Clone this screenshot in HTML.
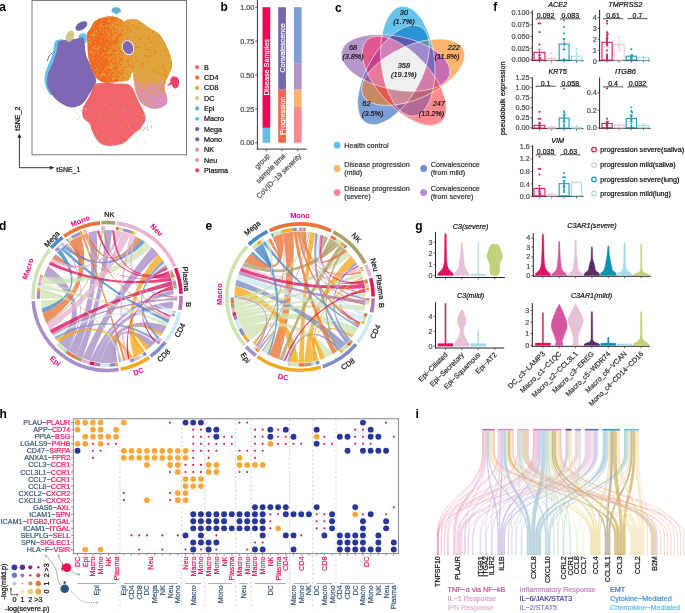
<!DOCTYPE html>
<html><head><meta charset="utf-8"><style>
html,body{margin:0;padding:0;background:#fff;width:685px;height:613px;overflow:hidden}
svg{display:block;will-change:transform}
text{font-family:"Liberation Sans", sans-serif}
</style></head><body>
<svg width="685" height="613" viewBox="0 0 685 613" font-family="Liberation Sans, sans-serif">
<text x="-0.80" y="10.70" font-size="12" fill="#000" font-weight="bold">a</text>
<rect x="32" y="0.5" width="154.5" height="154.3" fill="none" stroke="#7a7a7a" stroke-width="1"/>
<path d="M111.5,10.2 C111.7,9.5 112.3,8.5 113.0,8.0 C113.7,7.5 114.7,7.3 115.5,7.2 C116.3,7.1 117.2,7.2 118.0,7.6 C118.8,8.0 120.0,8.8 120.5,9.5 C121.0,10.2 121.3,10.9 121.0,11.5 C120.7,12.1 119.2,12.3 118.5,12.8 C117.8,13.3 117.2,14.3 116.5,14.3 C115.8,14.3 115.2,13.4 114.5,13.0 C113.8,12.6 112.5,12.5 112.0,12.0 C111.5,11.5 111.3,10.9 111.5,10.2Z" fill="#5BB1CE"/>
<ellipse cx="81.4" cy="26" rx="6.6" ry="3.9" transform="rotate(-32 81.4 26)" fill="#6A64AA"/>
<path d="M47.2,61 Q48.5,55 52.6,52.4" stroke="#6A64AA" stroke-width="1" fill="none"/>
<path d="M78.5,36.0 C79.0,34.9 82.2,33.1 83.5,33.0 C84.8,32.9 86.0,34.0 86.5,35.5 C87.0,37.0 86.9,40.8 86.5,42.0 C86.1,43.2 85.0,43.4 84.0,43.0 C83.0,42.6 81.4,40.7 80.5,39.5 C79.6,38.3 78.0,37.1 78.5,36.0Z" fill="#62C2EA"/>
<path d="M55.0,41.5 C56.1,39.8 58.6,39.8 60.0,39.5 C61.4,39.2 63.2,39.2 63.5,40.0 C63.8,40.8 62.8,42.8 62.0,44.5 C61.2,46.2 59.6,47.8 58.5,50.0 C57.4,52.2 56.5,55.3 55.5,58.0 C54.5,60.7 53.4,63.3 52.5,66.0 C51.6,68.7 50.5,71.5 50.0,74.0 C49.5,76.5 49.4,78.8 49.5,81.0 C49.6,83.2 49.9,85.0 50.5,87.0 C51.1,89.0 53.0,91.7 53.0,93.0 C53.0,94.3 51.6,95.8 50.5,95.0 C49.4,94.2 47.5,90.8 46.5,88.5 C45.5,86.2 44.9,83.4 44.6,81.0 C44.4,78.6 44.5,76.5 45.0,74.0 C45.5,71.5 46.8,68.7 47.8,66.0 C48.8,63.3 50.3,60.7 51.2,58.0 C52.1,55.3 52.8,52.8 53.4,50.0 C54.0,47.2 53.9,43.2 55.0,41.5Z" fill="#62C2EA"/>
<path d="M58.0,42.6 C58.8,41.0 60.5,41.1 62.0,40.6 C63.5,40.1 65.0,39.9 67.0,39.6 C69.0,39.3 72.2,39.2 74.0,39.0 C75.8,38.8 76.5,38.5 78.0,38.2 C79.5,38.0 81.9,36.7 83.0,37.5 C84.1,38.3 84.1,40.6 84.5,43.0 C84.9,45.4 85.0,49.3 85.5,52.0 C86.0,54.7 86.6,56.7 87.5,59.0 C88.4,61.3 89.9,63.7 91.0,66.0 C92.1,68.3 93.2,70.8 94.0,73.0 C94.8,75.2 95.8,77.5 96.0,79.5 C96.2,81.5 96.0,82.8 95.0,85.0 C94.0,87.2 91.7,90.3 90.0,93.0 C88.3,95.7 86.7,98.9 85.0,101.0 C83.3,103.1 81.8,104.4 79.6,105.5 C77.4,106.6 74.6,107.5 72.0,107.4 C69.4,107.3 66.7,106.3 64.0,105.0 C61.3,103.7 58.2,101.6 56.0,99.6 C53.8,97.6 52.4,95.2 51.0,93.0 C49.6,90.8 48.2,88.8 47.5,86.6 C46.8,84.4 46.9,82.2 47.0,80.0 C47.1,77.8 47.2,76.1 48.0,73.7 C48.8,71.3 50.4,68.4 51.5,65.7 C52.6,63.0 53.6,60.3 54.5,57.7 C55.4,55.1 56.4,52.5 57.0,50.0 C57.6,47.5 57.2,44.2 58.0,42.6Z" fill="#7D68B3"/>
<ellipse cx="70" cy="36.2" rx="3.9" ry="5.8" transform="rotate(22 70 36.2)" fill="#D3CC88"/>
<clipPath id="cdclip"><path d="M90.2,29.1 C91.3,27.2 92.6,23.8 93.7,22.3 C94.8,20.8 96.0,20.7 97.1,20.0 C98.2,19.3 98.3,18.9 100.4,18.3 C102.5,17.7 107.0,16.5 109.6,16.3 C112.2,16.1 114.1,16.4 116.1,17.0 C118.0,17.6 120.0,18.9 121.3,19.6 C122.6,20.4 122.9,21.5 124.0,21.5 C125.1,21.5 126.4,20.0 127.9,19.6 C129.4,19.2 131.6,18.9 133.1,18.9 C134.6,18.9 135.5,19.0 137.0,19.6 C138.5,20.2 140.2,21.5 142.2,22.8 C144.1,24.1 146.5,26.0 148.7,27.4 C150.9,28.8 153.3,30.0 155.3,31.3 C157.3,32.6 159.0,33.5 160.5,35.2 C162.0,37.0 163.1,39.4 164.4,41.8 C165.7,44.2 167.1,46.6 168.3,49.6 C169.5,52.6 170.8,56.9 171.4,59.6 C172.0,62.4 172.2,63.9 172.0,66.1 C171.8,68.3 170.8,70.6 170.0,72.6 C169.2,74.6 168.2,75.9 167.4,77.9 C166.6,79.9 165.5,82.5 165.0,84.4 C164.5,86.4 164.2,87.6 164.5,89.6 C164.8,91.5 166.4,94.1 166.8,96.1 C167.2,98.1 167.5,99.9 167.2,101.4 C166.9,102.9 166.1,104.2 164.8,105.3 C163.5,106.4 161.6,107.4 159.6,107.9 C157.6,108.4 155.0,108.6 153.1,108.5 C151.2,108.4 149.7,108.0 147.9,107.2 C146.2,106.5 144.1,105.4 142.6,104.0 C141.1,102.6 139.8,100.7 138.7,98.7 C137.6,96.7 136.8,94.6 136.1,92.2 C135.4,89.8 134.9,86.6 134.5,84.4 C134.1,82.2 134.0,81.0 133.8,79.2 C133.6,77.5 133.7,75.1 133.5,73.9 C133.3,72.7 133.0,71.7 132.6,71.8 C132.2,71.9 131.8,73.3 131.3,74.5 C130.8,75.7 130.5,78.1 129.6,79.2 C128.7,80.3 127.7,80.7 125.7,81.1 C123.7,81.5 120.4,81.5 117.8,81.8 C115.2,82.1 112.3,82.7 110.0,82.8 C107.7,82.9 106.0,82.8 104.0,82.2 C102.0,81.6 99.9,80.8 98.2,79.4 C96.5,78.0 95.0,76.0 93.7,73.7 C92.4,71.4 91.2,68.9 90.2,65.7 C89.2,62.5 88.5,58.1 88.0,54.3 C87.5,50.5 87.6,46.2 87.4,42.8 C87.2,39.4 86.5,36.0 87.0,33.7 C87.5,31.4 89.1,31.0 90.2,29.1Z"/></clipPath>
<linearGradient id="cdgrad" gradientUnits="userSpaceOnUse" x1="104" y1="0" x2="132" y2="0"><stop offset="0" stop-color="#F06B1F"/><stop offset="0.5" stop-color="#E98A2E"/><stop offset="1" stop-color="#DFA53B"/></linearGradient>
<path d="M90.2,29.1 C91.3,27.2 92.6,23.8 93.7,22.3 C94.8,20.8 96.0,20.7 97.1,20.0 C98.2,19.3 98.3,18.9 100.4,18.3 C102.5,17.7 107.0,16.5 109.6,16.3 C112.2,16.1 114.1,16.4 116.1,17.0 C118.0,17.6 120.0,18.9 121.3,19.6 C122.6,20.4 122.9,21.5 124.0,21.5 C125.1,21.5 126.4,20.0 127.9,19.6 C129.4,19.2 131.6,18.9 133.1,18.9 C134.6,18.9 135.5,19.0 137.0,19.6 C138.5,20.2 140.2,21.5 142.2,22.8 C144.1,24.1 146.5,26.0 148.7,27.4 C150.9,28.8 153.3,30.0 155.3,31.3 C157.3,32.6 159.0,33.5 160.5,35.2 C162.0,37.0 163.1,39.4 164.4,41.8 C165.7,44.2 167.1,46.6 168.3,49.6 C169.5,52.6 170.8,56.9 171.4,59.6 C172.0,62.4 172.2,63.9 172.0,66.1 C171.8,68.3 170.8,70.6 170.0,72.6 C169.2,74.6 168.2,75.9 167.4,77.9 C166.6,79.9 165.5,82.5 165.0,84.4 C164.5,86.4 164.2,87.6 164.5,89.6 C164.8,91.5 166.4,94.1 166.8,96.1 C167.2,98.1 167.5,99.9 167.2,101.4 C166.9,102.9 166.1,104.2 164.8,105.3 C163.5,106.4 161.6,107.4 159.6,107.9 C157.6,108.4 155.0,108.6 153.1,108.5 C151.2,108.4 149.7,108.0 147.9,107.2 C146.2,106.5 144.1,105.4 142.6,104.0 C141.1,102.6 139.8,100.7 138.7,98.7 C137.6,96.7 136.8,94.6 136.1,92.2 C135.4,89.8 134.9,86.6 134.5,84.4 C134.1,82.2 134.0,81.0 133.8,79.2 C133.6,77.5 133.7,75.1 133.5,73.9 C133.3,72.7 133.0,71.7 132.6,71.8 C132.2,71.9 131.8,73.3 131.3,74.5 C130.8,75.7 130.5,78.1 129.6,79.2 C128.7,80.3 127.7,80.7 125.7,81.1 C123.7,81.5 120.4,81.5 117.8,81.8 C115.2,82.1 112.3,82.7 110.0,82.8 C107.7,82.9 106.0,82.8 104.0,82.2 C102.0,81.6 99.9,80.8 98.2,79.4 C96.5,78.0 95.0,76.0 93.7,73.7 C92.4,71.4 91.2,68.9 90.2,65.7 C89.2,62.5 88.5,58.1 88.0,54.3 C87.5,50.5 87.6,46.2 87.4,42.8 C87.2,39.4 86.5,36.0 87.0,33.7 C87.5,31.4 89.1,31.0 90.2,29.1Z" fill="url(#cdgrad)"/>
<g clip-path="url(#cdclip)">
<path d="M104.3,61.3h1.2v1.2h-1.2zM155.8,71.2h1.0v1.0h-1.0zM116.1,79.3h1.2v1.2h-1.2zM166.6,54.5h1.4v1.4h-1.4zM94.7,74.8h1.4v1.4h-1.4zM96.5,46.6h1.4v1.4h-1.4zM129.6,106.9h1.4v1.4h-1.4zM144.3,43.8h1.4v1.4h-1.4zM89.0,38.1h1.2v1.2h-1.2zM101.1,67.1h1.4v1.4h-1.4zM100.7,36.6h1.0v1.0h-1.0zM115.9,95.5h1.2v1.2h-1.2zM97.2,88.9h1.0v1.0h-1.0zM90.9,97.7h1.4v1.4h-1.4zM86.1,66.3h1.4v1.4h-1.4zM100.6,39.2h1.0v1.0h-1.0zM155.3,39.5h1.2v1.2h-1.2zM123.1,94.1h1.4v1.4h-1.4zM91.1,43.4h1.0v1.0h-1.0zM112.7,96.6h1.2v1.2h-1.2zM86.7,98.5h1.0v1.0h-1.0zM103.5,46.1h1.4v1.4h-1.4zM115.6,42.7h1.4v1.4h-1.4zM95.1,18.7h1.0v1.0h-1.0zM111.7,65.8h1.0v1.0h-1.0zM88.4,89.8h1.2v1.2h-1.2zM104.7,73.7h1.4v1.4h-1.4zM112.7,38.4h1.0v1.0h-1.0zM93.8,86.6h1.0v1.0h-1.0zM142.0,104.4h1.2v1.2h-1.2zM89.6,32.7h1.4v1.4h-1.4zM112.3,46.8h1.4v1.4h-1.4zM107.2,21.9h1.4v1.4h-1.4zM153.7,46.2h1.4v1.4h-1.4zM101.1,88.7h1.0v1.0h-1.0zM113.8,25.2h1.4v1.4h-1.4zM140.2,78.9h1.4v1.4h-1.4zM108.5,93.7h1.2v1.2h-1.2zM132.0,62.6h1.4v1.4h-1.4zM115.3,73.1h1.4v1.4h-1.4zM109.9,76.4h1.0v1.0h-1.0zM112.1,67.5h1.0v1.0h-1.0zM150.1,71.5h1.0v1.0h-1.0zM123.1,104.5h1.4v1.4h-1.4zM90.5,79.8h1.4v1.4h-1.4zM119.4,95.3h1.4v1.4h-1.4zM89.5,108.2h1.2v1.2h-1.2zM109.3,101.7h1.0v1.0h-1.0zM124.7,102.8h1.2v1.2h-1.2zM119.3,42.0h1.0v1.0h-1.0zM88.1,69.1h1.0v1.0h-1.0zM115.5,84.5h1.4v1.4h-1.4zM172.6,75.4h1.4v1.4h-1.4zM131.0,104.1h1.4v1.4h-1.4zM112.6,31.2h1.4v1.4h-1.4zM103.2,65.0h1.4v1.4h-1.4zM87.8,83.5h1.0v1.0h-1.0zM156.9,72.5h1.2v1.2h-1.2zM100.3,82.5h1.0v1.0h-1.0zM92.5,93.9h1.4v1.4h-1.4zM102.5,74.5h1.0v1.0h-1.0zM98.0,83.0h1.2v1.2h-1.2zM129.0,65.2h1.4v1.4h-1.4zM104.6,22.5h1.0v1.0h-1.0zM111.0,33.6h1.0v1.0h-1.0zM98.6,78.2h1.0v1.0h-1.0zM108.1,22.6h1.4v1.4h-1.4zM97.2,103.7h1.0v1.0h-1.0zM102.5,62.5h1.0v1.0h-1.0zM114.7,40.5h1.2v1.2h-1.2zM91.3,48.6h1.2v1.2h-1.2zM170.9,29.3h1.0v1.0h-1.0zM160.1,20.0h1.0v1.0h-1.0zM130.6,62.6h1.0v1.0h-1.0zM89.5,65.5h1.2v1.2h-1.2zM97.0,21.2h1.2v1.2h-1.2zM109.7,86.1h1.4v1.4h-1.4zM147.2,85.9h1.2v1.2h-1.2zM107.8,36.0h1.0v1.0h-1.0zM102.1,54.1h1.4v1.4h-1.4zM95.3,39.9h1.4v1.4h-1.4zM101.1,96.9h1.0v1.0h-1.0zM103.4,61.9h1.0v1.0h-1.0zM86.7,65.5h1.2v1.2h-1.2zM128.4,53.4h1.4v1.4h-1.4zM96.4,43.8h1.4v1.4h-1.4zM86.8,55.3h1.4v1.4h-1.4zM118.0,53.2h1.4v1.4h-1.4zM144.3,100.4h1.0v1.0h-1.0zM119.4,59.1h1.2v1.2h-1.2zM172.6,92.3h1.2v1.2h-1.2zM115.2,101.8h1.0v1.0h-1.0zM88.3,39.1h1.2v1.2h-1.2zM94.6,76.7h1.0v1.0h-1.0zM93.8,73.1h1.0v1.0h-1.0zM132.5,47.9h1.4v1.4h-1.4zM95.0,67.5h1.2v1.2h-1.2zM127.7,90.4h1.0v1.0h-1.0zM124.9,79.8h1.2v1.2h-1.2zM128.8,100.0h1.4v1.4h-1.4zM151.9,84.3h1.2v1.2h-1.2zM108.3,53.7h1.4v1.4h-1.4zM109.2,35.4h1.2v1.2h-1.2zM107.0,31.7h1.0v1.0h-1.0zM114.4,80.6h1.4v1.4h-1.4zM114.7,27.2h1.0v1.0h-1.0zM150.6,41.6h1.4v1.4h-1.4zM94.0,109.9h1.2v1.2h-1.2zM124.8,27.6h1.0v1.0h-1.0zM98.3,98.5h1.0v1.0h-1.0zM155.7,87.9h1.2v1.2h-1.2zM99.9,95.7h1.2v1.2h-1.2zM144.0,90.9h1.4v1.4h-1.4zM135.4,107.0h1.2v1.2h-1.2zM89.5,81.9h1.2v1.2h-1.2zM116.1,77.5h1.0v1.0h-1.0zM96.6,70.4h1.2v1.2h-1.2zM105.8,38.6h1.2v1.2h-1.2zM120.7,26.4h1.2v1.2h-1.2zM118.8,62.7h1.2v1.2h-1.2zM99.4,64.8h1.0v1.0h-1.0zM87.6,52.7h1.4v1.4h-1.4zM86.5,91.4h1.2v1.2h-1.2zM89.5,64.0h1.0v1.0h-1.0zM120.6,59.2h1.4v1.4h-1.4zM119.7,68.2h1.4v1.4h-1.4zM137.8,108.7h1.4v1.4h-1.4zM103.5,92.6h1.2v1.2h-1.2zM108.6,41.6h1.0v1.0h-1.0zM140.1,84.4h1.2v1.2h-1.2zM126.7,29.2h1.0v1.0h-1.0zM105.7,21.7h1.4v1.4h-1.4zM103.3,55.8h1.0v1.0h-1.0zM105.6,82.4h1.2v1.2h-1.2zM90.5,89.2h1.0v1.0h-1.0zM100.6,78.7h1.4v1.4h-1.4zM157.6,66.2h1.2v1.2h-1.2zM94.2,79.4h1.0v1.0h-1.0zM102.5,63.4h1.4v1.4h-1.4zM106.2,77.6h1.4v1.4h-1.4zM158.6,31.8h1.0v1.0h-1.0zM120.8,63.6h1.4v1.4h-1.4zM120.3,101.0h1.2v1.2h-1.2zM112.5,86.1h1.0v1.0h-1.0zM134.3,109.7h1.0v1.0h-1.0zM92.5,100.1h1.0v1.0h-1.0zM130.3,93.0h1.2v1.2h-1.2zM107.5,90.1h1.2v1.2h-1.2zM94.6,83.6h1.0v1.0h-1.0zM112.2,98.0h1.0v1.0h-1.0zM92.5,45.0h1.2v1.2h-1.2zM97.6,57.0h1.2v1.2h-1.2zM89.2,109.0h1.2v1.2h-1.2zM140.8,65.0h1.0v1.0h-1.0zM103.2,25.9h1.0v1.0h-1.0zM90.8,106.4h1.2v1.2h-1.2zM171.4,18.1h1.2v1.2h-1.2zM89.5,36.9h1.0v1.0h-1.0zM127.2,17.2h1.0v1.0h-1.0zM143.3,69.9h1.4v1.4h-1.4zM113.0,72.4h1.0v1.0h-1.0zM146.9,102.9h1.4v1.4h-1.4zM98.6,96.9h1.0v1.0h-1.0zM106.2,106.4h1.4v1.4h-1.4zM117.8,42.9h1.2v1.2h-1.2zM170.7,92.0h1.0v1.0h-1.0zM133.7,41.2h1.0v1.0h-1.0zM161.7,86.1h1.4v1.4h-1.4zM144.5,55.2h1.4v1.4h-1.4zM91.8,15.9h1.4v1.4h-1.4zM103.4,43.1h1.4v1.4h-1.4zM163.3,32.4h1.2v1.2h-1.2zM112.5,91.6h1.0v1.0h-1.0zM93.8,34.0h1.0v1.0h-1.0zM96.4,34.2h1.4v1.4h-1.4zM110.9,39.0h1.2v1.2h-1.2zM117.1,87.6h1.4v1.4h-1.4zM107.3,93.9h1.2v1.2h-1.2zM124.0,41.3h1.2v1.2h-1.2zM110.1,59.9h1.0v1.0h-1.0zM133.8,99.2h1.0v1.0h-1.0zM89.0,19.5h1.0v1.0h-1.0zM150.0,49.8h1.2v1.2h-1.2zM117.3,19.7h1.2v1.2h-1.2zM113.1,63.5h1.4v1.4h-1.4zM97.6,34.8h1.0v1.0h-1.0zM102.0,89.4h1.0v1.0h-1.0zM163.4,67.4h1.0v1.0h-1.0zM113.7,85.4h1.4v1.4h-1.4zM143.3,96.6h1.0v1.0h-1.0zM108.0,44.1h1.2v1.2h-1.2zM94.2,48.9h1.4v1.4h-1.4zM107.5,85.4h1.0v1.0h-1.0zM127.0,61.0h1.2v1.2h-1.2zM116.7,37.6h1.4v1.4h-1.4zM97.7,103.4h1.0v1.0h-1.0zM142.9,63.4h1.2v1.2h-1.2zM96.7,39.9h1.0v1.0h-1.0zM101.7,101.6h1.4v1.4h-1.4zM106.4,82.1h1.2v1.2h-1.2zM109.8,98.4h1.0v1.0h-1.0zM90.7,59.5h1.2v1.2h-1.2zM130.2,30.6h1.4v1.4h-1.4zM113.8,48.2h1.0v1.0h-1.0zM105.6,92.0h1.0v1.0h-1.0zM90.6,29.4h1.2v1.2h-1.2zM96.7,45.3h1.2v1.2h-1.2zM121.5,29.6h1.4v1.4h-1.4zM124.0,66.5h1.4v1.4h-1.4zM136.9,27.3h1.0v1.0h-1.0zM146.3,71.3h1.0v1.0h-1.0zM93.8,65.6h1.4v1.4h-1.4zM104.2,82.3h1.2v1.2h-1.2zM109.2,64.3h1.0v1.0h-1.0zM156.8,88.3h1.0v1.0h-1.0zM114.9,57.3h1.4v1.4h-1.4zM98.6,37.8h1.0v1.0h-1.0zM106.5,88.3h1.2v1.2h-1.2zM97.2,102.4h1.2v1.2h-1.2zM116.4,94.9h1.0v1.0h-1.0zM96.8,105.3h1.0v1.0h-1.0zM91.8,90.7h1.4v1.4h-1.4zM105.0,101.4h1.2v1.2h-1.2zM91.5,29.0h1.0v1.0h-1.0zM108.5,94.7h1.4v1.4h-1.4zM98.1,62.7h1.0v1.0h-1.0zM114.3,50.3h1.4v1.4h-1.4zM132.8,88.1h1.4v1.4h-1.4zM94.5,45.6h1.4v1.4h-1.4zM99.1,97.2h1.0v1.0h-1.0zM141.4,93.2h1.2v1.2h-1.2zM122.1,104.4h1.4v1.4h-1.4zM91.2,21.4h1.2v1.2h-1.2zM104.9,39.5h1.4v1.4h-1.4zM108.8,90.3h1.2v1.2h-1.2zM115.1,38.6h1.2v1.2h-1.2zM101.5,49.1h1.4v1.4h-1.4zM127.7,55.1h1.4v1.4h-1.4zM95.3,89.3h1.0v1.0h-1.0zM132.8,39.7h1.4v1.4h-1.4zM88.1,77.8h1.0v1.0h-1.0zM136.7,27.3h1.4v1.4h-1.4zM126.9,49.0h1.2v1.2h-1.2zM104.9,105.9h1.2v1.2h-1.2zM114.1,43.7h1.0v1.0h-1.0zM107.0,30.3h1.2v1.2h-1.2zM104.8,90.1h1.4v1.4h-1.4zM116.4,42.3h1.0v1.0h-1.0zM164.8,74.2h1.4v1.4h-1.4zM105.8,60.1h1.4v1.4h-1.4zM86.8,28.1h1.0v1.0h-1.0zM113.9,69.8h1.4v1.4h-1.4zM113.7,18.9h1.2v1.2h-1.2zM89.0,67.8h1.4v1.4h-1.4zM105.5,27.1h1.4v1.4h-1.4zM172.4,68.8h1.2v1.2h-1.2zM100.5,80.3h1.4v1.4h-1.4zM107.2,86.2h1.0v1.0h-1.0zM108.2,42.2h1.0v1.0h-1.0zM89.2,44.5h1.4v1.4h-1.4zM148.4,47.1h1.2v1.2h-1.2zM106.7,106.9h1.2v1.2h-1.2zM89.5,45.4h1.2v1.2h-1.2zM89.5,95.1h1.2v1.2h-1.2zM88.1,59.9h1.4v1.4h-1.4zM100.1,55.9h1.4v1.4h-1.4zM121.9,60.7h1.2v1.2h-1.2zM117.2,66.7h1.4v1.4h-1.4zM147.7,52.0h1.2v1.2h-1.2zM101.0,24.0h1.4v1.4h-1.4zM124.1,47.2h1.2v1.2h-1.2zM99.1,20.0h1.2v1.2h-1.2zM91.9,71.3h1.2v1.2h-1.2zM170.4,28.8h1.4v1.4h-1.4zM140.4,65.5h1.2v1.2h-1.2zM106.3,73.6h1.4v1.4h-1.4zM120.8,61.5h1.4v1.4h-1.4zM137.9,47.1h1.2v1.2h-1.2zM93.1,73.0h1.0v1.0h-1.0zM91.7,32.4h1.0v1.0h-1.0zM121.0,66.5h1.2v1.2h-1.2zM162.9,89.7h1.4v1.4h-1.4zM120.2,108.8h1.4v1.4h-1.4zM108.2,15.8h1.0v1.0h-1.0zM166.4,95.0h1.2v1.2h-1.2zM116.2,19.8h1.2v1.2h-1.2zM114.4,96.3h1.4v1.4h-1.4zM110.5,44.0h1.4v1.4h-1.4zM99.5,25.8h1.2v1.2h-1.2zM104.4,102.6h1.0v1.0h-1.0zM111.7,63.9h1.0v1.0h-1.0zM106.0,84.9h1.2v1.2h-1.2zM95.4,53.5h1.0v1.0h-1.0zM109.7,94.6h1.2v1.2h-1.2zM115.8,101.4h1.0v1.0h-1.0zM108.6,101.3h1.0v1.0h-1.0zM86.4,52.3h1.4v1.4h-1.4zM99.3,70.8h1.2v1.2h-1.2zM120.3,24.4h1.4v1.4h-1.4zM112.0,30.2h1.2v1.2h-1.2zM115.1,29.2h1.2v1.2h-1.2zM124.4,77.4h1.2v1.2h-1.2zM89.5,90.5h1.4v1.4h-1.4zM93.3,46.8h1.4v1.4h-1.4zM100.4,18.7h1.2v1.2h-1.2zM122.5,52.5h1.2v1.2h-1.2zM111.9,20.1h1.0v1.0h-1.0zM86.9,62.8h1.0v1.0h-1.0zM115.6,39.4h1.4v1.4h-1.4zM92.3,89.1h1.4v1.4h-1.4zM105.3,73.1h1.4v1.4h-1.4zM108.4,107.4h1.0v1.0h-1.0zM109.1,69.9h1.2v1.2h-1.2zM105.0,96.7h1.4v1.4h-1.4zM95.2,41.2h1.4v1.4h-1.4zM160.6,73.7h1.2v1.2h-1.2zM92.6,61.9h1.2v1.2h-1.2zM89.5,47.0h1.0v1.0h-1.0zM165.0,55.2h1.2v1.2h-1.2zM120.1,99.4h1.0v1.0h-1.0zM100.0,47.0h1.2v1.2h-1.2zM138.9,25.7h1.0v1.0h-1.0zM94.3,48.0h1.4v1.4h-1.4zM153.0,30.8h1.4v1.4h-1.4zM107.7,27.5h1.2v1.2h-1.2zM104.7,103.6h1.4v1.4h-1.4zM97.1,83.2h1.4v1.4h-1.4zM152.6,27.4h1.0v1.0h-1.0zM100.0,54.6h1.2v1.2h-1.2zM92.3,29.4h1.0v1.0h-1.0zM147.0,29.0h1.2v1.2h-1.2zM172.3,86.4h1.4v1.4h-1.4zM135.3,56.2h1.4v1.4h-1.4zM96.2,99.0h1.4v1.4h-1.4zM105.5,79.2h1.2v1.2h-1.2zM135.3,32.4h1.0v1.0h-1.0zM105.7,55.3h1.0v1.0h-1.0zM142.2,78.3h1.2v1.2h-1.2zM89.1,95.5h1.0v1.0h-1.0zM89.3,53.9h1.2v1.2h-1.2zM100.7,33.7h1.4v1.4h-1.4zM133.3,90.2h1.4v1.4h-1.4zM87.6,32.3h1.2v1.2h-1.2zM162.7,97.1h1.0v1.0h-1.0zM99.2,89.2h1.4v1.4h-1.4zM88.9,41.4h1.2v1.2h-1.2zM116.4,99.0h1.0v1.0h-1.0zM86.7,36.8h1.0v1.0h-1.0zM100.1,99.1h1.2v1.2h-1.2zM114.6,68.2h1.2v1.2h-1.2zM147.4,56.0h1.2v1.2h-1.2zM100.4,73.7h1.2v1.2h-1.2zM107.9,52.2h1.2v1.2h-1.2zM134.6,69.1h1.0v1.0h-1.0zM91.5,83.7h1.2v1.2h-1.2zM106.7,82.4h1.4v1.4h-1.4zM108.3,107.4h1.2v1.2h-1.2zM89.7,20.9h1.4v1.4h-1.4zM86.8,59.6h1.0v1.0h-1.0zM104.3,59.0h1.0v1.0h-1.0zM92.4,43.6h1.4v1.4h-1.4zM148.7,92.4h1.2v1.2h-1.2zM160.1,59.0h1.0v1.0h-1.0zM87.2,40.5h1.2v1.2h-1.2zM104.7,20.9h1.4v1.4h-1.4zM89.9,88.7h1.4v1.4h-1.4zM97.7,82.2h1.2v1.2h-1.2zM105.0,109.2h1.0v1.0h-1.0zM136.2,60.0h1.2v1.2h-1.2zM111.0,109.3h1.0v1.0h-1.0zM123.5,85.2h1.2v1.2h-1.2zM95.6,20.5h1.4v1.4h-1.4zM110.7,74.6h1.2v1.2h-1.2zM109.8,102.4h1.4v1.4h-1.4zM88.4,107.0h1.0v1.0h-1.0zM88.8,53.9h1.4v1.4h-1.4zM117.5,71.3h1.2v1.2h-1.2zM94.8,104.5h1.4v1.4h-1.4zM93.4,61.0h1.4v1.4h-1.4zM139.1,86.0h1.4v1.4h-1.4zM99.5,52.1h1.4v1.4h-1.4zM137.6,79.6h1.2v1.2h-1.2zM99.3,72.1h1.4v1.4h-1.4zM104.1,96.5h1.2v1.2h-1.2zM143.6,48.8h1.4v1.4h-1.4zM115.0,102.7h1.0v1.0h-1.0zM90.9,53.7h1.4v1.4h-1.4zM103.6,97.4h1.0v1.0h-1.0zM89.8,30.1h1.0v1.0h-1.0zM102.7,22.4h1.2v1.2h-1.2zM157.8,43.3h1.0v1.0h-1.0zM98.1,93.6h1.4v1.4h-1.4zM118.1,34.9h1.4v1.4h-1.4zM103.4,85.1h1.4v1.4h-1.4zM117.7,36.6h1.0v1.0h-1.0zM114.8,53.7h1.2v1.2h-1.2zM171.5,44.4h1.2v1.2h-1.2zM106.2,17.7h1.0v1.0h-1.0zM87.3,84.2h1.0v1.0h-1.0zM91.4,37.9h1.0v1.0h-1.0zM151.0,53.1h1.2v1.2h-1.2zM93.2,105.9h1.4v1.4h-1.4zM150.7,46.3h1.2v1.2h-1.2zM87.0,96.2h1.2v1.2h-1.2zM109.8,78.6h1.4v1.4h-1.4zM90.5,45.2h1.4v1.4h-1.4zM170.6,21.0h1.2v1.2h-1.2zM97.8,75.1h1.0v1.0h-1.0zM90.0,48.8h1.4v1.4h-1.4zM97.6,60.4h1.4v1.4h-1.4zM108.0,106.3h1.2v1.2h-1.2zM111.6,91.5h1.2v1.2h-1.2zM92.1,67.6h1.4v1.4h-1.4zM105.2,16.0h1.4v1.4h-1.4zM93.0,40.0h1.4v1.4h-1.4zM89.2,22.6h1.0v1.0h-1.0zM123.6,97.2h1.2v1.2h-1.2zM156.9,39.5h1.2v1.2h-1.2zM163.3,102.3h1.0v1.0h-1.0zM99.0,61.1h1.0v1.0h-1.0zM116.0,76.5h1.4v1.4h-1.4zM104.0,105.1h1.4v1.4h-1.4zM110.0,79.3h1.2v1.2h-1.2zM90.8,24.9h1.2v1.2h-1.2zM146.3,109.6h1.0v1.0h-1.0zM92.0,40.5h1.2v1.2h-1.2zM114.7,79.3h1.4v1.4h-1.4zM122.3,52.5h1.2v1.2h-1.2zM97.6,72.4h1.2v1.2h-1.2zM88.4,37.8h1.4v1.4h-1.4zM98.7,37.5h1.0v1.0h-1.0zM158.4,35.2h1.4v1.4h-1.4zM160.2,25.3h1.4v1.4h-1.4zM97.2,64.5h1.4v1.4h-1.4zM133.6,38.9h1.0v1.0h-1.0zM129.5,66.0h1.0v1.0h-1.0zM110.3,60.0h1.4v1.4h-1.4zM102.3,19.1h1.4v1.4h-1.4zM101.7,99.6h1.2v1.2h-1.2zM106.1,90.1h1.4v1.4h-1.4zM100.3,74.1h1.2v1.2h-1.2zM92.8,29.2h1.0v1.0h-1.0zM111.0,27.1h1.4v1.4h-1.4zM167.2,36.8h1.2v1.2h-1.2zM122.5,25.9h1.0v1.0h-1.0zM113.2,50.1h1.0v1.0h-1.0zM162.9,74.8h1.0v1.0h-1.0zM107.2,43.6h1.4v1.4h-1.4zM120.3,35.2h1.2v1.2h-1.2zM156.3,75.0h1.0v1.0h-1.0zM110.7,107.4h1.0v1.0h-1.0zM113.6,68.0h1.0v1.0h-1.0zM121.1,20.1h1.0v1.0h-1.0zM135.1,36.1h1.2v1.2h-1.2zM121.7,86.5h1.4v1.4h-1.4zM98.8,47.2h1.0v1.0h-1.0zM131.9,55.3h1.0v1.0h-1.0zM87.0,91.6h1.0v1.0h-1.0zM94.6,40.9h1.0v1.0h-1.0zM102.0,57.3h1.2v1.2h-1.2zM89.4,78.7h1.2v1.2h-1.2zM116.2,92.4h1.4v1.4h-1.4zM95.0,40.6h1.2v1.2h-1.2zM94.0,52.3h1.4v1.4h-1.4zM111.4,72.5h1.0v1.0h-1.0zM146.9,60.8h1.4v1.4h-1.4zM91.6,98.9h1.0v1.0h-1.0zM107.8,75.2h1.4v1.4h-1.4zM115.0,51.4h1.0v1.0h-1.0zM125.2,46.1h1.2v1.2h-1.2zM91.6,109.2h1.2v1.2h-1.2zM86.4,78.0h1.0v1.0h-1.0zM120.1,77.3h1.0v1.0h-1.0zM91.4,96.7h1.4v1.4h-1.4zM109.3,89.6h1.2v1.2h-1.2zM109.7,72.5h1.2v1.2h-1.2zM154.2,50.2h1.2v1.2h-1.2zM100.0,43.5h1.2v1.2h-1.2zM102.5,108.9h1.2v1.2h-1.2zM91.0,29.0h1.2v1.2h-1.2zM148.3,37.3h1.2v1.2h-1.2zM96.7,22.0h1.2v1.2h-1.2zM130.6,72.1h1.0v1.0h-1.0zM95.2,75.4h1.4v1.4h-1.4zM130.2,105.5h1.2v1.2h-1.2zM88.9,52.4h1.2v1.2h-1.2zM167.3,77.6h1.4v1.4h-1.4zM133.0,79.3h1.4v1.4h-1.4zM113.2,36.6h1.2v1.2h-1.2zM114.7,69.9h1.0v1.0h-1.0zM107.8,16.2h1.2v1.2h-1.2zM170.1,25.7h1.2v1.2h-1.2zM119.6,64.2h1.4v1.4h-1.4zM128.0,22.8h1.0v1.0h-1.0zM91.3,33.7h1.2v1.2h-1.2zM90.2,33.3h1.2v1.2h-1.2zM164.1,42.1h1.0v1.0h-1.0zM90.5,72.6h1.2v1.2h-1.2zM106.9,104.9h1.4v1.4h-1.4zM164.5,74.8h1.2v1.2h-1.2zM107.2,61.0h1.2v1.2h-1.2zM112.9,105.6h1.0v1.0h-1.0zM107.0,99.2h1.4v1.4h-1.4zM157.8,16.4h1.2v1.2h-1.2zM103.9,102.5h1.2v1.2h-1.2zM126.6,41.7h1.2v1.2h-1.2zM116.7,19.0h1.4v1.4h-1.4zM101.6,89.0h1.2v1.2h-1.2zM123.1,52.8h1.2v1.2h-1.2zM97.5,19.2h1.4v1.4h-1.4zM122.0,80.0h1.4v1.4h-1.4zM91.4,52.3h1.2v1.2h-1.2zM106.4,53.4h1.0v1.0h-1.0zM106.2,62.2h1.2v1.2h-1.2zM165.5,44.8h1.0v1.0h-1.0zM118.4,49.4h1.0v1.0h-1.0zM119.4,82.9h1.0v1.0h-1.0zM97.1,37.8h1.0v1.0h-1.0zM92.2,106.6h1.4v1.4h-1.4zM89.9,26.0h1.0v1.0h-1.0zM120.2,92.9h1.2v1.2h-1.2zM117.2,17.0h1.4v1.4h-1.4zM99.0,70.3h1.0v1.0h-1.0zM128.6,104.6h1.4v1.4h-1.4zM114.1,39.9h1.0v1.0h-1.0zM97.4,107.3h1.2v1.2h-1.2zM153.5,63.4h1.2v1.2h-1.2zM159.7,109.6h1.0v1.0h-1.0zM169.6,83.9h1.4v1.4h-1.4zM139.8,69.2h1.4v1.4h-1.4zM94.3,26.4h1.4v1.4h-1.4zM95.8,107.2h1.2v1.2h-1.2zM125.2,25.6h1.0v1.0h-1.0zM107.9,63.9h1.2v1.2h-1.2zM99.3,68.8h1.0v1.0h-1.0zM108.3,85.1h1.4v1.4h-1.4zM91.9,26.6h1.2v1.2h-1.2zM89.7,52.8h1.2v1.2h-1.2zM129.4,34.9h1.4v1.4h-1.4zM123.8,91.0h1.0v1.0h-1.0zM102.4,50.7h1.2v1.2h-1.2zM112.2,42.8h1.4v1.4h-1.4zM111.6,61.3h1.0v1.0h-1.0zM153.7,86.5h1.2v1.2h-1.2zM115.8,38.3h1.0v1.0h-1.0zM94.2,29.7h1.2v1.2h-1.2zM169.5,15.8h1.4v1.4h-1.4zM169.7,54.0h1.2v1.2h-1.2zM111.9,100.1h1.2v1.2h-1.2zM161.9,30.2h1.4v1.4h-1.4zM108.9,101.4h1.4v1.4h-1.4zM150.0,55.3h1.2v1.2h-1.2zM112.7,30.0h1.4v1.4h-1.4zM118.9,99.0h1.4v1.4h-1.4zM87.9,40.0h1.0v1.0h-1.0zM93.2,35.4h1.4v1.4h-1.4zM165.9,90.0h1.4v1.4h-1.4zM160.9,92.2h1.4v1.4h-1.4zM106.9,50.3h1.4v1.4h-1.4zM120.7,93.0h1.4v1.4h-1.4zM109.8,68.8h1.2v1.2h-1.2zM126.0,59.7h1.0v1.0h-1.0zM145.5,97.9h1.2v1.2h-1.2zM106.7,51.6h1.4v1.4h-1.4zM93.4,52.4h1.0v1.0h-1.0zM96.7,77.4h1.0v1.0h-1.0zM114.7,63.1h1.0v1.0h-1.0zM102.3,104.6h1.2v1.2h-1.2zM97.3,96.2h1.4v1.4h-1.4zM106.6,78.1h1.4v1.4h-1.4zM154.5,20.0h1.2v1.2h-1.2zM160.9,81.9h1.0v1.0h-1.0zM116.8,96.0h1.0v1.0h-1.0zM102.7,100.6h1.4v1.4h-1.4zM91.2,98.5h1.4v1.4h-1.4zM106.9,25.3h1.2v1.2h-1.2zM88.8,96.2h1.4v1.4h-1.4zM90.0,73.9h1.0v1.0h-1.0zM103.6,107.8h1.2v1.2h-1.2zM87.1,15.1h1.0v1.0h-1.0zM111.1,84.8h1.4v1.4h-1.4zM154.6,51.5h1.4v1.4h-1.4zM95.2,100.0h1.0v1.0h-1.0zM97.0,65.5h1.0v1.0h-1.0zM96.6,76.4h1.2v1.2h-1.2zM168.2,55.2h1.4v1.4h-1.4zM100.6,69.7h1.2v1.2h-1.2zM147.3,72.7h1.2v1.2h-1.2zM121.4,95.3h1.2v1.2h-1.2zM122.1,85.7h1.0v1.0h-1.0zM95.7,74.4h1.0v1.0h-1.0zM86.4,18.2h1.4v1.4h-1.4zM87.6,66.0h1.4v1.4h-1.4zM105.6,79.1h1.2v1.2h-1.2zM91.4,20.2h1.2v1.2h-1.2zM110.4,89.5h1.2v1.2h-1.2zM98.4,108.6h1.2v1.2h-1.2zM94.2,96.1h1.0v1.0h-1.0zM113.0,98.6h1.2v1.2h-1.2zM109.1,47.4h1.4v1.4h-1.4zM99.5,37.0h1.4v1.4h-1.4zM140.8,36.9h1.2v1.2h-1.2zM115.7,83.6h1.0v1.0h-1.0zM158.3,71.7h1.0v1.0h-1.0zM113.7,52.2h1.0v1.0h-1.0zM96.4,105.1h1.0v1.0h-1.0zM110.7,108.0h1.4v1.4h-1.4zM164.5,64.8h1.0v1.0h-1.0zM147.3,90.6h1.2v1.2h-1.2zM98.9,100.5h1.0v1.0h-1.0zM105.8,71.2h1.2v1.2h-1.2zM169.5,78.6h1.4v1.4h-1.4zM164.6,69.8h1.4v1.4h-1.4zM117.8,87.5h1.2v1.2h-1.2zM92.6,90.1h1.0v1.0h-1.0zM104.0,81.7h1.4v1.4h-1.4zM90.5,19.9h1.4v1.4h-1.4zM92.4,46.2h1.0v1.0h-1.0zM126.6,84.3h1.2v1.2h-1.2zM102.0,22.7h1.4v1.4h-1.4zM160.3,20.8h1.2v1.2h-1.2zM157.7,109.8h1.4v1.4h-1.4zM101.2,74.7h1.2v1.2h-1.2zM101.5,33.2h1.0v1.0h-1.0zM117.7,23.2h1.4v1.4h-1.4zM117.0,109.1h1.0v1.0h-1.0zM124.3,100.6h1.4v1.4h-1.4zM161.6,67.4h1.0v1.0h-1.0zM113.1,105.1h1.2v1.2h-1.2zM93.2,44.1h1.2v1.2h-1.2zM119.9,63.4h1.4v1.4h-1.4zM117.0,94.3h1.0v1.0h-1.0zM92.0,52.4h1.0v1.0h-1.0zM121.4,103.6h1.0v1.0h-1.0zM145.2,54.4h1.0v1.0h-1.0zM111.3,58.2h1.0v1.0h-1.0zM115.1,101.4h1.4v1.4h-1.4zM103.8,30.3h1.0v1.0h-1.0zM88.8,31.0h1.4v1.4h-1.4zM98.3,15.3h1.0v1.0h-1.0zM142.0,71.2h1.0v1.0h-1.0zM151.5,88.7h1.2v1.2h-1.2zM107.5,31.4h1.0v1.0h-1.0zM118.4,65.7h1.0v1.0h-1.0zM154.4,48.5h1.2v1.2h-1.2zM100.3,69.9h1.2v1.2h-1.2zM91.7,100.8h1.2v1.2h-1.2zM147.3,109.9h1.4v1.4h-1.4zM96.6,60.2h1.4v1.4h-1.4zM96.6,64.4h1.4v1.4h-1.4zM96.8,108.1h1.0v1.0h-1.0zM116.9,80.1h1.4v1.4h-1.4zM101.3,87.8h1.4v1.4h-1.4zM158.0,28.6h1.4v1.4h-1.4zM98.6,35.5h1.0v1.0h-1.0zM117.2,31.5h1.0v1.0h-1.0zM99.5,105.1h1.4v1.4h-1.4zM90.5,102.8h1.4v1.4h-1.4zM139.3,23.3h1.0v1.0h-1.0zM89.8,17.8h1.0v1.0h-1.0zM97.8,82.4h1.0v1.0h-1.0zM164.6,49.1h1.2v1.2h-1.2zM98.5,26.8h1.2v1.2h-1.2zM117.7,106.1h1.0v1.0h-1.0zM90.3,27.3h1.4v1.4h-1.4zM132.3,21.8h1.2v1.2h-1.2zM108.4,80.4h1.2v1.2h-1.2zM154.9,81.5h1.2v1.2h-1.2zM94.7,64.4h1.0v1.0h-1.0zM94.5,46.7h1.4v1.4h-1.4zM92.0,92.6h1.2v1.2h-1.2zM88.6,84.5h1.4v1.4h-1.4zM114.7,95.5h1.0v1.0h-1.0zM112.3,53.6h1.4v1.4h-1.4zM128.9,103.9h1.0v1.0h-1.0zM89.9,80.3h1.4v1.4h-1.4zM118.1,96.4h1.4v1.4h-1.4zM89.7,82.8h1.4v1.4h-1.4zM141.9,63.0h1.4v1.4h-1.4zM110.0,51.2h1.0v1.0h-1.0zM113.0,74.9h1.2v1.2h-1.2zM106.5,109.4h1.0v1.0h-1.0zM91.7,104.4h1.4v1.4h-1.4zM118.8,49.7h1.4v1.4h-1.4zM92.7,58.6h1.2v1.2h-1.2zM114.9,89.0h1.0v1.0h-1.0zM123.6,44.4h1.0v1.0h-1.0zM104.0,47.2h1.2v1.2h-1.2zM120.2,72.8h1.4v1.4h-1.4zM106.2,76.1h1.2v1.2h-1.2zM100.2,35.1h1.0v1.0h-1.0zM138.0,16.3h1.4v1.4h-1.4zM121.4,57.5h1.4v1.4h-1.4zM101.6,19.3h1.0v1.0h-1.0zM104.8,31.6h1.0v1.0h-1.0zM169.8,46.6h1.4v1.4h-1.4zM131.2,93.6h1.2v1.2h-1.2zM167.7,87.1h1.4v1.4h-1.4zM86.9,67.2h1.0v1.0h-1.0zM117.2,90.2h1.4v1.4h-1.4zM102.0,108.0h1.0v1.0h-1.0zM119.9,32.9h1.4v1.4h-1.4zM102.9,74.4h1.0v1.0h-1.0zM100.7,80.1h1.2v1.2h-1.2zM108.4,64.4h1.0v1.0h-1.0zM89.0,86.2h1.0v1.0h-1.0zM114.0,53.9h1.2v1.2h-1.2zM101.3,81.1h1.2v1.2h-1.2zM117.8,96.3h1.2v1.2h-1.2zM101.1,50.0h1.2v1.2h-1.2zM88.6,92.9h1.4v1.4h-1.4zM133.0,26.6h1.4v1.4h-1.4zM89.3,96.7h1.0v1.0h-1.0zM118.2,55.3h1.2v1.2h-1.2zM110.9,41.6h1.4v1.4h-1.4zM108.1,108.6h1.0v1.0h-1.0zM104.9,29.1h1.4v1.4h-1.4zM107.9,87.6h1.2v1.2h-1.2zM99.4,15.9h1.2v1.2h-1.2zM101.1,18.3h1.2v1.2h-1.2zM151.8,32.5h1.0v1.0h-1.0zM101.0,91.3h1.2v1.2h-1.2zM161.4,85.1h1.2v1.2h-1.2zM92.8,95.3h1.2v1.2h-1.2zM116.3,50.3h1.2v1.2h-1.2zM98.1,87.6h1.4v1.4h-1.4zM106.8,40.0h1.0v1.0h-1.0zM92.7,33.1h1.2v1.2h-1.2zM141.1,97.6h1.4v1.4h-1.4zM112.5,81.6h1.4v1.4h-1.4zM114.1,67.5h1.2v1.2h-1.2zM93.8,33.1h1.2v1.2h-1.2zM119.6,101.3h1.4v1.4h-1.4zM87.7,109.8h1.4v1.4h-1.4zM154.4,35.9h1.2v1.2h-1.2zM107.5,90.8h1.0v1.0h-1.0zM92.9,68.5h1.2v1.2h-1.2zM116.8,93.3h1.4v1.4h-1.4zM103.3,41.9h1.2v1.2h-1.2zM108.1,44.0h1.0v1.0h-1.0zM88.5,89.0h1.2v1.2h-1.2zM138.1,94.0h1.4v1.4h-1.4zM87.2,109.6h1.4v1.4h-1.4zM102.0,100.8h1.2v1.2h-1.2zM93.8,35.0h1.4v1.4h-1.4zM147.9,24.1h1.2v1.2h-1.2zM134.2,85.6h1.0v1.0h-1.0zM147.9,18.3h1.2v1.2h-1.2zM114.8,61.3h1.0v1.0h-1.0zM104.5,53.4h1.2v1.2h-1.2zM87.5,57.6h1.4v1.4h-1.4zM100.8,31.6h1.4v1.4h-1.4zM134.0,74.2h1.0v1.0h-1.0zM120.0,18.5h1.2v1.2h-1.2zM94.4,20.9h1.2v1.2h-1.2zM119.3,107.9h1.4v1.4h-1.4zM92.1,94.7h1.2v1.2h-1.2zM133.5,27.1h1.4v1.4h-1.4zM103.5,68.2h1.0v1.0h-1.0zM119.8,51.0h1.4v1.4h-1.4zM136.0,84.4h1.2v1.2h-1.2zM117.3,80.7h1.0v1.0h-1.0zM87.5,92.1h1.4v1.4h-1.4zM122.3,77.0h1.0v1.0h-1.0zM88.0,33.0h1.0v1.0h-1.0zM86.0,101.5h1.0v1.0h-1.0zM106.4,28.4h1.0v1.0h-1.0zM108.2,68.3h1.4v1.4h-1.4zM115.4,95.2h1.2v1.2h-1.2zM158.2,101.0h1.4v1.4h-1.4zM94.7,46.8h1.0v1.0h-1.0zM107.1,83.3h1.0v1.0h-1.0zM101.0,92.0h1.4v1.4h-1.4zM113.2,60.9h1.4v1.4h-1.4zM129.2,104.8h1.2v1.2h-1.2zM96.8,70.4h1.0v1.0h-1.0zM91.9,28.0h1.4v1.4h-1.4zM98.8,32.8h1.2v1.2h-1.2zM140.0,27.2h1.0v1.0h-1.0zM111.3,17.1h1.2v1.2h-1.2zM132.0,66.5h1.4v1.4h-1.4zM128.1,59.6h1.2v1.2h-1.2zM129.2,57.4h1.4v1.4h-1.4zM103.0,68.7h1.2v1.2h-1.2zM110.3,18.5h1.2v1.2h-1.2zM93.0,87.0h1.0v1.0h-1.0zM88.0,29.4h1.0v1.0h-1.0zM110.0,52.0h1.0v1.0h-1.0zM118.7,21.9h1.4v1.4h-1.4zM111.7,43.4h1.0v1.0h-1.0zM117.2,36.1h1.4v1.4h-1.4zM90.0,75.3h1.4v1.4h-1.4zM171.7,39.1h1.4v1.4h-1.4zM120.3,21.7h1.4v1.4h-1.4zM101.9,61.7h1.2v1.2h-1.2zM103.6,30.9h1.0v1.0h-1.0zM117.9,87.1h1.0v1.0h-1.0zM104.7,74.3h1.0v1.0h-1.0zM91.7,76.0h1.0v1.0h-1.0zM98.6,20.4h1.4v1.4h-1.4zM105.2,69.3h1.0v1.0h-1.0zM110.4,103.2h1.2v1.2h-1.2zM110.2,106.3h1.0v1.0h-1.0zM110.7,51.5h1.4v1.4h-1.4zM90.4,29.8h1.0v1.0h-1.0zM101.0,97.2h1.0v1.0h-1.0zM89.4,19.3h1.2v1.2h-1.2zM88.0,88.7h1.4v1.4h-1.4zM103.6,78.3h1.0v1.0h-1.0zM86.4,47.6h1.0v1.0h-1.0zM110.0,31.6h1.4v1.4h-1.4zM144.7,79.6h1.4v1.4h-1.4zM171.6,81.5h1.2v1.2h-1.2zM120.0,77.1h1.0v1.0h-1.0zM96.1,88.8h1.4v1.4h-1.4zM104.2,74.4h1.2v1.2h-1.2zM107.2,18.0h1.2v1.2h-1.2zM93.4,18.3h1.0v1.0h-1.0zM94.4,42.4h1.2v1.2h-1.2zM94.4,84.0h1.4v1.4h-1.4zM169.3,33.0h1.0v1.0h-1.0zM120.4,58.3h1.0v1.0h-1.0zM87.5,90.0h1.2v1.2h-1.2zM110.6,69.1h1.4v1.4h-1.4zM87.6,102.2h1.4v1.4h-1.4zM99.3,101.4h1.2v1.2h-1.2zM106.8,23.7h1.0v1.0h-1.0zM108.6,46.7h1.0v1.0h-1.0zM147.0,48.9h1.4v1.4h-1.4zM119.3,90.9h1.4v1.4h-1.4zM118.6,47.9h1.0v1.0h-1.0zM114.8,66.8h1.0v1.0h-1.0zM108.3,77.3h1.4v1.4h-1.4zM153.1,68.0h1.4v1.4h-1.4zM102.4,30.6h1.4v1.4h-1.4zM87.4,55.4h1.0v1.0h-1.0zM100.2,20.0h1.2v1.2h-1.2zM116.4,56.1h1.4v1.4h-1.4zM90.4,27.7h1.0v1.0h-1.0zM87.0,88.4h1.0v1.0h-1.0zM133.6,74.6h1.4v1.4h-1.4zM116.5,34.4h1.0v1.0h-1.0zM168.6,19.0h1.0v1.0h-1.0zM169.5,90.0h1.0v1.0h-1.0zM121.5,99.8h1.4v1.4h-1.4zM133.7,101.8h1.0v1.0h-1.0zM114.2,108.2h1.4v1.4h-1.4zM91.7,86.7h1.2v1.2h-1.2zM148.4,99.6h1.4v1.4h-1.4zM108.3,96.3h1.4v1.4h-1.4zM157.6,67.8h1.0v1.0h-1.0zM112.9,89.8h1.0v1.0h-1.0zM144.4,63.1h1.4v1.4h-1.4zM104.1,77.4h1.0v1.0h-1.0zM88.0,64.3h1.0v1.0h-1.0zM127.2,39.6h1.2v1.2h-1.2zM151.6,53.9h1.2v1.2h-1.2zM96.6,50.4h1.0v1.0h-1.0zM92.5,25.4h1.2v1.2h-1.2zM156.9,44.2h1.4v1.4h-1.4zM90.5,102.1h1.2v1.2h-1.2zM114.3,76.1h1.0v1.0h-1.0zM155.5,77.0h1.4v1.4h-1.4zM130.7,104.8h1.4v1.4h-1.4zM105.5,108.5h1.2v1.2h-1.2zM118.0,84.7h1.4v1.4h-1.4zM122.2,59.4h1.4v1.4h-1.4zM129.3,36.1h1.2v1.2h-1.2zM96.8,32.0h1.4v1.4h-1.4zM90.7,92.1h1.0v1.0h-1.0zM130.8,78.0h1.4v1.4h-1.4zM91.2,79.4h1.4v1.4h-1.4zM115.6,71.1h1.2v1.2h-1.2zM166.2,104.0h1.0v1.0h-1.0zM106.8,19.7h1.2v1.2h-1.2zM122.7,96.0h1.4v1.4h-1.4zM106.5,106.8h1.0v1.0h-1.0zM90.0,101.4h1.4v1.4h-1.4zM97.7,74.0h1.4v1.4h-1.4zM160.6,30.8h1.0v1.0h-1.0zM92.6,96.9h1.0v1.0h-1.0zM107.0,39.1h1.4v1.4h-1.4zM147.5,38.6h1.0v1.0h-1.0zM98.6,38.2h1.0v1.0h-1.0zM106.0,92.1h1.4v1.4h-1.4zM98.4,48.2h1.2v1.2h-1.2zM123.8,45.5h1.4v1.4h-1.4zM141.6,105.8h1.2v1.2h-1.2zM105.7,19.6h1.4v1.4h-1.4zM95.0,61.3h1.0v1.0h-1.0zM87.4,33.1h1.2v1.2h-1.2zM104.5,95.7h1.0v1.0h-1.0zM126.0,37.1h1.4v1.4h-1.4zM126.5,71.6h1.0v1.0h-1.0zM100.6,63.7h1.2v1.2h-1.2zM104.8,57.9h1.4v1.4h-1.4zM106.1,94.8h1.0v1.0h-1.0zM88.8,56.6h1.2v1.2h-1.2zM86.6,109.5h1.2v1.2h-1.2zM119.9,35.0h1.0v1.0h-1.0zM91.3,78.5h1.2v1.2h-1.2zM92.1,73.4h1.0v1.0h-1.0zM91.6,64.1h1.4v1.4h-1.4zM131.3,63.6h1.4v1.4h-1.4zM123.1,88.5h1.0v1.0h-1.0zM157.2,63.9h1.2v1.2h-1.2zM91.5,24.5h1.2v1.2h-1.2zM91.5,18.2h1.0v1.0h-1.0zM114.0,79.9h1.2v1.2h-1.2zM96.6,59.4h1.2v1.2h-1.2zM116.7,55.6h1.2v1.2h-1.2zM120.5,69.7h1.0v1.0h-1.0zM133.7,94.1h1.0v1.0h-1.0zM103.8,38.9h1.2v1.2h-1.2zM154.6,32.0h1.0v1.0h-1.0zM105.6,16.7h1.4v1.4h-1.4zM105.8,95.7h1.4v1.4h-1.4zM125.9,85.7h1.2v1.2h-1.2zM95.7,47.6h1.0v1.0h-1.0zM117.8,93.1h1.4v1.4h-1.4zM95.2,77.7h1.4v1.4h-1.4zM100.3,74.6h1.2v1.2h-1.2zM92.3,50.0h1.4v1.4h-1.4zM116.4,60.0h1.2v1.2h-1.2zM93.7,58.3h1.4v1.4h-1.4zM114.4,77.6h1.4v1.4h-1.4zM114.9,41.5h1.4v1.4h-1.4zM105.8,77.9h1.0v1.0h-1.0zM91.7,70.1h1.4v1.4h-1.4zM172.5,43.3h1.0v1.0h-1.0zM103.4,58.3h1.2v1.2h-1.2zM109.8,28.1h1.2v1.2h-1.2zM100.0,40.4h1.0v1.0h-1.0zM143.9,29.6h1.0v1.0h-1.0zM110.1,74.6h1.0v1.0h-1.0zM103.5,22.1h1.2v1.2h-1.2zM168.1,43.7h1.4v1.4h-1.4zM116.7,74.6h1.0v1.0h-1.0zM138.6,38.3h1.4v1.4h-1.4zM132.2,68.3h1.4v1.4h-1.4zM97.4,35.6h1.0v1.0h-1.0zM116.1,27.6h1.2v1.2h-1.2zM102.7,66.6h1.0v1.0h-1.0zM111.1,35.6h1.2v1.2h-1.2zM87.6,108.8h1.2v1.2h-1.2zM106.7,62.7h1.0v1.0h-1.0zM101.2,89.4h1.4v1.4h-1.4zM128.1,74.9h1.4v1.4h-1.4zM133.2,24.1h1.2v1.2h-1.2zM103.4,60.7h1.4v1.4h-1.4zM97.9,108.4h1.0v1.0h-1.0zM92.1,53.6h1.4v1.4h-1.4zM100.6,79.4h1.2v1.2h-1.2zM99.5,77.0h1.2v1.2h-1.2zM141.5,75.1h1.0v1.0h-1.0zM88.1,40.0h1.2v1.2h-1.2zM101.9,80.4h1.2v1.2h-1.2zM110.5,88.2h1.0v1.0h-1.0zM92.2,65.7h1.2v1.2h-1.2zM163.3,64.0h1.4v1.4h-1.4zM98.2,72.1h1.0v1.0h-1.0zM100.6,38.9h1.4v1.4h-1.4zM160.7,103.1h1.4v1.4h-1.4zM149.1,36.5h1.2v1.2h-1.2zM89.7,93.6h1.2v1.2h-1.2zM94.6,70.6h1.0v1.0h-1.0zM109.8,96.9h1.4v1.4h-1.4zM90.5,34.6h1.0v1.0h-1.0zM90.1,48.1h1.2v1.2h-1.2zM113.9,61.8h1.0v1.0h-1.0zM102.9,92.1h1.0v1.0h-1.0zM107.1,17.4h1.2v1.2h-1.2zM111.0,53.2h1.2v1.2h-1.2zM101.9,31.5h1.2v1.2h-1.2zM166.5,24.6h1.4v1.4h-1.4zM123.0,71.5h1.0v1.0h-1.0zM87.0,71.3h1.0v1.0h-1.0zM95.7,85.7h1.2v1.2h-1.2zM92.3,100.6h1.0v1.0h-1.0zM122.8,109.0h1.2v1.2h-1.2zM126.8,74.0h1.2v1.2h-1.2zM116.5,89.5h1.0v1.0h-1.0zM103.1,35.5h1.0v1.0h-1.0zM133.4,66.0h1.0v1.0h-1.0zM94.6,20.0h1.0v1.0h-1.0zM112.7,57.8h1.2v1.2h-1.2zM86.6,16.2h1.2v1.2h-1.2zM169.9,104.7h1.4v1.4h-1.4zM111.9,53.6h1.2v1.2h-1.2zM119.8,84.9h1.4v1.4h-1.4zM102.7,22.1h1.2v1.2h-1.2zM87.9,34.9h1.2v1.2h-1.2zM130.4,57.7h1.2v1.2h-1.2zM109.2,52.3h1.0v1.0h-1.0zM93.0,95.5h1.0v1.0h-1.0zM127.8,62.8h1.2v1.2h-1.2zM88.4,46.5h1.2v1.2h-1.2zM98.0,15.0h1.4v1.4h-1.4zM151.1,66.4h1.0v1.0h-1.0zM92.0,58.5h1.4v1.4h-1.4zM106.7,60.1h1.0v1.0h-1.0zM101.3,85.3h1.0v1.0h-1.0zM113.6,86.3h1.4v1.4h-1.4zM95.2,88.2h1.0v1.0h-1.0zM98.8,105.2h1.4v1.4h-1.4zM92.1,81.9h1.2v1.2h-1.2zM122.3,69.3h1.4v1.4h-1.4zM90.4,32.2h1.0v1.0h-1.0zM118.7,58.7h1.4v1.4h-1.4zM159.0,80.9h1.2v1.2h-1.2zM135.4,47.3h1.2v1.2h-1.2zM89.2,97.8h1.0v1.0h-1.0zM106.9,63.2h1.2v1.2h-1.2zM90.7,76.1h1.4v1.4h-1.4zM105.7,62.4h1.2v1.2h-1.2zM104.1,109.1h1.0v1.0h-1.0zM163.2,26.6h1.4v1.4h-1.4zM105.5,96.9h1.0v1.0h-1.0zM161.9,98.1h1.4v1.4h-1.4zM105.6,47.1h1.2v1.2h-1.2zM121.0,34.2h1.4v1.4h-1.4zM118.9,72.3h1.2v1.2h-1.2zM101.0,56.7h1.2v1.2h-1.2zM101.2,77.8h1.0v1.0h-1.0zM169.9,51.4h1.0v1.0h-1.0zM93.4,66.3h1.4v1.4h-1.4zM104.4,27.6h1.0v1.0h-1.0zM115.3,32.4h1.0v1.0h-1.0zM86.4,44.7h1.0v1.0h-1.0zM112.7,87.2h1.4v1.4h-1.4zM117.0,24.2h1.4v1.4h-1.4zM86.4,53.6h1.0v1.0h-1.0zM107.9,73.4h1.2v1.2h-1.2zM112.4,82.2h1.4v1.4h-1.4zM112.9,57.6h1.4v1.4h-1.4zM103.7,105.9h1.0v1.0h-1.0zM96.5,102.7h1.2v1.2h-1.2zM127.3,26.2h1.2v1.2h-1.2zM111.2,101.7h1.4v1.4h-1.4zM97.7,85.1h1.4v1.4h-1.4zM103.5,108.7h1.2v1.2h-1.2zM102.5,73.8h1.0v1.0h-1.0zM130.3,59.1h1.4v1.4h-1.4zM154.9,78.9h1.2v1.2h-1.2zM104.8,15.6h1.0v1.0h-1.0zM98.7,103.6h1.0v1.0h-1.0zM147.3,26.0h1.4v1.4h-1.4zM104.4,69.0h1.0v1.0h-1.0zM136.8,92.3h1.0v1.0h-1.0zM156.6,17.9h1.2v1.2h-1.2zM101.2,27.7h1.2v1.2h-1.2zM106.6,49.2h1.2v1.2h-1.2zM145.6,47.1h1.2v1.2h-1.2zM121.9,17.4h1.2v1.2h-1.2zM97.6,55.9h1.0v1.0h-1.0zM133.4,62.4h1.0v1.0h-1.0zM131.4,99.8h1.4v1.4h-1.4zM107.7,89.5h1.4v1.4h-1.4zM167.1,80.2h1.2v1.2h-1.2zM99.5,94.6h1.2v1.2h-1.2zM110.3,54.6h1.4v1.4h-1.4zM96.6,41.4h1.4v1.4h-1.4zM86.7,30.2h1.2v1.2h-1.2zM111.5,43.3h1.2v1.2h-1.2zM92.6,41.1h1.2v1.2h-1.2zM130.8,30.9h1.4v1.4h-1.4zM123.5,91.3h1.4v1.4h-1.4zM96.1,54.9h1.4v1.4h-1.4zM106.5,50.2h1.4v1.4h-1.4zM98.7,49.7h1.0v1.0h-1.0zM167.5,33.5h1.2v1.2h-1.2zM119.2,31.6h1.4v1.4h-1.4zM96.1,25.6h1.2v1.2h-1.2zM146.3,57.5h1.4v1.4h-1.4zM100.6,40.9h1.4v1.4h-1.4zM109.0,80.5h1.0v1.0h-1.0zM108.3,28.0h1.0v1.0h-1.0zM111.2,92.7h1.4v1.4h-1.4zM105.8,49.1h1.4v1.4h-1.4zM90.9,97.8h1.4v1.4h-1.4zM103.5,78.8h1.2v1.2h-1.2zM152.0,27.1h1.0v1.0h-1.0zM105.3,106.2h1.4v1.4h-1.4zM102.2,96.6h1.0v1.0h-1.0zM104.7,71.9h1.4v1.4h-1.4zM153.1,70.6h1.4v1.4h-1.4zM98.9,101.3h1.2v1.2h-1.2zM101.5,51.4h1.4v1.4h-1.4zM151.0,20.1h1.2v1.2h-1.2zM93.2,75.2h1.0v1.0h-1.0zM157.8,17.9h1.4v1.4h-1.4zM93.5,43.8h1.0v1.0h-1.0zM115.5,85.9h1.2v1.2h-1.2zM105.3,57.9h1.0v1.0h-1.0zM147.1,93.0h1.4v1.4h-1.4zM162.8,26.0h1.4v1.4h-1.4zM155.1,100.8h1.4v1.4h-1.4zM97.3,93.5h1.4v1.4h-1.4zM124.6,105.5h1.2v1.2h-1.2zM99.3,64.0h1.4v1.4h-1.4zM124.4,109.6h1.2v1.2h-1.2zM87.4,65.5h1.2v1.2h-1.2zM155.5,78.2h1.0v1.0h-1.0zM134.7,37.8h1.0v1.0h-1.0zM159.9,29.2h1.0v1.0h-1.0zM95.6,35.8h1.4v1.4h-1.4zM94.6,32.0h1.0v1.0h-1.0zM113.2,18.2h1.4v1.4h-1.4zM92.9,89.7h1.2v1.2h-1.2zM128.0,64.5h1.2v1.2h-1.2zM93.2,48.0h1.4v1.4h-1.4zM97.6,57.6h1.2v1.2h-1.2zM94.9,100.2h1.0v1.0h-1.0zM89.9,106.6h1.4v1.4h-1.4zM96.1,45.5h1.2v1.2h-1.2zM125.4,32.3h1.2v1.2h-1.2zM108.4,107.2h1.2v1.2h-1.2zM115.6,40.9h1.0v1.0h-1.0zM92.3,86.4h1.4v1.4h-1.4zM149.4,91.3h1.0v1.0h-1.0zM151.4,41.6h1.2v1.2h-1.2zM122.8,73.2h1.4v1.4h-1.4zM91.0,109.3h1.4v1.4h-1.4zM96.6,89.0h1.0v1.0h-1.0zM106.0,49.4h1.0v1.0h-1.0zM112.4,102.7h1.2v1.2h-1.2zM153.0,74.9h1.0v1.0h-1.0zM93.3,99.2h1.2v1.2h-1.2zM114.2,63.0h1.2v1.2h-1.2zM91.9,91.1h1.2v1.2h-1.2zM136.5,34.1h1.4v1.4h-1.4zM117.1,81.3h1.0v1.0h-1.0zM119.9,102.1h1.4v1.4h-1.4zM96.7,92.4h1.0v1.0h-1.0zM101.6,41.7h1.4v1.4h-1.4zM112.1,39.3h1.2v1.2h-1.2zM92.1,36.7h1.2v1.2h-1.2zM94.1,56.3h1.4v1.4h-1.4zM97.4,73.1h1.0v1.0h-1.0zM157.9,94.9h1.2v1.2h-1.2zM146.9,96.3h1.4v1.4h-1.4zM86.4,104.0h1.4v1.4h-1.4zM152.9,109.9h1.2v1.2h-1.2zM117.5,53.2h1.0v1.0h-1.0zM127.4,92.7h1.2v1.2h-1.2zM164.7,108.6h1.2v1.2h-1.2zM115.0,65.3h1.0v1.0h-1.0zM105.8,84.8h1.2v1.2h-1.2zM99.1,75.1h1.2v1.2h-1.2zM89.7,75.9h1.0v1.0h-1.0zM111.0,74.7h1.0v1.0h-1.0zM100.4,37.6h1.2v1.2h-1.2zM128.6,29.3h1.2v1.2h-1.2zM125.3,27.0h1.2v1.2h-1.2zM160.8,54.6h1.4v1.4h-1.4zM106.7,50.8h1.4v1.4h-1.4zM105.6,90.3h1.4v1.4h-1.4zM129.1,92.7h1.2v1.2h-1.2zM96.9,25.9h1.4v1.4h-1.4zM104.2,104.0h1.2v1.2h-1.2zM131.5,83.8h1.4v1.4h-1.4zM168.8,77.3h1.4v1.4h-1.4z" fill="#F4641C"/>
<path d="M97.7,95.5h1.0v1.0h-1.0zM129.1,57.7h1.4v1.4h-1.4zM152.3,15.2h1.2v1.2h-1.2zM88.7,17.4h1.4v1.4h-1.4zM162.7,80.2h1.2v1.2h-1.2zM131.9,87.6h1.2v1.2h-1.2zM129.4,104.4h1.2v1.2h-1.2zM150.2,23.2h1.4v1.4h-1.4zM153.7,64.5h1.2v1.2h-1.2zM149.8,59.6h1.2v1.2h-1.2zM171.5,71.4h1.2v1.2h-1.2zM132.9,96.7h1.0v1.0h-1.0zM109.4,67.1h1.4v1.4h-1.4zM154.2,92.9h1.4v1.4h-1.4zM167.9,54.3h1.2v1.2h-1.2zM138.2,91.4h1.4v1.4h-1.4zM136.8,96.8h1.4v1.4h-1.4zM157.0,39.3h1.4v1.4h-1.4zM161.5,58.0h1.2v1.2h-1.2zM95.5,74.4h1.2v1.2h-1.2zM142.4,43.0h1.4v1.4h-1.4zM127.2,17.2h1.2v1.2h-1.2zM130.4,34.9h1.4v1.4h-1.4zM170.9,36.4h1.2v1.2h-1.2zM148.5,30.2h1.4v1.4h-1.4zM130.9,36.2h1.4v1.4h-1.4zM144.7,91.3h1.4v1.4h-1.4zM111.9,30.0h1.4v1.4h-1.4zM104.9,100.6h1.2v1.2h-1.2zM161.5,107.5h1.4v1.4h-1.4zM89.3,34.0h1.0v1.0h-1.0zM144.7,56.1h1.0v1.0h-1.0zM167.6,52.1h1.4v1.4h-1.4zM114.3,97.8h1.2v1.2h-1.2zM115.5,35.2h1.4v1.4h-1.4zM119.0,67.0h1.4v1.4h-1.4zM152.8,65.6h1.0v1.0h-1.0zM93.4,31.1h1.4v1.4h-1.4zM152.0,72.0h1.2v1.2h-1.2zM148.2,61.4h1.4v1.4h-1.4zM172.2,29.0h1.0v1.0h-1.0zM139.5,89.3h1.2v1.2h-1.2zM133.9,68.8h1.2v1.2h-1.2zM110.1,89.8h1.2v1.2h-1.2zM144.3,23.7h1.0v1.0h-1.0zM154.7,32.9h1.4v1.4h-1.4zM96.1,30.9h1.0v1.0h-1.0zM159.5,56.3h1.2v1.2h-1.2zM133.2,92.7h1.4v1.4h-1.4zM127.5,24.5h1.4v1.4h-1.4zM113.9,52.2h1.2v1.2h-1.2zM165.5,107.1h1.2v1.2h-1.2zM126.8,48.8h1.0v1.0h-1.0zM156.3,23.7h1.0v1.0h-1.0zM149.4,17.0h1.0v1.0h-1.0zM154.9,61.9h1.0v1.0h-1.0zM138.4,27.0h1.0v1.0h-1.0zM165.2,18.0h1.2v1.2h-1.2zM150.9,80.5h1.0v1.0h-1.0zM132.8,19.6h1.4v1.4h-1.4zM153.7,79.8h1.2v1.2h-1.2zM133.8,66.4h1.4v1.4h-1.4zM120.4,47.2h1.2v1.2h-1.2zM155.0,103.6h1.4v1.4h-1.4zM146.2,70.1h1.4v1.4h-1.4zM101.0,23.5h1.2v1.2h-1.2zM166.9,75.7h1.0v1.0h-1.0zM129.1,60.5h1.0v1.0h-1.0zM152.4,76.3h1.2v1.2h-1.2zM152.6,98.9h1.2v1.2h-1.2zM169.5,69.3h1.0v1.0h-1.0zM139.7,106.8h1.4v1.4h-1.4zM164.6,52.7h1.2v1.2h-1.2zM140.1,61.4h1.0v1.0h-1.0zM138.3,53.8h1.0v1.0h-1.0zM110.2,51.0h1.4v1.4h-1.4zM102.5,56.7h1.0v1.0h-1.0zM170.7,38.0h1.2v1.2h-1.2zM110.8,66.5h1.2v1.2h-1.2zM151.9,94.1h1.2v1.2h-1.2zM156.4,107.5h1.4v1.4h-1.4zM122.5,26.6h1.0v1.0h-1.0zM170.0,87.3h1.4v1.4h-1.4zM129.5,69.4h1.2v1.2h-1.2zM144.9,87.1h1.2v1.2h-1.2zM124.5,57.7h1.2v1.2h-1.2zM142.3,50.9h1.0v1.0h-1.0zM158.2,63.5h1.2v1.2h-1.2zM123.1,53.5h1.4v1.4h-1.4zM149.8,100.3h1.4v1.4h-1.4zM171.9,38.5h1.4v1.4h-1.4zM167.5,89.3h1.0v1.0h-1.0zM155.5,54.1h1.4v1.4h-1.4zM99.2,94.1h1.2v1.2h-1.2zM130.4,40.7h1.0v1.0h-1.0zM122.8,48.7h1.4v1.4h-1.4zM121.0,80.4h1.4v1.4h-1.4zM131.9,37.5h1.2v1.2h-1.2zM126.7,68.0h1.0v1.0h-1.0zM142.8,82.8h1.4v1.4h-1.4zM139.0,37.1h1.4v1.4h-1.4zM128.1,39.7h1.4v1.4h-1.4zM105.3,106.6h1.4v1.4h-1.4zM143.5,95.9h1.4v1.4h-1.4zM166.7,103.6h1.0v1.0h-1.0zM136.4,70.2h1.4v1.4h-1.4zM168.3,58.6h1.0v1.0h-1.0zM120.9,26.0h1.0v1.0h-1.0zM112.6,25.1h1.2v1.2h-1.2zM166.8,105.8h1.0v1.0h-1.0zM138.0,99.4h1.0v1.0h-1.0zM139.3,47.5h1.2v1.2h-1.2zM146.3,24.0h1.2v1.2h-1.2zM125.1,86.3h1.0v1.0h-1.0zM110.7,67.0h1.2v1.2h-1.2zM148.2,46.4h1.4v1.4h-1.4zM160.6,45.4h1.2v1.2h-1.2zM152.0,29.5h1.0v1.0h-1.0zM164.8,18.4h1.0v1.0h-1.0zM145.7,95.3h1.4v1.4h-1.4zM107.1,20.7h1.4v1.4h-1.4zM123.3,81.3h1.4v1.4h-1.4zM147.9,66.0h1.4v1.4h-1.4zM109.2,73.0h1.0v1.0h-1.0zM163.9,87.5h1.2v1.2h-1.2zM131.6,23.6h1.2v1.2h-1.2zM89.0,51.5h1.4v1.4h-1.4zM150.0,39.7h1.2v1.2h-1.2zM160.5,43.9h1.2v1.2h-1.2zM129.7,34.5h1.2v1.2h-1.2zM120.0,100.1h1.2v1.2h-1.2zM142.8,57.6h1.4v1.4h-1.4zM158.6,81.6h1.4v1.4h-1.4zM171.2,109.2h1.4v1.4h-1.4zM118.2,64.5h1.0v1.0h-1.0zM142.6,44.8h1.2v1.2h-1.2zM131.8,29.1h1.4v1.4h-1.4zM114.5,21.5h1.2v1.2h-1.2zM165.4,103.1h1.2v1.2h-1.2zM166.5,102.6h1.0v1.0h-1.0zM131.6,69.7h1.2v1.2h-1.2zM155.3,50.2h1.2v1.2h-1.2zM171.2,65.6h1.0v1.0h-1.0zM156.6,108.0h1.4v1.4h-1.4zM141.8,96.2h1.0v1.0h-1.0zM164.3,61.2h1.2v1.2h-1.2zM144.8,66.7h1.0v1.0h-1.0zM149.1,92.3h1.2v1.2h-1.2zM136.9,18.8h1.2v1.2h-1.2zM169.6,81.1h1.4v1.4h-1.4zM153.6,76.3h1.4v1.4h-1.4zM121.8,104.3h1.4v1.4h-1.4zM140.8,44.2h1.2v1.2h-1.2zM124.6,28.3h1.0v1.0h-1.0zM160.1,88.0h1.2v1.2h-1.2zM96.1,48.7h1.2v1.2h-1.2zM137.3,42.3h1.2v1.2h-1.2zM130.7,85.3h1.4v1.4h-1.4zM128.7,107.3h1.4v1.4h-1.4zM91.6,34.6h1.0v1.0h-1.0zM150.5,109.5h1.4v1.4h-1.4zM144.9,23.3h1.2v1.2h-1.2zM96.1,96.1h1.0v1.0h-1.0zM139.4,81.7h1.0v1.0h-1.0zM122.2,99.4h1.4v1.4h-1.4zM154.6,74.2h1.2v1.2h-1.2zM170.3,40.4h1.4v1.4h-1.4zM112.1,100.9h1.0v1.0h-1.0zM109.9,82.1h1.2v1.2h-1.2zM169.5,65.6h1.4v1.4h-1.4zM168.3,40.7h1.2v1.2h-1.2zM136.5,57.9h1.0v1.0h-1.0zM172.0,35.3h1.4v1.4h-1.4zM105.6,75.3h1.4v1.4h-1.4zM101.0,26.0h1.4v1.4h-1.4zM135.4,99.0h1.2v1.2h-1.2zM153.3,93.1h1.4v1.4h-1.4zM115.7,72.1h1.4v1.4h-1.4zM96.6,48.0h1.0v1.0h-1.0zM153.0,79.7h1.0v1.0h-1.0zM109.4,19.7h1.0v1.0h-1.0zM166.5,50.3h1.4v1.4h-1.4zM107.1,79.6h1.2v1.2h-1.2zM163.3,106.1h1.0v1.0h-1.0zM155.9,75.9h1.0v1.0h-1.0zM161.7,53.5h1.4v1.4h-1.4zM149.1,60.2h1.2v1.2h-1.2zM120.3,100.3h1.4v1.4h-1.4zM97.6,72.0h1.0v1.0h-1.0zM104.7,56.3h1.4v1.4h-1.4zM132.9,104.8h1.2v1.2h-1.2zM121.1,24.9h1.2v1.2h-1.2zM171.0,49.5h1.4v1.4h-1.4zM148.9,80.0h1.0v1.0h-1.0zM121.3,107.8h1.0v1.0h-1.0zM132.7,15.9h1.4v1.4h-1.4zM151.0,104.5h1.0v1.0h-1.0zM153.8,71.9h1.2v1.2h-1.2zM118.2,53.6h1.2v1.2h-1.2zM127.0,18.6h1.4v1.4h-1.4zM156.7,94.0h1.4v1.4h-1.4zM130.2,48.8h1.2v1.2h-1.2zM157.3,38.3h1.4v1.4h-1.4zM134.9,49.0h1.0v1.0h-1.0zM122.1,49.1h1.2v1.2h-1.2zM146.8,75.3h1.4v1.4h-1.4zM115.7,25.8h1.4v1.4h-1.4zM141.9,61.3h1.2v1.2h-1.2zM119.3,94.2h1.0v1.0h-1.0zM154.3,58.8h1.2v1.2h-1.2zM142.7,78.0h1.0v1.0h-1.0zM159.1,29.2h1.2v1.2h-1.2zM155.5,77.0h1.0v1.0h-1.0zM155.0,36.7h1.4v1.4h-1.4zM143.6,47.5h1.0v1.0h-1.0zM132.7,68.0h1.0v1.0h-1.0zM136.9,63.7h1.2v1.2h-1.2zM146.1,77.1h1.4v1.4h-1.4zM89.9,64.3h1.0v1.0h-1.0zM160.8,59.3h1.4v1.4h-1.4zM153.0,75.5h1.4v1.4h-1.4zM134.2,81.4h1.4v1.4h-1.4zM108.5,39.0h1.2v1.2h-1.2zM134.2,52.2h1.0v1.0h-1.0zM167.3,29.5h1.4v1.4h-1.4zM150.9,51.3h1.4v1.4h-1.4zM137.9,78.9h1.4v1.4h-1.4zM107.0,51.3h1.2v1.2h-1.2zM148.5,52.7h1.4v1.4h-1.4zM111.4,63.9h1.2v1.2h-1.2zM126.3,42.6h1.4v1.4h-1.4zM139.5,86.7h1.2v1.2h-1.2zM169.2,74.8h1.0v1.0h-1.0zM123.9,70.7h1.4v1.4h-1.4zM130.2,26.5h1.4v1.4h-1.4zM168.4,77.8h1.4v1.4h-1.4zM148.3,39.2h1.0v1.0h-1.0zM156.3,108.7h1.4v1.4h-1.4zM127.9,73.3h1.2v1.2h-1.2zM160.4,106.9h1.4v1.4h-1.4zM109.7,24.3h1.0v1.0h-1.0zM87.4,86.6h1.2v1.2h-1.2zM158.5,32.9h1.0v1.0h-1.0zM153.6,21.1h1.0v1.0h-1.0zM167.7,59.6h1.4v1.4h-1.4zM172.2,94.4h1.2v1.2h-1.2zM90.3,105.0h1.2v1.2h-1.2zM154.5,88.7h1.2v1.2h-1.2zM131.2,17.2h1.4v1.4h-1.4zM135.9,16.4h1.2v1.2h-1.2zM118.0,67.3h1.4v1.4h-1.4zM124.8,62.5h1.4v1.4h-1.4zM100.0,45.9h1.0v1.0h-1.0zM136.5,71.0h1.2v1.2h-1.2zM139.0,18.6h1.0v1.0h-1.0zM135.9,73.8h1.0v1.0h-1.0zM164.7,105.5h1.2v1.2h-1.2zM110.6,84.0h1.2v1.2h-1.2zM163.2,18.9h1.4v1.4h-1.4zM130.0,83.5h1.2v1.2h-1.2zM139.5,48.7h1.4v1.4h-1.4zM101.1,104.9h1.0v1.0h-1.0zM111.1,61.6h1.2v1.2h-1.2zM168.2,22.0h1.4v1.4h-1.4zM145.5,43.2h1.4v1.4h-1.4zM123.6,82.2h1.2v1.2h-1.2zM142.3,33.6h1.4v1.4h-1.4zM168.8,94.1h1.4v1.4h-1.4zM167.8,96.2h1.4v1.4h-1.4zM136.1,96.4h1.2v1.2h-1.2zM100.4,40.5h1.4v1.4h-1.4zM152.6,52.7h1.4v1.4h-1.4zM125.8,48.8h1.4v1.4h-1.4zM117.0,89.6h1.0v1.0h-1.0zM133.1,20.1h1.2v1.2h-1.2zM115.4,71.0h1.0v1.0h-1.0zM93.1,26.4h1.4v1.4h-1.4zM154.0,43.0h1.2v1.2h-1.2zM151.7,86.9h1.4v1.4h-1.4zM121.5,37.0h1.0v1.0h-1.0zM140.8,38.1h1.2v1.2h-1.2zM140.1,83.4h1.2v1.2h-1.2zM162.5,15.1h1.4v1.4h-1.4zM124.7,31.2h1.0v1.0h-1.0zM118.3,67.6h1.4v1.4h-1.4zM167.7,25.6h1.4v1.4h-1.4zM151.4,75.7h1.0v1.0h-1.0zM166.6,56.5h1.0v1.0h-1.0zM137.9,63.8h1.0v1.0h-1.0zM166.3,108.0h1.0v1.0h-1.0zM154.3,73.1h1.4v1.4h-1.4zM106.8,67.8h1.2v1.2h-1.2zM114.4,26.4h1.4v1.4h-1.4zM141.7,87.3h1.0v1.0h-1.0zM162.4,28.9h1.2v1.2h-1.2zM89.8,42.2h1.2v1.2h-1.2zM93.6,89.7h1.4v1.4h-1.4zM148.9,83.8h1.0v1.0h-1.0zM119.3,79.5h1.0v1.0h-1.0zM138.6,25.8h1.0v1.0h-1.0zM167.0,86.7h1.2v1.2h-1.2zM117.7,45.0h1.2v1.2h-1.2zM118.2,43.7h1.2v1.2h-1.2zM161.8,82.6h1.0v1.0h-1.0zM142.1,29.5h1.0v1.0h-1.0zM139.2,37.4h1.4v1.4h-1.4zM145.6,21.6h1.0v1.0h-1.0zM154.0,74.6h1.4v1.4h-1.4zM142.9,32.5h1.2v1.2h-1.2zM109.6,73.3h1.0v1.0h-1.0zM158.9,43.9h1.4v1.4h-1.4zM86.6,24.2h1.0v1.0h-1.0zM130.0,40.3h1.0v1.0h-1.0zM161.1,90.0h1.2v1.2h-1.2zM127.3,63.7h1.2v1.2h-1.2zM156.0,41.3h1.0v1.0h-1.0zM145.0,97.4h1.0v1.0h-1.0zM143.1,72.2h1.0v1.0h-1.0zM158.9,78.7h1.0v1.0h-1.0zM129.5,48.2h1.2v1.2h-1.2zM113.1,45.2h1.4v1.4h-1.4zM115.4,95.9h1.2v1.2h-1.2zM165.0,36.5h1.2v1.2h-1.2zM87.0,30.4h1.2v1.2h-1.2zM123.5,103.1h1.0v1.0h-1.0zM152.8,83.3h1.2v1.2h-1.2zM138.9,79.2h1.2v1.2h-1.2zM162.0,52.6h1.2v1.2h-1.2zM127.9,81.3h1.0v1.0h-1.0zM155.2,68.5h1.2v1.2h-1.2zM119.6,83.8h1.4v1.4h-1.4zM137.6,50.4h1.4v1.4h-1.4zM112.4,23.4h1.2v1.2h-1.2zM135.4,107.1h1.0v1.0h-1.0zM127.6,69.7h1.4v1.4h-1.4zM134.0,31.1h1.4v1.4h-1.4zM112.9,95.1h1.0v1.0h-1.0zM99.4,15.6h1.2v1.2h-1.2zM119.1,77.2h1.4v1.4h-1.4zM163.2,57.7h1.4v1.4h-1.4zM158.7,20.1h1.4v1.4h-1.4zM132.8,28.0h1.2v1.2h-1.2zM125.1,96.0h1.0v1.0h-1.0zM168.4,71.1h1.2v1.2h-1.2zM165.4,88.7h1.0v1.0h-1.0zM155.5,21.2h1.4v1.4h-1.4zM159.9,57.0h1.4v1.4h-1.4zM162.9,73.3h1.2v1.2h-1.2zM142.5,29.8h1.4v1.4h-1.4zM167.6,52.8h1.2v1.2h-1.2zM124.7,85.4h1.2v1.2h-1.2zM119.7,95.7h1.2v1.2h-1.2zM128.6,57.3h1.2v1.2h-1.2zM134.6,75.4h1.4v1.4h-1.4zM134.9,90.9h1.2v1.2h-1.2zM120.3,65.9h1.0v1.0h-1.0zM132.7,96.6h1.0v1.0h-1.0zM113.9,73.9h1.0v1.0h-1.0zM168.0,47.7h1.2v1.2h-1.2zM162.6,97.9h1.0v1.0h-1.0zM160.3,42.4h1.0v1.0h-1.0zM172.6,51.5h1.0v1.0h-1.0zM142.7,107.0h1.2v1.2h-1.2zM153.9,94.8h1.0v1.0h-1.0zM157.6,45.4h1.0v1.0h-1.0zM111.6,56.2h1.2v1.2h-1.2zM157.2,32.0h1.2v1.2h-1.2zM131.5,41.3h1.0v1.0h-1.0zM100.3,66.1h1.0v1.0h-1.0zM138.8,84.6h1.4v1.4h-1.4zM97.9,49.1h1.0v1.0h-1.0zM116.3,21.2h1.2v1.2h-1.2zM126.2,33.7h1.0v1.0h-1.0zM165.0,15.5h1.4v1.4h-1.4zM142.7,78.4h1.0v1.0h-1.0zM142.4,103.6h1.2v1.2h-1.2zM118.0,67.2h1.0v1.0h-1.0zM125.7,73.6h1.4v1.4h-1.4zM101.0,92.9h1.4v1.4h-1.4zM123.4,89.6h1.2v1.2h-1.2zM153.8,70.6h1.0v1.0h-1.0zM99.1,17.4h1.4v1.4h-1.4zM126.9,72.3h1.0v1.0h-1.0zM159.8,82.1h1.2v1.2h-1.2zM133.4,54.0h1.4v1.4h-1.4zM158.4,45.1h1.0v1.0h-1.0zM137.5,97.3h1.2v1.2h-1.2zM116.9,98.9h1.0v1.0h-1.0zM142.9,23.3h1.4v1.4h-1.4zM169.9,23.7h1.2v1.2h-1.2zM135.9,68.2h1.2v1.2h-1.2zM144.3,17.8h1.4v1.4h-1.4zM168.6,57.0h1.0v1.0h-1.0zM101.1,82.1h1.2v1.2h-1.2zM137.3,45.5h1.4v1.4h-1.4zM170.1,80.8h1.4v1.4h-1.4zM120.7,86.4h1.0v1.0h-1.0zM160.0,57.3h1.4v1.4h-1.4zM154.3,41.9h1.4v1.4h-1.4zM169.7,80.7h1.4v1.4h-1.4zM145.9,103.2h1.2v1.2h-1.2zM129.4,47.7h1.4v1.4h-1.4zM100.8,73.6h1.0v1.0h-1.0zM132.1,86.5h1.0v1.0h-1.0zM164.1,94.8h1.2v1.2h-1.2zM97.7,69.9h1.0v1.0h-1.0zM137.9,20.4h1.0v1.0h-1.0zM170.0,95.1h1.2v1.2h-1.2zM156.4,32.6h1.4v1.4h-1.4zM172.2,90.0h1.0v1.0h-1.0zM147.3,51.2h1.2v1.2h-1.2zM164.2,89.2h1.0v1.0h-1.0zM164.1,90.8h1.4v1.4h-1.4zM143.7,89.8h1.2v1.2h-1.2zM161.3,27.5h1.2v1.2h-1.2zM163.1,81.6h1.2v1.2h-1.2zM141.2,74.3h1.2v1.2h-1.2zM122.7,86.7h1.4v1.4h-1.4zM161.6,55.4h1.0v1.0h-1.0zM139.6,75.7h1.0v1.0h-1.0zM125.5,86.3h1.2v1.2h-1.2zM93.4,82.0h1.2v1.2h-1.2zM128.8,94.9h1.0v1.0h-1.0zM118.7,20.9h1.4v1.4h-1.4zM144.5,100.6h1.0v1.0h-1.0zM89.4,88.1h1.0v1.0h-1.0zM89.9,44.1h1.2v1.2h-1.2zM100.9,74.6h1.4v1.4h-1.4zM138.5,108.9h1.4v1.4h-1.4zM108.0,77.5h1.0v1.0h-1.0zM98.0,92.4h1.4v1.4h-1.4zM119.6,82.0h1.0v1.0h-1.0zM153.2,83.5h1.2v1.2h-1.2zM155.1,57.4h1.0v1.0h-1.0zM157.6,26.4h1.2v1.2h-1.2zM134.4,15.9h1.0v1.0h-1.0zM133.0,33.3h1.0v1.0h-1.0zM131.2,42.9h1.2v1.2h-1.2zM140.5,96.2h1.2v1.2h-1.2zM92.7,58.0h1.2v1.2h-1.2zM144.6,25.6h1.0v1.0h-1.0zM170.7,56.8h1.4v1.4h-1.4zM103.0,15.8h1.2v1.2h-1.2zM171.9,51.6h1.2v1.2h-1.2zM132.4,41.5h1.0v1.0h-1.0zM135.0,27.6h1.4v1.4h-1.4zM88.2,19.9h1.2v1.2h-1.2zM137.6,94.0h1.0v1.0h-1.0zM109.6,19.2h1.0v1.0h-1.0zM119.1,43.5h1.4v1.4h-1.4zM135.6,33.1h1.4v1.4h-1.4zM163.2,36.8h1.0v1.0h-1.0zM90.6,94.9h1.2v1.2h-1.2zM155.7,94.7h1.0v1.0h-1.0zM123.4,105.8h1.0v1.0h-1.0zM156.7,103.8h1.4v1.4h-1.4zM130.6,49.9h1.4v1.4h-1.4zM168.8,39.7h1.2v1.2h-1.2zM161.3,32.2h1.4v1.4h-1.4zM116.0,17.4h1.4v1.4h-1.4zM171.1,58.7h1.0v1.0h-1.0zM152.5,104.7h1.2v1.2h-1.2zM93.9,46.8h1.0v1.0h-1.0zM137.3,87.9h1.2v1.2h-1.2zM114.2,63.9h1.0v1.0h-1.0zM150.4,31.2h1.2v1.2h-1.2zM156.8,106.6h1.4v1.4h-1.4zM143.8,94.2h1.4v1.4h-1.4zM93.3,78.7h1.0v1.0h-1.0zM166.1,20.5h1.2v1.2h-1.2zM120.3,109.4h1.0v1.0h-1.0zM139.9,30.4h1.2v1.2h-1.2zM167.6,79.0h1.2v1.2h-1.2zM130.5,40.8h1.2v1.2h-1.2zM130.2,62.9h1.0v1.0h-1.0zM125.7,52.8h1.2v1.2h-1.2zM105.6,16.9h1.4v1.4h-1.4zM155.7,39.0h1.0v1.0h-1.0zM128.1,35.9h1.0v1.0h-1.0zM126.7,17.4h1.2v1.2h-1.2zM127.1,85.5h1.0v1.0h-1.0zM167.5,52.0h1.0v1.0h-1.0zM149.1,68.3h1.2v1.2h-1.2zM164.7,85.8h1.4v1.4h-1.4zM153.3,43.4h1.4v1.4h-1.4zM132.3,17.3h1.0v1.0h-1.0zM165.1,57.1h1.4v1.4h-1.4zM134.4,59.6h1.0v1.0h-1.0zM160.8,79.7h1.4v1.4h-1.4zM95.2,52.6h1.0v1.0h-1.0zM149.9,27.8h1.4v1.4h-1.4zM147.5,75.5h1.2v1.2h-1.2zM143.2,103.4h1.0v1.0h-1.0zM124.2,70.6h1.4v1.4h-1.4zM149.7,70.5h1.4v1.4h-1.4zM145.7,76.8h1.2v1.2h-1.2zM96.7,68.7h1.0v1.0h-1.0zM167.3,67.9h1.2v1.2h-1.2zM116.3,53.4h1.0v1.0h-1.0zM167.8,42.1h1.4v1.4h-1.4zM157.7,30.8h1.4v1.4h-1.4zM111.6,92.0h1.4v1.4h-1.4zM145.1,89.0h1.2v1.2h-1.2zM137.6,101.8h1.2v1.2h-1.2zM143.7,62.8h1.4v1.4h-1.4zM137.2,73.5h1.2v1.2h-1.2zM149.4,91.4h1.4v1.4h-1.4zM159.3,103.9h1.2v1.2h-1.2zM126.5,89.3h1.0v1.0h-1.0zM95.4,103.5h1.4v1.4h-1.4zM143.2,19.2h1.2v1.2h-1.2zM139.4,93.0h1.0v1.0h-1.0zM128.6,108.5h1.0v1.0h-1.0zM138.6,93.5h1.4v1.4h-1.4zM90.3,16.4h1.4v1.4h-1.4zM125.2,15.1h1.4v1.4h-1.4zM154.3,58.6h1.0v1.0h-1.0zM142.1,44.1h1.4v1.4h-1.4zM130.3,99.1h1.0v1.0h-1.0zM147.7,24.0h1.2v1.2h-1.2zM167.8,15.7h1.4v1.4h-1.4zM117.2,27.1h1.4v1.4h-1.4zM164.3,56.8h1.2v1.2h-1.2zM161.8,109.8h1.4v1.4h-1.4zM152.5,23.6h1.2v1.2h-1.2zM157.6,78.3h1.0v1.0h-1.0zM107.9,86.7h1.0v1.0h-1.0zM166.3,100.7h1.4v1.4h-1.4zM118.1,108.7h1.0v1.0h-1.0zM155.2,47.6h1.4v1.4h-1.4zM108.4,53.2h1.4v1.4h-1.4zM116.7,22.1h1.2v1.2h-1.2zM127.1,47.9h1.2v1.2h-1.2zM95.2,65.5h1.0v1.0h-1.0zM151.6,88.4h1.4v1.4h-1.4zM111.6,52.9h1.0v1.0h-1.0zM164.4,77.7h1.0v1.0h-1.0zM170.3,89.0h1.2v1.2h-1.2zM98.1,93.2h1.4v1.4h-1.4zM97.6,46.7h1.2v1.2h-1.2zM89.5,62.7h1.4v1.4h-1.4zM163.9,51.4h1.0v1.0h-1.0zM170.5,45.1h1.4v1.4h-1.4zM114.2,102.5h1.2v1.2h-1.2zM116.8,56.3h1.4v1.4h-1.4zM100.7,91.8h1.4v1.4h-1.4zM144.3,93.8h1.2v1.2h-1.2zM133.1,101.2h1.0v1.0h-1.0zM123.9,101.4h1.0v1.0h-1.0zM137.1,61.3h1.0v1.0h-1.0zM144.7,47.0h1.4v1.4h-1.4zM142.9,89.1h1.0v1.0h-1.0zM158.6,105.2h1.0v1.0h-1.0zM110.5,39.7h1.0v1.0h-1.0zM108.0,57.6h1.2v1.2h-1.2zM133.7,27.0h1.4v1.4h-1.4zM118.8,68.8h1.0v1.0h-1.0zM121.3,16.7h1.0v1.0h-1.0zM152.5,90.8h1.0v1.0h-1.0zM165.8,52.6h1.2v1.2h-1.2zM160.1,78.1h1.0v1.0h-1.0zM108.3,51.9h1.4v1.4h-1.4zM100.2,76.3h1.4v1.4h-1.4zM108.8,35.2h1.2v1.2h-1.2zM152.8,97.1h1.4v1.4h-1.4zM124.0,105.4h1.2v1.2h-1.2zM155.6,40.1h1.4v1.4h-1.4zM136.5,28.4h1.0v1.0h-1.0zM145.0,62.1h1.2v1.2h-1.2zM148.7,87.2h1.4v1.4h-1.4zM147.4,26.7h1.2v1.2h-1.2zM127.6,31.4h1.0v1.0h-1.0zM135.0,32.5h1.4v1.4h-1.4zM134.5,15.5h1.2v1.2h-1.2zM128.6,72.3h1.2v1.2h-1.2zM172.1,48.8h1.2v1.2h-1.2zM147.8,36.0h1.0v1.0h-1.0zM161.1,59.0h1.4v1.4h-1.4zM135.8,48.4h1.2v1.2h-1.2zM127.5,41.8h1.0v1.0h-1.0zM105.2,25.1h1.4v1.4h-1.4zM112.2,83.1h1.2v1.2h-1.2zM146.8,44.4h1.2v1.2h-1.2zM123.3,109.9h1.2v1.2h-1.2zM107.2,25.0h1.4v1.4h-1.4zM119.3,30.5h1.0v1.0h-1.0zM166.7,50.0h1.2v1.2h-1.2zM131.1,15.8h1.4v1.4h-1.4zM159.3,99.0h1.4v1.4h-1.4zM147.2,57.9h1.0v1.0h-1.0zM129.8,80.8h1.4v1.4h-1.4zM146.6,51.4h1.2v1.2h-1.2zM146.6,103.2h1.4v1.4h-1.4zM130.0,87.1h1.0v1.0h-1.0zM170.3,69.1h1.0v1.0h-1.0zM140.2,23.5h1.4v1.4h-1.4zM125.7,22.6h1.4v1.4h-1.4zM113.8,78.4h1.4v1.4h-1.4zM171.1,33.1h1.2v1.2h-1.2zM155.9,96.6h1.2v1.2h-1.2zM104.4,48.8h1.4v1.4h-1.4zM124.7,95.0h1.2v1.2h-1.2zM101.1,84.8h1.4v1.4h-1.4zM114.7,46.6h1.0v1.0h-1.0zM148.1,40.3h1.4v1.4h-1.4zM163.4,106.6h1.4v1.4h-1.4zM122.0,40.6h1.2v1.2h-1.2zM95.6,80.8h1.0v1.0h-1.0zM136.8,68.9h1.0v1.0h-1.0zM167.7,109.9h1.2v1.2h-1.2zM138.0,103.2h1.0v1.0h-1.0zM161.8,29.7h1.0v1.0h-1.0zM139.2,84.5h1.2v1.2h-1.2zM97.9,99.1h1.0v1.0h-1.0zM164.2,81.6h1.0v1.0h-1.0zM125.7,83.1h1.4v1.4h-1.4zM145.6,52.2h1.2v1.2h-1.2zM154.2,22.5h1.2v1.2h-1.2zM154.4,38.3h1.4v1.4h-1.4zM172.7,73.6h1.2v1.2h-1.2zM160.1,73.7h1.0v1.0h-1.0zM93.5,103.6h1.4v1.4h-1.4zM145.8,102.9h1.4v1.4h-1.4zM125.7,35.8h1.0v1.0h-1.0zM123.4,74.0h1.4v1.4h-1.4zM163.7,48.0h1.4v1.4h-1.4zM146.3,57.5h1.0v1.0h-1.0zM112.5,78.5h1.4v1.4h-1.4zM110.2,63.4h1.0v1.0h-1.0zM136.5,20.4h1.4v1.4h-1.4zM141.5,25.6h1.0v1.0h-1.0zM123.5,28.4h1.2v1.2h-1.2zM150.7,100.8h1.4v1.4h-1.4zM145.6,81.2h1.0v1.0h-1.0zM102.1,82.1h1.0v1.0h-1.0zM134.6,30.7h1.0v1.0h-1.0zM168.1,65.6h1.0v1.0h-1.0zM160.8,23.6h1.0v1.0h-1.0zM109.2,49.3h1.4v1.4h-1.4zM149.6,44.9h1.2v1.2h-1.2zM150.5,52.0h1.2v1.2h-1.2zM144.5,70.6h1.4v1.4h-1.4zM148.2,55.3h1.0v1.0h-1.0zM170.2,35.4h1.2v1.2h-1.2zM126.5,81.2h1.4v1.4h-1.4zM141.9,102.7h1.2v1.2h-1.2zM160.4,86.7h1.4v1.4h-1.4zM144.3,26.4h1.4v1.4h-1.4zM171.0,81.7h1.2v1.2h-1.2zM131.7,91.0h1.4v1.4h-1.4zM148.8,77.2h1.2v1.2h-1.2zM144.6,47.8h1.4v1.4h-1.4zM140.2,42.0h1.2v1.2h-1.2zM168.0,57.5h1.4v1.4h-1.4zM165.3,38.6h1.0v1.0h-1.0zM163.4,38.6h1.0v1.0h-1.0zM120.6,27.9h1.0v1.0h-1.0zM138.4,51.1h1.0v1.0h-1.0zM120.0,15.8h1.0v1.0h-1.0zM134.2,77.9h1.4v1.4h-1.4zM164.0,30.7h1.2v1.2h-1.2zM89.1,109.4h1.2v1.2h-1.2zM157.1,100.2h1.0v1.0h-1.0zM97.4,45.7h1.2v1.2h-1.2zM139.3,17.2h1.4v1.4h-1.4zM157.0,17.3h1.4v1.4h-1.4zM159.2,25.1h1.4v1.4h-1.4zM154.9,23.5h1.0v1.0h-1.0zM171.2,27.1h1.2v1.2h-1.2zM140.9,24.6h1.2v1.2h-1.2zM111.7,23.8h1.2v1.2h-1.2zM165.9,92.1h1.0v1.0h-1.0zM161.8,46.4h1.0v1.0h-1.0zM154.9,67.9h1.0v1.0h-1.0zM126.1,62.5h1.2v1.2h-1.2zM153.0,64.9h1.2v1.2h-1.2zM158.8,103.7h1.0v1.0h-1.0zM112.8,76.9h1.0v1.0h-1.0zM153.4,80.9h1.2v1.2h-1.2zM129.8,80.3h1.2v1.2h-1.2zM96.9,78.0h1.2v1.2h-1.2zM167.2,72.9h1.0v1.0h-1.0zM91.4,82.3h1.4v1.4h-1.4zM143.4,73.7h1.4v1.4h-1.4zM92.5,96.3h1.4v1.4h-1.4zM93.6,96.8h1.4v1.4h-1.4zM121.7,48.7h1.2v1.2h-1.2zM163.2,17.3h1.4v1.4h-1.4zM139.7,77.6h1.0v1.0h-1.0zM88.1,29.1h1.0v1.0h-1.0zM154.3,107.1h1.4v1.4h-1.4zM141.9,37.4h1.4v1.4h-1.4zM137.5,58.7h1.0v1.0h-1.0zM157.0,68.9h1.4v1.4h-1.4zM109.5,24.0h1.2v1.2h-1.2zM112.0,24.5h1.0v1.0h-1.0zM141.7,24.3h1.2v1.2h-1.2zM141.8,98.2h1.4v1.4h-1.4zM98.0,81.3h1.4v1.4h-1.4zM170.3,21.3h1.0v1.0h-1.0zM162.6,71.6h1.4v1.4h-1.4zM125.1,18.7h1.4v1.4h-1.4zM157.9,64.2h1.4v1.4h-1.4zM152.2,54.4h1.0v1.0h-1.0zM158.6,97.6h1.4v1.4h-1.4zM167.9,83.2h1.2v1.2h-1.2zM112.5,90.9h1.4v1.4h-1.4zM151.3,95.0h1.2v1.2h-1.2zM145.7,25.7h1.0v1.0h-1.0zM160.0,69.5h1.2v1.2h-1.2zM125.6,99.0h1.4v1.4h-1.4zM130.5,53.1h1.0v1.0h-1.0zM150.4,73.2h1.2v1.2h-1.2zM108.0,83.9h1.0v1.0h-1.0zM147.1,41.5h1.0v1.0h-1.0zM123.0,28.7h1.4v1.4h-1.4zM121.8,59.4h1.4v1.4h-1.4zM164.2,106.0h1.0v1.0h-1.0zM146.0,84.6h1.2v1.2h-1.2zM143.0,55.6h1.2v1.2h-1.2zM108.8,20.9h1.2v1.2h-1.2zM130.0,28.3h1.0v1.0h-1.0zM150.5,30.6h1.4v1.4h-1.4zM153.9,28.6h1.4v1.4h-1.4zM158.1,89.3h1.2v1.2h-1.2zM145.2,62.4h1.4v1.4h-1.4zM160.8,49.6h1.4v1.4h-1.4zM160.5,101.1h1.0v1.0h-1.0zM113.1,38.9h1.2v1.2h-1.2zM113.0,52.9h1.2v1.2h-1.2zM171.3,74.2h1.2v1.2h-1.2zM124.9,99.4h1.4v1.4h-1.4zM159.5,98.3h1.0v1.0h-1.0zM100.8,54.9h1.2v1.2h-1.2zM157.1,55.6h1.2v1.2h-1.2zM114.0,34.6h1.2v1.2h-1.2zM154.3,99.9h1.0v1.0h-1.0zM131.3,57.7h1.4v1.4h-1.4zM129.0,29.8h1.0v1.0h-1.0zM120.7,76.2h1.2v1.2h-1.2zM113.8,92.1h1.0v1.0h-1.0zM150.9,26.4h1.2v1.2h-1.2zM111.1,109.3h1.4v1.4h-1.4zM115.1,52.9h1.2v1.2h-1.2zM110.3,28.7h1.0v1.0h-1.0zM166.6,59.3h1.0v1.0h-1.0zM123.2,21.5h1.0v1.0h-1.0zM126.5,22.6h1.4v1.4h-1.4zM133.5,76.3h1.4v1.4h-1.4zM157.0,99.8h1.0v1.0h-1.0zM165.5,92.4h1.0v1.0h-1.0zM149.8,35.7h1.0v1.0h-1.0zM145.1,25.7h1.0v1.0h-1.0zM159.8,76.5h1.2v1.2h-1.2zM123.9,56.9h1.4v1.4h-1.4zM114.9,74.6h1.0v1.0h-1.0zM143.3,24.0h1.0v1.0h-1.0zM89.1,98.7h1.2v1.2h-1.2zM122.7,73.8h1.0v1.0h-1.0zM135.2,26.6h1.4v1.4h-1.4zM120.0,44.8h1.2v1.2h-1.2zM135.5,96.2h1.4v1.4h-1.4zM154.5,59.6h1.2v1.2h-1.2zM171.0,100.0h1.4v1.4h-1.4zM160.7,73.8h1.0v1.0h-1.0zM157.9,94.2h1.0v1.0h-1.0zM151.1,85.7h1.0v1.0h-1.0zM121.2,49.6h1.4v1.4h-1.4zM159.9,87.5h1.0v1.0h-1.0zM92.7,32.1h1.2v1.2h-1.2zM98.6,99.7h1.0v1.0h-1.0zM134.2,58.1h1.2v1.2h-1.2zM87.0,59.7h1.0v1.0h-1.0zM112.6,39.4h1.0v1.0h-1.0zM155.3,88.5h1.2v1.2h-1.2zM164.1,105.6h1.2v1.2h-1.2zM172.2,47.0h1.2v1.2h-1.2zM162.1,32.9h1.0v1.0h-1.0zM86.5,103.3h1.4v1.4h-1.4zM126.0,36.1h1.4v1.4h-1.4zM163.3,56.4h1.0v1.0h-1.0zM113.9,57.4h1.4v1.4h-1.4zM164.2,64.6h1.0v1.0h-1.0zM144.3,103.9h1.0v1.0h-1.0zM129.7,20.4h1.0v1.0h-1.0zM88.6,38.5h1.4v1.4h-1.4zM148.7,71.8h1.4v1.4h-1.4zM137.1,34.0h1.2v1.2h-1.2zM93.8,50.2h1.2v1.2h-1.2zM126.2,57.6h1.4v1.4h-1.4zM92.8,37.2h1.0v1.0h-1.0zM138.0,102.7h1.4v1.4h-1.4zM148.2,35.1h1.0v1.0h-1.0zM158.7,56.2h1.2v1.2h-1.2zM149.1,99.6h1.2v1.2h-1.2zM163.4,49.2h1.2v1.2h-1.2zM140.6,45.9h1.4v1.4h-1.4zM138.0,103.0h1.2v1.2h-1.2zM126.9,45.8h1.0v1.0h-1.0zM125.9,58.2h1.4v1.4h-1.4zM155.8,96.6h1.2v1.2h-1.2zM103.1,26.5h1.2v1.2h-1.2zM153.9,63.6h1.4v1.4h-1.4zM119.8,51.7h1.2v1.2h-1.2zM152.2,52.7h1.0v1.0h-1.0zM94.1,106.7h1.4v1.4h-1.4zM169.9,61.2h1.2v1.2h-1.2zM131.6,81.4h1.4v1.4h-1.4zM170.8,85.3h1.2v1.2h-1.2zM139.1,24.4h1.0v1.0h-1.0zM139.1,77.6h1.2v1.2h-1.2zM148.0,86.6h1.2v1.2h-1.2zM140.4,84.1h1.0v1.0h-1.0zM153.1,55.0h1.4v1.4h-1.4zM132.7,83.1h1.2v1.2h-1.2zM124.0,36.6h1.2v1.2h-1.2zM165.0,59.5h1.2v1.2h-1.2zM118.1,59.0h1.2v1.2h-1.2zM108.9,58.5h1.4v1.4h-1.4zM147.2,81.1h1.0v1.0h-1.0zM147.2,91.4h1.2v1.2h-1.2zM121.6,63.4h1.2v1.2h-1.2zM104.5,67.9h1.0v1.0h-1.0zM159.6,69.0h1.4v1.4h-1.4zM93.1,38.2h1.2v1.2h-1.2zM162.9,56.9h1.0v1.0h-1.0zM146.0,56.4h1.2v1.2h-1.2zM160.3,65.7h1.4v1.4h-1.4zM106.3,66.2h1.4v1.4h-1.4zM87.9,86.4h1.2v1.2h-1.2zM157.1,68.9h1.2v1.2h-1.2zM160.1,62.9h1.0v1.0h-1.0zM128.2,49.9h1.4v1.4h-1.4zM137.3,28.7h1.2v1.2h-1.2zM172.4,73.7h1.0v1.0h-1.0zM133.8,38.4h1.4v1.4h-1.4zM123.7,87.7h1.0v1.0h-1.0zM153.7,96.4h1.2v1.2h-1.2zM166.7,65.3h1.4v1.4h-1.4zM147.7,46.7h1.2v1.2h-1.2zM152.9,15.1h1.4v1.4h-1.4zM97.4,51.2h1.0v1.0h-1.0zM117.8,93.2h1.0v1.0h-1.0zM137.0,54.5h1.2v1.2h-1.2zM136.8,15.1h1.4v1.4h-1.4zM102.0,71.0h1.4v1.4h-1.4zM163.7,106.3h1.0v1.0h-1.0zM142.1,101.2h1.0v1.0h-1.0zM153.9,40.4h1.2v1.2h-1.2zM147.3,84.5h1.0v1.0h-1.0zM160.4,97.2h1.2v1.2h-1.2zM151.1,93.0h1.4v1.4h-1.4zM156.1,58.6h1.4v1.4h-1.4zM113.5,37.1h1.4v1.4h-1.4zM91.1,34.8h1.4v1.4h-1.4zM131.7,85.8h1.4v1.4h-1.4zM130.6,59.8h1.2v1.2h-1.2zM162.3,55.1h1.4v1.4h-1.4zM102.6,96.2h1.0v1.0h-1.0zM122.6,36.2h1.4v1.4h-1.4zM122.3,20.2h1.0v1.0h-1.0zM165.2,55.4h1.2v1.2h-1.2zM145.3,77.7h1.0v1.0h-1.0zM162.6,83.0h1.2v1.2h-1.2zM113.7,34.7h1.2v1.2h-1.2zM139.5,67.4h1.4v1.4h-1.4zM155.7,95.2h1.0v1.0h-1.0zM169.0,105.0h1.2v1.2h-1.2zM129.5,34.2h1.4v1.4h-1.4zM133.7,63.0h1.4v1.4h-1.4zM92.2,76.5h1.2v1.2h-1.2zM167.1,37.2h1.4v1.4h-1.4zM156.5,74.2h1.4v1.4h-1.4zM143.4,88.0h1.4v1.4h-1.4zM99.7,29.6h1.2v1.2h-1.2zM146.3,58.8h1.2v1.2h-1.2zM139.9,85.8h1.4v1.4h-1.4zM133.3,37.9h1.4v1.4h-1.4zM128.8,61.4h1.0v1.0h-1.0zM119.7,42.1h1.4v1.4h-1.4zM162.0,78.9h1.4v1.4h-1.4zM168.0,29.9h1.0v1.0h-1.0zM157.2,88.1h1.0v1.0h-1.0zM95.0,42.1h1.0v1.0h-1.0zM151.6,90.7h1.2v1.2h-1.2zM132.9,47.3h1.2v1.2h-1.2zM126.4,83.7h1.4v1.4h-1.4zM86.3,103.8h1.0v1.0h-1.0zM129.9,50.6h1.2v1.2h-1.2zM100.2,36.8h1.2v1.2h-1.2zM152.2,73.2h1.0v1.0h-1.0zM123.9,75.7h1.4v1.4h-1.4zM134.6,65.7h1.4v1.4h-1.4zM126.3,69.1h1.4v1.4h-1.4zM117.8,18.2h1.2v1.2h-1.2zM157.0,75.0h1.4v1.4h-1.4zM169.8,86.8h1.0v1.0h-1.0zM159.6,63.8h1.0v1.0h-1.0zM166.3,82.1h1.0v1.0h-1.0zM144.6,65.4h1.4v1.4h-1.4zM135.7,64.7h1.2v1.2h-1.2zM138.5,71.2h1.0v1.0h-1.0zM148.6,75.0h1.2v1.2h-1.2zM147.7,72.6h1.2v1.2h-1.2zM169.9,99.1h1.0v1.0h-1.0zM92.7,89.5h1.2v1.2h-1.2zM159.0,15.5h1.2v1.2h-1.2zM159.4,72.1h1.2v1.2h-1.2zM94.2,45.2h1.4v1.4h-1.4zM138.3,50.7h1.2v1.2h-1.2zM159.3,53.7h1.2v1.2h-1.2zM99.7,28.8h1.0v1.0h-1.0zM90.3,44.3h1.2v1.2h-1.2zM124.6,53.8h1.0v1.0h-1.0zM137.6,58.7h1.4v1.4h-1.4zM168.3,26.6h1.4v1.4h-1.4zM143.4,63.7h1.0v1.0h-1.0zM167.1,55.3h1.2v1.2h-1.2zM134.6,59.2h1.4v1.4h-1.4zM93.1,47.6h1.2v1.2h-1.2zM157.9,37.0h1.4v1.4h-1.4zM162.1,70.8h1.4v1.4h-1.4zM170.0,74.7h1.0v1.0h-1.0zM141.5,88.2h1.0v1.0h-1.0zM110.7,63.1h1.2v1.2h-1.2zM160.7,23.2h1.2v1.2h-1.2zM131.2,43.7h1.4v1.4h-1.4zM167.1,20.6h1.0v1.0h-1.0zM129.5,81.5h1.0v1.0h-1.0zM88.1,65.8h1.0v1.0h-1.0zM133.0,102.5h1.0v1.0h-1.0zM131.7,78.9h1.0v1.0h-1.0zM135.3,107.9h1.0v1.0h-1.0zM125.0,48.0h1.0v1.0h-1.0zM135.9,69.8h1.0v1.0h-1.0zM105.5,29.7h1.0v1.0h-1.0zM160.6,101.5h1.2v1.2h-1.2zM148.6,74.2h1.4v1.4h-1.4zM165.5,24.2h1.2v1.2h-1.2zM167.5,26.1h1.2v1.2h-1.2zM136.1,70.2h1.2v1.2h-1.2zM130.0,89.7h1.4v1.4h-1.4zM172.0,18.2h1.2v1.2h-1.2zM123.9,38.2h1.4v1.4h-1.4zM121.0,27.0h1.0v1.0h-1.0zM152.8,47.2h1.2v1.2h-1.2zM123.8,52.4h1.4v1.4h-1.4zM108.7,73.7h1.0v1.0h-1.0zM158.9,108.8h1.0v1.0h-1.0zM157.2,46.0h1.0v1.0h-1.0zM143.5,102.4h1.2v1.2h-1.2zM147.6,41.5h1.0v1.0h-1.0zM93.6,74.0h1.4v1.4h-1.4zM154.0,70.3h1.4v1.4h-1.4zM115.0,91.5h1.2v1.2h-1.2zM158.9,50.9h1.0v1.0h-1.0zM115.9,52.2h1.4v1.4h-1.4zM127.7,78.7h1.4v1.4h-1.4zM87.4,79.3h1.4v1.4h-1.4zM169.1,58.9h1.2v1.2h-1.2zM128.3,54.8h1.4v1.4h-1.4zM169.8,22.5h1.0v1.0h-1.0zM98.7,108.4h1.2v1.2h-1.2zM140.8,40.1h1.2v1.2h-1.2zM122.5,43.0h1.0v1.0h-1.0zM135.9,71.9h1.0v1.0h-1.0zM133.3,37.3h1.4v1.4h-1.4zM152.9,24.9h1.4v1.4h-1.4zM161.9,74.8h1.0v1.0h-1.0zM157.2,25.4h1.0v1.0h-1.0zM141.7,37.8h1.0v1.0h-1.0zM130.3,38.3h1.4v1.4h-1.4zM90.9,48.9h1.4v1.4h-1.4zM150.9,31.5h1.4v1.4h-1.4zM144.0,98.2h1.4v1.4h-1.4zM150.9,50.0h1.0v1.0h-1.0zM123.3,38.0h1.4v1.4h-1.4zM167.5,48.5h1.4v1.4h-1.4zM168.6,65.8h1.4v1.4h-1.4zM89.7,69.1h1.4v1.4h-1.4zM143.4,105.2h1.0v1.0h-1.0zM126.2,35.6h1.0v1.0h-1.0zM120.9,56.6h1.4v1.4h-1.4zM165.7,81.8h1.0v1.0h-1.0zM99.1,26.5h1.0v1.0h-1.0zM167.5,30.3h1.0v1.0h-1.0zM156.9,96.4h1.0v1.0h-1.0zM138.4,15.6h1.4v1.4h-1.4zM156.7,75.4h1.4v1.4h-1.4zM118.7,29.2h1.2v1.2h-1.2zM115.5,55.1h1.4v1.4h-1.4zM117.4,64.6h1.4v1.4h-1.4zM125.1,96.8h1.0v1.0h-1.0zM123.5,66.2h1.2v1.2h-1.2zM152.5,75.3h1.4v1.4h-1.4zM111.7,37.5h1.4v1.4h-1.4zM112.6,32.0h1.0v1.0h-1.0zM133.4,71.9h1.0v1.0h-1.0zM132.4,17.7h1.2v1.2h-1.2zM167.1,61.9h1.4v1.4h-1.4zM153.6,25.2h1.4v1.4h-1.4zM151.7,76.9h1.4v1.4h-1.4zM147.6,40.0h1.0v1.0h-1.0zM144.1,51.7h1.0v1.0h-1.0zM125.3,51.1h1.2v1.2h-1.2zM141.7,42.5h1.0v1.0h-1.0zM133.7,26.2h1.4v1.4h-1.4zM167.5,84.6h1.0v1.0h-1.0zM150.4,96.8h1.2v1.2h-1.2zM143.2,49.2h1.4v1.4h-1.4zM157.0,36.2h1.0v1.0h-1.0zM125.3,101.9h1.0v1.0h-1.0zM120.9,97.3h1.2v1.2h-1.2zM145.2,69.5h1.4v1.4h-1.4zM137.8,66.3h1.0v1.0h-1.0zM104.4,47.8h1.0v1.0h-1.0zM160.3,68.6h1.0v1.0h-1.0zM142.3,16.4h1.2v1.2h-1.2zM159.2,27.7h1.2v1.2h-1.2zM146.9,18.7h1.4v1.4h-1.4zM163.5,25.5h1.4v1.4h-1.4zM147.3,32.0h1.4v1.4h-1.4zM158.1,62.8h1.2v1.2h-1.2zM121.2,45.1h1.0v1.0h-1.0zM109.3,56.9h1.2v1.2h-1.2zM126.8,87.9h1.4v1.4h-1.4zM150.6,43.4h1.2v1.2h-1.2zM132.9,76.1h1.2v1.2h-1.2zM151.8,65.8h1.4v1.4h-1.4zM162.7,72.4h1.0v1.0h-1.0zM130.0,96.0h1.4v1.4h-1.4zM162.2,79.5h1.2v1.2h-1.2zM116.8,102.0h1.2v1.2h-1.2zM129.4,48.8h1.4v1.4h-1.4zM91.3,81.8h1.2v1.2h-1.2zM90.2,51.5h1.2v1.2h-1.2zM158.0,72.9h1.2v1.2h-1.2zM130.7,94.4h1.0v1.0h-1.0zM151.2,76.2h1.4v1.4h-1.4zM131.8,15.6h1.0v1.0h-1.0zM145.9,93.0h1.2v1.2h-1.2zM143.0,100.0h1.0v1.0h-1.0zM142.2,71.2h1.2v1.2h-1.2zM142.6,109.3h1.4v1.4h-1.4zM165.3,68.8h1.4v1.4h-1.4zM169.6,24.1h1.2v1.2h-1.2zM102.2,73.9h1.2v1.2h-1.2zM171.5,82.3h1.2v1.2h-1.2zM168.5,26.2h1.0v1.0h-1.0zM148.9,26.9h1.2v1.2h-1.2zM151.4,59.4h1.0v1.0h-1.0zM132.8,27.5h1.2v1.2h-1.2zM152.5,109.1h1.4v1.4h-1.4zM111.2,66.8h1.0v1.0h-1.0zM157.5,65.4h1.4v1.4h-1.4zM115.5,77.7h1.4v1.4h-1.4zM151.2,36.9h1.4v1.4h-1.4zM167.0,28.9h1.2v1.2h-1.2zM171.1,68.0h1.2v1.2h-1.2zM151.1,17.2h1.4v1.4h-1.4zM144.1,57.8h1.4v1.4h-1.4zM134.0,40.9h1.2v1.2h-1.2zM91.9,53.8h1.2v1.2h-1.2zM139.4,58.5h1.0v1.0h-1.0zM130.7,22.8h1.4v1.4h-1.4zM102.4,99.3h1.0v1.0h-1.0zM164.3,90.8h1.4v1.4h-1.4zM147.3,16.2h1.2v1.2h-1.2zM118.3,73.7h1.0v1.0h-1.0zM147.8,31.6h1.4v1.4h-1.4zM169.8,33.2h1.0v1.0h-1.0zM155.7,82.6h1.0v1.0h-1.0zM116.8,50.8h1.4v1.4h-1.4zM112.9,70.3h1.2v1.2h-1.2zM163.0,93.6h1.2v1.2h-1.2zM170.9,64.4h1.2v1.2h-1.2zM133.4,30.9h1.4v1.4h-1.4zM143.5,29.4h1.0v1.0h-1.0zM123.8,102.6h1.2v1.2h-1.2zM161.8,92.0h1.4v1.4h-1.4zM166.8,57.0h1.0v1.0h-1.0zM121.7,69.8h1.0v1.0h-1.0zM129.6,76.1h1.0v1.0h-1.0zM125.0,78.0h1.2v1.2h-1.2zM157.1,78.7h1.4v1.4h-1.4zM145.1,97.0h1.2v1.2h-1.2zM116.7,20.3h1.0v1.0h-1.0zM125.6,63.3h1.2v1.2h-1.2zM149.7,21.9h1.0v1.0h-1.0zM125.9,38.0h1.4v1.4h-1.4zM148.4,67.7h1.2v1.2h-1.2zM159.7,29.2h1.2v1.2h-1.2zM159.4,20.3h1.0v1.0h-1.0zM145.3,62.1h1.0v1.0h-1.0zM109.1,20.7h1.4v1.4h-1.4zM105.3,83.4h1.4v1.4h-1.4zM136.1,32.5h1.4v1.4h-1.4zM156.8,79.4h1.0v1.0h-1.0zM149.7,69.2h1.0v1.0h-1.0zM133.6,86.5h1.4v1.4h-1.4zM168.7,74.4h1.2v1.2h-1.2zM127.1,47.7h1.2v1.2h-1.2zM147.8,71.3h1.2v1.2h-1.2zM162.1,108.9h1.2v1.2h-1.2zM151.3,41.4h1.4v1.4h-1.4zM127.1,93.5h1.0v1.0h-1.0zM151.2,108.2h1.0v1.0h-1.0zM165.5,73.9h1.0v1.0h-1.0zM125.3,21.6h1.0v1.0h-1.0zM132.1,68.0h1.0v1.0h-1.0zM123.0,50.1h1.4v1.4h-1.4zM104.2,47.5h1.2v1.2h-1.2zM144.3,38.1h1.2v1.2h-1.2zM106.8,15.1h1.0v1.0h-1.0zM170.1,46.1h1.4v1.4h-1.4zM144.0,47.5h1.2v1.2h-1.2zM140.8,66.5h1.0v1.0h-1.0zM170.7,108.6h1.4v1.4h-1.4zM143.4,23.1h1.4v1.4h-1.4zM99.5,70.1h1.0v1.0h-1.0zM152.8,81.1h1.2v1.2h-1.2zM137.4,97.0h1.4v1.4h-1.4zM155.5,81.1h1.2v1.2h-1.2zM156.9,94.4h1.0v1.0h-1.0zM152.4,18.7h1.2v1.2h-1.2zM144.6,19.9h1.4v1.4h-1.4zM97.8,58.9h1.2v1.2h-1.2zM142.8,33.1h1.4v1.4h-1.4zM169.6,27.0h1.2v1.2h-1.2zM171.6,53.5h1.2v1.2h-1.2zM160.5,45.6h1.4v1.4h-1.4zM140.9,45.8h1.2v1.2h-1.2zM152.4,23.8h1.0v1.0h-1.0zM128.4,103.2h1.0v1.0h-1.0zM140.1,54.1h1.4v1.4h-1.4zM130.9,19.2h1.2v1.2h-1.2zM134.0,81.5h1.2v1.2h-1.2zM163.7,101.7h1.2v1.2h-1.2zM157.1,54.1h1.0v1.0h-1.0zM126.1,16.1h1.4v1.4h-1.4zM147.2,82.5h1.2v1.2h-1.2zM100.3,77.5h1.0v1.0h-1.0zM164.7,35.7h1.4v1.4h-1.4zM92.8,34.8h1.4v1.4h-1.4zM145.0,41.5h1.0v1.0h-1.0zM137.0,60.3h1.2v1.2h-1.2zM129.8,85.9h1.4v1.4h-1.4zM114.2,76.4h1.2v1.2h-1.2zM122.6,51.7h1.2v1.2h-1.2zM150.8,62.9h1.0v1.0h-1.0zM154.2,85.5h1.2v1.2h-1.2zM101.0,25.7h1.4v1.4h-1.4zM116.4,26.4h1.2v1.2h-1.2zM155.4,96.7h1.2v1.2h-1.2zM129.1,61.2h1.2v1.2h-1.2zM158.9,20.9h1.2v1.2h-1.2zM112.5,74.1h1.4v1.4h-1.4zM152.6,75.1h1.0v1.0h-1.0zM168.9,107.2h1.0v1.0h-1.0zM121.3,96.0h1.0v1.0h-1.0zM139.1,41.8h1.2v1.2h-1.2zM169.0,45.3h1.4v1.4h-1.4zM110.5,95.4h1.0v1.0h-1.0zM161.7,18.0h1.0v1.0h-1.0zM124.0,48.3h1.4v1.4h-1.4zM118.3,19.6h1.4v1.4h-1.4zM165.5,19.2h1.0v1.0h-1.0zM111.9,68.1h1.0v1.0h-1.0zM135.8,33.9h1.4v1.4h-1.4zM133.4,74.6h1.4v1.4h-1.4zM133.2,21.4h1.2v1.2h-1.2zM143.2,98.4h1.0v1.0h-1.0zM119.5,108.0h1.2v1.2h-1.2zM151.7,27.8h1.2v1.2h-1.2zM127.4,20.8h1.0v1.0h-1.0zM129.2,54.1h1.0v1.0h-1.0zM119.8,106.8h1.4v1.4h-1.4zM163.1,105.2h1.0v1.0h-1.0zM162.0,82.9h1.2v1.2h-1.2zM148.7,35.3h1.2v1.2h-1.2zM142.0,104.0h1.0v1.0h-1.0zM168.2,62.0h1.4v1.4h-1.4zM95.7,61.4h1.0v1.0h-1.0zM151.4,29.9h1.2v1.2h-1.2zM128.1,77.7h1.4v1.4h-1.4zM107.2,85.4h1.0v1.0h-1.0zM105.2,87.5h1.2v1.2h-1.2zM123.8,64.9h1.0v1.0h-1.0zM127.1,51.2h1.2v1.2h-1.2zM86.1,86.1h1.4v1.4h-1.4zM165.3,55.6h1.2v1.2h-1.2zM142.2,78.2h1.0v1.0h-1.0zM148.9,75.9h1.0v1.0h-1.0zM121.3,89.7h1.2v1.2h-1.2zM150.6,47.6h1.4v1.4h-1.4zM168.8,30.0h1.4v1.4h-1.4zM133.5,40.6h1.4v1.4h-1.4zM160.9,48.4h1.2v1.2h-1.2zM131.6,105.7h1.4v1.4h-1.4zM167.9,72.4h1.2v1.2h-1.2zM170.5,101.3h1.4v1.4h-1.4zM148.6,58.1h1.4v1.4h-1.4zM96.0,68.1h1.0v1.0h-1.0zM122.7,87.8h1.0v1.0h-1.0zM155.4,96.8h1.4v1.4h-1.4zM122.4,98.6h1.0v1.0h-1.0zM104.6,38.1h1.2v1.2h-1.2zM164.9,100.8h1.0v1.0h-1.0zM161.8,86.8h1.0v1.0h-1.0zM171.4,38.7h1.0v1.0h-1.0zM87.8,96.9h1.4v1.4h-1.4zM164.9,68.3h1.0v1.0h-1.0zM151.5,83.9h1.2v1.2h-1.2zM160.3,84.0h1.0v1.0h-1.0zM94.8,87.6h1.0v1.0h-1.0zM116.6,109.2h1.0v1.0h-1.0zM172.8,33.7h1.0v1.0h-1.0zM93.5,30.7h1.0v1.0h-1.0zM151.4,108.4h1.4v1.4h-1.4zM118.7,100.3h1.4v1.4h-1.4zM139.3,21.3h1.0v1.0h-1.0zM153.4,83.8h1.0v1.0h-1.0zM120.1,45.2h1.2v1.2h-1.2zM145.3,58.8h1.0v1.0h-1.0zM149.4,107.5h1.2v1.2h-1.2zM158.2,100.2h1.2v1.2h-1.2zM128.5,80.3h1.0v1.0h-1.0zM149.1,95.4h1.0v1.0h-1.0zM153.5,90.7h1.2v1.2h-1.2zM164.7,52.1h1.4v1.4h-1.4zM146.8,106.1h1.4v1.4h-1.4zM171.0,35.5h1.2v1.2h-1.2zM140.3,39.3h1.2v1.2h-1.2zM120.5,62.5h1.4v1.4h-1.4zM90.9,80.6h1.2v1.2h-1.2zM146.7,98.4h1.0v1.0h-1.0zM101.5,19.1h1.4v1.4h-1.4zM102.6,53.7h1.4v1.4h-1.4zM148.5,92.3h1.0v1.0h-1.0zM145.8,105.6h1.0v1.0h-1.0zM152.2,35.4h1.0v1.0h-1.0zM127.9,22.0h1.0v1.0h-1.0zM111.3,68.2h1.0v1.0h-1.0zM94.5,69.6h1.4v1.4h-1.4zM135.2,25.6h1.2v1.2h-1.2zM161.4,45.2h1.4v1.4h-1.4zM172.4,24.9h1.0v1.0h-1.0zM127.4,20.7h1.2v1.2h-1.2zM106.1,43.5h1.2v1.2h-1.2zM94.4,41.7h1.0v1.0h-1.0zM150.7,29.8h1.0v1.0h-1.0zM148.2,16.2h1.4v1.4h-1.4zM128.5,83.5h1.2v1.2h-1.2zM88.2,41.7h1.0v1.0h-1.0zM139.3,45.3h1.4v1.4h-1.4zM147.2,86.8h1.2v1.2h-1.2zM128.5,73.5h1.2v1.2h-1.2zM151.5,102.8h1.0v1.0h-1.0zM87.9,58.1h1.4v1.4h-1.4zM168.5,60.8h1.4v1.4h-1.4zM149.7,70.5h1.0v1.0h-1.0zM170.0,24.5h1.2v1.2h-1.2zM136.4,102.4h1.0v1.0h-1.0zM169.8,30.5h1.4v1.4h-1.4zM167.9,33.7h1.2v1.2h-1.2zM127.6,98.3h1.2v1.2h-1.2zM155.2,72.3h1.0v1.0h-1.0zM109.4,26.7h1.0v1.0h-1.0zM89.0,87.0h1.2v1.2h-1.2zM104.5,73.2h1.2v1.2h-1.2zM152.3,84.1h1.2v1.2h-1.2zM146.0,59.7h1.4v1.4h-1.4zM150.7,55.7h1.2v1.2h-1.2zM110.0,67.9h1.2v1.2h-1.2zM135.8,36.3h1.0v1.0h-1.0zM144.3,34.5h1.0v1.0h-1.0zM152.3,74.4h1.4v1.4h-1.4zM151.4,83.1h1.4v1.4h-1.4zM126.4,30.1h1.4v1.4h-1.4zM131.5,86.7h1.4v1.4h-1.4zM137.7,105.7h1.4v1.4h-1.4zM120.6,37.0h1.0v1.0h-1.0zM134.9,92.2h1.2v1.2h-1.2zM141.1,22.2h1.0v1.0h-1.0zM112.5,16.0h1.2v1.2h-1.2zM170.3,75.2h1.0v1.0h-1.0zM97.5,52.5h1.2v1.2h-1.2zM126.9,75.5h1.0v1.0h-1.0zM147.1,27.6h1.4v1.4h-1.4zM156.4,100.6h1.0v1.0h-1.0zM139.2,109.6h1.2v1.2h-1.2zM150.2,26.9h1.0v1.0h-1.0zM156.4,53.4h1.4v1.4h-1.4zM148.0,26.1h1.0v1.0h-1.0zM129.3,26.4h1.2v1.2h-1.2zM172.0,50.3h1.2v1.2h-1.2zM108.3,33.0h1.2v1.2h-1.2zM104.2,16.2h1.2v1.2h-1.2zM138.4,76.5h1.4v1.4h-1.4zM143.6,110.0h1.2v1.2h-1.2zM118.5,82.0h1.0v1.0h-1.0zM103.0,73.3h1.2v1.2h-1.2zM89.4,58.5h1.2v1.2h-1.2zM139.4,60.2h1.2v1.2h-1.2zM138.1,85.8h1.0v1.0h-1.0zM87.5,59.5h1.2v1.2h-1.2zM158.6,103.9h1.0v1.0h-1.0zM166.0,109.8h1.2v1.2h-1.2zM166.9,81.0h1.2v1.2h-1.2zM154.2,33.7h1.0v1.0h-1.0zM160.4,109.7h1.2v1.2h-1.2zM151.1,46.1h1.2v1.2h-1.2zM143.5,22.1h1.0v1.0h-1.0zM167.3,104.7h1.2v1.2h-1.2zM157.0,35.6h1.2v1.2h-1.2zM158.1,43.5h1.4v1.4h-1.4zM111.5,70.3h1.2v1.2h-1.2zM157.0,35.9h1.2v1.2h-1.2zM118.1,73.6h1.4v1.4h-1.4zM126.3,102.9h1.4v1.4h-1.4zM172.0,29.2h1.2v1.2h-1.2zM123.9,99.2h1.0v1.0h-1.0zM145.6,83.3h1.2v1.2h-1.2zM119.4,21.0h1.0v1.0h-1.0zM167.6,107.1h1.0v1.0h-1.0zM136.8,82.6h1.2v1.2h-1.2zM143.9,104.6h1.0v1.0h-1.0zM160.9,45.5h1.0v1.0h-1.0zM93.3,32.3h1.2v1.2h-1.2zM148.8,25.7h1.4v1.4h-1.4zM110.7,101.0h1.4v1.4h-1.4zM125.3,75.8h1.2v1.2h-1.2zM143.6,52.7h1.0v1.0h-1.0zM157.5,99.1h1.2v1.2h-1.2zM128.4,103.5h1.4v1.4h-1.4zM155.4,91.6h1.0v1.0h-1.0zM152.7,28.4h1.4v1.4h-1.4zM122.2,95.4h1.4v1.4h-1.4zM131.6,63.0h1.4v1.4h-1.4zM98.0,107.5h1.2v1.2h-1.2zM129.6,69.9h1.4v1.4h-1.4zM129.9,66.7h1.2v1.2h-1.2zM154.1,45.0h1.4v1.4h-1.4zM91.3,51.4h1.0v1.0h-1.0zM165.1,97.7h1.2v1.2h-1.2zM168.2,89.0h1.2v1.2h-1.2zM155.2,35.7h1.2v1.2h-1.2zM171.5,25.5h1.4v1.4h-1.4zM147.6,21.2h1.4v1.4h-1.4zM131.2,49.7h1.4v1.4h-1.4zM97.2,48.4h1.2v1.2h-1.2zM110.4,26.0h1.4v1.4h-1.4zM132.7,72.1h1.0v1.0h-1.0zM150.7,50.0h1.2v1.2h-1.2zM153.2,50.0h1.2v1.2h-1.2zM114.9,83.0h1.0v1.0h-1.0zM98.2,47.3h1.2v1.2h-1.2zM163.4,23.1h1.2v1.2h-1.2zM145.7,24.6h1.2v1.2h-1.2zM152.7,76.8h1.0v1.0h-1.0zM158.3,24.9h1.4v1.4h-1.4zM138.0,39.9h1.0v1.0h-1.0zM148.2,75.4h1.0v1.0h-1.0zM143.5,44.3h1.4v1.4h-1.4zM172.8,18.0h1.0v1.0h-1.0zM126.5,61.9h1.0v1.0h-1.0zM146.2,98.2h1.2v1.2h-1.2zM165.1,67.4h1.2v1.2h-1.2zM171.1,105.6h1.4v1.4h-1.4zM115.9,44.3h1.4v1.4h-1.4zM119.1,38.1h1.4v1.4h-1.4zM144.4,30.1h1.4v1.4h-1.4zM124.4,80.2h1.2v1.2h-1.2zM157.3,64.2h1.0v1.0h-1.0zM146.2,28.9h1.2v1.2h-1.2zM130.5,31.3h1.0v1.0h-1.0zM152.2,70.7h1.0v1.0h-1.0zM135.4,54.4h1.2v1.2h-1.2zM145.1,17.7h1.0v1.0h-1.0zM163.9,67.6h1.0v1.0h-1.0zM101.5,22.9h1.0v1.0h-1.0zM87.1,53.8h1.2v1.2h-1.2zM159.2,77.1h1.4v1.4h-1.4zM154.4,72.1h1.2v1.2h-1.2zM135.8,24.7h1.2v1.2h-1.2zM135.3,98.3h1.2v1.2h-1.2zM166.4,53.4h1.4v1.4h-1.4zM119.1,36.7h1.0v1.0h-1.0zM151.9,22.4h1.4v1.4h-1.4zM119.6,28.2h1.0v1.0h-1.0zM126.5,35.9h1.0v1.0h-1.0zM128.1,52.2h1.0v1.0h-1.0zM172.4,19.8h1.2v1.2h-1.2zM164.8,25.2h1.2v1.2h-1.2zM141.5,40.9h1.2v1.2h-1.2zM133.0,62.1h1.0v1.0h-1.0zM88.5,108.6h1.0v1.0h-1.0zM90.3,77.7h1.2v1.2h-1.2zM128.2,67.2h1.0v1.0h-1.0zM163.3,15.5h1.0v1.0h-1.0zM150.7,85.8h1.0v1.0h-1.0zM105.5,29.3h1.4v1.4h-1.4zM142.2,38.0h1.4v1.4h-1.4zM110.9,64.1h1.2v1.2h-1.2zM148.6,29.2h1.4v1.4h-1.4zM148.6,87.2h1.4v1.4h-1.4zM119.4,29.8h1.4v1.4h-1.4zM152.9,52.7h1.2v1.2h-1.2zM155.2,107.2h1.0v1.0h-1.0zM104.5,73.9h1.0v1.0h-1.0zM135.9,76.2h1.4v1.4h-1.4zM139.1,106.6h1.2v1.2h-1.2zM172.5,52.4h1.0v1.0h-1.0zM151.1,73.1h1.2v1.2h-1.2zM100.6,103.8h1.2v1.2h-1.2zM123.4,56.6h1.0v1.0h-1.0zM161.7,100.1h1.0v1.0h-1.0zM102.5,52.1h1.0v1.0h-1.0zM165.7,77.9h1.4v1.4h-1.4zM145.8,54.9h1.0v1.0h-1.0zM107.8,62.1h1.0v1.0h-1.0zM153.5,68.8h1.0v1.0h-1.0zM124.7,26.5h1.4v1.4h-1.4zM139.3,53.1h1.4v1.4h-1.4zM160.8,101.3h1.4v1.4h-1.4zM92.7,85.1h1.4v1.4h-1.4zM132.1,107.6h1.0v1.0h-1.0zM156.3,57.8h1.0v1.0h-1.0zM90.1,96.6h1.0v1.0h-1.0zM133.6,58.0h1.2v1.2h-1.2zM170.3,92.0h1.2v1.2h-1.2zM163.8,15.6h1.4v1.4h-1.4zM120.8,68.0h1.4v1.4h-1.4zM137.0,97.7h1.0v1.0h-1.0zM92.5,58.7h1.0v1.0h-1.0zM113.3,69.7h1.4v1.4h-1.4zM108.0,109.9h1.0v1.0h-1.0zM139.9,87.2h1.0v1.0h-1.0zM98.3,15.6h1.4v1.4h-1.4zM125.8,56.0h1.0v1.0h-1.0zM138.8,89.4h1.4v1.4h-1.4zM159.4,100.7h1.4v1.4h-1.4zM139.3,36.2h1.4v1.4h-1.4zM156.3,21.3h1.0v1.0h-1.0zM130.8,74.4h1.0v1.0h-1.0zM97.3,73.6h1.2v1.2h-1.2zM161.1,46.8h1.2v1.2h-1.2zM146.5,52.4h1.2v1.2h-1.2zM109.0,106.9h1.2v1.2h-1.2zM139.4,81.2h1.4v1.4h-1.4zM135.3,36.3h1.2v1.2h-1.2zM128.8,103.1h1.2v1.2h-1.2zM143.0,65.4h1.2v1.2h-1.2zM164.8,79.7h1.0v1.0h-1.0zM136.0,23.4h1.0v1.0h-1.0zM105.5,94.8h1.0v1.0h-1.0zM118.1,54.5h1.4v1.4h-1.4zM132.4,102.9h1.4v1.4h-1.4zM151.9,82.2h1.2v1.2h-1.2zM136.5,75.2h1.2v1.2h-1.2zM126.0,33.0h1.2v1.2h-1.2zM102.5,28.4h1.2v1.2h-1.2zM131.7,22.3h1.4v1.4h-1.4zM160.4,55.0h1.4v1.4h-1.4zM124.9,74.2h1.2v1.2h-1.2zM153.3,68.0h1.4v1.4h-1.4zM171.8,59.7h1.2v1.2h-1.2zM171.7,18.9h1.2v1.2h-1.2zM134.2,108.8h1.0v1.0h-1.0zM108.9,46.8h1.0v1.0h-1.0zM149.4,57.2h1.2v1.2h-1.2zM139.8,107.5h1.4v1.4h-1.4zM147.3,42.8h1.2v1.2h-1.2zM162.8,60.7h1.2v1.2h-1.2zM144.6,24.7h1.4v1.4h-1.4zM159.4,52.8h1.0v1.0h-1.0zM153.5,32.4h1.2v1.2h-1.2zM131.3,23.7h1.2v1.2h-1.2zM160.8,46.2h1.0v1.0h-1.0zM167.2,108.2h1.0v1.0h-1.0zM125.5,43.5h1.0v1.0h-1.0zM124.7,19.6h1.2v1.2h-1.2zM121.8,40.1h1.4v1.4h-1.4zM109.5,51.7h1.4v1.4h-1.4zM154.6,32.0h1.4v1.4h-1.4zM152.0,57.0h1.2v1.2h-1.2zM153.9,102.7h1.2v1.2h-1.2zM164.5,109.5h1.4v1.4h-1.4zM124.6,76.9h1.0v1.0h-1.0zM150.0,36.8h1.4v1.4h-1.4zM149.2,89.2h1.4v1.4h-1.4zM157.1,41.4h1.0v1.0h-1.0zM145.5,39.2h1.0v1.0h-1.0zM145.2,47.2h1.2v1.2h-1.2zM169.6,92.0h1.2v1.2h-1.2zM133.4,104.6h1.4v1.4h-1.4zM127.5,77.6h1.4v1.4h-1.4zM144.7,48.2h1.2v1.2h-1.2zM140.0,28.3h1.2v1.2h-1.2zM124.6,94.6h1.4v1.4h-1.4zM134.6,48.7h1.0v1.0h-1.0zM158.3,15.3h1.0v1.0h-1.0zM119.3,84.9h1.4v1.4h-1.4zM158.7,35.0h1.4v1.4h-1.4zM163.4,85.5h1.2v1.2h-1.2zM125.1,49.9h1.0v1.0h-1.0zM161.6,92.0h1.0v1.0h-1.0zM125.3,56.7h1.0v1.0h-1.0zM163.8,43.5h1.2v1.2h-1.2zM161.0,45.3h1.2v1.2h-1.2zM135.0,91.4h1.4v1.4h-1.4zM108.9,34.1h1.2v1.2h-1.2zM123.4,108.8h1.0v1.0h-1.0zM142.4,26.3h1.2v1.2h-1.2zM161.2,40.0h1.2v1.2h-1.2zM138.0,104.5h1.2v1.2h-1.2zM150.0,31.8h1.4v1.4h-1.4zM151.1,36.9h1.4v1.4h-1.4zM159.9,76.7h1.2v1.2h-1.2zM91.5,71.2h1.0v1.0h-1.0zM125.9,47.4h1.0v1.0h-1.0zM153.1,92.5h1.0v1.0h-1.0zM125.7,34.0h1.2v1.2h-1.2zM111.9,65.2h1.2v1.2h-1.2zM160.8,101.2h1.2v1.2h-1.2zM95.5,95.7h1.0v1.0h-1.0zM116.5,15.8h1.4v1.4h-1.4zM130.1,76.2h1.0v1.0h-1.0zM119.3,97.2h1.0v1.0h-1.0zM144.3,70.9h1.4v1.4h-1.4zM133.5,54.3h1.0v1.0h-1.0zM150.6,20.0h1.0v1.0h-1.0zM128.3,99.6h1.4v1.4h-1.4zM164.3,41.4h1.0v1.0h-1.0zM121.2,106.8h1.0v1.0h-1.0zM124.2,79.8h1.2v1.2h-1.2zM155.8,108.4h1.2v1.2h-1.2zM147.9,66.6h1.2v1.2h-1.2zM165.9,55.8h1.4v1.4h-1.4zM155.1,106.0h1.4v1.4h-1.4zM143.5,98.8h1.2v1.2h-1.2zM169.3,63.0h1.0v1.0h-1.0zM166.4,38.6h1.2v1.2h-1.2zM125.6,45.6h1.2v1.2h-1.2zM162.1,97.9h1.2v1.2h-1.2zM111.3,31.4h1.0v1.0h-1.0zM144.2,101.7h1.4v1.4h-1.4zM136.2,52.5h1.2v1.2h-1.2zM113.3,60.2h1.2v1.2h-1.2zM124.3,23.6h1.4v1.4h-1.4zM120.6,77.2h1.0v1.0h-1.0zM114.8,92.2h1.2v1.2h-1.2zM137.3,56.9h1.0v1.0h-1.0zM157.1,72.8h1.0v1.0h-1.0zM128.5,62.0h1.4v1.4h-1.4zM129.0,101.1h1.2v1.2h-1.2zM131.0,31.7h1.0v1.0h-1.0zM135.7,103.3h1.0v1.0h-1.0zM131.0,81.8h1.2v1.2h-1.2zM136.7,34.0h1.4v1.4h-1.4zM135.4,22.1h1.0v1.0h-1.0zM168.9,99.0h1.2v1.2h-1.2zM155.1,40.0h1.0v1.0h-1.0zM155.8,102.3h1.0v1.0h-1.0zM147.6,83.6h1.0v1.0h-1.0zM164.8,19.1h1.4v1.4h-1.4zM130.9,33.6h1.2v1.2h-1.2zM116.2,50.6h1.0v1.0h-1.0zM154.5,66.0h1.0v1.0h-1.0zM135.8,88.9h1.4v1.4h-1.4zM114.8,23.0h1.0v1.0h-1.0zM136.1,51.4h1.2v1.2h-1.2zM143.4,80.0h1.4v1.4h-1.4zM114.7,108.4h1.2v1.2h-1.2zM118.2,68.4h1.2v1.2h-1.2zM171.0,56.2h1.4v1.4h-1.4zM158.8,24.4h1.0v1.0h-1.0zM151.1,44.5h1.2v1.2h-1.2zM162.3,50.0h1.2v1.2h-1.2zM159.6,26.9h1.0v1.0h-1.0zM109.8,105.7h1.2v1.2h-1.2zM103.1,100.4h1.2v1.2h-1.2zM159.3,56.4h1.4v1.4h-1.4zM146.9,26.8h1.0v1.0h-1.0zM108.8,73.9h1.4v1.4h-1.4zM107.0,31.2h1.4v1.4h-1.4zM108.4,20.7h1.4v1.4h-1.4zM87.8,90.3h1.4v1.4h-1.4zM140.4,71.3h1.0v1.0h-1.0zM129.9,23.6h1.0v1.0h-1.0zM147.9,15.1h1.0v1.0h-1.0zM157.3,88.1h1.4v1.4h-1.4zM137.6,18.6h1.4v1.4h-1.4zM123.7,16.0h1.4v1.4h-1.4zM133.6,100.3h1.2v1.2h-1.2zM100.6,84.1h1.0v1.0h-1.0zM140.3,41.1h1.2v1.2h-1.2zM126.4,88.6h1.0v1.0h-1.0zM154.6,40.8h1.0v1.0h-1.0zM121.5,61.1h1.0v1.0h-1.0zM107.5,37.8h1.0v1.0h-1.0zM142.4,49.1h1.4v1.4h-1.4zM141.9,47.4h1.2v1.2h-1.2zM168.5,90.9h1.0v1.0h-1.0zM154.5,102.6h1.4v1.4h-1.4zM149.5,109.3h1.0v1.0h-1.0zM134.0,83.1h1.4v1.4h-1.4zM91.6,97.2h1.4v1.4h-1.4zM170.5,26.4h1.0v1.0h-1.0zM131.5,100.5h1.2v1.2h-1.2zM148.5,95.9h1.0v1.0h-1.0zM153.6,102.8h1.0v1.0h-1.0zM126.2,21.9h1.2v1.2h-1.2zM144.5,71.4h1.4v1.4h-1.4zM111.7,46.4h1.0v1.0h-1.0zM171.9,82.9h1.2v1.2h-1.2zM100.3,108.2h1.0v1.0h-1.0zM114.4,48.2h1.2v1.2h-1.2zM124.9,105.7h1.0v1.0h-1.0zM143.8,98.4h1.4v1.4h-1.4zM136.8,104.1h1.4v1.4h-1.4zM91.3,33.9h1.4v1.4h-1.4zM160.3,61.8h1.2v1.2h-1.2zM165.1,51.5h1.4v1.4h-1.4zM98.9,15.6h1.2v1.2h-1.2zM93.2,106.6h1.4v1.4h-1.4zM163.8,15.2h1.0v1.0h-1.0zM130.5,40.3h1.2v1.2h-1.2zM118.9,67.3h1.0v1.0h-1.0zM99.1,104.7h1.4v1.4h-1.4zM142.3,83.0h1.0v1.0h-1.0zM122.9,43.4h1.0v1.0h-1.0zM112.3,78.2h1.0v1.0h-1.0zM153.3,87.7h1.4v1.4h-1.4zM139.2,67.8h1.4v1.4h-1.4zM157.9,62.2h1.4v1.4h-1.4zM113.0,23.7h1.0v1.0h-1.0zM139.4,57.8h1.2v1.2h-1.2zM132.2,38.6h1.2v1.2h-1.2zM168.2,83.1h1.4v1.4h-1.4zM118.6,69.4h1.0v1.0h-1.0zM147.6,70.0h1.2v1.2h-1.2zM143.7,19.7h1.4v1.4h-1.4zM130.8,69.9h1.0v1.0h-1.0zM154.2,68.6h1.4v1.4h-1.4zM172.8,23.5h1.4v1.4h-1.4zM164.7,87.4h1.0v1.0h-1.0zM168.9,35.2h1.4v1.4h-1.4zM132.9,15.9h1.2v1.2h-1.2zM147.7,86.0h1.0v1.0h-1.0zM172.4,55.8h1.0v1.0h-1.0zM90.9,40.7h1.0v1.0h-1.0zM140.3,106.8h1.4v1.4h-1.4zM170.5,104.1h1.0v1.0h-1.0zM137.9,77.7h1.2v1.2h-1.2zM150.9,31.0h1.0v1.0h-1.0zM172.5,108.5h1.4v1.4h-1.4zM142.3,102.7h1.4v1.4h-1.4zM167.0,66.6h1.4v1.4h-1.4zM132.5,19.3h1.4v1.4h-1.4zM88.1,21.2h1.4v1.4h-1.4zM133.1,58.9h1.2v1.2h-1.2zM153.0,100.5h1.0v1.0h-1.0zM149.1,70.8h1.4v1.4h-1.4zM90.8,28.8h1.0v1.0h-1.0zM135.7,68.8h1.0v1.0h-1.0zM130.2,40.5h1.4v1.4h-1.4zM121.8,37.7h1.0v1.0h-1.0zM118.3,109.5h1.0v1.0h-1.0zM113.9,73.9h1.0v1.0h-1.0zM158.1,82.8h1.4v1.4h-1.4zM99.8,88.8h1.0v1.0h-1.0zM134.7,44.4h1.0v1.0h-1.0zM129.5,59.0h1.4v1.4h-1.4zM161.8,45.9h1.4v1.4h-1.4zM131.4,91.5h1.0v1.0h-1.0zM86.0,99.9h1.0v1.0h-1.0zM153.6,87.2h1.0v1.0h-1.0zM148.4,42.9h1.0v1.0h-1.0zM120.5,82.2h1.4v1.4h-1.4zM97.3,25.7h1.2v1.2h-1.2zM166.0,63.8h1.4v1.4h-1.4zM155.7,27.2h1.0v1.0h-1.0zM148.1,102.7h1.0v1.0h-1.0zM151.6,54.2h1.4v1.4h-1.4zM133.7,51.7h1.2v1.2h-1.2zM172.6,93.2h1.0v1.0h-1.0zM137.9,34.7h1.4v1.4h-1.4zM170.6,71.0h1.4v1.4h-1.4zM162.1,107.9h1.0v1.0h-1.0zM128.3,107.3h1.0v1.0h-1.0zM98.8,102.7h1.4v1.4h-1.4zM156.7,94.7h1.2v1.2h-1.2zM139.6,108.0h1.4v1.4h-1.4zM153.1,84.6h1.0v1.0h-1.0zM150.7,61.3h1.2v1.2h-1.2zM101.2,61.0h1.2v1.2h-1.2zM156.5,44.0h1.4v1.4h-1.4zM115.9,101.1h1.0v1.0h-1.0zM126.2,45.9h1.2v1.2h-1.2zM151.4,65.7h1.2v1.2h-1.2zM154.6,19.6h1.2v1.2h-1.2zM123.4,33.0h1.0v1.0h-1.0zM127.4,86.9h1.0v1.0h-1.0zM153.5,51.3h1.0v1.0h-1.0zM131.3,67.6h1.0v1.0h-1.0zM98.6,63.6h1.2v1.2h-1.2zM123.6,68.1h1.0v1.0h-1.0zM129.3,30.3h1.2v1.2h-1.2zM126.3,103.8h1.4v1.4h-1.4zM96.9,35.1h1.2v1.2h-1.2zM131.4,16.5h1.2v1.2h-1.2zM145.9,20.9h1.4v1.4h-1.4zM143.7,68.1h1.4v1.4h-1.4zM156.8,105.7h1.0v1.0h-1.0zM121.4,91.4h1.0v1.0h-1.0zM162.3,72.2h1.2v1.2h-1.2zM86.3,62.8h1.4v1.4h-1.4zM89.9,107.8h1.0v1.0h-1.0zM166.0,25.8h1.2v1.2h-1.2zM142.4,19.9h1.4v1.4h-1.4zM112.5,35.5h1.2v1.2h-1.2zM131.2,90.4h1.2v1.2h-1.2zM140.7,16.7h1.0v1.0h-1.0zM152.9,88.2h1.0v1.0h-1.0zM133.6,71.7h1.0v1.0h-1.0zM112.6,86.9h1.0v1.0h-1.0zM115.6,29.4h1.4v1.4h-1.4zM141.7,28.5h1.0v1.0h-1.0zM112.5,65.5h1.4v1.4h-1.4zM142.1,64.9h1.4v1.4h-1.4zM123.4,55.2h1.0v1.0h-1.0zM150.8,79.5h1.4v1.4h-1.4zM99.2,80.9h1.2v1.2h-1.2zM155.9,106.5h1.4v1.4h-1.4zM149.2,15.2h1.4v1.4h-1.4zM146.9,81.5h1.0v1.0h-1.0zM159.5,24.6h1.4v1.4h-1.4zM112.2,47.0h1.4v1.4h-1.4zM167.2,25.0h1.4v1.4h-1.4zM166.6,20.0h1.2v1.2h-1.2zM133.9,88.8h1.4v1.4h-1.4zM136.1,84.0h1.0v1.0h-1.0zM160.7,83.8h1.4v1.4h-1.4zM140.8,52.3h1.4v1.4h-1.4zM146.4,105.4h1.4v1.4h-1.4zM118.7,31.2h1.4v1.4h-1.4zM131.5,45.7h1.4v1.4h-1.4zM119.8,22.2h1.0v1.0h-1.0zM120.2,103.2h1.0v1.0h-1.0zM160.9,65.4h1.0v1.0h-1.0zM172.8,48.0h1.4v1.4h-1.4zM141.2,103.9h1.0v1.0h-1.0zM152.1,96.2h1.2v1.2h-1.2zM111.9,97.9h1.4v1.4h-1.4zM119.5,78.8h1.2v1.2h-1.2zM166.8,53.8h1.4v1.4h-1.4zM151.0,92.0h1.4v1.4h-1.4zM88.3,68.0h1.0v1.0h-1.0zM122.5,33.6h1.0v1.0h-1.0zM152.5,70.8h1.0v1.0h-1.0zM160.8,27.1h1.2v1.2h-1.2zM129.2,33.8h1.2v1.2h-1.2zM159.9,76.8h1.2v1.2h-1.2zM166.3,91.1h1.0v1.0h-1.0zM163.8,24.0h1.2v1.2h-1.2zM155.1,36.5h1.4v1.4h-1.4zM159.7,86.2h1.0v1.0h-1.0zM143.5,18.3h1.0v1.0h-1.0zM146.5,16.1h1.2v1.2h-1.2zM171.2,106.9h1.4v1.4h-1.4zM120.2,48.3h1.2v1.2h-1.2zM113.6,87.6h1.4v1.4h-1.4zM170.5,26.2h1.0v1.0h-1.0zM133.1,38.1h1.4v1.4h-1.4zM159.5,70.1h1.0v1.0h-1.0zM158.6,42.4h1.4v1.4h-1.4zM170.1,17.5h1.0v1.0h-1.0zM136.1,83.4h1.4v1.4h-1.4zM124.2,103.4h1.2v1.2h-1.2zM110.6,56.2h1.2v1.2h-1.2zM148.8,74.5h1.0v1.0h-1.0zM140.2,80.5h1.0v1.0h-1.0zM113.4,61.8h1.0v1.0h-1.0zM171.4,27.7h1.2v1.2h-1.2zM125.8,103.9h1.0v1.0h-1.0zM123.3,109.7h1.4v1.4h-1.4zM113.9,36.6h1.4v1.4h-1.4zM113.3,30.9h1.0v1.0h-1.0zM146.8,61.7h1.0v1.0h-1.0zM172.0,47.1h1.4v1.4h-1.4zM149.3,105.4h1.0v1.0h-1.0zM165.8,28.8h1.0v1.0h-1.0zM126.7,77.6h1.0v1.0h-1.0zM140.7,69.3h1.2v1.2h-1.2zM172.8,60.6h1.2v1.2h-1.2zM128.0,23.9h1.2v1.2h-1.2zM151.3,46.2h1.4v1.4h-1.4zM162.2,83.8h1.2v1.2h-1.2zM164.1,43.4h1.0v1.0h-1.0zM87.9,94.8h1.2v1.2h-1.2zM128.8,82.4h1.2v1.2h-1.2zM158.9,52.7h1.0v1.0h-1.0zM166.3,78.5h1.0v1.0h-1.0zM115.7,53.1h1.4v1.4h-1.4zM139.2,34.6h1.0v1.0h-1.0zM145.6,63.7h1.4v1.4h-1.4zM160.1,71.3h1.4v1.4h-1.4zM106.0,96.6h1.2v1.2h-1.2zM129.2,34.9h1.2v1.2h-1.2zM153.1,97.5h1.4v1.4h-1.4zM139.7,108.9h1.2v1.2h-1.2zM123.3,60.8h1.4v1.4h-1.4zM95.3,104.7h1.0v1.0h-1.0zM148.3,32.1h1.2v1.2h-1.2zM138.6,93.3h1.4v1.4h-1.4zM141.5,88.1h1.4v1.4h-1.4zM112.2,60.2h1.0v1.0h-1.0zM164.7,64.6h1.4v1.4h-1.4zM157.3,67.1h1.2v1.2h-1.2zM161.2,59.8h1.0v1.0h-1.0zM170.4,46.7h1.2v1.2h-1.2zM171.6,88.1h1.4v1.4h-1.4zM160.1,87.4h1.2v1.2h-1.2zM95.7,29.8h1.0v1.0h-1.0zM89.1,41.3h1.4v1.4h-1.4zM162.9,90.3h1.2v1.2h-1.2zM172.1,63.8h1.4v1.4h-1.4zM143.0,73.5h1.0v1.0h-1.0zM97.2,102.1h1.2v1.2h-1.2zM146.2,29.1h1.0v1.0h-1.0zM135.4,18.2h1.0v1.0h-1.0zM124.7,77.9h1.4v1.4h-1.4zM149.4,97.1h1.0v1.0h-1.0zM133.6,25.3h1.2v1.2h-1.2zM155.9,104.3h1.4v1.4h-1.4zM164.2,64.9h1.2v1.2h-1.2zM119.5,31.6h1.4v1.4h-1.4zM121.7,106.2h1.4v1.4h-1.4zM131.7,104.2h1.0v1.0h-1.0zM141.7,23.3h1.2v1.2h-1.2zM136.5,56.0h1.4v1.4h-1.4zM157.1,76.1h1.2v1.2h-1.2zM152.4,63.7h1.4v1.4h-1.4zM172.4,43.0h1.4v1.4h-1.4zM172.4,20.9h1.0v1.0h-1.0zM139.0,25.6h1.4v1.4h-1.4zM137.0,52.3h1.0v1.0h-1.0zM117.3,23.1h1.0v1.0h-1.0zM159.4,63.5h1.4v1.4h-1.4zM133.0,39.2h1.2v1.2h-1.2zM110.6,45.4h1.0v1.0h-1.0zM159.5,58.2h1.4v1.4h-1.4zM153.9,26.1h1.4v1.4h-1.4zM169.8,24.9h1.2v1.2h-1.2zM151.2,34.9h1.4v1.4h-1.4zM95.7,33.6h1.0v1.0h-1.0zM170.5,58.6h1.4v1.4h-1.4zM152.9,84.0h1.0v1.0h-1.0zM131.0,104.1h1.4v1.4h-1.4zM161.2,86.4h1.0v1.0h-1.0zM99.6,24.6h1.4v1.4h-1.4zM140.2,17.0h1.0v1.0h-1.0zM153.9,104.1h1.2v1.2h-1.2zM146.3,75.9h1.0v1.0h-1.0zM153.2,65.6h1.4v1.4h-1.4zM110.5,49.2h1.4v1.4h-1.4zM117.2,59.3h1.4v1.4h-1.4zM156.4,94.7h1.0v1.0h-1.0zM157.4,77.7h1.0v1.0h-1.0zM118.8,50.2h1.0v1.0h-1.0zM134.9,106.3h1.4v1.4h-1.4zM170.8,66.8h1.2v1.2h-1.2zM96.7,82.4h1.0v1.0h-1.0zM132.1,104.9h1.0v1.0h-1.0zM161.0,46.9h1.2v1.2h-1.2zM152.3,94.3h1.4v1.4h-1.4zM87.8,63.4h1.4v1.4h-1.4zM137.9,20.0h1.4v1.4h-1.4zM148.0,95.9h1.4v1.4h-1.4zM119.1,65.0h1.2v1.2h-1.2zM111.1,66.3h1.2v1.2h-1.2zM160.5,70.2h1.2v1.2h-1.2zM149.3,75.9h1.2v1.2h-1.2zM140.9,96.1h1.2v1.2h-1.2zM131.5,21.2h1.2v1.2h-1.2zM151.6,67.4h1.4v1.4h-1.4zM147.4,55.0h1.0v1.0h-1.0zM126.7,48.3h1.4v1.4h-1.4zM93.8,46.2h1.2v1.2h-1.2zM115.4,34.6h1.4v1.4h-1.4zM117.6,47.7h1.0v1.0h-1.0zM167.9,87.1h1.2v1.2h-1.2zM165.8,109.8h1.2v1.2h-1.2zM169.5,19.4h1.2v1.2h-1.2zM169.3,98.2h1.0v1.0h-1.0zM147.5,30.3h1.4v1.4h-1.4zM105.3,52.5h1.4v1.4h-1.4zM164.2,77.3h1.2v1.2h-1.2zM159.4,56.2h1.4v1.4h-1.4zM132.0,28.3h1.4v1.4h-1.4zM164.6,28.0h1.4v1.4h-1.4zM107.1,16.8h1.2v1.2h-1.2zM133.8,35.9h1.0v1.0h-1.0zM111.5,100.4h1.2v1.2h-1.2zM118.6,42.3h1.0v1.0h-1.0zM172.8,60.2h1.2v1.2h-1.2zM145.5,40.0h1.2v1.2h-1.2zM157.3,21.8h1.4v1.4h-1.4zM136.1,95.0h1.0v1.0h-1.0zM159.2,62.6h1.0v1.0h-1.0zM157.7,77.8h1.0v1.0h-1.0zM112.2,55.1h1.2v1.2h-1.2zM135.8,47.7h1.0v1.0h-1.0zM163.1,70.4h1.2v1.2h-1.2zM144.1,57.6h1.2v1.2h-1.2zM156.2,105.6h1.0v1.0h-1.0zM94.6,48.1h1.0v1.0h-1.0zM152.4,36.4h1.4v1.4h-1.4zM119.5,24.2h1.0v1.0h-1.0zM162.9,51.6h1.4v1.4h-1.4zM127.9,41.4h1.0v1.0h-1.0zM131.3,33.9h1.0v1.0h-1.0zM151.4,100.1h1.4v1.4h-1.4zM125.7,108.7h1.4v1.4h-1.4zM168.5,82.1h1.4v1.4h-1.4zM120.2,70.9h1.0v1.0h-1.0zM95.9,29.7h1.2v1.2h-1.2zM122.6,92.3h1.4v1.4h-1.4zM109.3,16.8h1.2v1.2h-1.2zM126.7,82.0h1.2v1.2h-1.2zM158.4,41.8h1.4v1.4h-1.4zM145.8,16.0h1.0v1.0h-1.0zM169.3,84.7h1.0v1.0h-1.0zM172.1,100.4h1.4v1.4h-1.4zM165.2,34.0h1.2v1.2h-1.2zM169.5,63.5h1.0v1.0h-1.0zM127.1,23.6h1.0v1.0h-1.0zM153.5,101.0h1.4v1.4h-1.4zM162.0,92.4h1.0v1.0h-1.0zM154.1,15.5h1.2v1.2h-1.2zM126.1,71.3h1.2v1.2h-1.2zM148.8,89.1h1.0v1.0h-1.0zM91.3,67.3h1.2v1.2h-1.2zM171.0,98.9h1.4v1.4h-1.4zM138.0,66.9h1.4v1.4h-1.4zM119.8,38.1h1.0v1.0h-1.0zM94.3,34.3h1.4v1.4h-1.4zM125.2,43.4h1.4v1.4h-1.4zM126.4,106.8h1.0v1.0h-1.0zM129.8,45.2h1.4v1.4h-1.4zM154.1,85.7h1.4v1.4h-1.4zM152.8,47.9h1.4v1.4h-1.4zM162.1,98.0h1.2v1.2h-1.2zM132.9,98.4h1.4v1.4h-1.4zM160.4,81.9h1.2v1.2h-1.2zM128.7,74.6h1.4v1.4h-1.4zM154.7,39.5h1.0v1.0h-1.0zM107.9,98.7h1.2v1.2h-1.2zM113.7,86.1h1.4v1.4h-1.4zM145.1,51.1h1.0v1.0h-1.0zM150.3,45.3h1.4v1.4h-1.4zM103.3,35.4h1.0v1.0h-1.0zM91.5,106.5h1.4v1.4h-1.4zM156.6,84.2h1.2v1.2h-1.2zM107.6,65.9h1.0v1.0h-1.0zM165.7,44.0h1.0v1.0h-1.0zM171.2,56.7h1.2v1.2h-1.2zM96.7,21.2h1.0v1.0h-1.0zM166.7,87.0h1.2v1.2h-1.2zM109.4,64.6h1.2v1.2h-1.2zM104.4,69.3h1.2v1.2h-1.2zM129.8,38.8h1.0v1.0h-1.0zM137.6,32.3h1.4v1.4h-1.4zM103.5,74.2h1.4v1.4h-1.4zM131.4,26.5h1.2v1.2h-1.2zM117.5,57.9h1.4v1.4h-1.4zM134.7,77.0h1.4v1.4h-1.4zM126.5,76.5h1.2v1.2h-1.2zM145.6,52.7h1.4v1.4h-1.4zM132.3,23.4h1.4v1.4h-1.4zM136.0,88.4h1.4v1.4h-1.4zM154.4,86.5h1.4v1.4h-1.4zM91.9,47.0h1.0v1.0h-1.0zM164.4,88.1h1.0v1.0h-1.0zM171.5,105.5h1.4v1.4h-1.4zM148.9,74.5h1.4v1.4h-1.4zM139.8,83.5h1.2v1.2h-1.2zM114.3,23.4h1.0v1.0h-1.0zM127.2,35.4h1.2v1.2h-1.2zM153.4,109.4h1.2v1.2h-1.2zM134.1,101.7h1.2v1.2h-1.2zM102.4,31.6h1.4v1.4h-1.4zM145.0,84.6h1.2v1.2h-1.2zM92.5,52.5h1.4v1.4h-1.4zM145.1,17.3h1.4v1.4h-1.4zM162.9,47.9h1.0v1.0h-1.0zM117.8,22.7h1.0v1.0h-1.0zM141.1,30.4h1.0v1.0h-1.0zM171.3,77.3h1.2v1.2h-1.2zM149.3,26.5h1.2v1.2h-1.2zM170.2,51.3h1.4v1.4h-1.4zM97.4,31.8h1.2v1.2h-1.2zM148.4,60.2h1.0v1.0h-1.0zM141.0,82.9h1.4v1.4h-1.4zM99.4,109.4h1.2v1.2h-1.2zM167.4,41.2h1.2v1.2h-1.2zM122.5,15.6h1.4v1.4h-1.4zM147.7,76.2h1.2v1.2h-1.2zM170.5,61.5h1.4v1.4h-1.4zM122.3,44.1h1.4v1.4h-1.4zM134.1,107.4h1.2v1.2h-1.2zM109.8,27.7h1.2v1.2h-1.2zM148.3,101.5h1.2v1.2h-1.2zM155.3,49.9h1.0v1.0h-1.0zM169.1,101.2h1.0v1.0h-1.0zM154.3,62.7h1.2v1.2h-1.2zM138.4,27.0h1.0v1.0h-1.0zM143.5,31.7h1.4v1.4h-1.4zM160.7,100.7h1.4v1.4h-1.4zM160.7,26.2h1.0v1.0h-1.0zM149.6,105.7h1.4v1.4h-1.4zM125.3,55.8h1.0v1.0h-1.0zM133.1,86.9h1.2v1.2h-1.2zM172.6,82.3h1.4v1.4h-1.4zM121.2,67.4h1.2v1.2h-1.2zM171.3,68.6h1.0v1.0h-1.0zM94.2,19.5h1.4v1.4h-1.4zM169.8,31.5h1.4v1.4h-1.4zM154.2,96.4h1.2v1.2h-1.2zM171.3,20.1h1.4v1.4h-1.4zM104.8,31.2h1.0v1.0h-1.0zM157.7,84.1h1.2v1.2h-1.2zM168.0,74.1h1.4v1.4h-1.4zM114.2,74.8h1.2v1.2h-1.2zM149.2,19.0h1.2v1.2h-1.2zM131.0,69.5h1.2v1.2h-1.2zM105.8,35.3h1.4v1.4h-1.4z" fill="#E0A63A"/>
<clipPath id="lobeclip"><path d="M133.0,70.0 C134.3,68.0 137.2,67.7 140.0,68.0 C142.8,68.3 146.7,70.7 150.0,72.0 C153.3,73.3 157.3,74.7 160.0,76.0 C162.7,77.3 165.0,77.3 166.0,80.0 C167.0,82.7 165.7,88.0 166.0,92.0 C166.3,96.0 169.0,101.2 168.0,104.0 C167.0,106.8 163.8,108.3 160.0,109.0 C156.2,109.7 149.3,110.3 145.0,108.0 C140.7,105.7 136.2,99.7 134.0,95.0 C131.8,90.3 132.2,84.2 132.0,80.0 C131.8,75.8 131.7,72.0 133.0,70.0Z"/></clipPath>
<g clip-path="url(#lobeclip)">
<rect x="130" y="65" width="40" height="50" fill="url(#lobegrad)"/>
<path d="M159.5,72.8h1.4v1.4h-1.4zM168.0,74.2h1.0v1.0h-1.0zM150.7,73.6h1.2v1.2h-1.2zM168.0,80.3h1.2v1.2h-1.2zM142.0,68.8h1.4v1.4h-1.4zM150.1,87.2h1.2v1.2h-1.2zM150.2,81.7h1.4v1.4h-1.4zM151.0,71.6h1.4v1.4h-1.4zM166.5,95.8h1.0v1.0h-1.0zM136.8,75.3h1.4v1.4h-1.4zM139.8,77.7h1.0v1.0h-1.0zM156.9,90.9h1.4v1.4h-1.4zM164.7,68.4h1.2v1.2h-1.2zM133.9,80.2h1.4v1.4h-1.4zM160.8,70.2h1.2v1.2h-1.2zM162.7,69.1h1.0v1.0h-1.0zM140.6,103.1h1.4v1.4h-1.4zM145.8,75.0h1.0v1.0h-1.0zM160.6,90.1h1.0v1.0h-1.0zM155.1,90.3h1.0v1.0h-1.0zM148.5,99.6h1.0v1.0h-1.0zM152.9,78.2h1.0v1.0h-1.0zM159.2,95.8h1.4v1.4h-1.4zM149.8,78.8h1.2v1.2h-1.2zM158.5,76.0h1.0v1.0h-1.0zM131.9,101.3h1.2v1.2h-1.2zM157.1,75.3h1.0v1.0h-1.0zM143.0,87.2h1.2v1.2h-1.2zM166.3,75.8h1.4v1.4h-1.4zM154.3,96.3h1.0v1.0h-1.0zM143.4,66.7h1.4v1.4h-1.4zM146.9,88.2h1.4v1.4h-1.4zM168.0,90.8h1.0v1.0h-1.0zM151.4,87.1h1.4v1.4h-1.4zM153.8,83.8h1.0v1.0h-1.0zM140.9,86.3h1.2v1.2h-1.2zM161.6,72.2h1.0v1.0h-1.0zM169.0,74.9h1.4v1.4h-1.4zM130.6,66.4h1.0v1.0h-1.0zM166.6,85.8h1.2v1.2h-1.2zM133.0,89.1h1.0v1.0h-1.0zM136.3,95.2h1.0v1.0h-1.0zM161.0,80.8h1.4v1.4h-1.4zM139.1,70.2h1.2v1.2h-1.2zM140.4,68.5h1.4v1.4h-1.4zM159.0,93.5h1.2v1.2h-1.2zM140.9,89.1h1.0v1.0h-1.0zM132.4,75.3h1.2v1.2h-1.2zM155.5,72.7h1.2v1.2h-1.2zM139.9,90.1h1.4v1.4h-1.4zM135.6,68.8h1.4v1.4h-1.4zM135.6,87.0h1.2v1.2h-1.2zM155.4,89.3h1.2v1.2h-1.2zM130.9,72.5h1.2v1.2h-1.2zM149.2,74.4h1.4v1.4h-1.4zM165.8,73.7h1.0v1.0h-1.0zM147.8,71.7h1.0v1.0h-1.0zM160.6,70.1h1.2v1.2h-1.2zM165.1,82.5h1.4v1.4h-1.4zM145.6,70.9h1.0v1.0h-1.0zM164.9,88.1h1.2v1.2h-1.2zM162.3,72.0h1.0v1.0h-1.0zM161.8,70.1h1.4v1.4h-1.4zM151.5,82.0h1.2v1.2h-1.2zM143.7,97.1h1.0v1.0h-1.0zM147.8,74.2h1.0v1.0h-1.0zM152.3,68.7h1.4v1.4h-1.4zM140.7,73.4h1.4v1.4h-1.4zM143.0,90.1h1.4v1.4h-1.4zM167.3,88.7h1.4v1.4h-1.4zM130.8,82.1h1.0v1.0h-1.0zM163.5,82.7h1.2v1.2h-1.2zM131.3,72.6h1.4v1.4h-1.4zM154.5,76.5h1.0v1.0h-1.0zM158.1,91.3h1.0v1.0h-1.0zM169.1,69.0h1.2v1.2h-1.2zM145.2,76.0h1.0v1.0h-1.0zM148.7,80.7h1.2v1.2h-1.2zM138.2,68.3h1.4v1.4h-1.4zM168.4,79.0h1.0v1.0h-1.0zM154.1,84.9h1.4v1.4h-1.4zM137.5,73.7h1.2v1.2h-1.2zM159.4,71.7h1.4v1.4h-1.4zM148.2,97.2h1.2v1.2h-1.2zM169.6,97.5h1.4v1.4h-1.4zM161.9,77.3h1.0v1.0h-1.0zM130.8,93.1h1.2v1.2h-1.2zM162.9,75.1h1.0v1.0h-1.0zM133.9,70.8h1.0v1.0h-1.0zM140.5,74.1h1.4v1.4h-1.4zM141.8,75.5h1.0v1.0h-1.0zM153.9,75.1h1.2v1.2h-1.2zM150.6,74.1h1.2v1.2h-1.2zM138.7,77.6h1.4v1.4h-1.4zM143.8,82.9h1.0v1.0h-1.0zM138.0,68.5h1.2v1.2h-1.2zM139.3,97.2h1.2v1.2h-1.2zM152.5,108.8h1.0v1.0h-1.0zM165.1,93.6h1.2v1.2h-1.2zM154.8,103.8h1.4v1.4h-1.4zM164.9,70.8h1.2v1.2h-1.2zM150.3,75.4h1.4v1.4h-1.4zM154.6,92.3h1.2v1.2h-1.2zM154.3,104.8h1.4v1.4h-1.4zM157.8,66.8h1.2v1.2h-1.2zM148.6,83.1h1.2v1.2h-1.2zM136.8,70.8h1.4v1.4h-1.4zM141.9,75.4h1.4v1.4h-1.4zM154.6,77.3h1.0v1.0h-1.0zM137.1,67.9h1.0v1.0h-1.0zM152.5,74.9h1.4v1.4h-1.4zM153.3,106.2h1.0v1.0h-1.0zM153.8,76.7h1.4v1.4h-1.4zM150.0,74.3h1.4v1.4h-1.4zM164.9,77.9h1.0v1.0h-1.0zM158.3,91.2h1.4v1.4h-1.4zM148.6,92.7h1.2v1.2h-1.2zM159.1,107.6h1.2v1.2h-1.2zM160.5,86.6h1.2v1.2h-1.2zM133.9,74.0h1.2v1.2h-1.2zM137.5,69.4h1.0v1.0h-1.0zM144.7,69.5h1.2v1.2h-1.2zM167.6,77.8h1.0v1.0h-1.0zM137.9,88.4h1.2v1.2h-1.2zM137.2,75.9h1.4v1.4h-1.4zM163.3,84.5h1.0v1.0h-1.0zM163.5,89.8h1.4v1.4h-1.4zM139.9,67.0h1.2v1.2h-1.2zM131.1,75.2h1.4v1.4h-1.4zM147.9,92.1h1.0v1.0h-1.0zM161.3,78.8h1.2v1.2h-1.2zM161.0,88.8h1.2v1.2h-1.2zM151.0,78.4h1.2v1.2h-1.2zM133.1,68.7h1.4v1.4h-1.4zM155.9,80.5h1.4v1.4h-1.4zM153.2,98.5h1.4v1.4h-1.4zM149.9,92.6h1.2v1.2h-1.2zM147.0,78.6h1.2v1.2h-1.2zM143.8,68.0h1.2v1.2h-1.2zM163.3,74.4h1.0v1.0h-1.0zM159.9,84.8h1.2v1.2h-1.2zM145.4,86.0h1.2v1.2h-1.2zM163.1,93.9h1.4v1.4h-1.4zM166.9,69.1h1.4v1.4h-1.4zM158.4,67.2h1.2v1.2h-1.2zM151.4,87.7h1.2v1.2h-1.2zM148.5,82.1h1.2v1.2h-1.2zM150.8,72.4h1.2v1.2h-1.2zM168.6,85.9h1.4v1.4h-1.4zM151.3,94.2h1.4v1.4h-1.4zM130.6,75.9h1.0v1.0h-1.0zM165.3,79.0h1.0v1.0h-1.0zM136.1,89.2h1.0v1.0h-1.0zM138.3,100.9h1.0v1.0h-1.0zM162.2,85.3h1.0v1.0h-1.0zM146.3,84.5h1.0v1.0h-1.0zM145.9,67.6h1.0v1.0h-1.0zM164.2,91.8h1.2v1.2h-1.2zM141.6,77.6h1.0v1.0h-1.0zM146.8,78.6h1.4v1.4h-1.4zM150.6,96.8h1.0v1.0h-1.0zM149.2,104.4h1.0v1.0h-1.0zM145.0,89.1h1.4v1.4h-1.4zM148.6,82.9h1.2v1.2h-1.2zM131.6,82.6h1.4v1.4h-1.4zM140.3,72.6h1.4v1.4h-1.4zM159.5,89.2h1.2v1.2h-1.2zM144.9,71.3h1.0v1.0h-1.0zM158.0,75.0h1.4v1.4h-1.4zM155.4,103.6h1.0v1.0h-1.0zM160.0,82.9h1.4v1.4h-1.4zM130.6,69.7h1.0v1.0h-1.0zM140.0,69.1h1.0v1.0h-1.0zM141.0,70.1h1.4v1.4h-1.4zM146.7,90.7h1.2v1.2h-1.2zM132.1,75.7h1.4v1.4h-1.4zM147.9,89.5h1.2v1.2h-1.2zM142.4,71.6h1.0v1.0h-1.0zM150.6,75.9h1.4v1.4h-1.4zM132.2,69.6h1.2v1.2h-1.2zM137.0,83.2h1.0v1.0h-1.0zM150.1,82.1h1.2v1.2h-1.2zM145.8,84.0h1.2v1.2h-1.2zM153.3,76.9h1.0v1.0h-1.0zM168.3,69.6h1.2v1.2h-1.2zM130.9,81.0h1.4v1.4h-1.4zM152.0,84.1h1.0v1.0h-1.0zM148.4,87.2h1.4v1.4h-1.4zM136.3,68.3h1.0v1.0h-1.0zM139.1,74.4h1.0v1.0h-1.0zM166.7,94.7h1.0v1.0h-1.0zM143.9,82.5h1.0v1.0h-1.0zM166.1,94.1h1.0v1.0h-1.0zM166.1,66.5h1.0v1.0h-1.0zM151.0,76.2h1.0v1.0h-1.0zM162.6,90.8h1.0v1.0h-1.0zM164.2,94.3h1.2v1.2h-1.2zM166.4,95.7h1.4v1.4h-1.4zM168.5,71.6h1.2v1.2h-1.2zM169.9,102.3h1.0v1.0h-1.0zM143.8,71.9h1.4v1.4h-1.4zM144.1,69.1h1.0v1.0h-1.0zM165.3,72.7h1.0v1.0h-1.0zM149.6,71.5h1.2v1.2h-1.2zM149.9,85.7h1.0v1.0h-1.0zM150.0,75.3h1.0v1.0h-1.0zM130.9,73.0h1.4v1.4h-1.4zM158.4,84.3h1.4v1.4h-1.4zM137.2,77.5h1.2v1.2h-1.2zM131.6,68.6h1.0v1.0h-1.0zM165.1,96.0h1.0v1.0h-1.0zM143.6,70.5h1.4v1.4h-1.4zM143.5,73.4h1.0v1.0h-1.0zM164.1,72.6h1.2v1.2h-1.2zM131.3,81.2h1.2v1.2h-1.2zM131.6,70.5h1.2v1.2h-1.2zM138.0,68.0h1.0v1.0h-1.0zM140.0,76.4h1.4v1.4h-1.4zM145.4,88.7h1.0v1.0h-1.0zM145.7,103.3h1.4v1.4h-1.4zM132.2,70.3h1.2v1.2h-1.2zM167.3,79.7h1.0v1.0h-1.0zM136.7,72.7h1.4v1.4h-1.4zM168.1,70.2h1.4v1.4h-1.4zM136.2,67.1h1.0v1.0h-1.0zM131.3,73.9h1.0v1.0h-1.0zM134.1,80.1h1.2v1.2h-1.2zM169.3,66.9h1.4v1.4h-1.4zM137.6,77.9h1.2v1.2h-1.2zM137.4,67.8h1.4v1.4h-1.4zM147.4,84.3h1.2v1.2h-1.2zM155.5,71.8h1.2v1.2h-1.2zM134.5,84.5h1.2v1.2h-1.2zM161.7,83.4h1.2v1.2h-1.2zM138.8,91.4h1.0v1.0h-1.0zM154.0,93.2h1.2v1.2h-1.2zM164.2,76.3h1.4v1.4h-1.4zM144.3,74.3h1.0v1.0h-1.0zM148.1,75.7h1.4v1.4h-1.4zM141.5,104.4h1.4v1.4h-1.4zM146.5,103.5h1.4v1.4h-1.4zM132.8,67.9h1.4v1.4h-1.4zM147.2,78.7h1.4v1.4h-1.4zM154.9,81.3h1.0v1.0h-1.0zM142.1,73.4h1.4v1.4h-1.4zM166.8,85.1h1.0v1.0h-1.0zM145.4,69.7h1.2v1.2h-1.2zM146.8,69.7h1.4v1.4h-1.4zM158.0,69.6h1.4v1.4h-1.4zM138.3,85.0h1.2v1.2h-1.2zM169.6,81.7h1.4v1.4h-1.4zM148.7,103.2h1.2v1.2h-1.2zM151.9,102.6h1.2v1.2h-1.2zM158.8,78.2h1.0v1.0h-1.0zM144.1,101.5h1.2v1.2h-1.2zM138.9,80.2h1.2v1.2h-1.2zM145.0,73.1h1.2v1.2h-1.2zM136.0,86.0h1.4v1.4h-1.4zM158.8,73.4h1.2v1.2h-1.2zM161.0,67.5h1.0v1.0h-1.0zM161.4,84.9h1.2v1.2h-1.2zM136.0,77.4h1.0v1.0h-1.0zM135.9,109.1h1.4v1.4h-1.4zM155.5,104.0h1.4v1.4h-1.4zM153.4,70.0h1.2v1.2h-1.2zM130.1,82.4h1.2v1.2h-1.2zM135.6,85.9h1.0v1.0h-1.0zM132.9,82.0h1.0v1.0h-1.0zM135.0,109.5h1.4v1.4h-1.4zM160.6,83.1h1.2v1.2h-1.2zM148.6,71.3h1.2v1.2h-1.2zM145.0,67.2h1.4v1.4h-1.4zM159.2,85.9h1.2v1.2h-1.2zM169.4,89.1h1.4v1.4h-1.4zM156.3,79.7h1.4v1.4h-1.4zM142.0,74.2h1.2v1.2h-1.2zM144.6,66.8h1.4v1.4h-1.4zM154.4,75.6h1.2v1.2h-1.2zM147.2,75.5h1.4v1.4h-1.4zM162.4,68.8h1.2v1.2h-1.2zM169.4,80.4h1.0v1.0h-1.0zM133.4,87.5h1.0v1.0h-1.0zM138.3,81.8h1.4v1.4h-1.4zM167.4,72.8h1.2v1.2h-1.2zM146.5,73.8h1.2v1.2h-1.2zM149.9,86.5h1.2v1.2h-1.2zM156.2,67.1h1.0v1.0h-1.0zM149.4,81.2h1.0v1.0h-1.0zM167.7,79.7h1.4v1.4h-1.4zM137.3,72.8h1.0v1.0h-1.0zM133.2,75.6h1.4v1.4h-1.4zM139.8,75.6h1.0v1.0h-1.0zM150.3,107.0h1.0v1.0h-1.0zM133.6,91.3h1.2v1.2h-1.2zM132.1,72.8h1.2v1.2h-1.2zM160.3,78.8h1.2v1.2h-1.2zM150.7,69.4h1.4v1.4h-1.4zM157.2,71.6h1.4v1.4h-1.4zM156.5,79.3h1.2v1.2h-1.2zM163.9,88.8h1.4v1.4h-1.4zM141.8,87.3h1.4v1.4h-1.4zM167.1,101.1h1.2v1.2h-1.2zM136.3,108.1h1.4v1.4h-1.4zM153.4,74.3h1.4v1.4h-1.4zM154.1,88.8h1.0v1.0h-1.0zM150.2,79.1h1.2v1.2h-1.2zM162.4,78.8h1.4v1.4h-1.4zM169.7,67.1h1.0v1.0h-1.0zM153.5,79.7h1.2v1.2h-1.2zM160.2,75.5h1.0v1.0h-1.0zM139.9,80.3h1.4v1.4h-1.4zM155.3,81.2h1.4v1.4h-1.4zM153.1,71.7h1.4v1.4h-1.4zM166.9,71.0h1.0v1.0h-1.0zM130.6,70.2h1.0v1.0h-1.0zM156.7,78.4h1.2v1.2h-1.2zM168.5,73.0h1.2v1.2h-1.2zM161.2,82.2h1.0v1.0h-1.0zM161.8,107.8h1.2v1.2h-1.2zM136.8,75.4h1.4v1.4h-1.4zM169.9,107.1h1.4v1.4h-1.4zM141.3,98.2h1.0v1.0h-1.0zM130.9,101.7h1.0v1.0h-1.0zM167.4,74.9h1.2v1.2h-1.2zM153.9,83.2h1.2v1.2h-1.2zM140.7,89.1h1.2v1.2h-1.2zM155.3,69.9h1.2v1.2h-1.2zM166.3,102.6h1.4v1.4h-1.4zM154.7,85.4h1.4v1.4h-1.4zM147.3,102.9h1.0v1.0h-1.0zM156.0,96.3h1.2v1.2h-1.2zM145.6,83.3h1.4v1.4h-1.4zM137.4,75.3h1.2v1.2h-1.2zM143.4,72.4h1.4v1.4h-1.4zM149.9,80.0h1.2v1.2h-1.2zM134.6,70.3h1.0v1.0h-1.0zM148.3,94.4h1.2v1.2h-1.2zM135.9,85.5h1.2v1.2h-1.2zM137.5,67.9h1.0v1.0h-1.0zM157.5,79.8h1.0v1.0h-1.0zM152.8,89.0h1.0v1.0h-1.0zM168.0,72.9h1.0v1.0h-1.0zM147.7,81.6h1.0v1.0h-1.0zM164.8,86.2h1.2v1.2h-1.2zM141.0,71.0h1.4v1.4h-1.4zM154.7,80.1h1.0v1.0h-1.0zM155.6,66.8h1.4v1.4h-1.4zM163.4,88.4h1.2v1.2h-1.2zM167.2,84.6h1.0v1.0h-1.0zM165.4,69.4h1.0v1.0h-1.0zM138.0,78.2h1.4v1.4h-1.4zM147.8,66.4h1.2v1.2h-1.2zM168.7,88.6h1.4v1.4h-1.4zM163.9,77.5h1.4v1.4h-1.4zM168.7,88.3h1.4v1.4h-1.4zM154.0,75.2h1.2v1.2h-1.2zM156.8,77.5h1.2v1.2h-1.2zM149.4,73.9h1.2v1.2h-1.2zM166.1,87.1h1.4v1.4h-1.4zM142.4,78.5h1.2v1.2h-1.2zM132.3,89.7h1.0v1.0h-1.0zM140.2,100.6h1.2v1.2h-1.2zM147.6,79.1h1.2v1.2h-1.2zM136.8,79.2h1.2v1.2h-1.2zM130.7,91.3h1.4v1.4h-1.4zM143.4,76.3h1.0v1.0h-1.0zM167.8,66.5h1.2v1.2h-1.2zM141.4,93.9h1.2v1.2h-1.2zM140.4,93.2h1.2v1.2h-1.2zM159.8,69.9h1.4v1.4h-1.4zM161.4,98.8h1.4v1.4h-1.4zM162.9,66.2h1.0v1.0h-1.0zM132.3,72.3h1.0v1.0h-1.0zM141.5,85.0h1.0v1.0h-1.0zM148.9,68.7h1.4v1.4h-1.4zM143.8,89.0h1.4v1.4h-1.4zM155.5,93.5h1.0v1.0h-1.0zM141.1,84.2h1.2v1.2h-1.2zM152.0,90.9h1.2v1.2h-1.2zM163.6,84.1h1.0v1.0h-1.0zM147.2,67.1h1.0v1.0h-1.0zM155.7,66.4h1.2v1.2h-1.2zM165.8,68.8h1.0v1.0h-1.0zM145.2,107.9h1.4v1.4h-1.4zM156.0,73.8h1.4v1.4h-1.4zM130.9,69.5h1.2v1.2h-1.2zM163.8,81.2h1.2v1.2h-1.2zM132.3,94.4h1.4v1.4h-1.4zM135.4,78.7h1.4v1.4h-1.4zM153.1,77.6h1.4v1.4h-1.4zM140.1,92.4h1.4v1.4h-1.4zM142.3,90.0h1.2v1.2h-1.2zM135.5,96.9h1.0v1.0h-1.0zM145.6,92.2h1.4v1.4h-1.4zM155.4,70.5h1.2v1.2h-1.2zM130.1,70.8h1.4v1.4h-1.4zM138.6,100.4h1.0v1.0h-1.0zM147.2,75.0h1.0v1.0h-1.0zM163.6,79.1h1.2v1.2h-1.2zM133.7,83.5h1.4v1.4h-1.4zM156.5,109.6h1.0v1.0h-1.0zM160.3,79.4h1.4v1.4h-1.4zM140.1,73.7h1.0v1.0h-1.0zM136.9,86.7h1.2v1.2h-1.2zM137.4,70.3h1.4v1.4h-1.4zM143.0,77.5h1.4v1.4h-1.4zM137.8,68.8h1.0v1.0h-1.0zM149.1,80.6h1.4v1.4h-1.4zM139.8,79.3h1.4v1.4h-1.4zM163.3,106.7h1.4v1.4h-1.4zM160.1,74.4h1.4v1.4h-1.4zM151.8,68.1h1.0v1.0h-1.0zM134.4,66.5h1.4v1.4h-1.4zM149.0,99.5h1.2v1.2h-1.2zM137.3,70.4h1.2v1.2h-1.2zM162.7,76.9h1.4v1.4h-1.4zM134.3,74.1h1.4v1.4h-1.4zM147.9,77.7h1.0v1.0h-1.0zM161.6,66.1h1.4v1.4h-1.4zM163.7,71.2h1.0v1.0h-1.0zM155.4,106.6h1.4v1.4h-1.4zM130.9,70.0h1.2v1.2h-1.2zM137.4,82.5h1.4v1.4h-1.4zM139.4,68.8h1.0v1.0h-1.0zM154.2,85.8h1.2v1.2h-1.2zM146.3,80.2h1.2v1.2h-1.2zM137.7,72.8h1.0v1.0h-1.0zM147.1,84.2h1.0v1.0h-1.0zM156.4,108.4h1.2v1.2h-1.2zM152.7,82.6h1.2v1.2h-1.2zM143.1,82.9h1.4v1.4h-1.4zM153.2,71.6h1.4v1.4h-1.4zM162.8,87.9h1.2v1.2h-1.2zM161.4,96.0h1.2v1.2h-1.2zM155.1,109.4h1.4v1.4h-1.4zM147.7,74.4h1.0v1.0h-1.0zM159.1,72.1h1.4v1.4h-1.4zM153.5,68.9h1.0v1.0h-1.0zM158.0,80.8h1.0v1.0h-1.0zM142.9,72.7h1.2v1.2h-1.2zM132.0,73.8h1.2v1.2h-1.2zM149.6,77.1h1.0v1.0h-1.0zM147.7,84.9h1.0v1.0h-1.0zM165.5,72.7h1.2v1.2h-1.2zM143.7,76.4h1.0v1.0h-1.0zM144.8,101.1h1.0v1.0h-1.0zM166.8,77.0h1.4v1.4h-1.4zM141.2,90.6h1.4v1.4h-1.4zM153.9,88.9h1.0v1.0h-1.0zM162.6,74.6h1.0v1.0h-1.0zM167.0,69.8h1.2v1.2h-1.2zM135.7,67.4h1.4v1.4h-1.4zM150.8,68.3h1.0v1.0h-1.0zM145.9,70.2h1.2v1.2h-1.2zM167.6,80.8h1.0v1.0h-1.0zM159.9,68.3h1.0v1.0h-1.0zM160.5,67.9h1.4v1.4h-1.4zM151.0,76.1h1.0v1.0h-1.0zM130.6,72.6h1.2v1.2h-1.2zM167.7,88.7h1.2v1.2h-1.2zM142.7,87.5h1.0v1.0h-1.0zM144.1,74.3h1.2v1.2h-1.2zM148.4,76.1h1.4v1.4h-1.4zM131.0,82.8h1.0v1.0h-1.0zM155.5,96.7h1.2v1.2h-1.2zM168.1,106.1h1.0v1.0h-1.0zM169.7,104.8h1.4v1.4h-1.4zM132.5,68.5h1.0v1.0h-1.0zM150.3,76.7h1.2v1.2h-1.2zM138.4,69.1h1.4v1.4h-1.4zM136.7,77.2h1.0v1.0h-1.0zM135.5,70.9h1.0v1.0h-1.0zM151.0,80.4h1.2v1.2h-1.2zM133.7,75.7h1.4v1.4h-1.4zM162.4,73.1h1.0v1.0h-1.0zM167.0,77.4h1.0v1.0h-1.0zM140.7,71.0h1.4v1.4h-1.4zM161.1,89.6h1.2v1.2h-1.2zM165.1,80.3h1.4v1.4h-1.4zM161.9,81.4h1.4v1.4h-1.4zM155.7,84.9h1.4v1.4h-1.4zM156.2,94.7h1.2v1.2h-1.2zM140.5,72.2h1.2v1.2h-1.2zM141.1,78.8h1.4v1.4h-1.4zM139.1,77.4h1.0v1.0h-1.0zM167.1,81.9h1.0v1.0h-1.0zM158.5,69.8h1.0v1.0h-1.0zM162.9,69.1h1.4v1.4h-1.4zM151.4,81.2h1.4v1.4h-1.4zM148.0,81.5h1.0v1.0h-1.0zM163.5,77.6h1.2v1.2h-1.2zM160.1,68.3h1.0v1.0h-1.0zM139.8,69.8h1.4v1.4h-1.4zM145.6,93.2h1.4v1.4h-1.4zM164.6,93.7h1.0v1.0h-1.0zM157.8,75.6h1.4v1.4h-1.4zM148.6,102.5h1.2v1.2h-1.2zM142.9,66.1h1.2v1.2h-1.2zM169.9,73.3h1.2v1.2h-1.2zM149.3,66.5h1.2v1.2h-1.2zM133.9,81.9h1.4v1.4h-1.4zM141.2,86.0h1.0v1.0h-1.0zM140.7,87.7h1.2v1.2h-1.2zM159.1,77.2h1.2v1.2h-1.2zM160.3,83.6h1.2v1.2h-1.2zM155.8,72.2h1.4v1.4h-1.4zM166.5,77.9h1.0v1.0h-1.0zM130.8,84.8h1.0v1.0h-1.0zM148.0,69.1h1.0v1.0h-1.0zM135.0,70.0h1.0v1.0h-1.0zM159.2,66.6h1.4v1.4h-1.4zM154.0,69.3h1.0v1.0h-1.0zM131.4,82.6h1.4v1.4h-1.4zM136.8,83.7h1.2v1.2h-1.2zM166.5,84.1h1.4v1.4h-1.4zM137.0,81.5h1.4v1.4h-1.4zM141.6,70.6h1.0v1.0h-1.0zM141.9,75.5h1.2v1.2h-1.2zM145.6,77.2h1.0v1.0h-1.0zM138.3,68.0h1.4v1.4h-1.4zM158.8,90.9h1.4v1.4h-1.4zM139.6,80.6h1.4v1.4h-1.4zM158.4,83.7h1.2v1.2h-1.2zM153.4,86.1h1.4v1.4h-1.4zM147.7,91.8h1.2v1.2h-1.2zM159.7,67.5h1.2v1.2h-1.2zM147.8,72.1h1.2v1.2h-1.2zM145.8,73.8h1.2v1.2h-1.2zM170.0,72.9h1.2v1.2h-1.2zM164.7,87.1h1.0v1.0h-1.0zM155.2,100.3h1.4v1.4h-1.4zM169.1,70.0h1.2v1.2h-1.2zM130.1,68.0h1.4v1.4h-1.4zM165.2,96.5h1.0v1.0h-1.0zM132.4,75.0h1.0v1.0h-1.0zM147.4,105.4h1.2v1.2h-1.2zM133.3,76.0h1.2v1.2h-1.2zM163.0,68.3h1.4v1.4h-1.4zM141.8,69.2h1.0v1.0h-1.0zM131.2,81.4h1.2v1.2h-1.2zM162.7,79.5h1.0v1.0h-1.0zM134.5,76.9h1.2v1.2h-1.2zM141.5,71.4h1.4v1.4h-1.4zM138.6,70.8h1.2v1.2h-1.2zM156.7,83.8h1.2v1.2h-1.2zM144.3,69.8h1.2v1.2h-1.2zM164.3,89.3h1.2v1.2h-1.2zM147.2,66.7h1.2v1.2h-1.2zM136.9,84.6h1.2v1.2h-1.2zM138.4,100.6h1.4v1.4h-1.4zM149.0,67.1h1.0v1.0h-1.0zM159.1,76.3h1.4v1.4h-1.4zM150.9,81.6h1.0v1.0h-1.0zM131.5,73.6h1.0v1.0h-1.0zM135.8,104.6h1.2v1.2h-1.2zM139.2,89.7h1.4v1.4h-1.4zM133.2,76.1h1.0v1.0h-1.0zM148.7,95.5h1.0v1.0h-1.0zM167.5,93.8h1.0v1.0h-1.0zM168.1,96.7h1.2v1.2h-1.2zM136.0,67.1h1.4v1.4h-1.4zM164.0,77.6h1.2v1.2h-1.2zM136.4,74.6h1.0v1.0h-1.0zM143.6,76.1h1.4v1.4h-1.4zM143.2,67.2h1.2v1.2h-1.2zM153.2,81.7h1.0v1.0h-1.0zM140.9,87.2h1.4v1.4h-1.4zM137.3,85.6h1.2v1.2h-1.2zM136.5,78.7h1.0v1.0h-1.0zM152.8,68.1h1.4v1.4h-1.4zM153.7,79.7h1.4v1.4h-1.4zM134.4,84.1h1.4v1.4h-1.4zM144.6,92.8h1.4v1.4h-1.4zM149.1,79.2h1.0v1.0h-1.0zM131.5,71.8h1.4v1.4h-1.4zM133.5,79.7h1.2v1.2h-1.2zM147.5,104.7h1.0v1.0h-1.0zM138.6,88.4h1.2v1.2h-1.2zM145.7,78.6h1.4v1.4h-1.4zM156.5,80.4h1.0v1.0h-1.0zM148.6,71.3h1.4v1.4h-1.4zM151.7,101.4h1.0v1.0h-1.0zM138.2,85.5h1.0v1.0h-1.0zM148.0,76.2h1.2v1.2h-1.2zM130.7,101.1h1.4v1.4h-1.4zM149.5,79.6h1.2v1.2h-1.2zM153.3,80.8h1.0v1.0h-1.0zM132.8,105.6h1.2v1.2h-1.2zM157.6,72.2h1.0v1.0h-1.0zM157.2,85.2h1.4v1.4h-1.4zM137.9,80.2h1.4v1.4h-1.4zM150.9,84.9h1.2v1.2h-1.2zM152.3,100.8h1.4v1.4h-1.4zM146.5,100.5h1.0v1.0h-1.0zM155.1,86.3h1.4v1.4h-1.4zM141.3,74.1h1.4v1.4h-1.4zM159.3,78.3h1.4v1.4h-1.4zM159.9,71.8h1.4v1.4h-1.4zM162.8,94.2h1.2v1.2h-1.2zM169.8,66.7h1.0v1.0h-1.0zM149.7,86.5h1.2v1.2h-1.2zM149.9,73.8h1.4v1.4h-1.4zM167.7,75.6h1.2v1.2h-1.2zM138.1,77.6h1.2v1.2h-1.2zM144.7,84.1h1.0v1.0h-1.0zM150.2,85.2h1.2v1.2h-1.2zM161.8,72.0h1.2v1.2h-1.2zM169.5,81.7h1.2v1.2h-1.2zM158.4,90.2h1.4v1.4h-1.4zM130.6,91.7h1.4v1.4h-1.4zM131.3,71.8h1.4v1.4h-1.4zM133.8,76.8h1.0v1.0h-1.0zM157.3,70.3h1.0v1.0h-1.0zM142.0,90.2h1.4v1.4h-1.4zM165.2,77.8h1.0v1.0h-1.0zM164.3,102.3h1.0v1.0h-1.0zM166.4,102.3h1.0v1.0h-1.0zM163.5,77.1h1.0v1.0h-1.0zM151.0,85.1h1.2v1.2h-1.2zM151.0,66.6h1.2v1.2h-1.2zM147.5,69.5h1.4v1.4h-1.4zM151.7,70.6h1.2v1.2h-1.2zM168.9,90.9h1.4v1.4h-1.4zM150.1,74.5h1.0v1.0h-1.0zM153.0,78.6h1.4v1.4h-1.4zM149.3,79.0h1.0v1.0h-1.0zM147.6,74.8h1.4v1.4h-1.4zM133.7,68.5h1.2v1.2h-1.2zM157.2,69.0h1.4v1.4h-1.4zM157.4,88.0h1.4v1.4h-1.4zM131.4,68.7h1.0v1.0h-1.0zM144.3,102.5h1.4v1.4h-1.4zM155.5,74.5h1.0v1.0h-1.0zM155.5,70.3h1.4v1.4h-1.4zM151.3,73.9h1.4v1.4h-1.4zM140.9,104.3h1.4v1.4h-1.4zM137.4,72.8h1.2v1.2h-1.2zM148.2,105.2h1.4v1.4h-1.4zM166.0,71.1h1.0v1.0h-1.0zM130.4,71.8h1.2v1.2h-1.2zM131.5,82.1h1.0v1.0h-1.0zM140.5,67.2h1.2v1.2h-1.2zM132.8,86.9h1.2v1.2h-1.2zM155.7,91.7h1.4v1.4h-1.4zM139.8,90.6h1.0v1.0h-1.0zM151.4,75.2h1.4v1.4h-1.4zM139.8,75.9h1.0v1.0h-1.0zM152.7,104.1h1.0v1.0h-1.0zM139.1,94.7h1.2v1.2h-1.2zM151.0,77.6h1.0v1.0h-1.0zM154.6,84.5h1.0v1.0h-1.0zM166.2,87.0h1.0v1.0h-1.0zM143.0,109.0h1.0v1.0h-1.0zM137.3,84.0h1.0v1.0h-1.0zM138.5,103.3h1.2v1.2h-1.2zM155.3,80.5h1.4v1.4h-1.4zM154.0,79.8h1.0v1.0h-1.0zM134.2,71.6h1.0v1.0h-1.0zM145.1,79.6h1.4v1.4h-1.4zM131.8,73.7h1.0v1.0h-1.0zM137.2,101.5h1.2v1.2h-1.2zM143.9,82.7h1.0v1.0h-1.0zM155.5,87.5h1.0v1.0h-1.0zM144.6,97.0h1.4v1.4h-1.4zM134.1,88.2h1.2v1.2h-1.2zM140.2,82.1h1.4v1.4h-1.4zM157.8,82.5h1.0v1.0h-1.0zM167.2,90.1h1.0v1.0h-1.0zM139.2,74.2h1.2v1.2h-1.2zM160.3,68.3h1.4v1.4h-1.4zM155.4,91.8h1.0v1.0h-1.0zM137.5,81.8h1.2v1.2h-1.2zM150.3,74.7h1.2v1.2h-1.2zM140.9,73.5h1.0v1.0h-1.0zM166.1,74.5h1.0v1.0h-1.0zM160.0,78.6h1.4v1.4h-1.4zM131.0,93.2h1.2v1.2h-1.2zM160.1,67.6h1.2v1.2h-1.2zM158.1,85.6h1.0v1.0h-1.0zM141.0,83.0h1.0v1.0h-1.0zM153.4,69.9h1.2v1.2h-1.2zM158.9,70.0h1.4v1.4h-1.4zM159.6,68.3h1.0v1.0h-1.0zM157.2,79.5h1.0v1.0h-1.0zM131.2,85.6h1.4v1.4h-1.4zM167.9,85.5h1.2v1.2h-1.2zM159.3,95.3h1.2v1.2h-1.2zM154.9,84.1h1.2v1.2h-1.2zM150.9,80.9h1.4v1.4h-1.4zM156.4,69.7h1.2v1.2h-1.2zM154.9,72.4h1.4v1.4h-1.4zM130.7,90.4h1.4v1.4h-1.4zM162.9,83.9h1.0v1.0h-1.0zM165.8,107.0h1.0v1.0h-1.0zM145.9,77.9h1.4v1.4h-1.4zM157.4,86.9h1.0v1.0h-1.0zM142.0,69.2h1.2v1.2h-1.2zM164.5,73.5h1.0v1.0h-1.0zM132.2,71.7h1.2v1.2h-1.2zM137.8,81.6h1.4v1.4h-1.4zM138.5,85.4h1.4v1.4h-1.4zM161.5,66.2h1.4v1.4h-1.4zM141.6,88.3h1.0v1.0h-1.0zM151.0,77.8h1.4v1.4h-1.4zM155.4,66.7h1.4v1.4h-1.4zM166.4,80.0h1.4v1.4h-1.4zM162.4,84.7h1.0v1.0h-1.0zM135.5,91.2h1.0v1.0h-1.0zM156.2,70.6h1.2v1.2h-1.2zM153.1,105.1h1.2v1.2h-1.2zM139.6,72.2h1.2v1.2h-1.2zM132.5,70.3h1.0v1.0h-1.0zM150.3,75.4h1.4v1.4h-1.4zM160.0,68.4h1.2v1.2h-1.2zM151.2,66.4h1.0v1.0h-1.0zM141.3,78.5h1.4v1.4h-1.4zM162.8,85.5h1.0v1.0h-1.0zM141.5,84.4h1.4v1.4h-1.4zM137.5,77.3h1.4v1.4h-1.4zM132.8,75.9h1.2v1.2h-1.2zM164.4,87.9h1.4v1.4h-1.4zM145.4,81.5h1.0v1.0h-1.0zM140.2,75.9h1.2v1.2h-1.2zM156.3,69.6h1.0v1.0h-1.0zM144.1,70.0h1.0v1.0h-1.0zM160.6,108.1h1.4v1.4h-1.4zM150.6,77.5h1.4v1.4h-1.4zM157.5,84.2h1.0v1.0h-1.0zM152.0,101.4h1.0v1.0h-1.0zM169.5,69.2h1.0v1.0h-1.0zM150.1,70.1h1.4v1.4h-1.4zM132.1,82.1h1.4v1.4h-1.4zM145.3,70.7h1.4v1.4h-1.4zM152.4,100.1h1.4v1.4h-1.4zM137.8,72.7h1.2v1.2h-1.2zM162.2,88.6h1.2v1.2h-1.2zM165.7,71.3h1.4v1.4h-1.4zM142.1,72.9h1.2v1.2h-1.2zM154.4,77.3h1.2v1.2h-1.2zM134.3,69.4h1.2v1.2h-1.2zM154.3,75.3h1.0v1.0h-1.0zM138.4,67.5h1.4v1.4h-1.4zM146.3,93.4h1.4v1.4h-1.4zM131.1,74.3h1.0v1.0h-1.0zM167.3,82.3h1.2v1.2h-1.2zM167.9,68.4h1.0v1.0h-1.0zM158.1,84.3h1.2v1.2h-1.2zM146.6,104.1h1.4v1.4h-1.4zM152.8,82.2h1.2v1.2h-1.2zM166.3,75.7h1.0v1.0h-1.0zM147.9,97.4h1.4v1.4h-1.4zM133.7,89.1h1.0v1.0h-1.0zM142.0,73.6h1.2v1.2h-1.2zM163.4,91.6h1.2v1.2h-1.2zM150.0,103.6h1.0v1.0h-1.0zM151.9,77.4h1.2v1.2h-1.2zM130.1,82.3h1.0v1.0h-1.0zM133.9,88.6h1.4v1.4h-1.4zM151.3,75.1h1.2v1.2h-1.2zM164.7,77.4h1.0v1.0h-1.0zM140.1,81.6h1.2v1.2h-1.2zM165.8,90.6h1.4v1.4h-1.4zM136.6,76.7h1.2v1.2h-1.2zM164.2,79.1h1.0v1.0h-1.0zM168.8,98.6h1.4v1.4h-1.4zM158.3,84.2h1.4v1.4h-1.4zM151.7,68.6h1.0v1.0h-1.0zM146.2,100.4h1.4v1.4h-1.4zM142.9,68.2h1.0v1.0h-1.0zM151.2,94.3h1.2v1.2h-1.2zM150.3,78.5h1.0v1.0h-1.0zM153.4,87.8h1.0v1.0h-1.0zM136.1,71.6h1.0v1.0h-1.0zM161.4,98.2h1.2v1.2h-1.2zM169.4,66.8h1.2v1.2h-1.2zM142.8,80.6h1.0v1.0h-1.0zM133.0,99.0h1.0v1.0h-1.0zM162.4,88.3h1.4v1.4h-1.4zM146.6,70.4h1.0v1.0h-1.0zM169.8,81.3h1.4v1.4h-1.4zM161.3,68.0h1.4v1.4h-1.4zM162.8,80.1h1.0v1.0h-1.0zM161.0,73.7h1.2v1.2h-1.2zM160.4,73.2h1.2v1.2h-1.2zM144.1,80.6h1.0v1.0h-1.0zM140.6,108.2h1.0v1.0h-1.0zM141.5,97.7h1.2v1.2h-1.2zM133.2,95.6h1.2v1.2h-1.2zM135.5,78.6h1.0v1.0h-1.0zM163.4,74.9h1.0v1.0h-1.0zM150.0,67.7h1.0v1.0h-1.0zM139.2,77.8h1.4v1.4h-1.4zM142.2,67.1h1.2v1.2h-1.2zM154.7,85.2h1.4v1.4h-1.4zM154.7,71.3h1.0v1.0h-1.0zM162.5,82.0h1.0v1.0h-1.0zM140.0,108.5h1.0v1.0h-1.0zM162.1,84.2h1.0v1.0h-1.0zM133.4,71.8h1.2v1.2h-1.2zM153.8,104.9h1.0v1.0h-1.0zM135.8,87.2h1.4v1.4h-1.4zM144.0,98.0h1.0v1.0h-1.0zM154.4,89.1h1.4v1.4h-1.4zM133.3,92.6h1.0v1.0h-1.0zM169.3,85.9h1.2v1.2h-1.2zM143.3,66.1h1.0v1.0h-1.0zM142.1,91.8h1.0v1.0h-1.0zM156.7,108.1h1.4v1.4h-1.4zM141.5,80.1h1.2v1.2h-1.2zM132.4,80.8h1.4v1.4h-1.4zM133.8,77.6h1.0v1.0h-1.0zM156.1,66.9h1.4v1.4h-1.4zM150.4,90.6h1.2v1.2h-1.2zM145.1,67.1h1.2v1.2h-1.2zM163.9,68.2h1.0v1.0h-1.0zM152.5,70.4h1.4v1.4h-1.4zM162.1,79.2h1.2v1.2h-1.2zM167.2,66.6h1.0v1.0h-1.0zM168.7,71.9h1.4v1.4h-1.4zM151.8,71.5h1.0v1.0h-1.0zM163.3,71.0h1.4v1.4h-1.4zM136.9,77.8h1.0v1.0h-1.0zM131.0,73.2h1.0v1.0h-1.0zM138.6,77.8h1.0v1.0h-1.0zM154.7,67.7h1.4v1.4h-1.4zM141.4,73.6h1.4v1.4h-1.4zM153.7,106.1h1.0v1.0h-1.0zM149.7,80.5h1.0v1.0h-1.0zM147.4,75.6h1.2v1.2h-1.2zM144.2,67.3h1.4v1.4h-1.4zM169.7,87.5h1.0v1.0h-1.0zM169.7,102.8h1.4v1.4h-1.4zM152.0,84.2h1.2v1.2h-1.2zM168.8,82.0h1.0v1.0h-1.0zM147.6,106.8h1.2v1.2h-1.2zM163.2,89.7h1.0v1.0h-1.0zM164.3,81.3h1.4v1.4h-1.4zM142.5,79.9h1.4v1.4h-1.4zM152.5,86.0h1.2v1.2h-1.2zM154.2,103.1h1.0v1.0h-1.0zM147.7,86.4h1.0v1.0h-1.0zM140.7,78.7h1.2v1.2h-1.2zM132.1,91.7h1.0v1.0h-1.0zM167.7,81.4h1.0v1.0h-1.0zM160.8,94.6h1.0v1.0h-1.0zM132.7,66.2h1.2v1.2h-1.2z" fill="#E0A63A"/>
<path d="M141.3,96.8h1.0v1.0h-1.0zM155.3,103.7h1.2v1.2h-1.2zM165.9,106.8h1.2v1.2h-1.2zM158.3,103.9h1.0v1.0h-1.0zM161.4,102.8h1.4v1.4h-1.4zM165.4,99.6h1.0v1.0h-1.0zM169.7,84.1h1.4v1.4h-1.4zM165.0,97.5h1.2v1.2h-1.2zM156.2,103.8h1.4v1.4h-1.4zM158.3,98.9h1.0v1.0h-1.0zM151.2,92.1h1.2v1.2h-1.2zM143.0,95.0h1.0v1.0h-1.0zM159.9,107.6h1.4v1.4h-1.4zM165.7,104.9h1.4v1.4h-1.4zM159.6,103.3h1.0v1.0h-1.0zM138.2,67.1h1.0v1.0h-1.0zM145.1,89.8h1.4v1.4h-1.4zM136.6,87.9h1.0v1.0h-1.0zM167.2,85.2h1.2v1.2h-1.2zM143.6,85.5h1.2v1.2h-1.2zM155.6,105.9h1.0v1.0h-1.0zM155.8,107.2h1.0v1.0h-1.0zM147.6,88.5h1.0v1.0h-1.0zM139.0,94.5h1.0v1.0h-1.0zM161.8,106.9h1.2v1.2h-1.2zM156.9,99.9h1.2v1.2h-1.2zM130.9,101.2h1.0v1.0h-1.0zM134.3,95.5h1.4v1.4h-1.4zM168.2,105.4h1.4v1.4h-1.4zM149.9,107.1h1.4v1.4h-1.4zM161.0,92.9h1.4v1.4h-1.4zM131.1,87.9h1.4v1.4h-1.4zM151.4,102.2h1.4v1.4h-1.4zM162.9,104.9h1.2v1.2h-1.2zM169.2,109.1h1.0v1.0h-1.0zM169.9,98.1h1.4v1.4h-1.4zM158.2,103.1h1.4v1.4h-1.4zM130.9,94.9h1.0v1.0h-1.0zM169.5,95.3h1.2v1.2h-1.2zM166.3,100.3h1.4v1.4h-1.4zM168.3,96.0h1.2v1.2h-1.2zM146.3,88.9h1.0v1.0h-1.0zM141.0,95.0h1.0v1.0h-1.0zM159.4,91.7h1.0v1.0h-1.0zM145.9,106.0h1.0v1.0h-1.0zM168.2,94.3h1.4v1.4h-1.4zM163.8,107.6h1.0v1.0h-1.0zM130.0,97.6h1.0v1.0h-1.0zM137.1,106.6h1.4v1.4h-1.4zM169.1,102.6h1.2v1.2h-1.2zM132.4,109.8h1.2v1.2h-1.2zM158.6,92.7h1.2v1.2h-1.2zM155.5,108.2h1.4v1.4h-1.4zM136.0,82.0h1.2v1.2h-1.2zM143.3,107.4h1.4v1.4h-1.4zM131.9,104.4h1.4v1.4h-1.4zM140.4,99.2h1.0v1.0h-1.0zM139.2,94.0h1.4v1.4h-1.4zM130.9,97.0h1.2v1.2h-1.2zM156.3,68.0h1.0v1.0h-1.0zM132.0,89.9h1.4v1.4h-1.4zM130.8,83.2h1.2v1.2h-1.2zM157.4,107.5h1.2v1.2h-1.2zM142.9,93.4h1.0v1.0h-1.0zM156.6,86.3h1.4v1.4h-1.4zM145.2,93.9h1.4v1.4h-1.4zM154.0,105.8h1.0v1.0h-1.0zM152.4,107.9h1.2v1.2h-1.2zM139.1,102.6h1.2v1.2h-1.2zM138.3,106.4h1.2v1.2h-1.2zM149.9,97.2h1.0v1.0h-1.0zM133.8,84.5h1.0v1.0h-1.0zM145.2,89.8h1.2v1.2h-1.2zM155.2,97.3h1.2v1.2h-1.2zM153.2,102.9h1.0v1.0h-1.0zM138.8,91.0h1.4v1.4h-1.4zM141.4,97.3h1.0v1.0h-1.0zM140.5,73.6h1.2v1.2h-1.2zM145.8,101.8h1.0v1.0h-1.0zM147.4,94.1h1.0v1.0h-1.0zM163.4,91.9h1.2v1.2h-1.2zM154.5,106.5h1.0v1.0h-1.0zM142.8,95.8h1.4v1.4h-1.4zM143.5,94.5h1.0v1.0h-1.0zM156.5,106.2h1.4v1.4h-1.4zM166.5,104.5h1.4v1.4h-1.4zM131.6,91.1h1.0v1.0h-1.0zM162.4,104.8h1.0v1.0h-1.0zM162.4,99.7h1.4v1.4h-1.4zM147.9,102.4h1.0v1.0h-1.0zM150.5,105.0h1.0v1.0h-1.0zM130.3,87.5h1.2v1.2h-1.2zM169.6,90.8h1.2v1.2h-1.2zM139.1,88.3h1.2v1.2h-1.2zM159.6,96.3h1.2v1.2h-1.2zM135.1,94.9h1.0v1.0h-1.0zM156.9,87.1h1.2v1.2h-1.2zM153.1,101.1h1.2v1.2h-1.2zM152.2,105.8h1.2v1.2h-1.2zM167.4,76.5h1.0v1.0h-1.0zM158.6,108.0h1.0v1.0h-1.0zM141.2,89.6h1.2v1.2h-1.2zM141.6,103.9h1.2v1.2h-1.2zM154.2,101.1h1.2v1.2h-1.2zM137.6,97.8h1.4v1.4h-1.4zM154.1,86.7h1.2v1.2h-1.2zM155.5,90.7h1.0v1.0h-1.0zM160.6,88.6h1.0v1.0h-1.0zM150.8,83.1h1.0v1.0h-1.0zM147.0,109.4h1.4v1.4h-1.4zM159.8,94.3h1.4v1.4h-1.4zM141.3,97.3h1.0v1.0h-1.0zM163.3,95.3h1.0v1.0h-1.0zM145.3,96.2h1.0v1.0h-1.0zM153.1,96.7h1.4v1.4h-1.4zM138.4,82.6h1.4v1.4h-1.4zM165.9,93.8h1.4v1.4h-1.4zM168.1,106.7h1.0v1.0h-1.0zM152.6,102.8h1.0v1.0h-1.0zM154.3,85.9h1.4v1.4h-1.4zM155.5,75.2h1.2v1.2h-1.2zM146.0,102.0h1.4v1.4h-1.4zM158.0,88.5h1.2v1.2h-1.2zM131.9,107.1h1.2v1.2h-1.2zM169.0,99.8h1.4v1.4h-1.4zM155.7,91.8h1.0v1.0h-1.0zM152.3,102.1h1.4v1.4h-1.4zM148.7,106.1h1.2v1.2h-1.2zM156.5,84.4h1.4v1.4h-1.4zM167.5,109.4h1.4v1.4h-1.4zM147.0,85.9h1.2v1.2h-1.2zM132.9,92.1h1.2v1.2h-1.2zM168.8,98.7h1.0v1.0h-1.0zM143.6,95.6h1.2v1.2h-1.2zM157.6,92.6h1.4v1.4h-1.4zM143.8,93.9h1.4v1.4h-1.4zM146.5,105.6h1.0v1.0h-1.0zM137.8,109.8h1.0v1.0h-1.0zM159.8,94.1h1.0v1.0h-1.0zM137.7,108.4h1.0v1.0h-1.0zM134.3,104.7h1.4v1.4h-1.4zM153.3,92.6h1.4v1.4h-1.4zM158.9,97.1h1.4v1.4h-1.4zM155.0,105.5h1.2v1.2h-1.2zM166.9,93.5h1.2v1.2h-1.2zM157.2,103.2h1.4v1.4h-1.4zM153.3,97.4h1.0v1.0h-1.0zM151.9,85.2h1.2v1.2h-1.2zM134.3,108.0h1.2v1.2h-1.2zM142.3,104.9h1.0v1.0h-1.0zM143.6,107.7h1.4v1.4h-1.4zM152.8,100.6h1.0v1.0h-1.0zM137.2,101.0h1.0v1.0h-1.0zM159.6,84.1h1.2v1.2h-1.2zM136.3,109.4h1.2v1.2h-1.2zM152.5,100.5h1.0v1.0h-1.0zM164.2,109.1h1.4v1.4h-1.4zM163.9,107.3h1.0v1.0h-1.0zM130.1,102.7h1.2v1.2h-1.2zM166.6,107.0h1.0v1.0h-1.0zM165.8,104.1h1.2v1.2h-1.2zM165.6,107.4h1.4v1.4h-1.4zM158.1,93.7h1.4v1.4h-1.4zM135.6,109.9h1.2v1.2h-1.2zM164.9,107.2h1.0v1.0h-1.0zM137.7,104.4h1.0v1.0h-1.0zM152.9,100.5h1.0v1.0h-1.0zM169.1,97.5h1.2v1.2h-1.2zM151.4,91.1h1.0v1.0h-1.0zM147.0,106.0h1.2v1.2h-1.2zM137.3,103.1h1.4v1.4h-1.4zM162.4,97.4h1.4v1.4h-1.4zM146.9,95.8h1.0v1.0h-1.0zM134.8,108.7h1.4v1.4h-1.4zM141.2,103.2h1.2v1.2h-1.2zM131.2,89.8h1.4v1.4h-1.4zM157.6,87.4h1.4v1.4h-1.4zM168.1,94.8h1.2v1.2h-1.2zM160.5,85.3h1.2v1.2h-1.2zM136.6,87.3h1.2v1.2h-1.2zM149.7,100.2h1.2v1.2h-1.2zM153.1,105.1h1.2v1.2h-1.2zM151.6,99.9h1.0v1.0h-1.0zM161.2,100.5h1.2v1.2h-1.2zM156.1,102.5h1.0v1.0h-1.0zM166.0,100.4h1.2v1.2h-1.2zM159.8,109.2h1.2v1.2h-1.2zM149.9,87.8h1.0v1.0h-1.0zM165.1,109.5h1.4v1.4h-1.4zM147.9,86.0h1.2v1.2h-1.2zM161.4,107.2h1.4v1.4h-1.4zM147.2,109.2h1.0v1.0h-1.0zM165.3,106.6h1.0v1.0h-1.0zM152.5,87.8h1.4v1.4h-1.4zM152.8,109.6h1.2v1.2h-1.2zM140.6,95.8h1.0v1.0h-1.0zM147.2,93.4h1.0v1.0h-1.0zM159.3,93.9h1.0v1.0h-1.0zM163.6,92.9h1.2v1.2h-1.2zM149.7,110.0h1.2v1.2h-1.2zM143.1,90.3h1.4v1.4h-1.4zM136.2,103.3h1.0v1.0h-1.0zM158.4,105.0h1.2v1.2h-1.2zM144.2,105.5h1.4v1.4h-1.4zM162.7,82.7h1.2v1.2h-1.2zM160.7,107.0h1.4v1.4h-1.4zM133.4,79.0h1.0v1.0h-1.0zM152.1,103.1h1.0v1.0h-1.0zM165.7,103.7h1.2v1.2h-1.2zM137.5,74.3h1.4v1.4h-1.4zM163.2,94.6h1.2v1.2h-1.2zM142.5,104.5h1.0v1.0h-1.0zM139.3,86.8h1.4v1.4h-1.4zM132.4,94.0h1.4v1.4h-1.4zM163.1,83.8h1.2v1.2h-1.2zM140.9,91.6h1.0v1.0h-1.0zM150.8,95.7h1.2v1.2h-1.2zM134.4,97.5h1.0v1.0h-1.0zM155.2,96.3h1.4v1.4h-1.4zM165.8,102.5h1.4v1.4h-1.4zM155.3,85.5h1.2v1.2h-1.2zM156.6,97.8h1.4v1.4h-1.4zM135.0,108.0h1.0v1.0h-1.0zM156.9,106.4h1.2v1.2h-1.2zM165.2,92.8h1.2v1.2h-1.2zM155.8,102.9h1.2v1.2h-1.2zM154.6,102.0h1.2v1.2h-1.2zM131.6,87.6h1.0v1.0h-1.0zM133.9,87.9h1.0v1.0h-1.0zM152.5,104.6h1.0v1.0h-1.0zM161.6,99.9h1.4v1.4h-1.4zM135.8,82.0h1.2v1.2h-1.2zM157.9,92.4h1.0v1.0h-1.0zM156.4,91.1h1.2v1.2h-1.2zM153.5,100.8h1.4v1.4h-1.4zM167.7,78.5h1.2v1.2h-1.2zM153.5,89.5h1.4v1.4h-1.4zM159.2,105.0h1.2v1.2h-1.2zM152.4,97.3h1.4v1.4h-1.4zM139.6,87.1h1.2v1.2h-1.2zM163.3,93.2h1.0v1.0h-1.0zM150.0,104.7h1.0v1.0h-1.0zM148.5,87.4h1.2v1.2h-1.2zM157.4,106.1h1.2v1.2h-1.2zM155.3,93.3h1.0v1.0h-1.0zM151.0,103.0h1.0v1.0h-1.0zM169.1,99.4h1.2v1.2h-1.2zM166.4,104.6h1.4v1.4h-1.4zM134.2,83.0h1.4v1.4h-1.4zM160.5,100.2h1.4v1.4h-1.4zM144.1,102.7h1.4v1.4h-1.4zM136.9,99.0h1.4v1.4h-1.4zM142.0,107.6h1.0v1.0h-1.0zM139.8,103.5h1.4v1.4h-1.4zM130.1,85.2h1.0v1.0h-1.0zM152.1,101.6h1.4v1.4h-1.4zM163.3,96.1h1.4v1.4h-1.4zM151.6,71.4h1.4v1.4h-1.4zM146.5,101.3h1.4v1.4h-1.4zM154.5,103.9h1.2v1.2h-1.2zM139.2,108.2h1.0v1.0h-1.0zM156.9,99.9h1.2v1.2h-1.2zM159.6,83.9h1.0v1.0h-1.0zM139.2,94.4h1.0v1.0h-1.0zM160.0,99.2h1.2v1.2h-1.2zM163.1,91.9h1.2v1.2h-1.2zM152.2,96.7h1.2v1.2h-1.2zM153.9,89.2h1.2v1.2h-1.2zM157.9,99.4h1.0v1.0h-1.0zM161.2,98.2h1.2v1.2h-1.2zM146.0,96.1h1.0v1.0h-1.0zM166.3,102.5h1.2v1.2h-1.2zM157.9,71.3h1.4v1.4h-1.4zM160.7,94.8h1.2v1.2h-1.2zM136.6,97.8h1.2v1.2h-1.2zM166.8,86.9h1.2v1.2h-1.2zM154.1,108.6h1.4v1.4h-1.4zM137.2,91.2h1.2v1.2h-1.2zM134.2,90.0h1.0v1.0h-1.0zM145.5,105.7h1.2v1.2h-1.2zM136.4,71.7h1.4v1.4h-1.4zM140.2,108.3h1.2v1.2h-1.2zM140.3,109.4h1.0v1.0h-1.0zM164.6,93.3h1.4v1.4h-1.4zM140.7,93.8h1.4v1.4h-1.4zM168.8,92.6h1.4v1.4h-1.4zM134.6,83.5h1.0v1.0h-1.0zM133.5,89.9h1.2v1.2h-1.2zM145.6,98.8h1.0v1.0h-1.0zM130.7,99.2h1.2v1.2h-1.2zM149.6,95.6h1.0v1.0h-1.0zM146.1,91.9h1.4v1.4h-1.4zM130.8,82.0h1.0v1.0h-1.0zM160.6,84.1h1.2v1.2h-1.2zM142.9,89.1h1.2v1.2h-1.2zM147.4,90.1h1.0v1.0h-1.0zM148.1,108.0h1.4v1.4h-1.4zM145.6,105.6h1.4v1.4h-1.4zM151.3,86.4h1.4v1.4h-1.4zM138.9,108.1h1.4v1.4h-1.4zM161.8,95.1h1.0v1.0h-1.0zM169.6,95.1h1.4v1.4h-1.4zM149.3,109.4h1.4v1.4h-1.4zM134.8,86.0h1.4v1.4h-1.4zM164.9,109.3h1.0v1.0h-1.0zM137.7,102.1h1.0v1.0h-1.0zM146.2,98.1h1.0v1.0h-1.0zM153.8,99.6h1.4v1.4h-1.4zM152.5,84.9h1.4v1.4h-1.4zM139.9,87.8h1.2v1.2h-1.2zM161.9,92.4h1.2v1.2h-1.2zM166.8,108.6h1.4v1.4h-1.4zM137.8,101.7h1.4v1.4h-1.4zM151.0,92.8h1.4v1.4h-1.4zM155.2,108.1h1.0v1.0h-1.0zM168.7,103.2h1.4v1.4h-1.4zM148.8,88.1h1.4v1.4h-1.4zM147.0,102.8h1.2v1.2h-1.2zM140.5,95.0h1.2v1.2h-1.2zM143.9,109.2h1.2v1.2h-1.2zM140.2,92.5h1.4v1.4h-1.4zM136.3,102.9h1.2v1.2h-1.2zM144.7,97.2h1.2v1.2h-1.2zM156.5,87.7h1.0v1.0h-1.0zM160.9,97.6h1.4v1.4h-1.4zM149.6,101.6h1.0v1.0h-1.0zM134.2,93.9h1.0v1.0h-1.0zM163.2,103.9h1.4v1.4h-1.4zM153.1,103.3h1.4v1.4h-1.4zM134.2,96.3h1.2v1.2h-1.2zM150.0,93.4h1.4v1.4h-1.4zM166.4,101.7h1.4v1.4h-1.4zM164.6,100.3h1.4v1.4h-1.4zM131.2,107.8h1.2v1.2h-1.2zM146.1,94.9h1.4v1.4h-1.4zM149.4,96.5h1.4v1.4h-1.4zM135.8,79.8h1.2v1.2h-1.2zM161.8,95.2h1.2v1.2h-1.2zM168.9,109.6h1.4v1.4h-1.4zM141.2,103.5h1.2v1.2h-1.2zM135.5,109.1h1.4v1.4h-1.4zM159.9,93.7h1.2v1.2h-1.2zM147.6,89.4h1.2v1.2h-1.2zM147.8,100.7h1.2v1.2h-1.2zM133.6,88.5h1.2v1.2h-1.2zM140.8,99.3h1.0v1.0h-1.0zM156.1,74.6h1.0v1.0h-1.0zM145.2,92.4h1.2v1.2h-1.2zM139.8,102.6h1.2v1.2h-1.2zM167.2,97.6h1.4v1.4h-1.4zM131.0,105.3h1.2v1.2h-1.2zM134.7,94.4h1.4v1.4h-1.4zM132.0,104.9h1.0v1.0h-1.0zM137.8,86.0h1.2v1.2h-1.2zM154.7,98.8h1.0v1.0h-1.0zM141.5,109.7h1.0v1.0h-1.0zM130.9,99.7h1.0v1.0h-1.0zM137.5,107.3h1.2v1.2h-1.2zM140.1,94.6h1.4v1.4h-1.4zM132.2,93.5h1.0v1.0h-1.0zM159.0,103.7h1.4v1.4h-1.4zM152.9,103.8h1.2v1.2h-1.2zM148.9,109.9h1.2v1.2h-1.2zM167.7,102.5h1.0v1.0h-1.0zM131.9,100.8h1.0v1.0h-1.0zM157.7,92.6h1.0v1.0h-1.0zM136.2,82.7h1.4v1.4h-1.4zM155.7,103.5h1.0v1.0h-1.0zM137.4,109.2h1.0v1.0h-1.0zM147.2,100.5h1.2v1.2h-1.2zM146.1,88.3h1.2v1.2h-1.2zM158.0,96.8h1.2v1.2h-1.2zM160.1,97.1h1.0v1.0h-1.0zM130.1,109.7h1.0v1.0h-1.0zM157.8,92.5h1.2v1.2h-1.2zM144.3,101.2h1.2v1.2h-1.2zM162.8,91.9h1.4v1.4h-1.4zM143.9,105.1h1.2v1.2h-1.2zM146.8,83.8h1.4v1.4h-1.4zM139.3,102.5h1.2v1.2h-1.2zM138.3,106.9h1.2v1.2h-1.2zM168.2,107.0h1.2v1.2h-1.2zM145.8,95.6h1.2v1.2h-1.2zM166.5,91.1h1.0v1.0h-1.0zM161.6,87.1h1.0v1.0h-1.0zM132.7,74.2h1.0v1.0h-1.0zM159.1,99.9h1.2v1.2h-1.2zM165.1,95.7h1.4v1.4h-1.4zM153.6,96.7h1.4v1.4h-1.4zM156.7,97.5h1.4v1.4h-1.4zM166.9,108.7h1.4v1.4h-1.4zM149.9,87.5h1.0v1.0h-1.0zM146.8,104.2h1.0v1.0h-1.0zM149.8,86.1h1.0v1.0h-1.0zM158.1,94.1h1.0v1.0h-1.0zM138.7,82.3h1.4v1.4h-1.4zM148.2,87.9h1.0v1.0h-1.0zM153.3,97.5h1.0v1.0h-1.0zM139.5,89.4h1.2v1.2h-1.2zM147.4,87.5h1.4v1.4h-1.4zM145.2,72.2h1.2v1.2h-1.2zM147.6,106.2h1.4v1.4h-1.4zM151.3,89.3h1.2v1.2h-1.2zM141.5,101.8h1.2v1.2h-1.2zM169.4,97.4h1.4v1.4h-1.4zM157.7,92.3h1.4v1.4h-1.4zM148.3,102.4h1.0v1.0h-1.0zM164.2,101.1h1.0v1.0h-1.0zM143.9,105.3h1.4v1.4h-1.4zM139.0,94.4h1.0v1.0h-1.0zM149.2,82.0h1.2v1.2h-1.2zM135.6,106.3h1.2v1.2h-1.2zM167.7,94.8h1.0v1.0h-1.0zM151.1,99.8h1.2v1.2h-1.2zM131.6,83.1h1.2v1.2h-1.2zM147.1,104.9h1.0v1.0h-1.0zM163.9,88.6h1.4v1.4h-1.4zM154.5,90.3h1.4v1.4h-1.4zM134.0,89.4h1.0v1.0h-1.0zM148.5,80.3h1.0v1.0h-1.0zM166.9,91.3h1.0v1.0h-1.0zM132.8,85.4h1.0v1.0h-1.0zM150.2,96.0h1.0v1.0h-1.0zM160.1,98.4h1.4v1.4h-1.4zM146.0,106.8h1.2v1.2h-1.2zM160.5,95.8h1.4v1.4h-1.4zM139.3,76.7h1.4v1.4h-1.4zM133.8,92.6h1.0v1.0h-1.0zM136.2,89.0h1.4v1.4h-1.4zM158.9,83.8h1.2v1.2h-1.2zM143.2,92.6h1.0v1.0h-1.0zM168.9,96.4h1.0v1.0h-1.0zM141.1,104.7h1.0v1.0h-1.0zM165.7,102.4h1.0v1.0h-1.0zM153.1,83.0h1.4v1.4h-1.4zM146.9,92.9h1.4v1.4h-1.4zM133.7,81.1h1.0v1.0h-1.0zM140.1,104.7h1.0v1.0h-1.0zM168.1,94.4h1.2v1.2h-1.2zM166.2,108.4h1.0v1.0h-1.0zM163.0,96.5h1.2v1.2h-1.2zM150.4,98.0h1.2v1.2h-1.2zM141.7,103.5h1.4v1.4h-1.4zM158.7,89.9h1.0v1.0h-1.0zM163.0,99.2h1.2v1.2h-1.2zM159.6,101.6h1.4v1.4h-1.4zM161.2,95.7h1.0v1.0h-1.0zM156.2,90.6h1.4v1.4h-1.4zM165.2,96.4h1.2v1.2h-1.2zM153.4,99.5h1.2v1.2h-1.2zM160.6,107.4h1.2v1.2h-1.2zM136.4,101.7h1.0v1.0h-1.0zM132.5,101.9h1.2v1.2h-1.2zM159.7,94.0h1.2v1.2h-1.2zM136.4,109.6h1.0v1.0h-1.0zM136.1,93.4h1.0v1.0h-1.0zM149.7,107.5h1.0v1.0h-1.0zM142.4,84.1h1.2v1.2h-1.2zM143.7,102.7h1.4v1.4h-1.4zM147.8,94.8h1.4v1.4h-1.4zM167.2,77.3h1.0v1.0h-1.0zM168.0,91.5h1.0v1.0h-1.0zM160.5,79.8h1.2v1.2h-1.2zM136.4,106.2h1.2v1.2h-1.2zM157.3,83.4h1.2v1.2h-1.2zM149.7,90.3h1.0v1.0h-1.0zM159.0,107.8h1.4v1.4h-1.4zM141.2,109.3h1.4v1.4h-1.4zM144.1,105.8h1.2v1.2h-1.2zM146.9,101.8h1.0v1.0h-1.0zM152.4,88.7h1.2v1.2h-1.2zM140.1,90.3h1.2v1.2h-1.2zM151.6,90.6h1.0v1.0h-1.0zM153.2,96.1h1.0v1.0h-1.0zM150.1,105.8h1.4v1.4h-1.4zM130.3,97.6h1.2v1.2h-1.2zM163.2,94.3h1.2v1.2h-1.2zM135.7,106.0h1.4v1.4h-1.4zM165.0,95.3h1.4v1.4h-1.4zM138.7,100.8h1.4v1.4h-1.4zM130.5,88.7h1.4v1.4h-1.4zM169.5,93.2h1.0v1.0h-1.0zM142.8,98.0h1.2v1.2h-1.2zM158.4,106.0h1.2v1.2h-1.2zM145.2,107.1h1.2v1.2h-1.2zM161.9,109.4h1.0v1.0h-1.0zM140.3,86.2h1.0v1.0h-1.0zM137.3,98.2h1.4v1.4h-1.4zM142.8,95.6h1.0v1.0h-1.0zM154.3,109.4h1.4v1.4h-1.4zM169.0,90.2h1.0v1.0h-1.0zM141.5,96.2h1.4v1.4h-1.4zM139.9,108.4h1.4v1.4h-1.4zM132.7,96.9h1.2v1.2h-1.2zM154.2,107.5h1.0v1.0h-1.0zM146.5,107.9h1.4v1.4h-1.4zM139.2,109.9h1.0v1.0h-1.0zM134.6,89.8h1.4v1.4h-1.4zM140.8,97.1h1.2v1.2h-1.2zM163.8,89.9h1.0v1.0h-1.0zM152.3,103.3h1.4v1.4h-1.4zM152.7,103.1h1.0v1.0h-1.0zM155.9,96.8h1.0v1.0h-1.0zM134.9,101.5h1.2v1.2h-1.2zM149.2,94.2h1.0v1.0h-1.0zM166.2,93.0h1.4v1.4h-1.4zM153.2,92.5h1.4v1.4h-1.4zM142.1,94.9h1.2v1.2h-1.2zM169.6,103.6h1.2v1.2h-1.2zM139.7,109.1h1.0v1.0h-1.0zM133.8,101.2h1.4v1.4h-1.4zM153.7,84.8h1.4v1.4h-1.4zM137.7,101.3h1.4v1.4h-1.4zM159.3,93.1h1.2v1.2h-1.2zM156.2,98.1h1.0v1.0h-1.0zM159.3,109.0h1.0v1.0h-1.0zM161.9,76.6h1.0v1.0h-1.0zM140.2,82.8h1.4v1.4h-1.4zM155.7,109.8h1.0v1.0h-1.0zM146.4,108.8h1.0v1.0h-1.0zM166.4,100.3h1.0v1.0h-1.0zM161.3,104.4h1.4v1.4h-1.4zM159.1,102.5h1.2v1.2h-1.2zM132.7,76.3h1.4v1.4h-1.4zM131.2,96.3h1.0v1.0h-1.0zM169.7,109.2h1.0v1.0h-1.0zM131.9,93.9h1.2v1.2h-1.2zM166.0,103.2h1.4v1.4h-1.4zM149.0,109.2h1.2v1.2h-1.2zM165.8,94.4h1.4v1.4h-1.4zM133.3,103.8h1.0v1.0h-1.0zM136.4,85.1h1.0v1.0h-1.0zM161.7,85.2h1.2v1.2h-1.2zM151.3,99.8h1.4v1.4h-1.4zM149.4,91.8h1.4v1.4h-1.4zM139.3,101.3h1.2v1.2h-1.2zM170.0,98.5h1.4v1.4h-1.4zM147.5,101.3h1.4v1.4h-1.4zM157.7,108.8h1.4v1.4h-1.4zM137.9,95.7h1.0v1.0h-1.0zM156.3,103.2h1.4v1.4h-1.4zM158.0,93.8h1.4v1.4h-1.4zM137.8,89.4h1.4v1.4h-1.4zM151.2,98.3h1.2v1.2h-1.2zM167.8,93.8h1.4v1.4h-1.4zM144.2,105.8h1.0v1.0h-1.0zM169.6,108.1h1.2v1.2h-1.2zM143.8,98.9h1.0v1.0h-1.0zM133.7,94.2h1.4v1.4h-1.4zM138.5,109.3h1.2v1.2h-1.2zM159.0,107.8h1.4v1.4h-1.4zM143.6,98.9h1.2v1.2h-1.2zM151.5,103.1h1.2v1.2h-1.2zM134.6,96.6h1.2v1.2h-1.2z" fill="#DA8EC4"/>
</g>
</g>
<linearGradient id="lobegrad" gradientUnits="userSpaceOnUse" x1="0" y1="74" x2="0" y2="102"><stop offset="0" stop-color="#DFA53B"/><stop offset="0.5" stop-color="#DC9A80"/><stop offset="1" stop-color="#D992BE"/></linearGradient>
<ellipse cx="128" cy="47.6" rx="5.6" ry="7.2" transform="rotate(-22 128 47.6)" fill="#7D68B3" stroke="#fff" stroke-width="0.9"/>
<path d="M94.8,84.4 C96.6,83.1 99.1,83.0 102.6,82.8 C106.1,82.6 111.6,83.2 115.7,83.4 C119.8,83.6 124.6,83.3 127.4,84.0 C130.2,84.7 131.1,86.3 132.4,87.8 C133.7,89.3 134.1,91.1 135.0,93.1 C135.9,95.1 136.7,97.4 137.7,99.6 C138.7,101.8 139.8,103.9 140.9,106.1 C142.0,108.3 143.4,110.4 144.2,112.6 C145.0,114.8 145.7,117.2 145.5,119.2 C145.3,121.2 144.2,122.7 143.1,124.4 C142.0,126.1 140.9,127.9 139.2,129.6 C137.5,131.3 134.9,132.8 132.7,134.8 C130.5,136.8 128.3,139.8 126.1,141.4 C123.9,143.0 122.4,143.8 119.6,144.6 C116.8,145.3 112.2,146.0 109.2,145.9 C106.2,145.8 103.5,145.2 101.3,144.0 C99.1,142.8 97.7,140.9 96.1,138.7 C94.5,136.4 92.9,133.0 91.8,130.5 C90.7,128.0 90.9,125.5 89.6,123.6 C88.3,121.7 85.2,120.6 84.0,119.0 C82.8,117.4 82.5,115.7 82.3,114.0 C82.1,112.3 82.2,110.6 82.6,109.0 C83.0,107.4 83.6,106.3 84.6,104.5 C85.5,102.7 87.1,100.6 88.3,98.3 C89.5,96.0 90.9,92.7 92.0,90.4 C93.1,88.1 93.0,85.7 94.8,84.4Z" fill="#F1666A"/>
<path d="M103.0,127.7h0.9v0.9h-0.9zM143.0,108.8h0.9v0.9h-0.9zM94.5,106.9h0.9v0.9h-0.9zM142.5,115.1h0.9v0.9h-0.9zM105.7,114.1h0.9v0.9h-0.9zM100.2,117.6h0.9v0.9h-0.9zM120.6,144.0h0.9v0.9h-0.9zM104.5,104.2h0.9v0.9h-0.9zM125.2,110.0h0.9v0.9h-0.9zM137.6,111.0h0.9v0.9h-0.9zM128.1,126.0h0.9v0.9h-0.9zM136.4,143.4h0.9v0.9h-0.9zM113.6,115.0h0.9v0.9h-0.9zM120.3,126.4h0.9v0.9h-0.9zM137.3,128.1h0.9v0.9h-0.9zM110.6,139.3h0.9v0.9h-0.9zM144.1,142.3h0.9v0.9h-0.9zM122.9,109.2h0.9v0.9h-0.9zM132.4,116.9h0.9v0.9h-0.9zM135.8,140.1h0.9v0.9h-0.9zM133.0,102.5h0.9v0.9h-0.9zM104.4,104.2h0.9v0.9h-0.9zM122.4,141.9h0.9v0.9h-0.9zM96.7,131.5h0.9v0.9h-0.9zM136.5,113.6h0.9v0.9h-0.9z" fill="#D5C67A"/>
<path d="M170.5,79.0 C171.0,78.0 172.1,76.9 173.0,76.5 C173.9,76.1 175.1,76.4 176.0,76.8 C176.9,77.2 178.0,78.0 178.5,79.0 C179.0,80.0 179.1,81.7 179.0,83.0 C178.9,84.3 178.7,86.1 178.0,87.0 C177.3,87.9 175.9,88.6 175.0,88.5 C174.1,88.4 173.1,87.2 172.5,86.5 C171.9,85.8 172.2,84.7 171.5,84.5 C170.8,84.3 169.2,85.5 168.5,85.5 C167.8,85.5 167.2,85.2 167.5,84.7 C167.8,84.2 169.5,83.8 170.0,82.8 C170.5,81.8 170.0,80.0 170.5,79.0Z" fill="#E8416D"/>
<path d="M79.1,117.1h1.0v1.0h-1.0zM85.3,118.7h1.0v1.0h-1.0zM85.7,109.5h1.0v1.0h-1.0zM81.7,109.9h1.0v1.0h-1.0zM87.6,123.5h1.0v1.0h-1.0zM82.0,108.6h1.0v1.0h-1.0zM76.1,112.2h1.0v1.0h-1.0zM88.9,123.7h1.0v1.0h-1.0zM82.9,123.6h1.0v1.0h-1.0zM77.5,114.5h1.0v1.0h-1.0zM77.4,118.9h1.0v1.0h-1.0zM84.8,108.5h1.0v1.0h-1.0z" fill="#D3CC88"/>
<path d="M151.0,126.0h0.9v0.9h-0.9zM147.4,129.3h0.9v0.9h-0.9zM142.5,129.4h0.9v0.9h-0.9zM142.5,129.8h0.9v0.9h-0.9zM146.6,128.4h0.9v0.9h-0.9zM144.3,127.6h0.9v0.9h-0.9zM140.1,128.2h0.9v0.9h-0.9zM147.2,126.5h0.9v0.9h-0.9z" fill="#E8416D"/>
<path d="M19.4,167.7 V136.5 M19.4,167.7 H51" stroke="#2a1f1f" stroke-width="0.9" fill="none"/>
<path d="M19.4,133.5 L17.3,138.3 L19.4,137.3 L21.5,138.3Z" fill="#2a1f1f"/>
<path d="M54.2,167.7 L49.4,165.6 L50.4,167.7 L49.4,169.8Z" fill="#2a1f1f"/>
<text x="56.30" y="172.20" font-size="7.0" fill="#111" stroke="#111" stroke-width="0.22">tSNE_1</text>
<text x="19.80" y="130.80" font-size="7.0" fill="#111" stroke="#111" stroke-width="0.22" transform="rotate(-90 19.80 130.80)">tSNE_2</text>
<circle cx="197.20" cy="67.20" r="2.10" fill="#F2686A"/>
<text x="204.00" y="69.80" font-size="7.2" stroke="#222" stroke-width="0.22">B</text>
<circle cx="197.20" cy="77.51" r="2.10" fill="#F5631F"/>
<text x="204.00" y="80.11" font-size="7.2" stroke="#222" stroke-width="0.22">CD4</text>
<circle cx="197.20" cy="87.82" r="2.10" fill="#E0A83A"/>
<text x="204.00" y="90.42" font-size="7.2" stroke="#222" stroke-width="0.22">CD8</text>
<circle cx="197.20" cy="98.13" r="2.10" fill="#D6D08A"/>
<text x="204.00" y="100.73" font-size="7.2" stroke="#222" stroke-width="0.22">DC</text>
<circle cx="197.20" cy="108.44" r="2.10" fill="#5DB4CF"/>
<text x="204.00" y="111.04" font-size="7.2" stroke="#222" stroke-width="0.22">Epi</text>
<circle cx="197.20" cy="118.75" r="2.10" fill="#5EC3EC"/>
<text x="204.00" y="121.35" font-size="7.2" stroke="#222" stroke-width="0.22">Macro</text>
<circle cx="197.20" cy="129.06" r="2.10" fill="#6A63AA"/>
<text x="204.00" y="131.66" font-size="7.2" stroke="#222" stroke-width="0.22">Mega</text>
<circle cx="197.20" cy="139.37" r="2.10" fill="#7B62B5"/>
<text x="204.00" y="141.97" font-size="7.2" stroke="#222" stroke-width="0.22">Mono</text>
<circle cx="197.20" cy="149.68" r="2.10" fill="#DC8EC5"/>
<text x="204.00" y="152.28" font-size="7.2" stroke="#222" stroke-width="0.22">NK</text>
<circle cx="197.20" cy="159.99" r="2.10" fill="#E39AC9"/>
<text x="204.00" y="162.59" font-size="7.2" stroke="#222" stroke-width="0.22">Neu</text>
<circle cx="197.20" cy="170.30" r="2.10" fill="#EB3F6B"/>
<text x="204.00" y="172.90" font-size="7.2" stroke="#222" stroke-width="0.22">Plasma</text>
<text x="220.60" y="10.70" font-size="12" fill="#000" font-weight="bold">b</text>
<line x1="257.40" y1="0.00" x2="257.40" y2="149.50" stroke="#333" stroke-width="1"/>
<line x1="256.90" y1="149.10" x2="306.80" y2="149.10" stroke="#333" stroke-width="1"/>
<line x1="255.20" y1="142.80" x2="257.40" y2="142.80" stroke="#333" stroke-width="0.8"/>
<text x="254.30" y="145.40" font-size="7.2" text-anchor="end" fill="#4d4d4d" stroke="#4d4d4d" stroke-width="0.22">0.00</text>
<line x1="255.20" y1="108.90" x2="257.40" y2="108.90" stroke="#333" stroke-width="0.8"/>
<text x="254.30" y="111.50" font-size="7.2" text-anchor="end" fill="#4d4d4d" stroke="#4d4d4d" stroke-width="0.22">0.25</text>
<line x1="255.20" y1="75.00" x2="257.40" y2="75.00" stroke="#333" stroke-width="0.8"/>
<text x="254.30" y="77.60" font-size="7.2" text-anchor="end" fill="#4d4d4d" stroke="#4d4d4d" stroke-width="0.22">0.50</text>
<line x1="255.20" y1="41.10" x2="257.40" y2="41.10" stroke="#333" stroke-width="0.8"/>
<text x="254.30" y="43.70" font-size="7.2" text-anchor="end" fill="#4d4d4d" stroke="#4d4d4d" stroke-width="0.22">0.75</text>
<line x1="255.20" y1="7.20" x2="257.40" y2="7.20" stroke="#333" stroke-width="0.8"/>
<text x="254.30" y="9.80" font-size="7.2" text-anchor="end" fill="#4d4d4d" stroke="#4d4d4d" stroke-width="0.22">1.00</text>
<line x1="266.30" y1="149.10" x2="266.30" y2="151.30" stroke="#333" stroke-width="0.8"/>
<line x1="282.00" y1="149.10" x2="282.00" y2="151.30" stroke="#333" stroke-width="0.8"/>
<line x1="297.70" y1="149.10" x2="297.70" y2="151.30" stroke="#333" stroke-width="0.8"/>
<rect x="262.50" y="7.20" width="7.70" height="120.68" fill="#EE0A4F"/>
<rect x="262.50" y="127.88" width="7.70" height="14.92" fill="#66BDE9"/>
<rect x="278.20" y="7.20" width="7.70" height="82.44" fill="#7467B0"/>
<rect x="278.20" y="89.64" width="7.70" height="53.16" fill="#F8634A"/>
<rect x="293.90" y="7.20" width="7.70" height="56.00" fill="#7B9FD6"/>
<rect x="293.90" y="63.20" width="7.70" height="26.44" fill="#B493C6"/>
<rect x="293.90" y="89.64" width="7.70" height="17.22" fill="#FDB26F"/>
<rect x="293.90" y="106.87" width="7.70" height="35.93" fill="#FB8A8F"/>
<text x="268.90" y="67.40" font-size="7.25" text-anchor="middle" fill="#fff" stroke="#fff" stroke-width="0.22" transform="rotate(-90 268.90 67.40)">Disease Samples</text>
<text x="284.60" y="47.80" font-size="7.2" text-anchor="middle" fill="#fff" stroke="#fff" stroke-width="0.22" transform="rotate(-90 284.60 47.80)">Convalescence</text>
<text x="284.60" y="115.80" font-size="7.2" text-anchor="middle" fill="#fff" stroke="#fff" stroke-width="0.22" transform="rotate(-90 284.60 115.80)">Progression</text>
<text x="270.40" y="156.40" font-size="7.2" text-anchor="end" fill="#4d4d4d" stroke="#4d4d4d" stroke-width="0.22" transform="rotate(-45 270.40 156.40)">group</text>
<text x="286.10" y="156.40" font-size="7.2" text-anchor="end" fill="#4d4d4d" stroke="#4d4d4d" stroke-width="0.22" transform="rotate(-45 286.10 156.40)">sample time</text>
<text x="301.80" y="156.40" font-size="7.2" text-anchor="end" fill="#4d4d4d" stroke="#4d4d4d" stroke-width="0.22" transform="rotate(-45 301.80 156.40)">CoVID−19 severity</text>
<text x="335.00" y="11.60" font-size="12" fill="#000" font-weight="bold">c</text>
<clipPath id="vc0"><ellipse cx="407.79" cy="61.22" rx="26.7" ry="55.3" transform="rotate(-6.26 407.79 61.22)"/></clipPath>
<clipPath id="vc1"><ellipse cx="413.16" cy="72.25" rx="26.7" ry="55.3" transform="rotate(65.74 413.16 72.25)"/></clipPath>
<clipPath id="vc2"><ellipse cx="404.32" cy="80.77" rx="26.7" ry="55.3" transform="rotate(137.74 404.32 80.77)"/></clipPath>
<clipPath id="vc3"><ellipse cx="393.49" cy="75.00" rx="26.7" ry="55.3" transform="rotate(209.74 393.49 75.00)"/></clipPath>
<clipPath id="vc4"><ellipse cx="395.64" cy="62.91" rx="26.7" ry="55.3" transform="rotate(281.74 395.64 62.91)"/></clipPath>
<g clip-path="url(#vc0)"><rect x="330" y="0" width="150" height="140" fill="#67C3EE"/></g>
<g clip-path="url(#vc1)"><rect x="330" y="0" width="150" height="140" fill="#FDB46F"/></g>
<g clip-path="url(#vc2)"><rect x="330" y="0" width="150" height="140" fill="#FF8A8F"/></g>
<g clip-path="url(#vc3)"><rect x="330" y="0" width="150" height="140" fill="#7CA0D6"/></g>
<g clip-path="url(#vc4)"><rect x="330" y="0" width="150" height="140" fill="#B695C8"/></g>
<g clip-path="url(#vc1)"><g clip-path="url(#vc0)"><rect x="330" y="0" width="150" height="140" fill="#7FB3B8"/></g></g>
<g clip-path="url(#vc2)"><g clip-path="url(#vc0)"><rect x="330" y="0" width="150" height="140" fill="#B46A98"/></g></g>
<g clip-path="url(#vc2)"><g clip-path="url(#vc1)"><rect x="330" y="0" width="150" height="140" fill="#F4642F"/></g></g>
<g clip-path="url(#vc3)"><g clip-path="url(#vc0)"><rect x="330" y="0" width="150" height="140" fill="#2B93D3"/></g></g>
<g clip-path="url(#vc3)"><g clip-path="url(#vc1)"><rect x="330" y="0" width="150" height="140" fill="#C68A62"/></g></g>
<g clip-path="url(#vc3)"><g clip-path="url(#vc2)"><rect x="330" y="0" width="150" height="140" fill="#B06A9A"/></g></g>
<g clip-path="url(#vc4)"><g clip-path="url(#vc0)"><rect x="330" y="0" width="150" height="140" fill="#7C8ED0"/></g></g>
<g clip-path="url(#vc4)"><g clip-path="url(#vc1)"><rect x="330" y="0" width="150" height="140" fill="#C86BB0"/></g></g>
<g clip-path="url(#vc4)"><g clip-path="url(#vc2)"><rect x="330" y="0" width="150" height="140" fill="#E2578E"/></g></g>
<g clip-path="url(#vc4)"><g clip-path="url(#vc3)"><rect x="330" y="0" width="150" height="140" fill="#6A6AC0"/></g></g>
<g clip-path="url(#vc2)"><g clip-path="url(#vc1)"><g clip-path="url(#vc0)"><rect x="330" y="0" width="150" height="140" fill="#BE6478"/></g></g></g>
<g clip-path="url(#vc3)"><g clip-path="url(#vc1)"><g clip-path="url(#vc0)"><rect x="330" y="0" width="150" height="140" fill="#4C96B0"/></g></g></g>
<g clip-path="url(#vc3)"><g clip-path="url(#vc2)"><g clip-path="url(#vc0)"><rect x="330" y="0" width="150" height="140" fill="#9E5E95"/></g></g></g>
<g clip-path="url(#vc3)"><g clip-path="url(#vc2)"><g clip-path="url(#vc1)"><rect x="330" y="0" width="150" height="140" fill="#E5574A"/></g></g></g>
<g clip-path="url(#vc4)"><g clip-path="url(#vc1)"><g clip-path="url(#vc0)"><rect x="330" y="0" width="150" height="140" fill="#7B68BA"/></g></g></g>
<g clip-path="url(#vc4)"><g clip-path="url(#vc2)"><g clip-path="url(#vc0)"><rect x="330" y="0" width="150" height="140" fill="#C94C95"/></g></g></g>
<g clip-path="url(#vc4)"><g clip-path="url(#vc2)"><g clip-path="url(#vc1)"><rect x="330" y="0" width="150" height="140" fill="#E04F7D"/></g></g></g>
<g clip-path="url(#vc4)"><g clip-path="url(#vc3)"><g clip-path="url(#vc0)"><rect x="330" y="0" width="150" height="140" fill="#5A5AB0"/></g></g></g>
<g clip-path="url(#vc4)"><g clip-path="url(#vc3)"><g clip-path="url(#vc1)"><rect x="330" y="0" width="150" height="140" fill="#A94FA8"/></g></g></g>
<g clip-path="url(#vc4)"><g clip-path="url(#vc3)"><g clip-path="url(#vc2)"><rect x="330" y="0" width="150" height="140" fill="#C4408F"/></g></g></g>
<g clip-path="url(#vc3)"><g clip-path="url(#vc2)"><g clip-path="url(#vc1)"><g clip-path="url(#vc0)"><rect x="330" y="0" width="150" height="140" fill="#C98A9A"/></g></g></g></g>
<g clip-path="url(#vc4)"><g clip-path="url(#vc2)"><g clip-path="url(#vc1)"><g clip-path="url(#vc0)"><rect x="330" y="0" width="150" height="140" fill="#D47BA8"/></g></g></g></g>
<g clip-path="url(#vc4)"><g clip-path="url(#vc3)"><g clip-path="url(#vc1)"><g clip-path="url(#vc0)"><rect x="330" y="0" width="150" height="140" fill="#A08ACB"/></g></g></g></g>
<g clip-path="url(#vc4)"><g clip-path="url(#vc3)"><g clip-path="url(#vc2)"><g clip-path="url(#vc0)"><rect x="330" y="0" width="150" height="140" fill="#CE7FB5"/></g></g></g></g>
<g clip-path="url(#vc4)"><g clip-path="url(#vc3)"><g clip-path="url(#vc2)"><g clip-path="url(#vc1)"><rect x="330" y="0" width="150" height="140" fill="#E47A93"/></g></g></g></g>
<g clip-path="url(#vc4)"><g clip-path="url(#vc3)"><g clip-path="url(#vc2)"><g clip-path="url(#vc1)"><g clip-path="url(#vc0)"><rect x="330" y="0" width="150" height="140" fill="#EFEFEF"/></g></g></g></g></g>
<ellipse cx="407.79" cy="61.22" rx="26.7" ry="55.3" transform="rotate(-6.26 407.79 61.22)" fill="none" stroke="#fff" stroke-width="0.6" stroke-opacity="0.9"/>
<ellipse cx="413.16" cy="72.25" rx="26.7" ry="55.3" transform="rotate(65.74 413.16 72.25)" fill="none" stroke="#fff" stroke-width="0.6" stroke-opacity="0.9"/>
<ellipse cx="404.32" cy="80.77" rx="26.7" ry="55.3" transform="rotate(137.74 404.32 80.77)" fill="none" stroke="#fff" stroke-width="0.6" stroke-opacity="0.9"/>
<ellipse cx="393.49" cy="75.00" rx="26.7" ry="55.3" transform="rotate(209.74 393.49 75.00)" fill="none" stroke="#fff" stroke-width="0.6" stroke-opacity="0.9"/>
<ellipse cx="395.64" cy="62.91" rx="26.7" ry="55.3" transform="rotate(281.74 395.64 62.91)" fill="none" stroke="#fff" stroke-width="0.6" stroke-opacity="0.9"/>
<text x="403.90" y="15.20" font-size="7.3" text-anchor="middle" stroke="#222" stroke-width="0.22" font-style="italic">30</text>
<text x="403.90" y="23.70" font-size="7.3" text-anchor="middle" stroke="#222" stroke-width="0.22" font-style="italic">(1.7%)</text>
<text x="353.00" y="49.60" font-size="7.3" text-anchor="middle" stroke="#222" stroke-width="0.22" font-style="italic">68</text>
<text x="353.00" y="58.70" font-size="7.3" text-anchor="middle" stroke="#222" stroke-width="0.22" font-style="italic">(3.8%)</text>
<text x="453.80" y="49.60" font-size="7.3" text-anchor="middle" stroke="#222" stroke-width="0.22" font-style="italic">222</text>
<text x="447.00" y="58.70" font-size="7.3" text-anchor="middle" stroke="#222" stroke-width="0.22" font-style="italic">(11.8%)</text>
<text x="403.90" y="68.20" font-size="7.3" text-anchor="middle" stroke="#222" stroke-width="0.22" font-style="italic">358</text>
<text x="403.90" y="77.20" font-size="7.3" text-anchor="middle" stroke="#222" stroke-width="0.22" font-style="italic">(19.1%)</text>
<text x="366.40" y="106.40" font-size="7.3" text-anchor="middle" stroke="#222" stroke-width="0.22" font-style="italic">62</text>
<text x="372.80" y="116.00" font-size="7.3" text-anchor="middle" stroke="#222" stroke-width="0.22" font-style="italic">(3.5%)</text>
<text x="438.90" y="106.40" font-size="7.3" text-anchor="middle" stroke="#222" stroke-width="0.22" font-style="italic">247</text>
<text x="431.50" y="116.00" font-size="7.3" text-anchor="middle" stroke="#222" stroke-width="0.22" font-style="italic">(13.2%)</text>
<circle cx="337.10" cy="145.20" r="3.40" fill="#5BC0EE"/>
<text x="344.20" y="147.80" font-size="7.2" fill="#333" stroke="#333" stroke-width="0.22">Health control</text>
<circle cx="337.10" cy="168.50" r="3.40" fill="#FBB36E"/>
<text x="344.20" y="166.50" font-size="7.2" fill="#333" stroke="#333" stroke-width="0.22">Disease progression</text>
<text x="344.20" y="175.10" font-size="7.2" fill="#333" stroke="#333" stroke-width="0.22">(mild)</text>
<circle cx="337.10" cy="192.60" r="3.40" fill="#F6838D"/>
<text x="344.20" y="190.60" font-size="7.2" fill="#333" stroke="#333" stroke-width="0.22">Disease progression</text>
<text x="344.20" y="199.20" font-size="7.2" fill="#333" stroke="#333" stroke-width="0.22">(severe)</text>
<circle cx="423.60" cy="168.50" r="3.40" fill="#6E8FD0"/>
<text x="430.70" y="166.50" font-size="7.2" fill="#333" stroke="#333" stroke-width="0.22">Convalescence</text>
<text x="430.70" y="175.10" font-size="7.2" fill="#333" stroke="#333" stroke-width="0.22">(from mild)</text>
<circle cx="423.60" cy="192.60" r="3.40" fill="#B38FCB"/>
<text x="430.70" y="190.60" font-size="7.2" fill="#333" stroke="#333" stroke-width="0.22">Convalescence</text>
<text x="430.70" y="199.20" font-size="7.2" fill="#333" stroke="#333" stroke-width="0.22">(from severe)</text>
<text x="493.20" y="10.50" font-size="12" fill="#000" font-weight="bold">f</text>
<line x1="532.30" y1="10.20" x2="532.30" y2="61.00" stroke="#222" stroke-width="1"/>
<line x1="531.90" y1="60.60" x2="583.40" y2="60.60" stroke="#222" stroke-width="1"/>
<line x1="530.30" y1="12.80" x2="532.30" y2="12.80" stroke="#333" stroke-width="0.7"/>
<text x="529.50" y="15.30" font-size="7.2" text-anchor="end" fill="#4d4d4d" stroke="#4d4d4d" stroke-width="0.22">0.100</text>
<line x1="530.30" y1="24.80" x2="532.30" y2="24.80" stroke="#333" stroke-width="0.7"/>
<text x="529.50" y="27.30" font-size="7.2" text-anchor="end" fill="#4d4d4d" stroke="#4d4d4d" stroke-width="0.22">0.075</text>
<line x1="530.30" y1="36.50" x2="532.30" y2="36.50" stroke="#333" stroke-width="0.7"/>
<text x="529.50" y="39.00" font-size="7.2" text-anchor="end" fill="#4d4d4d" stroke="#4d4d4d" stroke-width="0.22">0.050</text>
<line x1="530.30" y1="48.20" x2="532.30" y2="48.20" stroke="#333" stroke-width="0.7"/>
<text x="529.50" y="50.70" font-size="7.2" text-anchor="end" fill="#4d4d4d" stroke="#4d4d4d" stroke-width="0.22">0.025</text>
<line x1="530.30" y1="59.90" x2="532.30" y2="59.90" stroke="#333" stroke-width="0.7"/>
<text x="529.50" y="62.40" font-size="7.2" text-anchor="end" fill="#4d4d4d" stroke="#4d4d4d" stroke-width="0.22">0.000</text>
<line x1="539.45" y1="60.60" x2="539.45" y2="62.60" stroke="#333" stroke-width="0.7"/>
<line x1="551.70" y1="60.60" x2="551.70" y2="62.60" stroke="#333" stroke-width="0.7"/>
<line x1="564.10" y1="60.60" x2="564.10" y2="62.60" stroke="#333" stroke-width="0.7"/>
<line x1="576.50" y1="60.60" x2="576.50" y2="62.60" stroke="#333" stroke-width="0.7"/>
<text x="557.70" y="6.90" font-size="7.2" text-anchor="middle" stroke="#222" stroke-width="0.22" font-style="italic">ACE2</text>
<rect x="537.65" y="22.50" width="1.8" height="1.8" fill="#E0185F"/>
<rect x="539.45" y="22.50" width="1.8" height="1.8" fill="#E0185F"/>
<rect x="538.55" y="31.20" width="1.8" height="1.8" fill="#E0185F"/>
<rect x="538.55" y="43.60" width="1.8" height="1.8" fill="#E0185F"/>
<rect x="538.55" y="54.60" width="1.8" height="1.8" fill="#E0185F"/>
<rect x="538.55" y="56.60" width="1.8" height="1.8" fill="#E0185F"/>
<rect x="538.55" y="58.20" width="1.8" height="1.8" fill="#E0185F"/>
<rect x="539.55" y="57.60" width="1.8" height="1.8" fill="#E0185F"/>
<rect x="550.80" y="52.40" width="1.8" height="1.8" fill="#EDC3D6"/>
<rect x="550.80" y="56.80" width="1.8" height="1.8" fill="#EDC3D6"/>
<rect x="550.80" y="58.30" width="1.8" height="1.8" fill="#EDC3D6"/>
<rect x="563.20" y="19.50" width="1.8" height="1.8" fill="#1F9AB8"/>
<rect x="563.20" y="26.10" width="1.8" height="1.8" fill="#1F9AB8"/>
<rect x="563.20" y="32.70" width="1.8" height="1.8" fill="#1F9AB8"/>
<rect x="563.20" y="38.50" width="1.8" height="1.8" fill="#1F9AB8"/>
<rect x="563.70" y="42.90" width="1.8" height="1.8" fill="#1F9AB8"/>
<rect x="563.20" y="48.70" width="1.8" height="1.8" fill="#1F9AB8"/>
<rect x="563.20" y="58.20" width="1.8" height="1.8" fill="#1F9AB8"/>
<rect x="575.60" y="48.00" width="1.8" height="1.8" fill="#A7DCEC"/>
<rect x="575.60" y="53.10" width="1.8" height="1.8" fill="#A7DCEC"/>
<rect x="575.60" y="57.60" width="1.8" height="1.8" fill="#A7DCEC"/>
<rect x="533.95" y="52.30" width="11.00" height="7.80" fill="none" stroke="#E0185F" stroke-width="1.1"/>
<rect x="547.55" y="58.40" width="8.30" height="1.70" fill="none" stroke="#EDC3D6" stroke-width="1.1"/>
<rect x="559.15" y="44.10" width="9.90" height="16.00" fill="none" stroke="#1F9AB8" stroke-width="1.1"/>
<rect x="571.55" y="56.20" width="9.90" height="3.90" fill="none" stroke="#A7DCEC" stroke-width="1.1"/>
<text x="545.58" y="18.30" font-size="7.0" text-anchor="middle" fill="#111" stroke="#111" stroke-width="0.22">0.092</text>
<path d="M536.0,19.7 v-0.9 H555.2 v0.9" stroke="#111" stroke-width="0.7" fill="none"/>
<text x="570.30" y="18.30" font-size="7.0" text-anchor="middle" fill="#111" stroke="#111" stroke-width="0.22">0.083</text>
<path d="M560.6,19.7 v-0.9 H580.0 v0.9" stroke="#111" stroke-width="0.7" fill="none"/>
<path d="M539.5,49.6 V55.0 M537.9,49.6 h3.2 M537.9,55.0 h3.2" stroke="#E0185F" stroke-width="0.7" fill="none"/>
<path d="M564.1,38.5 V49.5 M562.5,38.5 h3.2 M562.5,49.5 h3.2" stroke="#1F9AB8" stroke-width="0.7" fill="none"/>
<path d="M576.5,51.5 V59.0 M574.9,51.5 h3.2 M574.9,59.0 h3.2" stroke="#A7DCEC" stroke-width="0.7" fill="none"/>
<line x1="599.60" y1="9.90" x2="599.60" y2="61.00" stroke="#222" stroke-width="1"/>
<line x1="599.20" y1="60.60" x2="650.00" y2="60.60" stroke="#222" stroke-width="1"/>
<line x1="597.60" y1="17.50" x2="599.60" y2="17.50" stroke="#333" stroke-width="0.7"/>
<text x="596.80" y="20.00" font-size="7.2" text-anchor="end" fill="#4d4d4d" stroke="#4d4d4d" stroke-width="0.22">4</text>
<line x1="597.60" y1="28.50" x2="599.60" y2="28.50" stroke="#333" stroke-width="0.7"/>
<text x="596.80" y="31.00" font-size="7.2" text-anchor="end" fill="#4d4d4d" stroke="#4d4d4d" stroke-width="0.22">3</text>
<line x1="597.60" y1="39.40" x2="599.60" y2="39.40" stroke="#333" stroke-width="0.7"/>
<text x="596.80" y="41.90" font-size="7.2" text-anchor="end" fill="#4d4d4d" stroke="#4d4d4d" stroke-width="0.22">2</text>
<line x1="597.60" y1="50.40" x2="599.60" y2="50.40" stroke="#333" stroke-width="0.7"/>
<text x="596.80" y="52.90" font-size="7.2" text-anchor="end" fill="#4d4d4d" stroke="#4d4d4d" stroke-width="0.22">1</text>
<line x1="597.60" y1="61.00" x2="599.60" y2="61.00" stroke="#333" stroke-width="0.7"/>
<text x="596.80" y="63.50" font-size="7.2" text-anchor="end" fill="#4d4d4d" stroke="#4d4d4d" stroke-width="0.22">0</text>
<line x1="607.05" y1="60.60" x2="607.05" y2="62.60" stroke="#333" stroke-width="0.7"/>
<line x1="619.10" y1="60.60" x2="619.10" y2="62.60" stroke="#333" stroke-width="0.7"/>
<line x1="631.35" y1="60.60" x2="631.35" y2="62.60" stroke="#333" stroke-width="0.7"/>
<line x1="643.50" y1="60.60" x2="643.50" y2="62.60" stroke="#333" stroke-width="0.7"/>
<text x="625.30" y="6.70" font-size="7.2" text-anchor="middle" stroke="#222" stroke-width="0.22" font-style="italic">TMPRSS2</text>
<rect x="606.15" y="20.10" width="1.8" height="1.8" fill="#E0185F"/>
<rect x="606.15" y="22.60" width="1.8" height="1.8" fill="#E0185F"/>
<rect x="606.15" y="31.30" width="1.8" height="1.8" fill="#E0185F"/>
<rect x="606.95" y="32.80" width="1.8" height="1.8" fill="#E0185F"/>
<rect x="606.15" y="34.10" width="1.8" height="1.8" fill="#E0185F"/>
<rect x="606.15" y="36.10" width="1.8" height="1.8" fill="#E0185F"/>
<rect x="606.15" y="37.70" width="1.8" height="1.8" fill="#E0185F"/>
<rect x="606.15" y="39.10" width="1.8" height="1.8" fill="#E0185F"/>
<rect x="606.15" y="40.70" width="1.8" height="1.8" fill="#E0185F"/>
<rect x="606.15" y="42.10" width="1.8" height="1.8" fill="#E0185F"/>
<rect x="606.15" y="44.10" width="1.8" height="1.8" fill="#E0185F"/>
<rect x="606.15" y="49.50" width="1.8" height="1.8" fill="#E0185F"/>
<rect x="606.15" y="53.60" width="1.8" height="1.8" fill="#E0185F"/>
<rect x="606.15" y="55.10" width="1.8" height="1.8" fill="#E0185F"/>
<rect x="606.15" y="56.60" width="1.8" height="1.8" fill="#E0185F"/>
<rect x="606.15" y="57.60" width="1.8" height="1.8" fill="#E0185F"/>
<rect x="606.15" y="58.60" width="1.8" height="1.8" fill="#E0185F"/>
<rect x="618.20" y="36.60" width="1.8" height="1.8" fill="#EDC3D6"/>
<rect x="618.20" y="44.10" width="1.8" height="1.8" fill="#EDC3D6"/>
<rect x="618.20" y="49.40" width="1.8" height="1.8" fill="#EDC3D6"/>
<rect x="630.45" y="48.30" width="1.8" height="1.8" fill="#1F9AB8"/>
<rect x="631.25" y="54.30" width="1.8" height="1.8" fill="#1F9AB8"/>
<rect x="630.45" y="55.60" width="1.8" height="1.8" fill="#1F9AB8"/>
<rect x="630.45" y="56.60" width="1.8" height="1.8" fill="#1F9AB8"/>
<rect x="630.45" y="57.30" width="1.8" height="1.8" fill="#1F9AB8"/>
<rect x="630.45" y="58.10" width="1.8" height="1.8" fill="#1F9AB8"/>
<rect x="642.60" y="55.90" width="1.8" height="1.8" fill="#A7DCEC"/>
<rect x="642.60" y="57.10" width="1.8" height="1.8" fill="#A7DCEC"/>
<rect x="601.95" y="42.30" width="10.20" height="17.80" fill="none" stroke="#E0185F" stroke-width="1.1"/>
<rect x="614.05" y="44.50" width="10.10" height="15.60" fill="none" stroke="#EDC3D6" stroke-width="1.1"/>
<rect x="626.15" y="56.20" width="10.40" height="3.90" fill="none" stroke="#1F9AB8" stroke-width="1.1"/>
<rect x="638.35" y="57.40" width="10.30" height="2.70" fill="none" stroke="#A7DCEC" stroke-width="1.1"/>
<text x="613.08" y="18.10" font-size="7.0" text-anchor="middle" fill="#111" stroke="#111" stroke-width="0.22">0.61</text>
<path d="M603.5,19.5 v-0.9 H622.6 v0.9" stroke="#111" stroke-width="0.7" fill="none"/>
<text x="637.42" y="18.10" font-size="7.0" text-anchor="middle" fill="#111" stroke="#111" stroke-width="0.22">0.7</text>
<path d="M627.9,19.5 v-0.9 H647.0 v0.9" stroke="#111" stroke-width="0.7" fill="none"/>
<path d="M607.0,38.5 V46.0 M605.4,38.5 h3.2 M605.4,46.0 h3.2" stroke="#E0185F" stroke-width="0.7" fill="none"/>
<path d="M619.1,41.0 V48.0 M617.5,41.0 h3.2 M617.5,48.0 h3.2" stroke="#EDC3D6" stroke-width="0.7" fill="none"/>
<path d="M631.3,55.0 V57.6 M629.7,55.0 h3.2 M629.7,57.6 h3.2" stroke="#1F9AB8" stroke-width="0.7" fill="none"/>
<line x1="532.30" y1="77.20" x2="532.30" y2="129.00" stroke="#222" stroke-width="1"/>
<line x1="531.90" y1="128.60" x2="583.40" y2="128.60" stroke="#222" stroke-width="1"/>
<line x1="530.30" y1="77.80" x2="532.30" y2="77.80" stroke="#333" stroke-width="0.7"/>
<text x="529.50" y="80.30" font-size="7.2" text-anchor="end" fill="#4d4d4d" stroke="#4d4d4d" stroke-width="0.22">1.25</text>
<line x1="530.30" y1="87.70" x2="532.30" y2="87.70" stroke="#333" stroke-width="0.7"/>
<text x="529.50" y="90.20" font-size="7.2" text-anchor="end" fill="#4d4d4d" stroke="#4d4d4d" stroke-width="0.22">1.00</text>
<line x1="530.30" y1="97.70" x2="532.30" y2="97.70" stroke="#333" stroke-width="0.7"/>
<text x="529.50" y="100.20" font-size="7.2" text-anchor="end" fill="#4d4d4d" stroke="#4d4d4d" stroke-width="0.22">0.75</text>
<line x1="530.30" y1="107.90" x2="532.30" y2="107.90" stroke="#333" stroke-width="0.7"/>
<text x="529.50" y="110.40" font-size="7.2" text-anchor="end" fill="#4d4d4d" stroke="#4d4d4d" stroke-width="0.22">0.50</text>
<line x1="530.30" y1="117.80" x2="532.30" y2="117.80" stroke="#333" stroke-width="0.7"/>
<text x="529.50" y="120.30" font-size="7.2" text-anchor="end" fill="#4d4d4d" stroke="#4d4d4d" stroke-width="0.22">0.25</text>
<line x1="530.30" y1="127.90" x2="532.30" y2="127.90" stroke="#333" stroke-width="0.7"/>
<text x="529.50" y="130.40" font-size="7.2" text-anchor="end" fill="#4d4d4d" stroke="#4d4d4d" stroke-width="0.22">0.00</text>
<line x1="539.45" y1="128.60" x2="539.45" y2="130.60" stroke="#333" stroke-width="0.7"/>
<line x1="551.70" y1="128.60" x2="551.70" y2="130.60" stroke="#333" stroke-width="0.7"/>
<line x1="564.10" y1="128.60" x2="564.10" y2="130.60" stroke="#333" stroke-width="0.7"/>
<line x1="576.50" y1="128.60" x2="576.50" y2="130.60" stroke="#333" stroke-width="0.7"/>
<text x="557.70" y="74.20" font-size="7.2" text-anchor="middle" stroke="#222" stroke-width="0.22" font-style="italic">KRT5</text>
<rect x="538.55" y="110.90" width="1.8" height="1.8" fill="#E0185F"/>
<rect x="537.65" y="117.90" width="1.8" height="1.8" fill="#E0185F"/>
<rect x="539.45" y="117.90" width="1.8" height="1.8" fill="#E0185F"/>
<rect x="538.55" y="121.90" width="1.8" height="1.8" fill="#E0185F"/>
<rect x="538.55" y="123.80" width="1.8" height="1.8" fill="#E0185F"/>
<rect x="538.55" y="125.10" width="1.8" height="1.8" fill="#E0185F"/>
<rect x="538.55" y="126.30" width="1.8" height="1.8" fill="#E0185F"/>
<rect x="550.80" y="125.70" width="1.8" height="1.8" fill="#EDC3D6"/>
<rect x="550.80" y="126.70" width="1.8" height="1.8" fill="#EDC3D6"/>
<rect x="563.20" y="87.80" width="1.8" height="1.8" fill="#1F9AB8"/>
<rect x="563.20" y="110.50" width="1.8" height="1.8" fill="#1F9AB8"/>
<rect x="563.70" y="112.10" width="1.8" height="1.8" fill="#1F9AB8"/>
<rect x="563.20" y="114.40" width="1.8" height="1.8" fill="#1F9AB8"/>
<rect x="563.20" y="116.60" width="1.8" height="1.8" fill="#1F9AB8"/>
<rect x="563.20" y="119.10" width="1.8" height="1.8" fill="#1F9AB8"/>
<rect x="563.20" y="121.50" width="1.8" height="1.8" fill="#1F9AB8"/>
<rect x="563.20" y="123.80" width="1.8" height="1.8" fill="#1F9AB8"/>
<rect x="563.20" y="125.60" width="1.8" height="1.8" fill="#1F9AB8"/>
<rect x="575.60" y="125.30" width="1.8" height="1.8" fill="#A7DCEC"/>
<rect x="575.60" y="126.70" width="1.8" height="1.8" fill="#A7DCEC"/>
<rect x="533.95" y="125.40" width="11.00" height="2.70" fill="none" stroke="#E0185F" stroke-width="1.1"/>
<rect x="547.55" y="127.20" width="8.30" height="0.90" fill="none" stroke="#EDC3D6" stroke-width="1.1"/>
<rect x="559.15" y="118.10" width="9.90" height="10.00" fill="none" stroke="#1F9AB8" stroke-width="1.1"/>
<rect x="571.55" y="127.40" width="9.90" height="0.70" fill="none" stroke="#A7DCEC" stroke-width="1.1"/>
<text x="545.58" y="85.70" font-size="7.0" text-anchor="middle" fill="#111" stroke="#111" stroke-width="0.22">0.1</text>
<path d="M536.0,87.1 v-0.9 H555.2 v0.9" stroke="#111" stroke-width="0.7" fill="none"/>
<text x="570.30" y="85.70" font-size="7.0" text-anchor="middle" fill="#111" stroke="#111" stroke-width="0.22">0.058</text>
<path d="M560.6,87.1 v-0.9 H580.0 v0.9" stroke="#111" stroke-width="0.7" fill="none"/>
<path d="M539.5,123.3 V127.4 M537.9,123.3 h3.2 M537.9,127.4 h3.2" stroke="#E0185F" stroke-width="0.7" fill="none"/>
<path d="M564.1,114.8 V121.4 M562.5,114.8 h3.2 M562.5,121.4 h3.2" stroke="#1F9AB8" stroke-width="0.7" fill="none"/>
<line x1="599.60" y1="77.50" x2="599.60" y2="128.70" stroke="#222" stroke-width="1"/>
<line x1="599.20" y1="128.30" x2="650.70" y2="128.30" stroke="#222" stroke-width="1"/>
<line x1="597.60" y1="92.80" x2="599.60" y2="92.80" stroke="#333" stroke-width="0.7"/>
<text x="596.80" y="95.30" font-size="7.2" text-anchor="end" fill="#4d4d4d" stroke="#4d4d4d" stroke-width="0.22">0.4</text>
<line x1="597.60" y1="110.40" x2="599.60" y2="110.40" stroke="#333" stroke-width="0.7"/>
<text x="596.80" y="112.90" font-size="7.2" text-anchor="end" fill="#4d4d4d" stroke="#4d4d4d" stroke-width="0.22">0.2</text>
<line x1="597.60" y1="127.90" x2="599.60" y2="127.90" stroke="#333" stroke-width="0.7"/>
<text x="596.80" y="130.40" font-size="7.2" text-anchor="end" fill="#4d4d4d" stroke="#4d4d4d" stroke-width="0.22">0.0</text>
<line x1="607.05" y1="128.30" x2="607.05" y2="130.30" stroke="#333" stroke-width="0.7"/>
<line x1="619.10" y1="128.30" x2="619.10" y2="130.30" stroke="#333" stroke-width="0.7"/>
<line x1="631.35" y1="128.30" x2="631.35" y2="130.30" stroke="#333" stroke-width="0.7"/>
<line x1="643.50" y1="128.30" x2="643.50" y2="130.30" stroke="#333" stroke-width="0.7"/>
<text x="625.30" y="74.20" font-size="7.2" text-anchor="middle" stroke="#222" stroke-width="0.22" font-style="italic">ITGB6</text>
<rect x="606.15" y="87.40" width="1.8" height="1.8" fill="#E0185F"/>
<rect x="606.15" y="117.80" width="1.8" height="1.8" fill="#E0185F"/>
<rect x="606.95" y="120.70" width="1.8" height="1.8" fill="#E0185F"/>
<rect x="606.15" y="122.10" width="1.8" height="1.8" fill="#E0185F"/>
<rect x="606.15" y="123.10" width="1.8" height="1.8" fill="#E0185F"/>
<rect x="606.15" y="124.10" width="1.8" height="1.8" fill="#E0185F"/>
<rect x="606.15" y="125.60" width="1.8" height="1.8" fill="#E0185F"/>
<rect x="606.15" y="126.30" width="1.8" height="1.8" fill="#E0185F"/>
<rect x="618.20" y="123.70" width="1.8" height="1.8" fill="#EDC3D6"/>
<rect x="618.20" y="125.10" width="1.8" height="1.8" fill="#EDC3D6"/>
<rect x="630.45" y="106.60" width="1.8" height="1.8" fill="#1F9AB8"/>
<rect x="630.45" y="110.10" width="1.8" height="1.8" fill="#1F9AB8"/>
<rect x="631.15" y="111.40" width="1.8" height="1.8" fill="#1F9AB8"/>
<rect x="630.45" y="114.40" width="1.8" height="1.8" fill="#1F9AB8"/>
<rect x="630.45" y="115.90" width="1.8" height="1.8" fill="#1F9AB8"/>
<rect x="630.45" y="118.10" width="1.8" height="1.8" fill="#1F9AB8"/>
<rect x="630.45" y="120.10" width="1.8" height="1.8" fill="#1F9AB8"/>
<rect x="630.45" y="122.60" width="1.8" height="1.8" fill="#1F9AB8"/>
<rect x="630.45" y="125.10" width="1.8" height="1.8" fill="#1F9AB8"/>
<rect x="630.45" y="126.40" width="1.8" height="1.8" fill="#1F9AB8"/>
<rect x="642.60" y="123.60" width="1.8" height="1.8" fill="#A7DCEC"/>
<rect x="642.60" y="125.10" width="1.8" height="1.8" fill="#A7DCEC"/>
<rect x="601.95" y="123.50" width="10.20" height="4.30" fill="none" stroke="#E0185F" stroke-width="1.1"/>
<rect x="614.05" y="125.00" width="10.10" height="2.80" fill="none" stroke="#EDC3D6" stroke-width="1.1"/>
<rect x="626.15" y="118.40" width="10.40" height="9.40" fill="none" stroke="#1F9AB8" stroke-width="1.1"/>
<rect x="638.35" y="125.40" width="10.30" height="2.40" fill="none" stroke="#A7DCEC" stroke-width="1.1"/>
<text x="613.08" y="86.30" font-size="7.0" text-anchor="middle" fill="#111" stroke="#111" stroke-width="0.22">0.4</text>
<path d="M603.5,87.7 v-0.9 H622.6 v0.9" stroke="#111" stroke-width="0.7" fill="none"/>
<text x="637.42" y="86.30" font-size="7.0" text-anchor="middle" fill="#111" stroke="#111" stroke-width="0.22">0.032</text>
<path d="M627.9,87.7 v-0.9 H647.0 v0.9" stroke="#111" stroke-width="0.7" fill="none"/>
<path d="M607.0,121.5 V125.5 M605.4,121.5 h3.2 M605.4,125.5 h3.2" stroke="#E0185F" stroke-width="0.7" fill="none"/>
<path d="M631.3,115.0 V121.5 M629.7,115.0 h3.2 M629.7,121.5 h3.2" stroke="#1F9AB8" stroke-width="0.7" fill="none"/>
<line x1="532.60" y1="145.30" x2="532.60" y2="196.80" stroke="#222" stroke-width="1"/>
<line x1="532.20" y1="196.40" x2="583.40" y2="196.40" stroke="#222" stroke-width="1"/>
<line x1="530.60" y1="146.40" x2="532.60" y2="146.40" stroke="#333" stroke-width="0.7"/>
<text x="529.80" y="148.90" font-size="7.2" text-anchor="end" fill="#4d4d4d" stroke="#4d4d4d" stroke-width="0.22">1.6</text>
<line x1="530.60" y1="158.90" x2="532.60" y2="158.90" stroke="#333" stroke-width="0.7"/>
<text x="529.80" y="161.40" font-size="7.2" text-anchor="end" fill="#4d4d4d" stroke="#4d4d4d" stroke-width="0.22">1.2</text>
<line x1="530.60" y1="171.60" x2="532.60" y2="171.60" stroke="#333" stroke-width="0.7"/>
<text x="529.80" y="174.10" font-size="7.2" text-anchor="end" fill="#4d4d4d" stroke="#4d4d4d" stroke-width="0.22">0.8</text>
<line x1="530.60" y1="184.00" x2="532.60" y2="184.00" stroke="#333" stroke-width="0.7"/>
<text x="529.80" y="186.50" font-size="7.2" text-anchor="end" fill="#4d4d4d" stroke="#4d4d4d" stroke-width="0.22">0.4</text>
<line x1="530.60" y1="196.40" x2="532.60" y2="196.40" stroke="#333" stroke-width="0.7"/>
<text x="529.80" y="198.90" font-size="7.2" text-anchor="end" fill="#4d4d4d" stroke="#4d4d4d" stroke-width="0.22">0.0</text>
<line x1="539.45" y1="196.40" x2="539.45" y2="198.40" stroke="#333" stroke-width="0.7"/>
<line x1="551.70" y1="196.40" x2="551.70" y2="198.40" stroke="#333" stroke-width="0.7"/>
<line x1="564.10" y1="196.40" x2="564.10" y2="198.40" stroke="#333" stroke-width="0.7"/>
<line x1="576.50" y1="196.40" x2="576.50" y2="198.40" stroke="#333" stroke-width="0.7"/>
<text x="557.70" y="142.50" font-size="7.2" text-anchor="middle" stroke="#222" stroke-width="0.22" font-style="italic">VIM</text>
<rect x="538.55" y="155.60" width="1.8" height="1.8" fill="#E0185F"/>
<rect x="537.75" y="167.90" width="1.8" height="1.8" fill="#E0185F"/>
<rect x="539.35" y="167.90" width="1.8" height="1.8" fill="#E0185F"/>
<rect x="538.55" y="173.50" width="1.8" height="1.8" fill="#E0185F"/>
<rect x="538.55" y="189.10" width="1.8" height="1.8" fill="#E0185F"/>
<rect x="538.55" y="191.10" width="1.8" height="1.8" fill="#E0185F"/>
<rect x="538.55" y="192.60" width="1.8" height="1.8" fill="#E0185F"/>
<rect x="539.55" y="193.60" width="1.8" height="1.8" fill="#E0185F"/>
<rect x="538.55" y="194.60" width="1.8" height="1.8" fill="#E0185F"/>
<rect x="550.80" y="192.60" width="1.8" height="1.8" fill="#EDC3D6"/>
<rect x="550.80" y="194.30" width="1.8" height="1.8" fill="#EDC3D6"/>
<rect x="563.20" y="172.10" width="1.8" height="1.8" fill="#1F9AB8"/>
<rect x="562.40" y="176.40" width="1.8" height="1.8" fill="#1F9AB8"/>
<rect x="564.00" y="176.40" width="1.8" height="1.8" fill="#1F9AB8"/>
<rect x="563.20" y="180.10" width="1.8" height="1.8" fill="#1F9AB8"/>
<rect x="563.20" y="182.40" width="1.8" height="1.8" fill="#1F9AB8"/>
<rect x="563.20" y="184.60" width="1.8" height="1.8" fill="#1F9AB8"/>
<rect x="563.20" y="186.90" width="1.8" height="1.8" fill="#1F9AB8"/>
<rect x="563.20" y="189.30" width="1.8" height="1.8" fill="#1F9AB8"/>
<rect x="563.20" y="191.10" width="1.8" height="1.8" fill="#1F9AB8"/>
<rect x="575.60" y="180.90" width="1.8" height="1.8" fill="#A7DCEC"/>
<rect x="533.95" y="188.40" width="11.00" height="7.50" fill="none" stroke="#E0185F" stroke-width="1.1"/>
<rect x="547.55" y="194.20" width="8.30" height="1.70" fill="none" stroke="#EDC3D6" stroke-width="1.1"/>
<rect x="559.15" y="183.70" width="9.90" height="12.20" fill="none" stroke="#1F9AB8" stroke-width="1.1"/>
<rect x="571.55" y="182.30" width="9.90" height="13.60" fill="none" stroke="#A7DCEC" stroke-width="1.1"/>
<text x="545.58" y="154.20" font-size="7.0" text-anchor="middle" fill="#111" stroke="#111" stroke-width="0.22">0.035</text>
<path d="M536.0,155.6 v-0.9 H555.2 v0.9" stroke="#111" stroke-width="0.7" fill="none"/>
<text x="570.30" y="154.20" font-size="7.0" text-anchor="middle" fill="#111" stroke="#111" stroke-width="0.22">0.63</text>
<path d="M560.6,155.6 v-0.9 H580.0 v0.9" stroke="#111" stroke-width="0.7" fill="none"/>
<path d="M539.5,185.5 V191.8 M537.9,185.5 h3.2 M537.9,191.8 h3.2" stroke="#E0185F" stroke-width="0.7" fill="none"/>
<path d="M564.1,180.8 V186.6 M562.5,180.8 h3.2 M562.5,186.6 h3.2" stroke="#1F9AB8" stroke-width="0.7" fill="none"/>
<text x="504.80" y="98.30" font-size="7.2" text-anchor="middle" stroke="#222" stroke-width="0.22" transform="rotate(-90 504.80 98.30)">pseudobulk expression</text>
<circle cx="594" cy="149.6" r="2.3" fill="none" stroke="#E0185F" stroke-width="1.2"/>
<text x="600.30" y="152.10" font-size="7.15" stroke="#222" stroke-width="0.22">progression severe(saliva)</text>
<circle cx="594" cy="164.9" r="2.3" fill="none" stroke="#EDC3D6" stroke-width="1.2"/>
<text x="600.30" y="167.40" font-size="7.15" stroke="#222" stroke-width="0.22">progression mild(saliva)</text>
<circle cx="594" cy="179.5" r="2.3" fill="none" stroke="#1F9AB8" stroke-width="1.2"/>
<text x="600.30" y="182.00" font-size="7.15" stroke="#222" stroke-width="0.22">progression severe(lung)</text>
<circle cx="594" cy="193.4" r="2.3" fill="none" stroke="#A7DCEC" stroke-width="1.2"/>
<text x="600.30" y="195.90" font-size="7.15" stroke="#222" stroke-width="0.22">progression mild(lung)</text>
<path d="M67.52,349.94 A66.5,66.5 0 0 1 58.93,342.34 Q91.49,300.08 43.77,276.21 A66.5,66.5 0 0 1 48.19,265.65 Q93.31,299.66 67.52,349.94Z" fill="#A88FC7" fill-opacity="0.8"/>
<path d="M72.90,239.47 A66.5,66.5 0 0 1 81.36,235.18 Q94.95,291.60 46.02,322.80 A66.5,66.5 0 0 1 42.69,313.02 Q93.29,290.83 72.90,239.47Z" fill="#E8743B" fill-opacity="0.8"/>
<path d="M109.50,362.96 A66.5,66.5 0 0 1 100.33,362.65 Q114.50,309.89 166.70,326.00 A66.5,66.5 0 0 1 162.41,333.42 Q115.18,310.97 109.50,362.96Z" fill="#A88FC7" fill-opacity="0.8"/>
<path d="M76.27,355.42 A66.5,66.5 0 0 1 68.45,350.62 Q99.06,295.15 88.31,232.71 A66.5,66.5 0 0 1 96.54,230.84 Q101.31,295.56 76.27,355.42Z" fill="#A88FC7" fill-opacity="0.8"/>
<path d="M90.17,360.81 A66.5,66.5 0 0 1 82.53,358.30 Q109.91,298.25 151.70,247.18 A66.5,66.5 0 0 1 158.40,254.18 Q111.91,299.58 90.17,360.81Z" fill="#A88FC7" fill-opacity="0.8"/>
<path d="M40.64,298.82 A66.5,66.5 0 0 1 40.84,290.80 Q88.67,297.39 41.70,308.54 A66.5,66.5 0 0 1 40.72,300.56 Q88.50,297.39 40.64,298.82Z" fill="#CFE3B4" fill-opacity="0.8"/>
<path d="M82.53,358.30 A66.5,66.5 0 0 1 76.27,355.42 Q102.53,295.44 105.30,230.02 A66.5,66.5 0 0 1 112.13,230.19 Q104.36,295.87 82.53,358.30Z" fill="#A88FC7" fill-opacity="0.8"/>
<path d="M41.79,283.99 A66.5,66.5 0 0 1 43.43,277.31 Q103.52,286.18 145.20,242.00 A66.5,66.5 0 0 1 151.70,247.18 Q104.20,287.84 41.79,283.99Z" fill="#CFE3B4" fill-opacity="0.8"/>
<path d="M122.59,231.83 A66.5,66.5 0 0 1 130.53,234.27 Q102.34,292.47 49.64,329.97 A66.5,66.5 0 0 1 46.48,323.85 Q100.78,291.27 122.59,231.83Z" fill="#E9B3D4" fill-opacity="0.8"/>
<path d="M139.08,354.81 A66.5,66.5 0 0 1 133.57,357.50 Q117.99,299.12 158.40,254.18 A66.5,66.5 0 0 1 162.90,260.33 Q119.39,299.60 139.08,354.81Z" fill="#F5AA1C" fill-opacity="0.8"/>
<path d="M115.23,362.50 A66.5,66.5 0 0 1 109.50,362.96 Q114.12,312.29 154.81,342.82 A66.5,66.5 0 0 1 149.57,347.67 Q114.18,312.90 115.23,362.50Z" fill="#A88FC7" fill-opacity="0.8"/>
<path d="M100.33,362.65 A66.5,66.5 0 0 1 94.65,361.82 Q114.64,306.36 173.40,301.59 A66.5,66.5 0 0 1 172.49,308.62 Q115.31,307.46 100.33,362.65Z" fill="#A88FC7" fill-opacity="0.8"/>
<path d="M94.65,361.82 A66.5,66.5 0 0 1 90.17,360.81 Q113.99,304.56 173.26,289.76 A66.5,66.5 0 0 1 173.56,294.18 Q114.66,305.32 94.65,361.82Z" fill="#A88FC7" fill-opacity="0.8"/>
<path d="M69.35,241.76 A66.5,66.5 0 0 1 72.90,239.47 Q94.64,283.23 52.33,258.78 A66.5,66.5 0 0 1 55.07,255.09 Q94.53,283.04 69.35,241.76Z" fill="#E8743B" fill-opacity="0.8"/>
<path d="M57.59,252.10 A66.5,66.5 0 0 1 60.44,249.11 Q91.55,292.18 42.69,313.02 A66.5,66.5 0 0 1 41.70,308.54 Q91.01,291.97 57.59,252.10Z" fill="#4A8CCC" fill-opacity="0.8"/>
<path d="M171.78,281.04 A66.5,66.5 0 0 1 172.66,285.38 Q108.58,300.17 52.09,333.86 A66.5,66.5 0 0 1 49.64,329.97 Q108.11,299.02 171.78,281.04Z" fill="#E0185F" fill-opacity="0.8"/>
<path d="M133.57,357.50 A66.5,66.5 0 0 1 129.43,359.14 Q103.48,311.69 58.93,342.34 A66.5,66.5 0 0 1 55.88,338.91 Q103.64,310.98 133.57,357.50Z" fill="#F5AA1C" fill-opacity="0.8"/>
<path d="M41.08,288.52 A66.5,66.5 0 0 1 41.58,285.12 Q106.46,298.63 168.06,323.08 A66.5,66.5 0 0 1 166.70,326.00 Q106.20,299.51 41.08,288.52Z" fill="#CFE3B4" fill-opacity="0.8"/>
<path d="M84.31,234.03 A66.5,66.5 0 0 1 87.30,233.01 Q108.67,279.38 138.11,237.67 A66.5,66.5 0 0 1 141.72,239.73 Q108.76,279.81 84.31,234.03Z" fill="#E8743B" fill-opacity="0.8"/>
<path d="M62.70,246.99 A66.5,66.5 0 0 1 65.05,244.98 Q106.06,281.34 141.72,239.73 A66.5,66.5 0 0 1 145.20,242.00 Q106.22,281.94 62.70,246.99Z" fill="#4A8CCC" fill-opacity="0.8"/>
<path d="M60.44,249.11 A66.5,66.5 0 0 1 62.70,246.99 Q109.59,292.87 169.27,320.10 A66.5,66.5 0 0 1 168.06,323.08 Q109.10,293.59 60.44,249.11Z" fill="#4A8CCC" fill-opacity="0.8"/>
<path d="M118.52,230.99 A66.5,66.5 0 0 1 122.59,231.83 Q101.34,282.57 50.46,261.66 A66.5,66.5 0 0 1 52.33,258.78 Q101.03,282.05 118.52,230.99Z" fill="#E9B3D4" fill-opacity="0.8"/>
<path d="M170.93,277.83 A66.5,66.5 0 0 1 171.78,281.04 Q107.98,289.87 48.73,264.64 A66.5,66.5 0 0 1 50.46,261.66 Q108.11,289.01 170.93,277.83Z" fill="#E0185F" fill-opacity="0.8"/>
<path d="M144.77,351.30 A66.5,66.5 0 0 1 141.96,353.13 Q117.93,311.59 149.57,347.67 A66.5,66.5 0 0 1 146.19,350.30 Q117.85,311.70 144.77,351.30Z" fill="#F5AA1C" fill-opacity="0.8"/>
<path d="M141.96,353.13 A66.5,66.5 0 0 1 139.08,354.81 Q119.32,309.83 162.41,333.42 A66.5,66.5 0 0 1 160.56,336.06 Q119.46,309.97 141.96,353.13Z" fill="#F5AA1C" fill-opacity="0.8"/>
<path d="M117.50,362.18 A66.5,66.5 0 0 1 115.23,362.50 Q110.24,314.83 121.40,361.44 A66.5,66.5 0 0 1 119.22,361.89 Q110.25,314.85 117.50,362.18Z" fill="#A88FC7" fill-opacity="0.8"/>
<path d="M40.84,290.80 A66.5,66.5 0 0 1 41.08,288.52 Q100.16,304.40 123.57,360.93 A66.5,66.5 0 0 1 121.40,361.44 Q99.83,304.79 40.84,290.80Z" fill="#CFE3B4" fill-opacity="0.8"/>
<path d="M81.36,235.18 A66.5,66.5 0 0 1 83.32,234.40 Q106.38,296.74 125.72,360.34 A66.5,66.5 0 0 1 123.57,360.93 Q105.80,296.94 81.36,235.18Z" fill="#E8743B" fill-opacity="0.8"/>
<path d="M103.02,230.13 A66.5,66.5 0 0 1 105.30,230.02 Q110.84,278.78 135.63,236.43 A66.5,66.5 0 0 1 138.11,237.67 Q110.87,278.97 103.02,230.13Z" fill="#A89F6A" fill-opacity="0.8"/>
<path d="M115.78,230.57 A66.5,66.5 0 0 1 118.52,230.99 Q107.51,278.09 98.63,230.54 A66.5,66.5 0 0 1 100.73,230.31 Q107.42,278.00 115.78,230.57Z" fill="#E9B3D4" fill-opacity="0.8"/>
<path d="M130.53,234.27 A66.5,66.5 0 0 1 133.11,235.30 Q113.65,296.78 127.85,359.68 A66.5,66.5 0 0 1 125.72,360.34 Q112.99,296.72 130.53,234.27Z" fill="#E9B3D4" fill-opacity="0.8"/>
<path d="M133.11,235.30 A66.5,66.5 0 0 1 135.63,236.43 Q119.95,290.97 170.34,317.06 A66.5,66.5 0 0 1 169.65,319.09 Q119.50,291.09 133.11,235.30Z" fill="#E9B3D4" fill-opacity="0.8"/>
<path d="M168.54,271.05 A66.5,66.5 0 0 1 169.35,273.11 Q124.16,289.09 166.67,266.94 A66.5,66.5 0 0 1 167.85,269.45 Q124.21,289.15 168.54,271.05Z" fill="#E0185F" fill-opacity="0.8"/>
<path d="M170.09,275.19 A66.5,66.5 0 0 1 170.77,277.30 Q114.54,284.62 96.54,230.84 A66.5,66.5 0 0 1 98.63,230.54 Q114.73,284.28 170.09,275.19Z" fill="#E0185F" fill-opacity="0.8"/>
<path d="M169.35,273.11 A66.5,66.5 0 0 1 170.09,275.19 Q116.62,284.23 112.13,230.19 A66.5,66.5 0 0 1 114.40,230.40 Q116.84,283.97 169.35,273.11Z" fill="#E0185F" fill-opacity="0.8"/>
<path d="M171.40,313.46 A66.5,66.5 0 0 1 170.82,315.52 Q108.65,304.85 54.44,337.11 A66.5,66.5 0 0 1 53.07,335.27 Q108.54,304.30 171.40,313.46Z" fill="#CFE8F5" fill-opacity="0.8"/>
<path d="M172.15,310.33 A66.5,66.5 0 0 1 171.67,312.42 Q124.16,293.99 164.36,262.68 A66.5,66.5 0 0 1 165.72,265.10 Q124.41,294.04 172.15,310.33Z" fill="#CFE8F5" fill-opacity="0.8"/>
<path d="M157.70,339.65 A66.5,66.5 0 0 1 155.80,341.79 Q106.75,308.78 55.88,338.91 A66.5,66.5 0 0 1 54.44,337.11 Q106.81,308.23 157.70,339.65Z" fill="#7F8FC6" fill-opacity="0.8"/>
<path d="M159.50,337.44 A66.5,66.5 0 0 1 157.70,339.65 Q122.00,297.48 162.90,260.33 A66.5,66.5 0 0 1 164.36,262.68 Q122.45,297.50 159.50,337.44Z" fill="#7F8FC6" fill-opacity="0.8"/>
<path d="M172.66,285.38 A66.5,66.5 0 0 1 172.92,287.02 Q119.44,303.94 129.43,359.14 A66.5,66.5 0 0 1 127.85,359.68 Q119.18,303.79 172.66,285.38Z" fill="#E0185F" fill-opacity="0.8"/>
<path d="M173.07,288.11 A66.5,66.5 0 0 1 173.26,289.76 Q125.28,298.22 170.82,315.52 A66.5,66.5 0 0 1 170.34,317.06 Q125.19,298.20 173.07,288.11Z" fill="#E0185F" fill-opacity="0.8"/>
<path d="M173.60,295.92 A66.5,66.5 0 0 1 173.58,298.05 Q124.61,292.32 165.72,265.10 A66.5,66.5 0 0 1 166.67,266.94 Q124.75,292.28 173.60,295.92Z" fill="#B07AB5" fill-opacity="0.8"/>
<path d="M173.58,298.05 A66.5,66.5 0 0 1 173.50,300.17 Q108.83,302.44 53.07,335.27 A66.5,66.5 0 0 1 52.09,333.86 Q108.71,301.95 173.58,298.05Z" fill="#B07AB5" fill-opacity="0.8"/>
<path d="M68.45,350.62 A66.5,66.5 0 0 1 67.52,349.94 Q95.67,296.77 65.05,244.98 A66.5,66.5 0 0 1 65.85,244.34 Q95.91,296.77 68.45,350.62Z" fill="#A88FC7" fill-opacity="0.8"/>
<path d="M43.43,277.31 A66.5,66.5 0 0 1 43.77,276.21 Q95.46,284.77 87.30,233.01 A66.5,66.5 0 0 1 88.31,232.71 Q95.56,284.88 43.43,277.31Z" fill="#CFE3B4" fill-opacity="0.8"/>
<path d="M41.58,285.12 A66.5,66.5 0 0 1 41.79,283.99 Q107.25,295.26 173.50,300.17 A66.5,66.5 0 0 1 173.40,301.59 Q107.21,295.62 41.58,285.12Z" fill="#CFE3B4" fill-opacity="0.8"/>
<path d="M83.32,234.40 A66.5,66.5 0 0 1 84.31,234.03 Q112.67,290.92 169.65,319.09 A66.5,66.5 0 0 1 169.27,320.10 Q112.47,291.11 83.32,234.40Z" fill="#E8743B" fill-opacity="0.8"/>
<path d="M68.48,242.36 A66.5,66.5 0 0 1 69.35,241.76 Q96.10,281.49 66.26,244.02 A66.5,66.5 0 0 1 67.08,243.39 Q96.09,281.49 68.48,242.36Z" fill="#E8743B" fill-opacity="0.8"/>
<path d="M56.91,252.87 A66.5,66.5 0 0 1 57.59,252.10 Q92.88,284.49 55.07,255.09 A66.5,66.5 0 0 1 55.79,254.20 Q92.89,284.47 56.91,252.87Z" fill="#4A8CCC" fill-opacity="0.8"/>
<path d="M101.88,230.20 A66.5,66.5 0 0 1 103.02,230.13 Q98.04,291.04 46.48,323.85 A66.5,66.5 0 0 1 46.02,322.80 Q97.82,290.90 101.88,230.20Z" fill="#A89F6A" fill-opacity="0.8"/>
<path d="M172.92,287.02 A66.5,66.5 0 0 1 173.07,288.11 Q123.15,301.67 155.80,341.79 A66.5,66.5 0 0 1 154.81,342.82 Q122.99,301.66 172.92,287.02Z" fill="#E0185F" fill-opacity="0.8"/>
<path d="M171.67,312.42 A66.5,66.5 0 0 1 171.40,313.46 Q107.85,294.55 48.19,265.65 A66.5,66.5 0 0 1 48.73,264.64 Q107.97,294.27 171.67,312.42Z" fill="#CFE8F5" fill-opacity="0.8"/>
<path d="M170.77,277.30 A66.5,66.5 0 0 1 170.93,277.83 Q110.26,286.58 65.85,244.34 A66.5,66.5 0 0 1 66.26,244.02 Q110.30,286.46 170.77,277.30Z" fill="#E0185F" fill-opacity="0.8"/>
<path d="M101.15,220.93 A75.8,75.8 0 0 1 115.42,221.16 L115.02,224.74 A72.2,72.2 0 0 0 101.44,224.52Z" fill="#A89F6A"/>
<path d="M116.99,221.35 A75.8,75.8 0 0 1 176.35,265.67 L173.06,267.13 A72.2,72.2 0 0 0 116.52,224.92Z" fill="#E9B3D4"/>
<path d="M177.13,267.49 A75.8,75.8 0 0 1 182.85,293.85 L179.26,293.98 A72.2,72.2 0 0 0 173.80,268.87Z" fill="#E0185F"/>
<path d="M182.90,295.84 A75.8,75.8 0 0 1 181.63,310.31 L178.09,309.66 A72.2,72.2 0 0 0 179.30,295.87Z" fill="#B07AB5"/>
<path d="M181.24,312.26 A75.8,75.8 0 0 1 168.03,341.59 L165.14,339.45 A72.2,72.2 0 0 0 177.72,311.51Z" fill="#CFE8F5"/>
<path d="M166.83,343.17 A75.8,75.8 0 0 1 151.65,357.82 L149.54,354.91 A72.2,72.2 0 0 0 163.99,340.95Z" fill="#7F8FC6"/>
<path d="M150.03,358.97 A75.8,75.8 0 0 1 120.91,371.03 L120.26,367.49 A72.2,72.2 0 0 0 147.99,356.00Z" fill="#F5AA1C"/>
<path d="M118.96,371.37 A75.8,75.8 0 0 1 31.44,301.13 L35.03,300.91 A72.2,72.2 0 0 0 118.39,367.81Z" fill="#A88FC7"/>
<path d="M31.35,299.15 A75.8,75.8 0 0 1 48.61,248.29 L51.39,250.58 A72.2,72.2 0 0 0 34.94,299.02Z" fill="#CFE3B4"/>
<path d="M49.89,246.77 A75.8,75.8 0 0 1 61.48,235.96 L63.65,238.84 A72.2,72.2 0 0 0 52.61,249.13Z" fill="#4A8CCC"/>
<path d="M63.08,234.79 A75.8,75.8 0 0 1 99.83,221.05 L100.18,224.63 A72.2,72.2 0 0 0 65.17,237.72Z" fill="#E8743B"/>
<path d="M115.69,366.27 A70.3,70.3 0 0 1 109.64,366.75 L109.52,363.46 A67.0,67.0 0 0 0 115.29,363.00Z" fill="#7F8FC6"/>
<path d="M109.64,366.75 A70.3,70.3 0 0 1 99.94,366.43 L100.28,363.15 A67.0,67.0 0 0 0 109.52,363.46Z" fill="#CFE8F5"/>
<path d="M99.94,366.43 A70.3,70.3 0 0 1 93.94,365.56 L94.55,362.31 A67.0,67.0 0 0 0 100.28,363.15Z" fill="#B07AB5"/>
<path d="M93.94,365.56 A70.3,70.3 0 0 1 89.20,364.48 L90.04,361.29 A67.0,67.0 0 0 0 94.55,362.31Z" fill="#E0185F"/>
<path d="M89.20,364.48 A70.3,70.3 0 0 1 81.13,361.83 L82.35,358.76 A67.0,67.0 0 0 0 90.04,361.29Z" fill="#E9B3D4"/>
<path d="M81.13,361.83 A70.3,70.3 0 0 1 74.51,358.79 L76.04,355.87 A67.0,67.0 0 0 0 82.35,358.76Z" fill="#A89F6A"/>
<path d="M74.51,358.79 A70.3,70.3 0 0 1 66.24,353.71 L68.16,351.02 A67.0,67.0 0 0 0 76.04,355.87Z" fill="#E8743B"/>
<path d="M66.24,353.71 A70.3,70.3 0 0 1 65.26,352.99 L67.22,350.34 A67.0,67.0 0 0 0 68.16,351.02Z" fill="#4A8CCC"/>
<path d="M65.26,352.99 A70.3,70.3 0 0 1 56.17,344.96 L58.56,342.69 A67.0,67.0 0 0 0 67.22,350.34Z" fill="#CFE3B4"/>
<path d="M118.10,365.93 A70.3,70.3 0 0 1 115.69,366.27 L115.29,363.00 A67.0,67.0 0 0 0 117.58,362.68Z" fill="#F5AA1C"/>
<path d="M36.84,298.95 A70.3,70.3 0 0 1 37.06,290.47 L40.35,290.76 A67.0,67.0 0 0 0 40.14,298.84Z" fill="#A88FC7"/>
<path d="M38.06,283.27 A70.3,70.3 0 0 1 39.79,276.21 L42.95,277.16 A67.0,67.0 0 0 0 41.30,283.89Z" fill="#E9B3D4"/>
<path d="M37.31,288.06 A70.3,70.3 0 0 1 37.84,284.47 L41.09,285.03 A67.0,67.0 0 0 0 40.58,288.46Z" fill="#CFE8F5"/>
<path d="M37.06,290.47 A70.3,70.3 0 0 1 37.31,288.06 L40.58,288.46 A67.0,67.0 0 0 0 40.35,290.76Z" fill="#F5AA1C"/>
<path d="M39.79,276.21 A70.3,70.3 0 0 1 40.15,275.05 L43.29,276.06 A67.0,67.0 0 0 0 42.95,277.16Z" fill="#E8743B"/>
<path d="M37.84,284.47 A70.3,70.3 0 0 1 38.06,283.27 L41.30,283.89 A67.0,67.0 0 0 0 41.09,285.03Z" fill="#B07AB5"/>
<path d="M70.94,236.21 A70.3,70.3 0 0 1 79.89,231.68 L81.17,234.72 A67.0,67.0 0 0 0 72.64,239.04Z" fill="#A88FC7"/>
<path d="M67.19,238.63 A70.3,70.3 0 0 1 70.94,236.21 L72.64,239.04 A67.0,67.0 0 0 0 69.06,241.34Z" fill="#CFE3B4"/>
<path d="M83.00,230.46 A70.3,70.3 0 0 1 86.17,229.39 L87.16,232.54 A67.0,67.0 0 0 0 84.13,233.56Z" fill="#E9B3D4"/>
<path d="M79.89,231.68 A70.3,70.3 0 0 1 81.96,230.85 L83.14,233.93 A67.0,67.0 0 0 0 81.17,234.72Z" fill="#F5AA1C"/>
<path d="M81.96,230.85 A70.3,70.3 0 0 1 83.00,230.46 L84.13,233.56 A67.0,67.0 0 0 0 83.14,233.93Z" fill="#CFE8F5"/>
<path d="M66.28,239.27 A70.3,70.3 0 0 1 67.19,238.63 L69.06,241.34 A67.0,67.0 0 0 0 68.19,241.95Z" fill="#4A8CCC"/>
<path d="M54.77,249.56 A70.3,70.3 0 0 1 57.78,246.41 L60.09,248.76 A67.0,67.0 0 0 0 57.22,251.76Z" fill="#A88FC7"/>
<path d="M60.16,244.17 A70.3,70.3 0 0 1 62.65,242.04 L64.73,244.60 A67.0,67.0 0 0 0 62.36,246.62Z" fill="#E9B3D4"/>
<path d="M57.78,246.41 A70.3,70.3 0 0 1 60.16,244.17 L62.36,246.62 A67.0,67.0 0 0 0 60.09,248.76Z" fill="#CFE8F5"/>
<path d="M54.04,250.38 A70.3,70.3 0 0 1 54.77,249.56 L57.22,251.76 A67.0,67.0 0 0 0 56.53,252.54Z" fill="#CFE3B4"/>
<path d="M101.58,226.42 A70.3,70.3 0 0 1 102.79,226.33 L102.99,229.63 A67.0,67.0 0 0 0 101.84,229.71Z" fill="#A88FC7"/>
<path d="M102.79,226.33 A70.3,70.3 0 0 1 105.19,226.23 L105.28,229.52 A67.0,67.0 0 0 0 102.99,229.63Z" fill="#E9B3D4"/>
<path d="M123.47,228.13 A70.3,70.3 0 0 1 131.87,230.71 L130.71,233.80 A67.0,67.0 0 0 0 122.71,231.34Z" fill="#A88FC7"/>
<path d="M119.17,227.24 A70.3,70.3 0 0 1 123.47,228.13 L122.71,231.34 A67.0,67.0 0 0 0 118.61,230.50Z" fill="#CFE3B4"/>
<path d="M116.28,226.80 A70.3,70.3 0 0 1 119.17,227.24 L118.61,230.50 A67.0,67.0 0 0 0 115.85,230.07Z" fill="#E8743B"/>
<path d="M131.87,230.71 A70.3,70.3 0 0 1 134.59,231.80 L133.30,234.84 A67.0,67.0 0 0 0 130.71,233.80Z" fill="#F5AA1C"/>
<path d="M134.59,231.80 A70.3,70.3 0 0 1 137.26,233.00 L135.85,235.98 A67.0,67.0 0 0 0 133.30,234.84Z" fill="#CFE8F5"/>
<path d="M175.47,280.16 A70.3,70.3 0 0 1 176.41,284.74 L173.16,285.29 A67.0,67.0 0 0 0 172.26,280.93Z" fill="#A88FC7"/>
<path d="M174.57,276.77 A70.3,70.3 0 0 1 175.47,280.16 L172.26,280.93 A67.0,67.0 0 0 0 171.41,277.69Z" fill="#CFE3B4"/>
<path d="M172.05,269.60 A70.3,70.3 0 0 1 172.91,271.77 L169.82,272.93 A67.0,67.0 0 0 0 169.00,270.86Z" fill="#E9B3D4"/>
<path d="M173.69,273.98 A70.3,70.3 0 0 1 174.41,276.21 L171.25,277.16 A67.0,67.0 0 0 0 170.57,275.03Z" fill="#E8743B"/>
<path d="M172.91,271.77 A70.3,70.3 0 0 1 173.69,273.98 L170.57,275.03 A67.0,67.0 0 0 0 169.82,272.93Z" fill="#A89F6A"/>
<path d="M174.41,276.21 A70.3,70.3 0 0 1 174.57,276.77 L171.41,277.69 A67.0,67.0 0 0 0 171.25,277.16Z" fill="#4A8CCC"/>
<path d="M176.41,284.74 A70.3,70.3 0 0 1 176.68,286.48 L173.42,286.95 A67.0,67.0 0 0 0 173.16,285.29Z" fill="#F5AA1C"/>
<path d="M176.84,287.64 A70.3,70.3 0 0 1 177.04,289.38 L173.76,289.71 A67.0,67.0 0 0 0 173.57,288.05Z" fill="#CFE8F5"/>
<path d="M176.68,286.48 A70.3,70.3 0 0 1 176.84,287.64 L173.57,288.05 A67.0,67.0 0 0 0 173.42,286.95Z" fill="#7F8FC6"/>
<path d="M177.40,295.89 A70.3,70.3 0 0 1 177.38,298.14 L174.08,298.06 A67.0,67.0 0 0 0 174.10,295.92Z" fill="#E9B3D4"/>
<path d="M177.38,298.14 A70.3,70.3 0 0 1 177.29,300.38 L174.00,300.20 A67.0,67.0 0 0 0 174.08,298.06Z" fill="#A88FC7"/>
<path d="M175.08,314.43 A70.3,70.3 0 0 1 174.46,316.61 L171.30,315.67 A67.0,67.0 0 0 0 171.89,313.58Z" fill="#A88FC7"/>
<path d="M175.86,311.12 A70.3,70.3 0 0 1 175.36,313.33 L172.15,312.54 A67.0,67.0 0 0 0 172.64,310.43Z" fill="#E9B3D4"/>
<path d="M175.36,313.33 A70.3,70.3 0 0 1 175.08,314.43 L171.89,313.58 A67.0,67.0 0 0 0 172.15,312.54Z" fill="#CFE3B4"/>
<path d="M160.59,342.12 A70.3,70.3 0 0 1 158.58,344.38 L156.16,342.13 A67.0,67.0 0 0 0 158.08,339.98Z" fill="#A88FC7"/>
<path d="M162.50,339.78 A70.3,70.3 0 0 1 160.59,342.12 L158.08,339.98 A67.0,67.0 0 0 0 159.90,337.75Z" fill="#E9B3D4"/>
<path d="M140.90,358.14 A70.3,70.3 0 0 1 135.09,360.99 L133.77,357.96 A67.0,67.0 0 0 0 139.32,355.25Z" fill="#E9B3D4"/>
<path d="M135.09,360.99 A70.3,70.3 0 0 1 130.71,362.72 L129.60,359.61 A67.0,67.0 0 0 0 133.77,357.96Z" fill="#A88FC7"/>
<path d="M146.92,354.44 A70.3,70.3 0 0 1 143.96,356.36 L142.23,353.55 A67.0,67.0 0 0 0 145.05,351.72Z" fill="#7F8FC6"/>
<path d="M143.96,356.36 A70.3,70.3 0 0 1 140.90,358.14 L139.32,355.25 A67.0,67.0 0 0 0 142.23,353.55Z" fill="#CFE8F5"/>
<text x="-1.00" y="230.20" font-size="12" fill="#000" font-weight="bold">d</text>
<text x="109.30" y="215.00" font-size="7.4" text-anchor="middle" fill="#111" stroke="#111" stroke-width="0.22" dominant-baseline="middle">NK</text>
<text x="156.20" y="230.30" font-size="7.4" text-anchor="middle" fill="#E6007E" font-weight="bold" transform="rotate(42 156.20 230.30)" dominant-baseline="middle">Neu</text>
<text x="185.30" y="279.00" font-size="7.4" text-anchor="middle" fill="#111" stroke="#111" stroke-width="0.22" transform="rotate(86 185.30 279.00)" dominant-baseline="middle">Plasma</text>
<text x="188.30" y="304.80" font-size="7.4" text-anchor="middle" fill="#111" stroke="#111" stroke-width="0.22" transform="rotate(90 188.30 304.80)" dominant-baseline="middle">B</text>
<text x="180.50" y="330.50" font-size="7.4" text-anchor="middle" fill="#111" stroke="#111" stroke-width="0.22" transform="rotate(-62 180.50 330.50)" dominant-baseline="middle">CD4</text>
<text x="164.00" y="356.00" font-size="7.4" text-anchor="middle" fill="#111" stroke="#111" stroke-width="0.22" transform="rotate(-45 164.00 356.00)" dominant-baseline="middle">CD8</text>
<text x="138.50" y="372.00" font-size="7.4" text-anchor="middle" fill="#E6007E" font-weight="bold" transform="rotate(-20 138.50 372.00)" dominant-baseline="middle">DC</text>
<text x="55.00" y="361.50" font-size="7.4" text-anchor="middle" fill="#E6007E" font-weight="bold" transform="rotate(40 55.00 361.50)" dominant-baseline="middle">Epi</text>
<text x="28.50" y="269.00" font-size="7.4" text-anchor="middle" fill="#E6007E" font-weight="bold" transform="rotate(-72 28.50 269.00)" dominant-baseline="middle">Macro</text>
<text x="52.30" y="239.50" font-size="7.4" text-anchor="middle" fill="#111" stroke="#111" stroke-width="0.22" transform="rotate(-48 52.30 239.50)" dominant-baseline="middle">Mega</text>
<text x="80.50" y="221.50" font-size="7.4" text-anchor="middle" fill="#E6007E" font-weight="bold" transform="rotate(-22 80.50 221.50)" dominant-baseline="middle">Mono</text>
<path d="M282.99,233.64 A65.7,65.7 0 0 1 293.37,231.74 Q296.15,296.67 279.15,359.41 A65.7,65.7 0 0 1 269.11,355.09 Q293.29,296.33 282.99,233.64Z" fill="#E8743B" fill-opacity="0.8"/>
<path d="M241.95,327.87 A65.7,65.7 0 0 1 237.96,318.71 Q299.46,304.40 358.16,327.67 A65.7,65.7 0 0 1 353.40,335.37 Q299.35,306.77 241.95,327.87Z" fill="#CFE3B4" fill-opacity="0.8"/>
<path d="M273.86,236.83 A65.7,65.7 0 0 1 282.14,233.87 Q289.76,283.28 244.69,261.64 A65.7,65.7 0 0 1 250.71,253.67 Q289.44,282.58 273.86,236.83Z" fill="#E8743B" fill-opacity="0.8"/>
<path d="M298.85,362.79 A65.7,65.7 0 0 1 289.77,362.00 Q289.37,305.98 234.32,295.63 A65.7,65.7 0 0 1 235.30,285.69 Q290.78,304.70 298.85,362.79Z" fill="#F5AA1C" fill-opacity="0.8"/>
<path d="M245.55,333.86 A65.7,65.7 0 0 1 241.95,327.87 Q296.43,309.39 332.58,354.15 A65.7,65.7 0 0 1 324.89,357.90 Q295.86,310.76 245.55,333.86Z" fill="#CFE3B4" fill-opacity="0.8"/>
<path d="M310.66,361.93 A65.7,65.7 0 0 1 304.32,362.66 Q307.75,300.49 351.06,255.75 A65.7,65.7 0 0 1 355.72,262.28 Q309.29,301.30 310.66,361.93Z" fill="#F5AA1C" fill-opacity="0.8"/>
<path d="M249.13,338.67 A65.7,65.7 0 0 1 245.55,333.86 Q287.83,310.24 267.51,354.21 A65.7,65.7 0 0 1 262.88,351.31 Q287.68,310.51 249.13,338.67Z" fill="#CFE3B4" fill-opacity="0.8"/>
<path d="M304.32,362.66 A65.7,65.7 0 0 1 298.85,362.79 Q301.25,297.21 310.05,232.17 A65.7,65.7 0 0 1 315.23,233.19 Q302.74,297.33 304.32,362.66Z" fill="#F5AA1C" fill-opacity="0.8"/>
<path d="M362.94,315.94 A65.7,65.7 0 0 1 361.17,321.08 Q299.69,298.04 236.61,279.84 A65.7,65.7 0 0 1 238.45,274.13 Q300.19,296.52 362.94,315.94Z" fill="#CFE8F5" fill-opacity="0.8"/>
<path d="M346.19,343.83 A65.7,65.7 0 0 1 340.69,348.68 Q296.64,302.72 235.30,285.69 A65.7,65.7 0 0 1 236.61,279.84 Q297.59,301.23 346.19,343.83Z" fill="#7F8FC6" fill-opacity="0.8"/>
<path d="M235.22,308.07 A65.7,65.7 0 0 1 234.58,303.12 Q297.46,291.55 347.26,251.46 A65.7,65.7 0 0 1 351.06,255.75 Q298.08,292.85 235.22,308.07Z" fill="#CFE3B4" fill-opacity="0.8"/>
<path d="M329.83,238.56 A65.7,65.7 0 0 1 334.82,241.38 Q308.24,280.74 324.04,235.96 A65.7,65.7 0 0 1 328.08,237.70 Q308.11,280.59 329.83,238.56Z" fill="#ADA16B" fill-opacity="0.8"/>
<path d="M334.82,241.38 A65.7,65.7 0 0 1 339.54,244.63 Q297.44,285.39 242.16,265.94 A65.7,65.7 0 0 1 244.69,261.64 Q297.13,284.34 334.82,241.38Z" fill="#ADA16B" fill-opacity="0.8"/>
<path d="M237.96,318.71 A65.7,65.7 0 0 1 236.76,314.90 Q300.27,300.77 365.16,305.53 A65.7,65.7 0 0 1 364.26,310.76 Q300.31,302.04 237.96,318.71Z" fill="#CFE3B4" fill-opacity="0.8"/>
<path d="M236.01,311.99 A65.7,65.7 0 0 1 235.22,308.07 Q299.50,295.30 361.23,273.29 A65.7,65.7 0 0 1 362.45,276.71 Q299.79,296.33 236.01,311.99Z" fill="#CFE3B4" fill-opacity="0.8"/>
<path d="M234.58,303.12 A65.7,65.7 0 0 1 234.33,299.13 Q291.60,288.22 305.68,231.65 A65.7,65.7 0 0 1 309.17,232.04 Q292.13,288.83 234.58,303.12Z" fill="#CFE3B4" fill-opacity="0.8"/>
<path d="M293.37,231.74 A65.7,65.7 0 0 1 296.88,231.47 Q304.71,295.54 336.74,351.57 A65.7,65.7 0 0 1 332.58,354.15 Q303.63,295.94 293.37,231.74Z" fill="#E8743B" fill-opacity="0.8"/>
<path d="M318.66,360.09 A65.7,65.7 0 0 1 315.13,361.03 Q305.60,314.56 324.89,357.90 A65.7,65.7 0 0 1 320.30,359.58 Q305.45,314.67 318.66,360.09Z" fill="#F5AA1C" fill-opacity="0.8"/>
<path d="M339.54,244.63 A65.7,65.7 0 0 1 343.10,247.52 Q303.60,299.03 282.64,360.47 A65.7,65.7 0 0 1 279.15,359.41 Q302.62,298.48 339.54,244.63Z" fill="#ADA16B" fill-opacity="0.8"/>
<path d="M364.35,283.87 A65.7,65.7 0 0 1 365.10,288.24 Q300.65,292.25 239.56,271.35 A65.7,65.7 0 0 1 241.24,267.72 Q300.78,291.13 364.35,283.87Z" fill="#E0185F" fill-opacity="0.8"/>
<path d="M236.76,314.90 A65.7,65.7 0 0 1 236.01,311.99 Q300.22,298.64 365.58,293.20 A65.7,65.7 0 0 1 365.70,296.53 Q300.34,299.51 236.76,314.90Z" fill="#CFE3B4" fill-opacity="0.8"/>
<path d="M303.04,231.47 A65.7,65.7 0 0 1 305.68,231.65 Q307.07,281.21 344.81,249.05 A65.7,65.7 0 0 1 347.26,251.46 Q307.04,281.52 303.04,231.47Z" fill="#E8743B" fill-opacity="0.8"/>
<path d="M296.88,231.47 A65.7,65.7 0 0 1 299.52,231.40 Q308.32,291.67 359.94,324.00 A65.7,65.7 0 0 1 358.78,326.46 Q307.79,292.02 296.88,231.47Z" fill="#E8743B" fill-opacity="0.8"/>
<path d="M315.13,361.03 A65.7,65.7 0 0 1 312.46,361.61 Q309.22,311.49 353.40,335.37 A65.7,65.7 0 0 1 351.77,337.55 Q309.37,311.71 315.13,361.03Z" fill="#F5AA1C" fill-opacity="0.8"/>
<path d="M363.67,313.32 A65.7,65.7 0 0 1 362.94,315.94 Q311.30,290.88 317.78,233.85 A65.7,65.7 0 0 1 320.31,234.62 Q311.76,290.62 363.67,313.32Z" fill="#CFE8F5" fill-opacity="0.8"/>
<path d="M348.72,341.18 A65.7,65.7 0 0 1 346.19,343.83 Q308.60,294.69 315.23,233.19 A65.7,65.7 0 0 1 317.78,233.85 Q309.31,294.42 348.72,341.18Z" fill="#7F8FC6" fill-opacity="0.8"/>
<path d="M254.20,250.00 A65.7,65.7 0 0 1 259.06,245.72 Q287.37,283.83 250.71,253.67 A65.7,65.7 0 0 1 252.74,251.46 Q286.97,284.12 254.20,250.00Z" fill="#4A8CCC" fill-opacity="0.8"/>
<path d="M365.63,300.24 A65.7,65.7 0 0 1 365.31,304.21 Q300.53,294.88 238.45,274.13 A65.7,65.7 0 0 1 239.56,271.35 Q300.73,293.93 365.63,300.24Z" fill="#B07AB5" fill-opacity="0.8"/>
<path d="M250.42,340.20 A65.7,65.7 0 0 1 249.13,338.67 Q286.39,309.44 253.64,343.66 A65.7,65.7 0 0 1 251.72,341.66 Q286.30,309.37 250.42,340.20Z" fill="#CFE3B4" fill-opacity="0.8"/>
<path d="M301.28,231.41 A65.7,65.7 0 0 1 303.04,231.47 Q308.90,284.34 360.55,271.60 A65.7,65.7 0 0 1 361.23,273.29 Q308.75,284.57 301.28,231.41Z" fill="#E8743B" fill-opacity="0.8"/>
<path d="M312.46,361.61 A65.7,65.7 0 0 1 310.66,361.93 Q310.24,303.32 362.45,276.71 A65.7,65.7 0 0 1 362.99,278.44 Q310.56,303.52 312.46,361.61Z" fill="#F5AA1C" fill-opacity="0.8"/>
<path d="M343.10,247.52 A65.7,65.7 0 0 1 344.81,249.05 Q311.70,297.80 338.74,350.16 A65.7,65.7 0 0 1 336.74,351.57 Q311.18,297.78 343.10,247.52Z" fill="#ADA16B" fill-opacity="0.8"/>
<path d="M363.87,281.71 A65.7,65.7 0 0 1 364.35,283.87 Q312.03,286.56 321.56,235.04 A65.7,65.7 0 0 1 323.22,235.64 Q312.19,286.34 363.87,281.71Z" fill="#E0185F" fill-opacity="0.8"/>
<path d="M365.10,288.24 A65.7,65.7 0 0 1 365.36,290.44 Q307.09,305.13 285.30,361.13 A65.7,65.7 0 0 1 283.53,360.70 Q306.81,304.76 365.10,288.24Z" fill="#E0185F" fill-opacity="0.8"/>
<path d="M361.17,321.08 A65.7,65.7 0 0 1 360.48,322.75 Q306.66,309.71 287.08,361.52 A65.7,65.7 0 0 1 285.30,361.13 Q306.51,309.42 361.17,321.08Z" fill="#CFE8F5" fill-opacity="0.8"/>
<path d="M340.69,348.68 A65.7,65.7 0 0 1 338.74,350.16 Q303.87,313.59 288.88,361.85 A65.7,65.7 0 0 1 287.08,361.52 Q303.89,313.34 340.69,348.68Z" fill="#7F8FC6" fill-opacity="0.8"/>
<path d="M350.33,339.33 A65.7,65.7 0 0 1 348.72,341.18 Q314.62,298.40 355.72,262.28 A65.7,65.7 0 0 1 356.90,264.25 Q315.01,298.41 350.33,339.33Z" fill="#7F8FC6" fill-opacity="0.8"/>
<path d="M259.06,245.72 A65.7,65.7 0 0 1 262.52,243.14 Q290.43,297.66 269.11,355.09 A65.7,65.7 0 0 1 267.51,354.21 Q289.72,297.90 259.06,245.72Z" fill="#4A8CCC" fill-opacity="0.8"/>
<path d="M257.74,347.41 A65.7,65.7 0 0 1 255.65,345.58 Q284.59,303.96 234.30,297.63 A65.7,65.7 0 0 1 234.32,295.63 Q284.89,303.94 257.74,347.41Z" fill="#A88FC7" fill-opacity="0.8"/>
<path d="M359.44,269.12 A65.7,65.7 0 0 1 360.19,270.77 Q300.20,289.30 241.24,267.72 A65.7,65.7 0 0 1 242.16,265.94 Q300.22,288.82 359.44,269.12Z" fill="#E9B3D4" fill-opacity="0.8"/>
<path d="M365.36,290.44 A65.7,65.7 0 0 1 365.51,292.10 Q317.64,299.99 360.48,322.75 A65.7,65.7 0 0 1 359.94,324.00 Q317.54,299.93 365.36,290.44Z" fill="#E0185F" fill-opacity="0.8"/>
<path d="M363.46,280.10 A65.7,65.7 0 0 1 363.87,281.71 Q316.99,290.49 357.46,265.25 A65.7,65.7 0 0 1 358.28,266.76 Q317.04,290.47 363.46,280.10Z" fill="#E0185F" fill-opacity="0.8"/>
<path d="M262.52,243.14 A65.7,65.7 0 0 1 265.23,241.35 Q303.36,293.41 358.78,326.46 A65.7,65.7 0 0 1 358.16,327.67 Q302.90,293.82 262.52,243.14Z" fill="#4A8CCC" fill-opacity="0.8"/>
<path d="M260.46,349.57 A65.7,65.7 0 0 1 258.82,348.29 Q289.04,311.86 262.88,351.31 A65.7,65.7 0 0 1 261.75,350.52 Q289.11,311.92 260.46,349.57Z" fill="#A88FC7" fill-opacity="0.8"/>
<path d="M365.69,298.25 A65.7,65.7 0 0 1 365.63,300.24 Q312.03,288.79 320.31,234.62 A65.7,65.7 0 0 1 321.56,235.04 Q312.22,288.57 365.69,298.25Z" fill="#B07AB5" fill-opacity="0.8"/>
<path d="M234.33,299.13 A65.7,65.7 0 0 1 234.30,297.63 Q285.93,289.37 265.23,241.35 A65.7,65.7 0 0 1 268.02,239.71 Q286.33,289.35 234.33,299.13Z" fill="#CFE3B4" fill-opacity="0.8"/>
<path d="M272.65,237.36 A65.7,65.7 0 0 1 273.86,236.83 Q291.86,280.63 268.02,239.71 A65.7,65.7 0 0 1 270.89,238.20 Q292.10,280.49 272.65,237.36Z" fill="#E8743B" fill-opacity="0.8"/>
<path d="M363.88,312.44 A65.7,65.7 0 0 1 363.67,313.32 Q316.88,294.77 356.90,264.25 A65.7,65.7 0 0 1 357.46,265.25 Q316.99,294.79 363.88,312.44Z" fill="#CFE8F5" fill-opacity="0.8"/>
<path d="M258.82,348.29 A65.7,65.7 0 0 1 257.74,347.41 Q295.37,295.04 309.17,232.04 A65.7,65.7 0 0 1 310.05,232.17 Q295.64,295.18 258.82,348.29Z" fill="#A88FC7" fill-opacity="0.8"/>
<path d="M360.19,270.77 A65.7,65.7 0 0 1 360.55,271.60 Q306.17,302.43 283.53,360.70 A65.7,65.7 0 0 1 282.64,360.47 Q306.00,302.29 360.19,270.77Z" fill="#E9B3D4" fill-opacity="0.8"/>
<path d="M359.05,268.30 A65.7,65.7 0 0 1 359.44,269.12 Q311.57,284.58 323.22,235.64 A65.7,65.7 0 0 1 324.04,235.96 Q311.63,284.51 359.05,268.30Z" fill="#E9B3D4" fill-opacity="0.8"/>
<path d="M289.77,362.00 A65.7,65.7 0 0 1 288.88,361.85 Q292.23,312.95 255.65,345.58 A65.7,65.7 0 0 1 254.64,344.63 Q292.22,312.84 289.77,362.00Z" fill="#F5AA1C" fill-opacity="0.8"/>
<path d="M282.14,233.87 A65.7,65.7 0 0 1 282.99,233.64 Q291.27,294.87 254.64,344.63 A65.7,65.7 0 0 1 253.64,343.66 Q291.01,294.77 282.14,233.87Z" fill="#E8743B" fill-opacity="0.8"/>
<path d="M300.40,231.40 A65.7,65.7 0 0 1 301.28,231.41 Q309.35,287.20 365.51,292.10 A65.7,65.7 0 0 1 365.58,293.20 Q309.24,287.36 300.40,231.40Z" fill="#E8743B" fill-opacity="0.8"/>
<path d="M299.52,231.40 A65.7,65.7 0 0 1 300.40,231.40 Q309.20,288.90 365.31,304.21 A65.7,65.7 0 0 1 365.16,305.53 Q309.05,289.08 299.52,231.40Z" fill="#E8743B" fill-opacity="0.8"/>
<path d="M268.78,228.91 A75.0,75.0 0 0 1 332.05,229.29 L330.51,232.55 A71.4,71.4 0 0 0 270.28,232.18Z" fill="#E8743B"/>
<path d="M334.05,230.27 A75.0,75.0 0 0 1 366.53,262.47 L363.33,264.13 A71.4,71.4 0 0 0 332.41,233.48Z" fill="#ADA16B"/>
<path d="M367.41,264.22 A75.0,75.0 0 0 1 371.91,275.80 L368.46,276.82 A71.4,71.4 0 0 0 364.17,265.80Z" fill="#E9B3D4"/>
<path d="M372.44,277.69 A75.0,75.0 0 0 1 375.00,296.45 L371.40,296.48 A71.4,71.4 0 0 0 368.97,278.62Z" fill="#E0185F"/>
<path d="M374.99,298.41 A75.0,75.0 0 0 1 373.36,312.69 L369.84,311.94 A71.4,71.4 0 0 0 371.39,298.35Z" fill="#B07AB5"/>
<path d="M372.93,314.61 A75.0,75.0 0 0 1 359.10,343.27 L356.26,341.06 A71.4,71.4 0 0 0 369.43,313.77Z" fill="#CFE8F5"/>
<path d="M357.45,345.31 A75.0,75.0 0 0 1 323.18,368.43 L322.06,365.01 A71.4,71.4 0 0 0 354.70,343.00Z" fill="#7F8FC6"/>
<path d="M321.30,369.01 A75.0,75.0 0 0 1 256.34,358.08 L258.44,355.16 A71.4,71.4 0 0 0 320.28,365.56Z" fill="#F5AA1C"/>
<path d="M254.86,357.00 A75.0,75.0 0 0 1 244.88,347.96 L247.53,345.52 A71.4,71.4 0 0 0 257.03,354.12Z" fill="#A88FC7"/>
<path d="M243.40,346.30 A75.0,75.0 0 0 1 246.05,245.00 L248.64,247.50 A71.4,71.4 0 0 0 246.11,343.94Z" fill="#CFE3B4"/>
<path d="M247.71,243.33 A75.0,75.0 0 0 1 266.77,229.86 L268.36,233.09 A71.4,71.4 0 0 0 250.22,245.91Z" fill="#4A8CCC"/>
<path d="M238.59,329.65 A69.5,69.5 0 0 1 234.37,319.96 L237.48,318.88 A66.2,66.2 0 0 0 241.51,328.10Z" fill="#CFE8F5"/>
<path d="M234.37,319.96 A69.5,69.5 0 0 1 233.10,315.93 L236.28,315.03 A66.2,66.2 0 0 0 237.48,318.88Z" fill="#B07AB5"/>
<path d="M242.40,335.99 A69.5,69.5 0 0 1 238.59,329.65 L241.51,328.10 A66.2,66.2 0 0 0 245.13,334.14Z" fill="#7F8FC6"/>
<path d="M246.18,341.08 A69.5,69.5 0 0 1 242.40,335.99 L245.13,334.14 A66.2,66.2 0 0 0 248.74,338.99Z" fill="#F5AA1C"/>
<path d="M232.31,312.86 A69.5,69.5 0 0 1 231.48,308.71 L234.73,308.16 A66.2,66.2 0 0 0 235.52,312.11Z" fill="#E9B3D4"/>
<path d="M231.48,308.71 A69.5,69.5 0 0 1 230.79,303.47 L234.08,303.16 A66.2,66.2 0 0 0 234.73,308.16Z" fill="#ADA16B"/>
<path d="M233.10,315.93 A69.5,69.5 0 0 1 232.31,312.86 L235.52,312.11 A66.2,66.2 0 0 0 236.28,315.03Z" fill="#E0185F"/>
<path d="M230.79,303.47 A69.5,69.5 0 0 1 230.53,299.25 L233.83,299.14 A66.2,66.2 0 0 0 234.08,303.16Z" fill="#E8743B"/>
<path d="M247.55,342.70 A69.5,69.5 0 0 1 246.18,341.08 L248.74,338.99 A66.2,66.2 0 0 0 250.04,340.53Z" fill="#A88FC7"/>
<path d="M282.01,229.97 A69.5,69.5 0 0 1 292.99,227.95 L293.32,231.24 A66.2,66.2 0 0 0 282.86,233.16Z" fill="#F5AA1C"/>
<path d="M272.34,233.34 A69.5,69.5 0 0 1 281.11,230.22 L282.01,233.39 A66.2,66.2 0 0 0 273.66,236.37Z" fill="#CFE3B4"/>
<path d="M292.99,227.95 A69.5,69.5 0 0 1 296.70,227.68 L296.86,230.97 A66.2,66.2 0 0 0 293.32,231.24Z" fill="#7F8FC6"/>
<path d="M303.22,227.67 A69.5,69.5 0 0 1 306.00,227.86 L305.72,231.15 A66.2,66.2 0 0 0 303.06,230.97Z" fill="#ADA16B"/>
<path d="M296.70,227.68 A69.5,69.5 0 0 1 299.49,227.60 L299.52,230.90 A66.2,66.2 0 0 0 296.86,230.97Z" fill="#CFE8F5"/>
<path d="M301.36,227.61 A69.5,69.5 0 0 1 303.22,227.67 L303.06,230.97 A66.2,66.2 0 0 0 301.29,230.91Z" fill="#E9B3D4"/>
<path d="M298.79,366.59 A69.5,69.5 0 0 1 289.18,365.75 L289.70,362.49 A66.2,66.2 0 0 0 298.85,363.29Z" fill="#CFE3B4"/>
<path d="M311.28,365.68 A69.5,69.5 0 0 1 304.57,366.45 L304.36,363.16 A66.2,66.2 0 0 0 310.75,362.42Z" fill="#ADA16B"/>
<path d="M319.74,363.74 A69.5,69.5 0 0 1 316.01,364.73 L315.25,361.52 A66.2,66.2 0 0 0 318.80,360.57Z" fill="#7F8FC6"/>
<path d="M304.57,366.45 A69.5,69.5 0 0 1 298.79,366.59 L298.85,363.29 A66.2,66.2 0 0 0 304.36,363.16Z" fill="#E8743B"/>
<path d="M316.01,364.73 A69.5,69.5 0 0 1 313.18,365.34 L312.55,362.10 A66.2,66.2 0 0 0 315.25,361.52Z" fill="#CFE8F5"/>
<path d="M313.18,365.34 A69.5,69.5 0 0 1 311.28,365.68 L310.75,362.42 A66.2,66.2 0 0 0 312.55,362.10Z" fill="#E9B3D4"/>
<path d="M331.55,235.18 A69.5,69.5 0 0 1 336.83,238.16 L335.08,240.96 A66.2,66.2 0 0 0 330.05,238.12Z" fill="#E8743B"/>
<path d="M336.83,238.16 A69.5,69.5 0 0 1 341.83,241.59 L339.84,244.23 A66.2,66.2 0 0 0 335.08,240.96Z" fill="#CFE3B4"/>
<path d="M341.83,241.59 A69.5,69.5 0 0 1 345.60,244.65 L343.43,247.14 A66.2,66.2 0 0 0 339.84,244.23Z" fill="#F5AA1C"/>
<path d="M345.60,244.65 A69.5,69.5 0 0 1 347.40,246.27 L345.15,248.68 A66.2,66.2 0 0 0 343.43,247.14Z" fill="#7F8FC6"/>
<path d="M368.08,283.11 A69.5,69.5 0 0 1 368.87,287.73 L365.60,288.17 A66.2,66.2 0 0 0 364.84,283.77Z" fill="#CFE3B4"/>
<path d="M367.57,280.82 A69.5,69.5 0 0 1 368.08,283.11 L364.84,283.77 A66.2,66.2 0 0 0 364.36,281.59Z" fill="#E8743B"/>
<path d="M368.87,287.73 A69.5,69.5 0 0 1 369.14,290.06 L365.86,290.39 A66.2,66.2 0 0 0 365.60,288.17Z" fill="#F5AA1C"/>
<path d="M369.14,290.06 A69.5,69.5 0 0 1 369.30,291.81 L366.01,292.06 A66.2,66.2 0 0 0 365.86,290.39Z" fill="#CFE8F5"/>
<path d="M367.13,279.11 A69.5,69.5 0 0 1 367.57,280.82 L364.36,281.59 A66.2,66.2 0 0 0 363.94,279.97Z" fill="#ADA16B"/>
<path d="M366.58,317.03 A69.5,69.5 0 0 1 364.71,322.46 L361.63,321.26 A66.2,66.2 0 0 0 363.42,316.08Z" fill="#CFE3B4"/>
<path d="M367.35,314.26 A69.5,69.5 0 0 1 366.58,317.03 L363.42,316.08 A66.2,66.2 0 0 0 364.15,313.44Z" fill="#E8743B"/>
<path d="M364.71,322.46 A69.5,69.5 0 0 1 363.98,324.24 L360.94,322.95 A66.2,66.2 0 0 0 361.63,321.26Z" fill="#F5AA1C"/>
<path d="M367.58,313.32 A69.5,69.5 0 0 1 367.35,314.26 L364.15,313.44 A66.2,66.2 0 0 0 364.37,312.55Z" fill="#ADA16B"/>
<path d="M348.86,346.53 A69.5,69.5 0 0 1 343.04,351.67 L341.00,349.08 A66.2,66.2 0 0 0 346.54,344.18Z" fill="#CFE3B4"/>
<path d="M351.54,343.72 A69.5,69.5 0 0 1 348.86,346.53 L346.54,344.18 A66.2,66.2 0 0 0 349.09,341.51Z" fill="#E8743B"/>
<path d="M343.04,351.67 A69.5,69.5 0 0 1 340.98,353.23 L339.04,350.57 A66.2,66.2 0 0 0 341.00,349.08Z" fill="#F5AA1C"/>
<path d="M353.24,341.77 A69.5,69.5 0 0 1 351.54,343.72 L349.09,341.51 A66.2,66.2 0 0 0 350.71,339.65Z" fill="#ADA16B"/>
<path d="M251.55,247.27 A69.5,69.5 0 0 1 256.69,242.74 L258.75,245.33 A66.2,66.2 0 0 0 253.85,249.64Z" fill="#CFE3B4"/>
<path d="M256.69,242.74 A69.5,69.5 0 0 1 260.36,240.02 L262.24,242.73 A66.2,66.2 0 0 0 258.75,245.33Z" fill="#F5AA1C"/>
<path d="M260.36,240.02 A69.5,69.5 0 0 1 263.22,238.13 L264.97,240.93 A66.2,66.2 0 0 0 262.24,242.73Z" fill="#CFE8F5"/>
<path d="M255.30,350.32 A69.5,69.5 0 0 1 253.09,348.38 L255.32,345.94 A66.2,66.2 0 0 0 257.42,347.79Z" fill="#CFE3B4"/>
<path d="M258.17,352.61 A69.5,69.5 0 0 1 256.43,351.25 L258.50,348.68 A66.2,66.2 0 0 0 260.16,349.97Z" fill="#F5AA1C"/>
<path d="M256.43,351.25 A69.5,69.5 0 0 1 255.30,350.32 L257.42,347.79 A66.2,66.2 0 0 0 258.50,348.68Z" fill="#E8743B"/>
<path d="M369.42,300.42 A69.5,69.5 0 0 1 369.09,304.62 L365.81,304.26 A66.2,66.2 0 0 0 366.12,300.26Z" fill="#CFE3B4"/>
<path d="M369.49,298.31 A69.5,69.5 0 0 1 369.42,300.42 L366.12,300.26 A66.2,66.2 0 0 0 366.19,298.26Z" fill="#E8743B"/>
<path d="M362.88,267.50 A69.5,69.5 0 0 1 363.68,269.25 L360.65,270.57 A66.2,66.2 0 0 0 359.90,268.90Z" fill="#CFE3B4"/>
<path d="M363.68,269.25 A69.5,69.5 0 0 1 364.05,270.13 L361.01,271.41 A66.2,66.2 0 0 0 360.65,270.57Z" fill="#F5AA1C"/>
<path d="M362.47,266.63 A69.5,69.5 0 0 1 362.88,267.50 L359.90,268.90 A66.2,66.2 0 0 0 359.50,268.08Z" fill="#E8743B"/>
<path d="M230.53,299.25 A69.5,69.5 0 0 1 230.50,297.66 L233.80,297.63 A66.2,66.2 0 0 0 233.83,299.14Z" fill="#4A8CCC"/>
<path d="M271.07,233.91 A69.5,69.5 0 0 1 272.34,233.34 L273.66,236.37 A66.2,66.2 0 0 0 272.44,236.91Z" fill="#4A8CCC"/>
<path d="M289.18,365.75 A69.5,69.5 0 0 1 288.23,365.60 L288.79,362.34 A66.2,66.2 0 0 0 289.70,362.49Z" fill="#A88FC7"/>
<path d="M281.11,230.22 A69.5,69.5 0 0 1 282.01,229.97 L282.86,233.16 A66.2,66.2 0 0 0 282.01,233.39Z" fill="#A88FC7"/>
<path d="M300.42,227.60 A69.5,69.5 0 0 1 301.36,227.61 L301.29,230.91 A66.2,66.2 0 0 0 300.40,230.90Z" fill="#E0185F"/>
<path d="M299.49,227.60 A69.5,69.5 0 0 1 300.42,227.60 L300.40,230.90 A66.2,66.2 0 0 0 299.52,230.90Z" fill="#B07AB5"/>
<text x="205.60" y="230.40" font-size="12" fill="#000" font-weight="bold">e</text>
<text x="300.00" y="216.00" font-size="7.4" text-anchor="middle" fill="#E6007E" font-weight="bold" dominant-baseline="middle">Mono</text>
<text x="356.00" y="238.00" font-size="7.4" text-anchor="middle" fill="#111" stroke="#111" stroke-width="0.22" transform="rotate(48 356.00 238.00)" dominant-baseline="middle">NK</text>
<text x="374.00" y="265.00" font-size="7.4" text-anchor="middle" fill="#111" stroke="#111" stroke-width="0.22" transform="rotate(75 374.00 265.00)" dominant-baseline="middle">Neu</text>
<text x="379.50" y="287.00" font-size="7.4" text-anchor="middle" fill="#111" stroke="#111" stroke-width="0.22" transform="rotate(82 379.50 287.00)" dominant-baseline="middle">Plasma</text>
<text x="381.00" y="305.50" font-size="7.4" text-anchor="middle" fill="#111" stroke="#111" stroke-width="0.22" transform="rotate(90 381.00 305.50)" dominant-baseline="middle">B</text>
<text x="375.80" y="332.00" font-size="7.4" text-anchor="middle" fill="#111" stroke="#111" stroke-width="0.22" transform="rotate(-65 375.80 332.00)" dominant-baseline="middle">CD4</text>
<text x="348.30" y="364.50" font-size="7.4" text-anchor="middle" fill="#111" stroke="#111" stroke-width="0.22" transform="rotate(-35 348.30 364.50)" dominant-baseline="middle">CD8</text>
<text x="283.00" y="377.50" font-size="7.4" text-anchor="middle" fill="#E6007E" font-weight="bold" transform="rotate(10 283.00 377.50)" dominant-baseline="middle">DC</text>
<text x="245.00" y="358.00" font-size="7.4" text-anchor="middle" fill="#111" stroke="#111" stroke-width="0.22" transform="rotate(55 245.00 358.00)" dominant-baseline="middle">Epi</text>
<text x="220.00" y="294.00" font-size="7.4" text-anchor="middle" fill="#E6007E" font-weight="bold" transform="rotate(-90 220.00 294.00)" dominant-baseline="middle">Macro</text>
<text x="252.50" y="228.50" font-size="7.4" text-anchor="middle" fill="#111" stroke="#111" stroke-width="0.22" transform="rotate(-40 252.50 228.50)" dominant-baseline="middle">Mega</text>
<text x="415.30" y="230.00" font-size="12" fill="#000" font-weight="bold">g</text>
<line x1="435.50" y1="232.20" x2="435.50" y2="278.00" stroke="#222" stroke-width="1"/>
<line x1="435.00" y1="277.50" x2="504.90" y2="277.50" stroke="#222" stroke-width="1"/>
<line x1="433.50" y1="242.00" x2="435.50" y2="242.00" stroke="#333" stroke-width="0.7"/>
<text x="432.50" y="244.50" font-size="7.2" text-anchor="end" fill="#4d4d4d" stroke="#4d4d4d" stroke-width="0.22">3</text>
<line x1="433.50" y1="253.20" x2="435.50" y2="253.20" stroke="#333" stroke-width="0.7"/>
<text x="432.50" y="255.70" font-size="7.2" text-anchor="end" fill="#4d4d4d" stroke="#4d4d4d" stroke-width="0.22">2</text>
<line x1="433.50" y1="264.30" x2="435.50" y2="264.30" stroke="#333" stroke-width="0.7"/>
<text x="432.50" y="266.80" font-size="7.2" text-anchor="end" fill="#4d4d4d" stroke="#4d4d4d" stroke-width="0.22">1</text>
<line x1="433.50" y1="275.60" x2="435.50" y2="275.60" stroke="#333" stroke-width="0.7"/>
<text x="432.50" y="278.10" font-size="7.2" text-anchor="end" fill="#4d4d4d" stroke="#4d4d4d" stroke-width="0.22">0</text>
<line x1="445.50" y1="277.50" x2="445.50" y2="279.50" stroke="#333" stroke-width="0.7"/>
<line x1="461.80" y1="277.50" x2="461.80" y2="279.50" stroke="#333" stroke-width="0.7"/>
<line x1="478.20" y1="277.50" x2="478.20" y2="279.50" stroke="#333" stroke-width="0.7"/>
<line x1="494.70" y1="277.50" x2="494.70" y2="279.50" stroke="#333" stroke-width="0.7"/>
<path d="M445.20,233.20 L444.70,235.00 L444.50,250.00 L444.20,262.00 L443.50,266.00 L442.30,269.00 L440.00,271.50 L437.90,273.50 L437.70,275.60 L453.30,275.60 L453.10,273.50 L451.00,271.50 L448.70,269.00 L447.50,266.00 L446.80,262.00 L446.50,250.00 L446.30,235.00 L445.80,233.20Z" fill="#E0115F" stroke="#E0115F" stroke-width="0.3" stroke-linejoin="round"/>
<path d="M461.50,242.00 L461.10,244.00 L460.40,252.00 L459.90,258.00 L459.30,263.00 L458.50,267.00 L457.30,270.00 L455.30,272.50 L454.00,274.50 L454.30,275.60 L469.30,275.60 L469.60,274.50 L468.30,272.50 L466.30,270.00 L465.10,267.00 L464.30,263.00 L463.70,258.00 L463.20,252.00 L462.50,244.00 L462.10,242.00Z" fill="#E6C2D6" stroke="#E6C2D6" stroke-width="0.3" stroke-linejoin="round"/>
<path d="M477.80,242.00 L477.70,273.80 L470.40,274.20 L470.40,275.60 L486.00,275.60 L486.00,274.20 L478.70,273.80 L478.60,242.00Z" fill="#A6DBEC" stroke="#A6DBEC" stroke-width="0.3" stroke-linejoin="round"/>
<path d="M492.20,244.20 L490.50,245.00 L489.20,248.00 L487.90,252.00 L486.70,255.50 L486.90,258.00 L488.40,261.00 L489.70,264.00 L489.70,267.00 L489.50,270.00 L490.10,273.00 L491.20,275.00 L492.20,275.60 L497.20,275.60 L498.20,275.00 L499.30,273.00 L499.90,270.00 L499.70,267.00 L499.70,264.00 L501.00,261.00 L502.50,258.00 L502.70,255.50 L501.50,252.00 L500.20,248.00 L498.90,245.00 L497.20,244.20Z" fill="#BFD27D" stroke="#BFD27D" stroke-width="0.3" stroke-linejoin="round"/>
<text x="470.60" y="228.60" font-size="7.2" text-anchor="middle" stroke="#222" stroke-width="0.22" font-style="italic">C3(severe)</text>
<line x1="533.30" y1="233.00" x2="533.30" y2="276.80" stroke="#222" stroke-width="1"/>
<line x1="532.80" y1="276.30" x2="650.80" y2="276.30" stroke="#222" stroke-width="1"/>
<line x1="531.30" y1="237.90" x2="533.30" y2="237.90" stroke="#333" stroke-width="0.7"/>
<text x="530.30" y="240.40" font-size="7.2" text-anchor="end" fill="#4d4d4d" stroke="#4d4d4d" stroke-width="0.22">4</text>
<line x1="531.30" y1="247.10" x2="533.30" y2="247.10" stroke="#333" stroke-width="0.7"/>
<text x="530.30" y="249.60" font-size="7.2" text-anchor="end" fill="#4d4d4d" stroke="#4d4d4d" stroke-width="0.22">3</text>
<line x1="531.30" y1="256.90" x2="533.30" y2="256.90" stroke="#333" stroke-width="0.7"/>
<text x="530.30" y="259.40" font-size="7.2" text-anchor="end" fill="#4d4d4d" stroke="#4d4d4d" stroke-width="0.22">2</text>
<line x1="531.30" y1="266.10" x2="533.30" y2="266.10" stroke="#333" stroke-width="0.7"/>
<text x="530.30" y="268.60" font-size="7.2" text-anchor="end" fill="#4d4d4d" stroke="#4d4d4d" stroke-width="0.22">1</text>
<line x1="531.30" y1="275.50" x2="533.30" y2="275.50" stroke="#333" stroke-width="0.7"/>
<text x="530.30" y="278.00" font-size="7.2" text-anchor="end" fill="#4d4d4d" stroke="#4d4d4d" stroke-width="0.22">0</text>
<line x1="542.90" y1="276.30" x2="542.90" y2="278.30" stroke="#333" stroke-width="0.7"/>
<line x1="559.20" y1="276.30" x2="559.20" y2="278.30" stroke="#333" stroke-width="0.7"/>
<line x1="575.60" y1="276.30" x2="575.60" y2="278.30" stroke="#333" stroke-width="0.7"/>
<line x1="591.90" y1="276.30" x2="591.90" y2="278.30" stroke="#333" stroke-width="0.7"/>
<line x1="608.30" y1="276.30" x2="608.30" y2="278.30" stroke="#333" stroke-width="0.7"/>
<line x1="624.60" y1="276.30" x2="624.60" y2="278.30" stroke="#333" stroke-width="0.7"/>
<line x1="641.20" y1="276.30" x2="641.20" y2="278.30" stroke="#333" stroke-width="0.7"/>
<path d="M542.60,233.80 L542.10,236.00 L541.90,250.00 L541.50,260.00 L540.90,266.00 L539.70,269.50 L537.70,271.80 L535.50,273.60 L535.10,275.50 L550.70,275.50 L550.30,273.60 L548.10,271.80 L546.10,269.50 L544.90,266.00 L544.30,260.00 L543.90,250.00 L543.70,236.00 L543.20,233.80Z" fill="#E0115F" stroke="#E0115F" stroke-width="0.3" stroke-linejoin="round"/>
<path d="M558.90,241.00 L558.50,243.00 L558.20,255.00 L557.60,262.00 L557.00,267.00 L555.80,270.50 L553.80,272.50 L551.80,274.00 L551.60,275.50 L566.80,275.50 L566.60,274.00 L564.60,272.50 L562.60,270.50 L561.40,267.00 L560.80,262.00 L560.20,255.00 L559.90,243.00 L559.50,241.00Z" fill="#D6569F" stroke="#D6569F" stroke-width="0.3" stroke-linejoin="round"/>
<path d="M575.30,239.50 L574.90,241.50 L574.50,255.00 L573.80,262.00 L573.20,267.00 L572.20,270.50 L570.20,272.50 L568.20,274.00 L568.00,275.50 L583.20,275.50 L583.00,274.00 L581.00,272.50 L579.00,270.50 L578.00,267.00 L577.40,262.00 L576.70,255.00 L576.30,241.50 L575.90,239.50Z" fill="#E6C2D6" stroke="#E6C2D6" stroke-width="0.3" stroke-linejoin="round"/>
<path d="M591.60,246.70 L591.30,248.00 L591.10,259.00 L590.10,262.00 L589.10,265.60 L588.40,269.70 L587.10,271.50 L585.10,272.80 L584.20,274.00 L584.10,275.50 L599.70,275.50 L599.60,274.00 L598.70,272.80 L596.70,271.50 L595.40,269.70 L594.70,265.60 L593.70,262.00 L592.70,259.00 L592.50,248.00 L592.20,246.70Z" fill="#5A2A62" stroke="#5A2A62" stroke-width="0.3" stroke-linejoin="round"/>
<path d="M608.00,245.70 L607.60,247.50 L607.00,255.40 L605.50,263.60 L604.20,269.70 L602.70,271.50 L600.90,272.80 L600.30,274.00 L600.30,275.50 L616.30,275.50 L616.30,274.00 L615.70,272.80 L613.90,271.50 L612.40,269.70 L611.10,263.60 L609.60,255.40 L609.00,247.50 L608.60,245.70Z" fill="#0E92AE" stroke="#0E92AE" stroke-width="0.3" stroke-linejoin="round"/>
<path d="M624.30,242.60 L623.80,244.50 L623.70,260.00 L623.30,264.00 L623.00,268.70 L622.00,270.50 L620.10,272.00 L617.80,273.40 L617.00,274.50 L617.00,275.50 L632.20,275.50 L632.20,274.50 L631.40,273.40 L629.10,272.00 L627.20,270.50 L626.20,268.70 L625.90,264.00 L625.50,260.00 L625.40,244.50 L624.90,242.60Z" fill="#A6DBEC" stroke="#A6DBEC" stroke-width="0.3" stroke-linejoin="round"/>
<path d="M640.90,243.60 L640.60,245.50 L640.50,268.00 L640.00,271.00 L638.20,272.60 L635.20,273.60 L633.40,274.40 L633.40,275.50 L649.00,275.50 L649.00,274.40 L647.20,273.60 L644.20,272.60 L642.40,271.00 L641.90,268.00 L641.80,245.50 L641.50,243.60Z" fill="#C2D27A" stroke="#C2D27A" stroke-width="0.3" stroke-linejoin="round"/>
<text x="592.00" y="227.80" font-size="7.2" text-anchor="middle" stroke="#222" stroke-width="0.22" font-style="italic">C3AR1(severe)</text>
<line x1="435.50" y1="302.20" x2="435.50" y2="348.50" stroke="#222" stroke-width="1"/>
<line x1="435.00" y1="348.00" x2="504.20" y2="348.00" stroke="#222" stroke-width="1"/>
<line x1="433.50" y1="316.40" x2="435.50" y2="316.40" stroke="#333" stroke-width="0.7"/>
<text x="432.50" y="318.90" font-size="7.2" text-anchor="end" fill="#4d4d4d" stroke="#4d4d4d" stroke-width="0.22">4</text>
<line x1="433.50" y1="331.40" x2="435.50" y2="331.40" stroke="#333" stroke-width="0.7"/>
<text x="432.50" y="333.90" font-size="7.2" text-anchor="end" fill="#4d4d4d" stroke="#4d4d4d" stroke-width="0.22">2</text>
<line x1="433.50" y1="346.00" x2="435.50" y2="346.00" stroke="#333" stroke-width="0.7"/>
<text x="432.50" y="348.50" font-size="7.2" text-anchor="end" fill="#4d4d4d" stroke="#4d4d4d" stroke-width="0.22">0</text>
<line x1="445.50" y1="348.00" x2="445.50" y2="350.00" stroke="#333" stroke-width="0.7"/>
<line x1="461.80" y1="348.00" x2="461.80" y2="350.00" stroke="#333" stroke-width="0.7"/>
<line x1="478.20" y1="348.00" x2="478.20" y2="350.00" stroke="#333" stroke-width="0.7"/>
<line x1="494.70" y1="348.00" x2="494.70" y2="350.00" stroke="#333" stroke-width="0.7"/>
<path d="M445.10,303.20 L444.90,304.00 L444.90,343.50 L437.90,343.60 L437.90,346.30 L453.10,346.30 L453.10,343.60 L446.10,343.50 L446.10,304.00 L445.90,303.20Z" fill="#E0115F" stroke="#E0115F" stroke-width="0.3" stroke-linejoin="round"/>
<path d="M461.50,309.50 L460.50,311.00 L459.20,314.00 L458.00,317.00 L457.40,320.00 L457.50,323.00 L458.80,326.00 L460.00,329.00 L459.80,333.00 L458.50,337.00 L456.80,340.00 L455.00,342.50 L454.20,344.50 L454.60,346.30 L469.00,346.30 L469.40,344.50 L468.60,342.50 L466.80,340.00 L465.10,337.00 L463.80,333.00 L463.60,329.00 L464.80,326.00 L466.10,323.00 L466.20,320.00 L465.60,317.00 L464.40,314.00 L463.10,311.00 L462.10,309.50Z" fill="#E6C2D6" stroke="#E6C2D6" stroke-width="0.3" stroke-linejoin="round"/>
<path d="M477.80,330.30 L477.60,331.00 L477.60,343.50 L470.60,343.60 L470.60,346.30 L485.80,346.30 L485.80,343.60 L478.80,343.50 L478.80,331.00 L478.60,330.30Z" fill="#A6DBEC" stroke="#A6DBEC" stroke-width="0.3" stroke-linejoin="round"/>
<text x="470.60" y="298.00" font-size="7.2" text-anchor="middle" stroke="#222" stroke-width="0.22" font-style="italic">C3(mild)</text>
<line x1="532.30" y1="303.00" x2="532.30" y2="346.80" stroke="#222" stroke-width="1"/>
<line x1="531.80" y1="346.30" x2="649.80" y2="346.30" stroke="#222" stroke-width="1"/>
<line x1="530.30" y1="310.50" x2="532.30" y2="310.50" stroke="#333" stroke-width="0.7"/>
<text x="529.30" y="313.00" font-size="7.2" text-anchor="end" fill="#4d4d4d" stroke="#4d4d4d" stroke-width="0.22">3</text>
<line x1="530.30" y1="322.20" x2="532.30" y2="322.20" stroke="#333" stroke-width="0.7"/>
<text x="529.30" y="324.70" font-size="7.2" text-anchor="end" fill="#4d4d4d" stroke="#4d4d4d" stroke-width="0.22">2</text>
<line x1="530.30" y1="333.60" x2="532.30" y2="333.60" stroke="#333" stroke-width="0.7"/>
<text x="529.30" y="336.10" font-size="7.2" text-anchor="end" fill="#4d4d4d" stroke="#4d4d4d" stroke-width="0.22">1</text>
<line x1="530.30" y1="345.30" x2="532.30" y2="345.30" stroke="#333" stroke-width="0.7"/>
<text x="529.30" y="347.80" font-size="7.2" text-anchor="end" fill="#4d4d4d" stroke="#4d4d4d" stroke-width="0.22">0</text>
<line x1="542.90" y1="346.30" x2="542.90" y2="348.30" stroke="#333" stroke-width="0.7"/>
<line x1="559.20" y1="346.30" x2="559.20" y2="348.30" stroke="#333" stroke-width="0.7"/>
<line x1="575.60" y1="346.30" x2="575.60" y2="348.30" stroke="#333" stroke-width="0.7"/>
<line x1="591.90" y1="346.30" x2="591.90" y2="348.30" stroke="#333" stroke-width="0.7"/>
<line x1="608.30" y1="346.30" x2="608.30" y2="348.30" stroke="#333" stroke-width="0.7"/>
<line x1="624.60" y1="346.30" x2="624.60" y2="348.30" stroke="#333" stroke-width="0.7"/>
<line x1="641.20" y1="346.30" x2="641.20" y2="348.30" stroke="#333" stroke-width="0.7"/>
<path d="M542.50,312.60 L542.30,313.50 L542.30,343.00 L535.30,343.10 L535.30,345.60 L550.50,345.60 L550.50,343.10 L543.50,343.00 L543.50,313.50 L543.30,312.60Z" fill="#E0115F" stroke="#E0115F" stroke-width="0.3" stroke-linejoin="round"/>
<path d="M558.80,304.40 L558.00,306.00 L556.60,309.00 L554.90,313.00 L553.30,317.00 L551.90,321.00 L551.20,325.00 L551.40,328.00 L552.40,331.00 L554.00,335.00 L555.40,339.00 L556.20,342.00 L555.40,343.50 L555.60,345.60 L562.80,345.60 L563.00,343.50 L562.20,342.00 L563.00,339.00 L564.40,335.00 L566.00,331.00 L567.00,328.00 L567.20,325.00 L566.50,321.00 L565.10,317.00 L563.50,313.00 L561.80,309.00 L560.40,306.00 L559.60,304.40Z" fill="#D6569F" stroke="#D6569F" stroke-width="0.3" stroke-linejoin="round"/>
<path d="M575.20,304.40 L574.30,306.00 L572.60,309.00 L570.60,313.00 L568.80,317.00 L567.70,320.50 L568.40,324.00 L570.20,328.00 L571.80,332.00 L572.80,336.00 L573.20,340.00 L573.00,343.00 L572.20,344.50 L572.40,345.60 L578.80,345.60 L579.00,344.50 L578.20,343.00 L578.00,340.00 L578.40,336.00 L579.40,332.00 L581.00,328.00 L582.80,324.00 L583.50,320.50 L582.40,317.00 L580.60,313.00 L578.60,309.00 L576.90,306.00 L576.00,304.40Z" fill="#E6C2D6" stroke="#E6C2D6" stroke-width="0.3" stroke-linejoin="round"/>
<path d="M591.50,311.60 L591.20,313.00 L591.00,340.00 L589.40,342.00 L585.90,343.20 L584.10,344.20 L584.10,345.60 L599.70,345.60 L599.70,344.20 L597.90,343.20 L594.40,342.00 L592.80,340.00 L592.60,313.00 L592.30,311.60Z" fill="#5A2A62" stroke="#5A2A62" stroke-width="0.3" stroke-linejoin="round"/>
<path d="M607.90,337.10 L607.60,338.00 L607.60,343.00 L600.70,343.20 L600.70,345.60 L615.90,345.60 L615.90,343.20 L609.00,343.00 L609.00,338.00 L608.70,337.10Z" fill="#0E92AE" stroke="#0E92AE" stroke-width="0.3" stroke-linejoin="round"/>
<path d="M617.00,343.80 L617.00,345.60 L632.20,345.60 L632.20,343.80Z" fill="#A6DBEC" stroke="#A6DBEC" stroke-width="0.3" stroke-linejoin="round"/>
<path d="M640.80,311.60 L640.50,313.00 L640.20,336.00 L639.60,339.00 L638.00,341.00 L635.00,342.80 L633.30,344.00 L633.30,345.60 L649.10,345.60 L649.10,344.00 L647.40,342.80 L644.40,341.00 L642.80,339.00 L642.20,336.00 L641.90,313.00 L641.60,311.60Z" fill="#C2D27A" stroke="#C2D27A" stroke-width="0.3" stroke-linejoin="round"/>
<text x="591.50" y="297.80" font-size="7.2" text-anchor="middle" stroke="#222" stroke-width="0.22" font-style="italic">C3AR1(mild)</text>
<text x="448.10" y="355.30" font-size="7.1" text-anchor="end" fill="#333" stroke="#333" stroke-width="0.22" transform="rotate(-45 448.10 355.30)">Epi−Ciliated</text>
<text x="464.40" y="355.30" font-size="7.1" text-anchor="end" fill="#333" stroke="#333" stroke-width="0.22" transform="rotate(-45 464.40 355.30)">Epi−Secretory</text>
<text x="480.80" y="355.30" font-size="7.1" text-anchor="end" fill="#333" stroke="#333" stroke-width="0.22" transform="rotate(-45 480.80 355.30)">Epi−Squamous</text>
<text x="497.30" y="355.30" font-size="7.1" text-anchor="end" fill="#333" stroke="#333" stroke-width="0.22" transform="rotate(-45 497.30 355.30)">Epi−AT2</text>
<text x="545.50" y="354.30" font-size="7.1" text-anchor="end" fill="#333" stroke="#333" stroke-width="0.22" transform="rotate(-45 545.50 354.30)">DC_c3−LAMP3</text>
<text x="561.80" y="354.30" font-size="7.1" text-anchor="end" fill="#333" stroke="#333" stroke-width="0.22" transform="rotate(-45 561.80 354.30)">Macro_c1−C1QC</text>
<text x="578.20" y="354.30" font-size="7.1" text-anchor="end" fill="#333" stroke="#333" stroke-width="0.22" transform="rotate(-45 578.20 354.30)">Macro_c2−CCL3L1</text>
<text x="594.50" y="354.30" font-size="7.1" text-anchor="end" fill="#333" stroke="#333" stroke-width="0.22" transform="rotate(-45 594.50 354.30)">Macro_c3−EREG</text>
<text x="610.90" y="354.30" font-size="7.1" text-anchor="end" fill="#333" stroke="#333" stroke-width="0.22" transform="rotate(-45 610.90 354.30)">Macro_c5−WDR74</text>
<text x="627.20" y="354.30" font-size="7.1" text-anchor="end" fill="#333" stroke="#333" stroke-width="0.22" transform="rotate(-45 627.20 354.30)">Macro_c6−VCAN</text>
<text x="643.80" y="354.30" font-size="7.1" text-anchor="end" fill="#333" stroke="#333" stroke-width="0.22" transform="rotate(-45 643.80 354.30)">Mono_c4−CD14−CD16</text>
<text x="-0.60" y="417.60" font-size="12" fill="#000" font-weight="bold">h</text>
<line x1="119.93" y1="418.8" x2="119.93" y2="608.5" stroke="#c8c8c8" stroke-width="0.8" stroke-dasharray="2.2,2.2"/>
<line x1="181.65" y1="418.8" x2="181.65" y2="608.5" stroke="#c8c8c8" stroke-width="0.8" stroke-dasharray="2.2,2.2"/>
<line x1="204.80" y1="418.8" x2="204.80" y2="608.5" stroke="#c8c8c8" stroke-width="0.8" stroke-dasharray="2.2,2.2"/>
<line x1="235.66" y1="418.8" x2="235.66" y2="608.5" stroke="#c8c8c8" stroke-width="0.8" stroke-dasharray="2.2,2.2"/>
<line x1="251.09" y1="418.8" x2="251.09" y2="608.5" stroke="#c8c8c8" stroke-width="0.8" stroke-dasharray="2.2,2.2"/>
<line x1="289.66" y1="418.8" x2="289.66" y2="608.5" stroke="#c8c8c8" stroke-width="0.8" stroke-dasharray="2.2,2.2"/>
<line x1="312.81" y1="418.8" x2="312.81" y2="608.5" stroke="#c8c8c8" stroke-width="0.8" stroke-dasharray="2.2,2.2"/>
<line x1="335.95" y1="418.8" x2="335.95" y2="608.5" stroke="#c8c8c8" stroke-width="0.8" stroke-dasharray="2.2,2.2"/>
<rect x="73.3" y="418.8" width="325.09999999999997" height="134.8" fill="none" stroke="#7a7a7a" stroke-width="0.9"/>
<line x1="71.00" y1="422.60" x2="73.30" y2="422.60" stroke="#777" stroke-width="0.7"/>
<text x="70.3" y="425.15" font-size="7.2" text-anchor="end"><tspan fill="#3B5A7C" stroke="#3B5A7C" stroke-width="0.22">PLAU−</tspan><tspan fill="#EE1659" stroke="#EE1659" stroke-width="0.22">PLAUR</tspan></text>
<line x1="71.00" y1="429.65" x2="73.30" y2="429.65" stroke="#777" stroke-width="0.7"/>
<text x="70.3" y="432.20" font-size="7.2" text-anchor="end"><tspan fill="#3B5A7C" stroke="#3B5A7C" stroke-width="0.22">APP−</tspan><tspan fill="#EE1659" stroke="#EE1659" stroke-width="0.22">CD74</tspan></text>
<line x1="71.00" y1="436.70" x2="73.30" y2="436.70" stroke="#777" stroke-width="0.7"/>
<text x="70.3" y="439.25" font-size="7.2" text-anchor="end"><tspan fill="#3B5A7C" stroke="#3B5A7C" stroke-width="0.22">PPIA−</tspan><tspan fill="#EE1659" stroke="#EE1659" stroke-width="0.22">BSG</tspan></text>
<line x1="71.00" y1="443.75" x2="73.30" y2="443.75" stroke="#777" stroke-width="0.7"/>
<text x="70.3" y="446.30" font-size="7.2" text-anchor="end"><tspan fill="#3B5A7C" stroke="#3B5A7C" stroke-width="0.22">LGALS9−</tspan><tspan fill="#EE1659" stroke="#EE1659" stroke-width="0.22">P4HB</tspan></text>
<line x1="71.00" y1="450.80" x2="73.30" y2="450.80" stroke="#777" stroke-width="0.7"/>
<text x="70.3" y="453.35" font-size="7.2" text-anchor="end"><tspan fill="#3B5A7C" stroke="#3B5A7C" stroke-width="0.22">CD47−</tspan><tspan fill="#EE1659" stroke="#EE1659" stroke-width="0.22">SIRPA</tspan></text>
<line x1="71.00" y1="457.85" x2="73.30" y2="457.85" stroke="#777" stroke-width="0.7"/>
<text x="70.3" y="460.40" font-size="7.2" text-anchor="end"><tspan fill="#3B5A7C" stroke="#3B5A7C" stroke-width="0.22">ANXA1−</tspan><tspan fill="#EE1659" stroke="#EE1659" stroke-width="0.22">FPR2</tspan></text>
<line x1="71.00" y1="464.90" x2="73.30" y2="464.90" stroke="#777" stroke-width="0.7"/>
<text x="70.3" y="467.45" font-size="7.2" text-anchor="end"><tspan fill="#3B5A7C" stroke="#3B5A7C" stroke-width="0.22">CCL3−</tspan><tspan fill="#EE1659" stroke="#EE1659" stroke-width="0.22">CCR1</tspan></text>
<line x1="71.00" y1="471.95" x2="73.30" y2="471.95" stroke="#777" stroke-width="0.7"/>
<text x="70.3" y="474.50" font-size="7.2" text-anchor="end"><tspan fill="#3B5A7C" stroke="#3B5A7C" stroke-width="0.22">CCL3L1−</tspan><tspan fill="#EE1659" stroke="#EE1659" stroke-width="0.22">CCR1</tspan></text>
<line x1="71.00" y1="479.00" x2="73.30" y2="479.00" stroke="#777" stroke-width="0.7"/>
<text x="70.3" y="481.55" font-size="7.2" text-anchor="end"><tspan fill="#3B5A7C" stroke="#3B5A7C" stroke-width="0.22">CCL7−</tspan><tspan fill="#EE1659" stroke="#EE1659" stroke-width="0.22">CCR1</tspan></text>
<line x1="71.00" y1="486.05" x2="73.30" y2="486.05" stroke="#777" stroke-width="0.7"/>
<text x="70.3" y="488.60" font-size="7.2" text-anchor="end"><tspan fill="#3B5A7C" stroke="#3B5A7C" stroke-width="0.22">CCL8−</tspan><tspan fill="#EE1659" stroke="#EE1659" stroke-width="0.22">CCR1</tspan></text>
<line x1="71.00" y1="493.10" x2="73.30" y2="493.10" stroke="#777" stroke-width="0.7"/>
<text x="70.3" y="495.65" font-size="7.2" text-anchor="end"><tspan fill="#3B5A7C" stroke="#3B5A7C" stroke-width="0.22">CXCL2−</tspan><tspan fill="#EE1659" stroke="#EE1659" stroke-width="0.22">CXCR2</tspan></text>
<line x1="71.00" y1="500.15" x2="73.30" y2="500.15" stroke="#777" stroke-width="0.7"/>
<text x="70.3" y="502.70" font-size="7.2" text-anchor="end"><tspan fill="#3B5A7C" stroke="#3B5A7C" stroke-width="0.22">CXCL8−</tspan><tspan fill="#EE1659" stroke="#EE1659" stroke-width="0.22">CXCR2</tspan></text>
<line x1="71.00" y1="507.20" x2="73.30" y2="507.20" stroke="#777" stroke-width="0.7"/>
<text x="70.3" y="509.75" font-size="7.2" text-anchor="end"><tspan fill="#3B5A7C" stroke="#3B5A7C" stroke-width="0.22">GAS6−</tspan><tspan fill="#EE1659" stroke="#EE1659" stroke-width="0.22">AXL</tspan></text>
<line x1="71.00" y1="514.25" x2="73.30" y2="514.25" stroke="#777" stroke-width="0.7"/>
<text x="70.3" y="516.80" font-size="7.2" text-anchor="end"><tspan fill="#3B5A7C" stroke="#3B5A7C" stroke-width="0.22">ICAM1−</tspan><tspan fill="#EE1659" stroke="#EE1659" stroke-width="0.22">SPN</tspan></text>
<line x1="71.00" y1="521.30" x2="73.30" y2="521.30" stroke="#777" stroke-width="0.7"/>
<text x="70.3" y="523.85" font-size="7.2" text-anchor="end"><tspan fill="#3B5A7C" stroke="#3B5A7C" stroke-width="0.22">ICAM1−</tspan><tspan fill="#EE1659" stroke="#EE1659" stroke-width="0.22">ITGB2,ITGAL</tspan></text>
<line x1="71.00" y1="528.35" x2="73.30" y2="528.35" stroke="#777" stroke-width="0.7"/>
<text x="70.3" y="530.90" font-size="7.2" text-anchor="end"><tspan fill="#3B5A7C" stroke="#3B5A7C" stroke-width="0.22">ICAM1−</tspan><tspan fill="#EE1659" stroke="#EE1659" stroke-width="0.22">ITGAL</tspan></text>
<line x1="71.00" y1="535.40" x2="73.30" y2="535.40" stroke="#777" stroke-width="0.7"/>
<text x="70.3" y="537.95" font-size="7.2" text-anchor="end"><tspan fill="#3B5A7C" stroke="#3B5A7C" stroke-width="0.22">SELPLG−</tspan><tspan fill="#EE1659" stroke="#EE1659" stroke-width="0.22">SELL</tspan></text>
<line x1="71.00" y1="542.45" x2="73.30" y2="542.45" stroke="#777" stroke-width="0.7"/>
<text x="70.3" y="545.00" font-size="7.2" text-anchor="end"><tspan fill="#3B5A7C" stroke="#3B5A7C" stroke-width="0.22">SPN−</tspan><tspan fill="#EE1659" stroke="#EE1659" stroke-width="0.22">SIGLEC1</tspan></text>
<line x1="71.00" y1="549.50" x2="73.30" y2="549.50" stroke="#777" stroke-width="0.7"/>
<text x="70.3" y="552.05" font-size="7.2" text-anchor="end"><tspan fill="#3B5A7C" stroke="#3B5A7C" stroke-width="0.22">HLA−F−</tspan><tspan fill="#EE1659" stroke="#EE1659" stroke-width="0.22">VSIR</tspan></text>
<line x1="77.50" y1="553.60" x2="77.50" y2="555.80" stroke="#777" stroke-width="0.7"/>
<line x1="85.22" y1="553.60" x2="85.22" y2="555.80" stroke="#777" stroke-width="0.7"/>
<line x1="92.93" y1="553.60" x2="92.93" y2="555.80" stroke="#777" stroke-width="0.7"/>
<line x1="100.64" y1="553.60" x2="100.64" y2="555.80" stroke="#777" stroke-width="0.7"/>
<line x1="108.36" y1="553.60" x2="108.36" y2="555.80" stroke="#777" stroke-width="0.7"/>
<line x1="116.08" y1="553.60" x2="116.08" y2="555.80" stroke="#777" stroke-width="0.7"/>
<line x1="123.79" y1="553.60" x2="123.79" y2="555.80" stroke="#777" stroke-width="0.7"/>
<line x1="131.50" y1="553.60" x2="131.50" y2="555.80" stroke="#777" stroke-width="0.7"/>
<line x1="139.22" y1="553.60" x2="139.22" y2="555.80" stroke="#777" stroke-width="0.7"/>
<line x1="146.94" y1="553.60" x2="146.94" y2="555.80" stroke="#777" stroke-width="0.7"/>
<line x1="154.65" y1="553.60" x2="154.65" y2="555.80" stroke="#777" stroke-width="0.7"/>
<line x1="162.37" y1="553.60" x2="162.37" y2="555.80" stroke="#777" stroke-width="0.7"/>
<line x1="170.08" y1="553.60" x2="170.08" y2="555.80" stroke="#777" stroke-width="0.7"/>
<line x1="177.80" y1="553.60" x2="177.80" y2="555.80" stroke="#777" stroke-width="0.7"/>
<line x1="185.51" y1="553.60" x2="185.51" y2="555.80" stroke="#777" stroke-width="0.7"/>
<line x1="193.22" y1="553.60" x2="193.22" y2="555.80" stroke="#777" stroke-width="0.7"/>
<line x1="200.94" y1="553.60" x2="200.94" y2="555.80" stroke="#777" stroke-width="0.7"/>
<line x1="208.66" y1="553.60" x2="208.66" y2="555.80" stroke="#777" stroke-width="0.7"/>
<line x1="216.37" y1="553.60" x2="216.37" y2="555.80" stroke="#777" stroke-width="0.7"/>
<line x1="224.09" y1="553.60" x2="224.09" y2="555.80" stroke="#777" stroke-width="0.7"/>
<line x1="231.80" y1="553.60" x2="231.80" y2="555.80" stroke="#777" stroke-width="0.7"/>
<line x1="239.51" y1="553.60" x2="239.51" y2="555.80" stroke="#777" stroke-width="0.7"/>
<line x1="247.23" y1="553.60" x2="247.23" y2="555.80" stroke="#777" stroke-width="0.7"/>
<line x1="254.94" y1="553.60" x2="254.94" y2="555.80" stroke="#777" stroke-width="0.7"/>
<line x1="262.66" y1="553.60" x2="262.66" y2="555.80" stroke="#777" stroke-width="0.7"/>
<line x1="270.38" y1="553.60" x2="270.38" y2="555.80" stroke="#777" stroke-width="0.7"/>
<line x1="278.09" y1="553.60" x2="278.09" y2="555.80" stroke="#777" stroke-width="0.7"/>
<line x1="285.81" y1="553.60" x2="285.81" y2="555.80" stroke="#777" stroke-width="0.7"/>
<line x1="293.52" y1="553.60" x2="293.52" y2="555.80" stroke="#777" stroke-width="0.7"/>
<line x1="301.24" y1="553.60" x2="301.24" y2="555.80" stroke="#777" stroke-width="0.7"/>
<line x1="308.95" y1="553.60" x2="308.95" y2="555.80" stroke="#777" stroke-width="0.7"/>
<line x1="316.66" y1="553.60" x2="316.66" y2="555.80" stroke="#777" stroke-width="0.7"/>
<line x1="324.38" y1="553.60" x2="324.38" y2="555.80" stroke="#777" stroke-width="0.7"/>
<line x1="332.10" y1="553.60" x2="332.10" y2="555.80" stroke="#777" stroke-width="0.7"/>
<line x1="339.81" y1="553.60" x2="339.81" y2="555.80" stroke="#777" stroke-width="0.7"/>
<line x1="347.52" y1="553.60" x2="347.52" y2="555.80" stroke="#777" stroke-width="0.7"/>
<line x1="355.24" y1="553.60" x2="355.24" y2="555.80" stroke="#777" stroke-width="0.7"/>
<line x1="362.95" y1="553.60" x2="362.95" y2="555.80" stroke="#777" stroke-width="0.7"/>
<line x1="370.67" y1="553.60" x2="370.67" y2="555.80" stroke="#777" stroke-width="0.7"/>
<line x1="378.38" y1="553.60" x2="378.38" y2="555.80" stroke="#777" stroke-width="0.7"/>
<line x1="386.10" y1="553.60" x2="386.10" y2="555.80" stroke="#777" stroke-width="0.7"/>
<line x1="393.81" y1="553.60" x2="393.81" y2="555.80" stroke="#777" stroke-width="0.7"/>
<circle cx="77.50" cy="422.60" r="2.85" fill="#F8A73A"/>
<circle cx="85.22" cy="422.60" r="2.85" fill="#F8A73A"/>
<circle cx="92.93" cy="422.60" r="2.85" fill="#F8A73A"/>
<circle cx="100.64" cy="422.60" r="2.85" fill="#F8A73A"/>
<circle cx="123.79" cy="422.60" r="2.85" fill="#F8A73A"/>
<circle cx="185.51" cy="422.60" r="2.95" fill="#28369A"/>
<circle cx="193.22" cy="422.60" r="2.95" fill="#28369A"/>
<circle cx="200.94" cy="422.60" r="2.95" fill="#28369A"/>
<circle cx="362.95" cy="422.60" r="2.95" fill="#28369A"/>
<circle cx="170.08" cy="422.60" r="1.05" fill="#D4154D"/>
<circle cx="239.51" cy="422.60" r="1.05" fill="#D4154D"/>
<circle cx="247.23" cy="422.60" r="1.05" fill="#D4154D"/>
<circle cx="386.10" cy="422.60" r="1.05" fill="#D4154D"/>
<circle cx="77.50" cy="429.65" r="2.85" fill="#F8A73A"/>
<circle cx="92.93" cy="429.65" r="2.85" fill="#F8A73A"/>
<circle cx="100.64" cy="429.65" r="2.85" fill="#F8A73A"/>
<circle cx="116.08" cy="429.65" r="2.85" fill="#F8A73A"/>
<circle cx="208.66" cy="429.65" r="2.95" fill="#28369A"/>
<circle cx="216.37" cy="429.65" r="2.95" fill="#28369A"/>
<circle cx="270.38" cy="429.65" r="2.95" fill="#28369A"/>
<circle cx="285.81" cy="429.65" r="2.95" fill="#28369A"/>
<circle cx="316.66" cy="429.65" r="2.95" fill="#28369A"/>
<circle cx="370.67" cy="429.65" r="2.95" fill="#28369A"/>
<circle cx="193.22" cy="429.65" r="1.05" fill="#D4154D"/>
<circle cx="200.94" cy="429.65" r="1.05" fill="#D4154D"/>
<circle cx="254.94" cy="429.65" r="1.05" fill="#D4154D"/>
<circle cx="262.66" cy="429.65" r="1.05" fill="#D4154D"/>
<circle cx="278.09" cy="429.65" r="1.05" fill="#D4154D"/>
<circle cx="355.24" cy="429.65" r="1.05" fill="#D4154D"/>
<circle cx="362.95" cy="429.65" r="1.05" fill="#D4154D"/>
<circle cx="85.22" cy="436.70" r="2.85" fill="#F8A73A"/>
<circle cx="92.93" cy="436.70" r="2.85" fill="#F8A73A"/>
<circle cx="100.64" cy="436.70" r="2.85" fill="#F8A73A"/>
<circle cx="108.36" cy="436.70" r="2.85" fill="#F8A73A"/>
<circle cx="116.08" cy="436.70" r="2.85" fill="#F8A73A"/>
<circle cx="316.66" cy="436.70" r="2.85" fill="#F8A73A"/>
<circle cx="216.37" cy="436.70" r="2.95" fill="#28369A"/>
<circle cx="270.38" cy="436.70" r="2.95" fill="#28369A"/>
<circle cx="293.52" cy="436.70" r="2.95" fill="#28369A"/>
<circle cx="339.81" cy="436.70" r="2.95" fill="#28369A"/>
<circle cx="347.52" cy="436.70" r="2.95" fill="#28369A"/>
<circle cx="370.67" cy="436.70" r="2.95" fill="#28369A"/>
<circle cx="378.38" cy="436.70" r="2.95" fill="#28369A"/>
<circle cx="193.22" cy="436.70" r="1.05" fill="#D4154D"/>
<circle cx="200.94" cy="436.70" r="1.05" fill="#D4154D"/>
<circle cx="208.66" cy="436.70" r="1.05" fill="#D4154D"/>
<circle cx="224.09" cy="436.70" r="1.05" fill="#D4154D"/>
<circle cx="231.80" cy="436.70" r="1.05" fill="#D4154D"/>
<circle cx="254.94" cy="436.70" r="1.05" fill="#D4154D"/>
<circle cx="262.66" cy="436.70" r="1.05" fill="#D4154D"/>
<circle cx="278.09" cy="436.70" r="1.05" fill="#D4154D"/>
<circle cx="285.81" cy="436.70" r="1.05" fill="#D4154D"/>
<circle cx="324.38" cy="436.70" r="1.05" fill="#D4154D"/>
<circle cx="355.24" cy="436.70" r="1.05" fill="#D4154D"/>
<circle cx="362.95" cy="436.70" r="1.05" fill="#D4154D"/>
<circle cx="393.81" cy="436.70" r="1.05" fill="#D4154D"/>
<circle cx="77.50" cy="443.75" r="2.85" fill="#F8A73A"/>
<circle cx="85.22" cy="443.75" r="2.85" fill="#F8A73A"/>
<circle cx="100.64" cy="443.75" r="2.85" fill="#F8A73A"/>
<circle cx="270.38" cy="443.75" r="2.85" fill="#F8A73A"/>
<circle cx="316.66" cy="443.75" r="2.95" fill="#28369A"/>
<circle cx="92.93" cy="443.75" r="1.05" fill="#D4154D"/>
<circle cx="108.36" cy="443.75" r="1.05" fill="#D4154D"/>
<circle cx="116.08" cy="443.75" r="1.05" fill="#D4154D"/>
<circle cx="193.22" cy="443.75" r="1.05" fill="#D4154D"/>
<circle cx="200.94" cy="443.75" r="1.05" fill="#D4154D"/>
<circle cx="208.66" cy="443.75" r="1.05" fill="#D4154D"/>
<circle cx="216.37" cy="443.75" r="1.05" fill="#D4154D"/>
<circle cx="224.09" cy="443.75" r="1.05" fill="#D4154D"/>
<circle cx="231.80" cy="443.75" r="1.05" fill="#D4154D"/>
<circle cx="254.94" cy="443.75" r="1.05" fill="#D4154D"/>
<circle cx="262.66" cy="443.75" r="1.05" fill="#D4154D"/>
<circle cx="278.09" cy="443.75" r="1.05" fill="#D4154D"/>
<circle cx="285.81" cy="443.75" r="1.05" fill="#D4154D"/>
<circle cx="293.52" cy="443.75" r="1.05" fill="#D4154D"/>
<circle cx="301.24" cy="443.75" r="1.05" fill="#D4154D"/>
<circle cx="324.38" cy="443.75" r="1.05" fill="#D4154D"/>
<circle cx="332.10" cy="443.75" r="1.05" fill="#D4154D"/>
<circle cx="355.24" cy="443.75" r="1.05" fill="#D4154D"/>
<circle cx="362.95" cy="443.75" r="1.05" fill="#D4154D"/>
<circle cx="370.67" cy="443.75" r="1.05" fill="#D4154D"/>
<circle cx="123.79" cy="450.80" r="2.85" fill="#F8A73A"/>
<circle cx="131.50" cy="450.80" r="2.85" fill="#F8A73A"/>
<circle cx="139.22" cy="450.80" r="2.85" fill="#F8A73A"/>
<circle cx="146.94" cy="450.80" r="2.85" fill="#F8A73A"/>
<circle cx="154.65" cy="450.80" r="2.85" fill="#F8A73A"/>
<circle cx="162.37" cy="450.80" r="2.85" fill="#F8A73A"/>
<circle cx="170.08" cy="450.80" r="2.85" fill="#F8A73A"/>
<circle cx="177.80" cy="450.80" r="2.85" fill="#F8A73A"/>
<circle cx="185.51" cy="450.80" r="2.85" fill="#F8A73A"/>
<circle cx="77.50" cy="450.80" r="2.95" fill="#28369A"/>
<circle cx="347.52" cy="450.80" r="2.95" fill="#28369A"/>
<circle cx="362.95" cy="450.80" r="2.95" fill="#28369A"/>
<circle cx="370.67" cy="450.80" r="2.95" fill="#28369A"/>
<circle cx="378.38" cy="450.80" r="2.95" fill="#28369A"/>
<circle cx="386.10" cy="450.80" r="2.95" fill="#28369A"/>
<circle cx="92.93" cy="450.80" r="1.05" fill="#D4154D"/>
<circle cx="100.64" cy="450.80" r="1.05" fill="#D4154D"/>
<circle cx="193.22" cy="450.80" r="1.05" fill="#D4154D"/>
<circle cx="200.94" cy="450.80" r="1.05" fill="#D4154D"/>
<circle cx="208.66" cy="450.80" r="1.05" fill="#D4154D"/>
<circle cx="216.37" cy="450.80" r="1.05" fill="#D4154D"/>
<circle cx="239.51" cy="450.80" r="1.05" fill="#D4154D"/>
<circle cx="247.23" cy="450.80" r="1.05" fill="#D4154D"/>
<circle cx="254.94" cy="450.80" r="1.05" fill="#D4154D"/>
<circle cx="262.66" cy="450.80" r="1.05" fill="#D4154D"/>
<circle cx="123.79" cy="457.85" r="2.85" fill="#F8A73A"/>
<circle cx="131.50" cy="457.85" r="2.85" fill="#F8A73A"/>
<circle cx="139.22" cy="457.85" r="2.85" fill="#F8A73A"/>
<circle cx="146.94" cy="457.85" r="2.85" fill="#F8A73A"/>
<circle cx="154.65" cy="457.85" r="2.85" fill="#F8A73A"/>
<circle cx="162.37" cy="457.85" r="2.85" fill="#F8A73A"/>
<circle cx="170.08" cy="457.85" r="2.85" fill="#F8A73A"/>
<circle cx="177.80" cy="457.85" r="2.85" fill="#F8A73A"/>
<circle cx="185.51" cy="457.85" r="2.85" fill="#F8A73A"/>
<circle cx="239.51" cy="457.85" r="2.85" fill="#F8A73A"/>
<circle cx="92.93" cy="457.85" r="1.05" fill="#D4154D"/>
<circle cx="193.22" cy="457.85" r="1.05" fill="#D4154D"/>
<circle cx="208.66" cy="457.85" r="1.05" fill="#D4154D"/>
<circle cx="254.94" cy="457.85" r="1.05" fill="#D4154D"/>
<circle cx="146.94" cy="464.90" r="2.85" fill="#F8A73A"/>
<circle cx="170.08" cy="464.90" r="2.85" fill="#F8A73A"/>
<circle cx="177.80" cy="464.90" r="2.85" fill="#F8A73A"/>
<circle cx="208.66" cy="464.90" r="2.85" fill="#F8A73A"/>
<circle cx="216.37" cy="464.90" r="2.85" fill="#F8A73A"/>
<circle cx="239.51" cy="464.90" r="2.85" fill="#F8A73A"/>
<circle cx="247.23" cy="464.90" r="2.85" fill="#F8A73A"/>
<circle cx="254.94" cy="464.90" r="2.85" fill="#F8A73A"/>
<circle cx="262.66" cy="464.90" r="2.85" fill="#F8A73A"/>
<circle cx="185.51" cy="464.90" r="1.05" fill="#D4154D"/>
<circle cx="193.22" cy="464.90" r="1.05" fill="#D4154D"/>
<circle cx="200.94" cy="464.90" r="1.05" fill="#D4154D"/>
<circle cx="177.80" cy="471.95" r="2.85" fill="#F8A73A"/>
<circle cx="208.66" cy="471.95" r="2.85" fill="#F8A73A"/>
<circle cx="216.37" cy="471.95" r="2.85" fill="#F8A73A"/>
<circle cx="170.08" cy="471.95" r="1.05" fill="#D4154D"/>
<circle cx="185.51" cy="471.95" r="1.05" fill="#D4154D"/>
<circle cx="193.22" cy="471.95" r="1.05" fill="#D4154D"/>
<circle cx="200.94" cy="471.95" r="1.05" fill="#D4154D"/>
<circle cx="239.51" cy="471.95" r="1.05" fill="#D4154D"/>
<circle cx="247.23" cy="471.95" r="1.05" fill="#D4154D"/>
<circle cx="185.51" cy="479.00" r="2.85" fill="#F8A73A"/>
<circle cx="193.22" cy="479.00" r="2.85" fill="#F8A73A"/>
<circle cx="200.94" cy="479.00" r="2.85" fill="#F8A73A"/>
<circle cx="185.51" cy="486.05" r="2.85" fill="#F8A73A"/>
<circle cx="193.22" cy="486.05" r="2.85" fill="#F8A73A"/>
<circle cx="200.94" cy="486.05" r="2.85" fill="#F8A73A"/>
<circle cx="177.80" cy="493.10" r="2.85" fill="#F8A73A"/>
<circle cx="185.51" cy="493.10" r="2.85" fill="#F8A73A"/>
<circle cx="123.79" cy="493.10" r="1.05" fill="#D4154D"/>
<circle cx="170.08" cy="493.10" r="1.05" fill="#D4154D"/>
<circle cx="146.94" cy="500.15" r="2.85" fill="#F8A73A"/>
<circle cx="177.80" cy="500.15" r="2.85" fill="#F8A73A"/>
<circle cx="185.51" cy="500.15" r="2.85" fill="#F8A73A"/>
<circle cx="123.79" cy="500.15" r="1.05" fill="#D4154D"/>
<circle cx="170.08" cy="500.15" r="1.05" fill="#D4154D"/>
<circle cx="254.94" cy="507.20" r="2.95" fill="#28369A"/>
<circle cx="262.66" cy="507.20" r="2.95" fill="#28369A"/>
<circle cx="270.38" cy="507.20" r="2.95" fill="#28369A"/>
<circle cx="278.09" cy="507.20" r="2.95" fill="#28369A"/>
<circle cx="285.81" cy="507.20" r="2.95" fill="#28369A"/>
<circle cx="316.66" cy="507.20" r="2.95" fill="#28369A"/>
<circle cx="355.24" cy="507.20" r="2.95" fill="#28369A"/>
<circle cx="393.81" cy="507.20" r="1.05" fill="#D4154D"/>
<circle cx="355.24" cy="514.25" r="2.85" fill="#F8A73A"/>
<circle cx="193.22" cy="514.25" r="2.95" fill="#28369A"/>
<circle cx="200.94" cy="514.25" r="2.95" fill="#28369A"/>
<circle cx="208.66" cy="514.25" r="2.95" fill="#28369A"/>
<circle cx="216.37" cy="514.25" r="2.95" fill="#28369A"/>
<circle cx="224.09" cy="514.25" r="2.95" fill="#28369A"/>
<circle cx="231.80" cy="514.25" r="2.95" fill="#28369A"/>
<circle cx="239.51" cy="514.25" r="2.95" fill="#28369A"/>
<circle cx="247.23" cy="514.25" r="2.95" fill="#28369A"/>
<circle cx="254.94" cy="514.25" r="2.95" fill="#28369A"/>
<circle cx="262.66" cy="514.25" r="2.95" fill="#28369A"/>
<circle cx="285.81" cy="514.25" r="2.95" fill="#28369A"/>
<circle cx="293.52" cy="514.25" r="2.95" fill="#28369A"/>
<circle cx="301.24" cy="514.25" r="2.95" fill="#28369A"/>
<circle cx="308.95" cy="514.25" r="2.95" fill="#28369A"/>
<circle cx="332.10" cy="514.25" r="2.95" fill="#28369A"/>
<circle cx="370.67" cy="514.25" r="2.95" fill="#28369A"/>
<circle cx="270.38" cy="514.25" r="1.05" fill="#D4154D"/>
<circle cx="278.09" cy="514.25" r="1.05" fill="#D4154D"/>
<circle cx="316.66" cy="514.25" r="1.05" fill="#D4154D"/>
<circle cx="324.38" cy="514.25" r="1.05" fill="#D4154D"/>
<circle cx="362.95" cy="514.25" r="1.05" fill="#D4154D"/>
<circle cx="386.10" cy="514.25" r="1.05" fill="#D4154D"/>
<circle cx="193.22" cy="521.30" r="2.95" fill="#28369A"/>
<circle cx="200.94" cy="521.30" r="2.95" fill="#28369A"/>
<circle cx="208.66" cy="521.30" r="2.95" fill="#28369A"/>
<circle cx="216.37" cy="521.30" r="2.95" fill="#28369A"/>
<circle cx="224.09" cy="521.30" r="2.95" fill="#28369A"/>
<circle cx="239.51" cy="521.30" r="2.95" fill="#28369A"/>
<circle cx="247.23" cy="521.30" r="2.95" fill="#28369A"/>
<circle cx="254.94" cy="521.30" r="2.95" fill="#28369A"/>
<circle cx="262.66" cy="521.30" r="2.95" fill="#28369A"/>
<circle cx="332.10" cy="521.30" r="2.95" fill="#28369A"/>
<circle cx="362.95" cy="521.30" r="2.95" fill="#28369A"/>
<circle cx="386.10" cy="521.30" r="2.95" fill="#28369A"/>
<circle cx="270.38" cy="521.30" r="1.05" fill="#D4154D"/>
<circle cx="316.66" cy="521.30" r="1.05" fill="#D4154D"/>
<circle cx="324.38" cy="521.30" r="1.05" fill="#D4154D"/>
<circle cx="278.09" cy="528.35" r="2.85" fill="#F8A73A"/>
<circle cx="193.22" cy="528.35" r="2.95" fill="#28369A"/>
<circle cx="200.94" cy="528.35" r="2.95" fill="#28369A"/>
<circle cx="208.66" cy="528.35" r="2.95" fill="#28369A"/>
<circle cx="216.37" cy="528.35" r="2.95" fill="#28369A"/>
<circle cx="224.09" cy="528.35" r="2.95" fill="#28369A"/>
<circle cx="231.80" cy="528.35" r="2.95" fill="#28369A"/>
<circle cx="239.51" cy="528.35" r="2.95" fill="#28369A"/>
<circle cx="247.23" cy="528.35" r="2.95" fill="#28369A"/>
<circle cx="254.94" cy="528.35" r="2.95" fill="#28369A"/>
<circle cx="262.66" cy="528.35" r="2.95" fill="#28369A"/>
<circle cx="332.10" cy="528.35" r="2.95" fill="#28369A"/>
<circle cx="362.95" cy="528.35" r="2.95" fill="#28369A"/>
<circle cx="386.10" cy="528.35" r="2.95" fill="#28369A"/>
<circle cx="270.38" cy="528.35" r="1.05" fill="#D4154D"/>
<circle cx="316.66" cy="528.35" r="1.05" fill="#D4154D"/>
<circle cx="324.38" cy="528.35" r="1.05" fill="#D4154D"/>
<circle cx="185.51" cy="535.40" r="2.95" fill="#28369A"/>
<circle cx="200.94" cy="535.40" r="2.95" fill="#28369A"/>
<circle cx="262.66" cy="535.40" r="2.95" fill="#28369A"/>
<circle cx="285.81" cy="535.40" r="2.95" fill="#28369A"/>
<circle cx="293.52" cy="535.40" r="2.95" fill="#28369A"/>
<circle cx="324.38" cy="535.40" r="2.95" fill="#28369A"/>
<circle cx="339.81" cy="535.40" r="2.95" fill="#28369A"/>
<circle cx="347.52" cy="535.40" r="2.95" fill="#28369A"/>
<circle cx="355.24" cy="535.40" r="2.95" fill="#28369A"/>
<circle cx="362.95" cy="535.40" r="2.95" fill="#28369A"/>
<circle cx="378.38" cy="535.40" r="2.95" fill="#28369A"/>
<circle cx="131.50" cy="535.40" r="1.05" fill="#D4154D"/>
<circle cx="139.22" cy="535.40" r="1.05" fill="#D4154D"/>
<circle cx="146.94" cy="535.40" r="1.05" fill="#D4154D"/>
<circle cx="162.37" cy="535.40" r="1.05" fill="#D4154D"/>
<circle cx="177.80" cy="535.40" r="1.05" fill="#D4154D"/>
<circle cx="216.37" cy="535.40" r="1.05" fill="#D4154D"/>
<circle cx="301.24" cy="535.40" r="1.05" fill="#D4154D"/>
<circle cx="193.22" cy="542.45" r="2.95" fill="#28369A"/>
<circle cx="200.94" cy="542.45" r="2.95" fill="#28369A"/>
<circle cx="208.66" cy="542.45" r="2.95" fill="#28369A"/>
<circle cx="216.37" cy="542.45" r="2.95" fill="#28369A"/>
<circle cx="339.81" cy="542.45" r="2.95" fill="#28369A"/>
<circle cx="347.52" cy="542.45" r="2.95" fill="#28369A"/>
<circle cx="355.24" cy="542.45" r="2.95" fill="#28369A"/>
<circle cx="362.95" cy="542.45" r="2.95" fill="#28369A"/>
<circle cx="378.38" cy="542.45" r="2.95" fill="#28369A"/>
<circle cx="393.81" cy="542.45" r="2.95" fill="#28369A"/>
<circle cx="254.94" cy="542.45" r="1.05" fill="#D4154D"/>
<circle cx="262.66" cy="542.45" r="1.05" fill="#D4154D"/>
<circle cx="85.22" cy="549.50" r="2.85" fill="#F8A73A"/>
<circle cx="100.64" cy="549.50" r="2.85" fill="#F8A73A"/>
<circle cx="193.22" cy="549.50" r="2.95" fill="#28369A"/>
<circle cx="208.66" cy="549.50" r="2.95" fill="#28369A"/>
<circle cx="254.94" cy="549.50" r="2.95" fill="#28369A"/>
<circle cx="262.66" cy="549.50" r="2.95" fill="#28369A"/>
<circle cx="293.52" cy="549.50" r="2.95" fill="#28369A"/>
<circle cx="339.81" cy="549.50" r="2.95" fill="#28369A"/>
<circle cx="347.52" cy="549.50" r="2.95" fill="#28369A"/>
<circle cx="355.24" cy="549.50" r="2.95" fill="#28369A"/>
<circle cx="362.95" cy="549.50" r="2.95" fill="#28369A"/>
<circle cx="370.67" cy="549.50" r="2.95" fill="#28369A"/>
<circle cx="378.38" cy="549.50" r="2.95" fill="#28369A"/>
<circle cx="393.81" cy="549.50" r="2.95" fill="#28369A"/>
<circle cx="139.22" cy="549.50" r="1.05" fill="#D4154D"/>
<circle cx="162.37" cy="549.50" r="1.05" fill="#D4154D"/>
<circle cx="185.51" cy="549.50" r="1.05" fill="#D4154D"/>
<circle cx="200.94" cy="549.50" r="1.05" fill="#D4154D"/>
<circle cx="216.37" cy="549.50" r="1.05" fill="#D4154D"/>
<circle cx="247.23" cy="549.50" r="1.05" fill="#D4154D"/>
<text x="80.00" y="556.60" font-size="7.2" text-anchor="end" fill="#EE1659" stroke="#EE1659" stroke-width="0.22" transform="rotate(-90 80.00 556.60)">DC</text>
<text x="87.72" y="556.60" font-size="7.2" text-anchor="end" fill="#EE1659" stroke="#EE1659" stroke-width="0.22" transform="rotate(-90 87.72 556.60)">Epi</text>
<text x="95.43" y="556.60" font-size="7.2" text-anchor="end" fill="#EE1659" stroke="#EE1659" stroke-width="0.22" transform="rotate(-90 95.43 556.60)">Macro</text>
<text x="103.14" y="556.60" font-size="7.2" text-anchor="end" fill="#EE1659" stroke="#EE1659" stroke-width="0.22" transform="rotate(-90 103.14 556.60)">Mono</text>
<text x="110.86" y="556.60" font-size="7.2" text-anchor="end" fill="#EE1659" stroke="#EE1659" stroke-width="0.22" transform="rotate(-90 110.86 556.60)">NK</text>
<text x="118.58" y="556.60" font-size="7.2" text-anchor="end" fill="#EE1659" stroke="#EE1659" stroke-width="0.22" transform="rotate(-90 118.58 556.60)">Plasma</text>
<text x="188.01" y="556.60" font-size="7.2" text-anchor="end" fill="#EE1659" stroke="#EE1659" stroke-width="0.22" transform="rotate(-90 188.01 556.60)">Neu</text>
<text x="195.72" y="556.60" font-size="7.2" text-anchor="end" fill="#EE1659" stroke="#EE1659" stroke-width="0.22" transform="rotate(-90 195.72 556.60)">Macro</text>
<text x="203.44" y="556.60" font-size="7.2" text-anchor="end" fill="#EE1659" stroke="#EE1659" stroke-width="0.22" transform="rotate(-90 203.44 556.60)">Mono</text>
<text x="211.16" y="556.60" font-size="7.2" text-anchor="end" fill="#EE1659" stroke="#EE1659" stroke-width="0.22" transform="rotate(-90 211.16 556.60)">Macro</text>
<text x="218.87" y="556.60" font-size="7.2" text-anchor="end" fill="#EE1659" stroke="#EE1659" stroke-width="0.22" transform="rotate(-90 218.87 556.60)">Mono</text>
<text x="226.59" y="556.60" font-size="7.2" text-anchor="end" fill="#EE1659" stroke="#EE1659" stroke-width="0.22" transform="rotate(-90 226.59 556.60)">NK</text>
<text x="234.30" y="556.60" font-size="7.2" text-anchor="end" fill="#EE1659" stroke="#EE1659" stroke-width="0.22" transform="rotate(-90 234.30 556.60)">Plasma</text>
<text x="242.01" y="556.60" font-size="7.2" text-anchor="end" fill="#EE1659" stroke="#EE1659" stroke-width="0.22" transform="rotate(-90 242.01 556.60)">Macro</text>
<text x="249.73" y="556.60" font-size="7.2" text-anchor="end" fill="#EE1659" stroke="#EE1659" stroke-width="0.22" transform="rotate(-90 249.73 556.60)">Mono</text>
<text x="257.44" y="556.60" font-size="7.2" text-anchor="end" fill="#EE1659" stroke="#EE1659" stroke-width="0.22" transform="rotate(-90 257.44 556.60)">Macro</text>
<text x="265.16" y="556.60" font-size="7.2" text-anchor="end" fill="#EE1659" stroke="#EE1659" stroke-width="0.22" transform="rotate(-90 265.16 556.60)">Mono</text>
<text x="272.88" y="556.60" font-size="7.2" text-anchor="end" fill="#EE1659" stroke="#EE1659" stroke-width="0.22" transform="rotate(-90 272.88 556.60)">NK</text>
<text x="280.59" y="556.60" font-size="7.2" text-anchor="end" fill="#EE1659" stroke="#EE1659" stroke-width="0.22" transform="rotate(-90 280.59 556.60)">Plasma</text>
<text x="288.31" y="556.60" font-size="7.2" text-anchor="end" fill="#EE1659" stroke="#EE1659" stroke-width="0.22" transform="rotate(-90 288.31 556.60)">CD4</text>
<text x="153.29" y="556.60" font-size="7.2" text-anchor="end" fill="#EE1659" stroke="#EE1659" stroke-width="0.22" transform="rotate(-90 153.29 556.60)">Neu</text>
<text x="303.74" y="556.60" font-size="7.2" text-anchor="end" fill="#EE1659" stroke="#EE1659" stroke-width="0.22" transform="rotate(-90 303.74 556.60)">CD4</text>
<text x="326.88" y="556.60" font-size="7.2" text-anchor="end" fill="#EE1659" stroke="#EE1659" stroke-width="0.22" transform="rotate(-90 326.88 556.60)">CD8</text>
<text x="369.31" y="556.60" font-size="7.2" text-anchor="end" fill="#EE1659" stroke="#EE1659" stroke-width="0.22" transform="rotate(-90 369.31 556.60)">DC</text>
<line x1="77.30" y1="583.50" x2="116.28" y2="583.50" stroke="#9a9a9a" stroke-width="0.8"/>
<line x1="185.31" y1="583.50" x2="201.14" y2="583.50" stroke="#9a9a9a" stroke-width="0.8"/>
<line x1="208.46" y1="583.50" x2="232.00" y2="583.50" stroke="#9a9a9a" stroke-width="0.8"/>
<line x1="239.31" y1="583.50" x2="247.43" y2="583.50" stroke="#9a9a9a" stroke-width="0.8"/>
<line x1="254.75" y1="583.50" x2="286.00" y2="583.50" stroke="#9a9a9a" stroke-width="0.8"/>
<line x1="123.59" y1="583.50" x2="178.00" y2="583.50" stroke="#9a9a9a" stroke-width="0.8"/>
<line x1="293.32" y1="583.50" x2="309.15" y2="583.50" stroke="#9a9a9a" stroke-width="0.8"/>
<line x1="316.46" y1="583.50" x2="332.30" y2="583.50" stroke="#9a9a9a" stroke-width="0.8"/>
<line x1="339.61" y1="583.50" x2="394.01" y2="583.50" stroke="#9a9a9a" stroke-width="0.8"/>
<text x="126.29" y="585.20" font-size="7.2" text-anchor="end" fill="#3B5A7C" stroke="#3B5A7C" stroke-width="0.22" transform="rotate(-90 126.29 585.20)">Epi</text>
<text x="134.00" y="585.20" font-size="7.2" text-anchor="end" fill="#3B5A7C" stroke="#3B5A7C" stroke-width="0.22" transform="rotate(-90 134.00 585.20)">CD4</text>
<text x="141.72" y="585.20" font-size="7.2" text-anchor="end" fill="#3B5A7C" stroke="#3B5A7C" stroke-width="0.22" transform="rotate(-90 141.72 585.20)">CD8</text>
<text x="149.44" y="585.20" font-size="7.2" text-anchor="end" fill="#3B5A7C" stroke="#3B5A7C" stroke-width="0.22" transform="rotate(-90 149.44 585.20)">DC</text>
<text x="157.15" y="585.20" font-size="7.2" text-anchor="end" fill="#3B5A7C" stroke="#3B5A7C" stroke-width="0.22" transform="rotate(-90 157.15 585.20)">Mega</text>
<text x="164.87" y="585.20" font-size="7.2" text-anchor="end" fill="#3B5A7C" stroke="#3B5A7C" stroke-width="0.22" transform="rotate(-90 164.87 585.20)">NK</text>
<text x="172.58" y="585.20" font-size="7.2" text-anchor="end" fill="#3B5A7C" stroke="#3B5A7C" stroke-width="0.22" transform="rotate(-90 172.58 585.20)">Neu</text>
<text x="180.30" y="585.20" font-size="7.2" text-anchor="end" fill="#3B5A7C" stroke="#3B5A7C" stroke-width="0.22" transform="rotate(-90 180.30 585.20)">Mono</text>
<text x="296.02" y="585.20" font-size="7.2" text-anchor="end" fill="#3B5A7C" stroke="#3B5A7C" stroke-width="0.22" transform="rotate(-90 296.02 585.20)">Macro</text>
<text x="303.74" y="585.20" font-size="7.2" text-anchor="end" fill="#3B5A7C" stroke="#3B5A7C" stroke-width="0.22" transform="rotate(-90 303.74 585.20)">Mono</text>
<text x="311.45" y="585.20" font-size="7.2" text-anchor="end" fill="#3B5A7C" stroke="#3B5A7C" stroke-width="0.22" transform="rotate(-90 311.45 585.20)">NK</text>
<text x="319.16" y="585.20" font-size="7.2" text-anchor="end" fill="#3B5A7C" stroke="#3B5A7C" stroke-width="0.22" transform="rotate(-90 319.16 585.20)">DC</text>
<text x="326.88" y="585.20" font-size="7.2" text-anchor="end" fill="#3B5A7C" stroke="#3B5A7C" stroke-width="0.22" transform="rotate(-90 326.88 585.20)">Macro</text>
<text x="334.60" y="585.20" font-size="7.2" text-anchor="end" fill="#3B5A7C" stroke="#3B5A7C" stroke-width="0.22" transform="rotate(-90 334.60 585.20)">Mono</text>
<text x="342.31" y="585.20" font-size="7.2" text-anchor="end" fill="#3B5A7C" stroke="#3B5A7C" stroke-width="0.22" transform="rotate(-90 342.31 585.20)">CD4</text>
<text x="350.02" y="585.20" font-size="7.2" text-anchor="end" fill="#3B5A7C" stroke="#3B5A7C" stroke-width="0.22" transform="rotate(-90 350.02 585.20)">CD8</text>
<text x="357.74" y="585.20" font-size="7.2" text-anchor="end" fill="#3B5A7C" stroke="#3B5A7C" stroke-width="0.22" transform="rotate(-90 357.74 585.20)">DC</text>
<text x="365.45" y="585.20" font-size="7.2" text-anchor="end" fill="#3B5A7C" stroke="#3B5A7C" stroke-width="0.22" transform="rotate(-90 365.45 585.20)">Macro</text>
<text x="373.17" y="585.20" font-size="7.2" text-anchor="end" fill="#3B5A7C" stroke="#3B5A7C" stroke-width="0.22" transform="rotate(-90 373.17 585.20)">Mono</text>
<text x="380.88" y="585.20" font-size="7.2" text-anchor="end" fill="#3B5A7C" stroke="#3B5A7C" stroke-width="0.22" transform="rotate(-90 380.88 585.20)">NK</text>
<text x="388.60" y="585.20" font-size="7.2" text-anchor="end" fill="#3B5A7C" stroke="#3B5A7C" stroke-width="0.22" transform="rotate(-90 388.60 585.20)">Neu</text>
<text x="396.31" y="585.20" font-size="7.2" text-anchor="end" fill="#3B5A7C" stroke="#3B5A7C" stroke-width="0.22" transform="rotate(-90 396.31 585.20)">Plasma</text>
<text x="99.29" y="585.20" font-size="7.2" text-anchor="end" fill="#3B5A7C" stroke="#3B5A7C" stroke-width="0.22" transform="rotate(-90 99.29 585.20)">Epi</text>
<text x="195.72" y="585.20" font-size="7.2" text-anchor="end" fill="#3B5A7C" stroke="#3B5A7C" stroke-width="0.22" transform="rotate(-90 195.72 585.20)">Macro</text>
<text x="222.73" y="585.20" font-size="7.2" text-anchor="end" fill="#3B5A7C" stroke="#3B5A7C" stroke-width="0.22" transform="rotate(-90 222.73 585.20)">Mono</text>
<text x="245.87" y="585.20" font-size="7.2" text-anchor="end" fill="#3B5A7C" stroke="#3B5A7C" stroke-width="0.22" transform="rotate(-90 245.87 585.20)">Neu</text>
<text x="272.88" y="585.20" font-size="7.2" text-anchor="end" fill="#3B5A7C" stroke="#3B5A7C" stroke-width="0.22" transform="rotate(-90 272.88 585.20)">DC</text>
<path d="M62.6,562.5 L61,571 L65,569Z" fill="#EE1152"/>
<circle cx="67.00" cy="567.60" r="4.30" fill="#EE1152"/>
<circle cx="64.70" cy="588.80" r="4.30" fill="#2E5478"/>
<circle cx="64.70" cy="582.60" r="1.30" fill="#2E5478"/>
<path d="M58.6,555.6 C59,559 60.5,561.5 62.8,562.8" stroke="#555" stroke-width="0.5" fill="none"/>
<path d="M57.6,556.6 L58.6,554.8 L59.6,556.6" stroke="#555" stroke-width="0.5" fill="none"/>
<path d="M71,569.8 C73,572.5 75.5,574.4 79.2,574.5" stroke="#555" stroke-width="0.5" fill="none"/>
<path d="M45.8,555.6 C50,560 56,566 57,574 C57.5,580 59,584 61.2,585.6" stroke="#555" stroke-width="0.5" fill="none"/>
<path d="M44.8,556.6 L45.8,554.8 L46.8,556.6" stroke="#555" stroke-width="0.5" fill="none"/>
<path d="M70.8,591 C76,596 80,602.5 90,602.6 L97.3,602.6" stroke="#555" stroke-width="0.5" fill="none" stroke-dasharray="1.2,0.8"/>
<path d="M96.3,601.6 L98,602.6 L96.3,603.6" stroke="#555" stroke-width="0.5" fill="none"/>
<path d="M78.2,573.6 L79.8,574.5 L78.2,575.4" stroke="#555" stroke-width="0.5" fill="none"/>
<circle cx="14.40" cy="567.30" r="2.90" fill="#2B3A9F"/>
<circle cx="22.40" cy="567.30" r="2.70" fill="#6A2C8C"/>
<circle cx="30.30" cy="567.30" r="2.10" fill="#A0286E"/>
<circle cx="38.30" cy="567.30" r="1.20" fill="#D7194F"/>
<circle cx="14.40" cy="575.30" r="2.70" fill="#6F7CCB"/>
<circle cx="22.40" cy="575.30" r="1.90" fill="#9C72A8"/>
<circle cx="30.30" cy="575.30" r="1.20" fill="#C84060"/>
<circle cx="38.30" cy="575.30" r="2.10" fill="#E0543E"/>
<circle cx="14.40" cy="583.40" r="2.10" fill="#C3C6EC"/>
<circle cx="22.40" cy="583.40" r="1.00" fill="#D4A0A0"/>
<circle cx="30.30" cy="583.40" r="2.10" fill="#DA8F6A"/>
<circle cx="38.30" cy="583.40" r="2.70" fill="#EE7E35"/>
<circle cx="22.40" cy="591.40" r="2.10" fill="#FDE3C0"/>
<circle cx="30.30" cy="591.40" r="2.70" fill="#FDC77C"/>
<circle cx="38.30" cy="591.40" r="3.00" fill="#F9A533"/>
<text x="49.30" y="567.30" font-size="7.2" text-anchor="middle" stroke="#222" stroke-width="0.22" transform="rotate(-90 49.30 567.30)">&gt;3</text>
<text x="49.30" y="575.30" font-size="7.2" text-anchor="middle" stroke="#222" stroke-width="0.22" transform="rotate(-90 49.30 575.30)">2</text>
<text x="49.30" y="583.40" font-size="7.2" text-anchor="middle" stroke="#222" stroke-width="0.22" transform="rotate(-90 49.30 583.40)">1</text>
<text x="49.30" y="591.40" font-size="7.2" text-anchor="middle" stroke="#222" stroke-width="0.22" transform="rotate(-90 49.30 591.40)">0</text>
<text x="14.40" y="602.00" font-size="7.2" text-anchor="middle" stroke="#222" stroke-width="0.22">0</text>
<text x="22.40" y="602.00" font-size="7.2" text-anchor="middle" stroke="#222" stroke-width="0.22">1</text>
<text x="30.30" y="602.00" font-size="7.2" text-anchor="middle" stroke="#222" stroke-width="0.22">2</text>
<text x="38.30" y="602.00" font-size="7.2" text-anchor="middle" stroke="#222" stroke-width="0.22">&gt;3</text>
<text x="6.30" y="581.50" font-size="7.2" text-anchor="middle" stroke="#222" stroke-width="0.22" transform="rotate(-90 6.30 581.50)">-log(mild.p)</text>
<text x="27.20" y="611.40" font-size="7.2" text-anchor="middle" stroke="#222" stroke-width="0.22">-log(severe.p)</text>
<path d="M10.9,588.6 V594.7 H17.4" stroke="#111" stroke-width="0.6" fill="none"/>
<path d="M9.9,589.4 L10.9,587.6 L11.9,589.4Z M16.6,593.7 L18.4,594.7 L16.6,595.7Z" fill="#111"/>
<text x="415.40" y="417.60" font-size="12" fill="#000" font-weight="bold">i</text>
<path d="M483.51,430.4 V452.4 C483.51,494.0 452.80,494.0 452.80,535.6 V553.6 H455.80 V535.6 C455.80,494.0 486.19,494.0 486.19,452.4 V430.4Z" fill="#EBC3D9" fill-opacity="0.72"/>
<path d="M534.80,430.4 V452.4 C534.80,494.0 456.80,494.0 456.80,535.6 V553.6 H458.80 V535.6 C458.80,494.0 536.81,494.0 536.81,452.4 V430.4Z" fill="#EBC3D9" fill-opacity="0.72"/>
<path d="M575.95,430.4 V452.4 C575.95,494.0 458.80,494.0 458.80,535.6 V553.6 H459.80 V535.6 C459.80,494.0 578.06,494.0 578.06,452.4 V430.4Z" fill="#EBC3D9" fill-opacity="0.72"/>
<path d="M584.80,430.4 V452.4 C584.80,494.0 459.80,494.0 459.80,535.6 V553.6 H462.30 V535.6 C462.30,494.0 590.71,494.0 590.71,452.4 V430.4Z" fill="#EBC3D9" fill-opacity="0.72"/>
<path d="M486.59,430.4 V452.4 C486.59,494.0 497.40,494.0 497.40,535.6 V553.6 H498.82 V535.6 C498.82,494.0 487.93,494.0 487.93,452.4 V430.4Z" fill="#C7B8E0" fill-opacity="0.72"/>
<path d="M501.31,430.4 V452.4 C501.31,494.0 498.82,494.0 498.82,535.6 V553.6 H500.25 V535.6 C500.25,494.0 502.84,494.0 502.84,452.4 V430.4Z" fill="#C7B8E0" fill-opacity="0.72"/>
<path d="M538.61,430.4 V452.4 C538.61,494.0 500.25,494.0 500.25,535.6 V553.6 H502.15 V535.6 C502.15,494.0 540.61,494.0 540.61,452.4 V430.4Z" fill="#C7B8E0" fill-opacity="0.72"/>
<path d="M566.01,430.4 V452.4 C566.01,494.0 502.15,494.0 502.15,535.6 V553.6 H503.57 V535.6 C503.57,494.0 567.70,494.0 567.70,452.4 V430.4Z" fill="#C7B8E0" fill-opacity="0.72"/>
<path d="M593.89,430.4 V452.4 C593.89,494.0 503.57,494.0 503.57,535.6 V553.6 H505.00 V535.6 C505.00,494.0 597.44,494.0 597.44,452.4 V430.4Z" fill="#C7B8E0" fill-opacity="0.72"/>
<path d="M487.93,430.4 V452.4 C487.93,494.0 526.80,494.0 526.80,535.6 V553.6 H528.27 V535.6 C528.27,494.0 489.27,494.0 489.27,452.4 V430.4Z" fill="#A3C7D5" fill-opacity="0.72"/>
<path d="M503.30,430.4 V452.4 C503.30,494.0 528.27,494.0 528.27,535.6 V553.6 H531.21 V535.6 C531.21,494.0 506.36,494.0 506.36,452.4 V430.4Z" fill="#A3C7D5" fill-opacity="0.72"/>
<path d="M541.51,430.4 V452.4 C541.51,494.0 531.21,494.0 531.21,535.6 V553.6 H535.12 V535.6 C535.12,494.0 545.52,494.0 545.52,452.4 V430.4Z" fill="#A3C7D5" fill-opacity="0.72"/>
<path d="M602.98,430.4 V452.4 C602.98,494.0 535.12,494.0 535.12,535.6 V553.6 H538.06 V535.6 C538.06,494.0 606.83,494.0 606.83,452.4 V430.4Z" fill="#A3C7D5" fill-opacity="0.72"/>
<path d="M624.00,430.4 V452.4 C624.00,494.0 538.06,494.0 538.06,535.6 V553.6 H541.00 V535.6 C541.00,494.0 626.91,494.0 626.91,452.4 V430.4Z" fill="#A3C7D5" fill-opacity="0.72"/>
<path d="M518.82,430.4 V452.4 C518.82,494.0 544.80,494.0 544.80,535.6 V553.6 H546.30 V535.6 C546.30,494.0 520.50,494.0 520.50,452.4 V430.4Z" fill="#B2D0DC" fill-opacity="0.72"/>
<path d="M545.52,430.4 V452.4 C545.52,494.0 546.30,494.0 546.30,535.6 V553.6 H547.80 V535.6 C547.80,494.0 547.02,494.0 547.02,452.4 V430.4Z" fill="#B2D0DC" fill-opacity="0.72"/>
<path d="M606.83,430.4 V452.4 C606.83,494.0 547.80,494.0 547.80,535.6 V553.6 H549.10 V535.6 C549.10,494.0 608.50,494.0 608.50,452.4 V430.4Z" fill="#B2D0DC" fill-opacity="0.72"/>
<path d="M626.91,430.4 V452.4 C626.91,494.0 549.10,494.0 549.10,535.6 V553.6 H550.50 V535.6 C550.50,494.0 628.27,494.0 628.27,452.4 V430.4Z" fill="#B2D0DC" fill-opacity="0.72"/>
<path d="M489.27,430.4 V452.4 C489.27,494.0 590.10,494.0 590.10,535.6 V553.6 H592.08 V535.6 C592.08,494.0 491.06,494.0 491.06,452.4 V430.4Z" fill="#EFDD98" fill-opacity="0.72"/>
<path d="M506.36,430.4 V452.4 C506.36,494.0 592.08,494.0 592.08,535.6 V553.6 H593.57 V535.6 C593.57,494.0 507.89,494.0 507.89,452.4 V430.4Z" fill="#EFDD98" fill-opacity="0.72"/>
<path d="M549.28,430.4 V452.4 C549.28,494.0 593.57,494.0 593.57,535.6 V553.6 H596.04 V535.6 C596.04,494.0 551.78,494.0 551.78,452.4 V430.4Z" fill="#EFDD98" fill-opacity="0.72"/>
<path d="M568.21,430.4 V452.4 C568.21,494.0 596.04,494.0 596.04,535.6 V553.6 H597.53 V535.6 C597.53,494.0 569.91,494.0 569.91,452.4 V430.4Z" fill="#EFDD98" fill-opacity="0.72"/>
<path d="M608.50,430.4 V452.4 C608.50,494.0 597.53,494.0 597.53,535.6 V553.6 H599.01 V535.6 C599.01,494.0 610.43,494.0 610.43,452.4 V430.4Z" fill="#EFDD98" fill-opacity="0.72"/>
<path d="M629.14,430.4 V452.4 C629.14,494.0 599.01,494.0 599.01,535.6 V553.6 H600.50 V535.6 C600.50,494.0 630.60,494.0 630.60,452.4 V430.4Z" fill="#EFDD98" fill-opacity="0.72"/>
<path d="M551.78,430.4 V452.4 C551.78,494.0 604.70,494.0 604.70,535.6 V553.6 H606.25 V535.6 C606.25,494.0 553.29,494.0 553.29,452.4 V430.4Z" fill="#ABA285" fill-opacity="0.72"/>
<path d="M610.43,430.4 V452.4 C610.43,494.0 606.25,494.0 606.25,535.6 V553.6 H608.33 V535.6 C608.33,494.0 613.00,494.0 613.00,452.4 V430.4Z" fill="#ABA285" fill-opacity="0.72"/>
<path d="M630.60,430.4 V452.4 C630.60,494.0 608.33,494.0 608.33,535.6 V553.6 H610.40 V535.6 C610.40,494.0 632.54,494.0 632.54,452.4 V430.4Z" fill="#ABA285" fill-opacity="0.72"/>
<path d="M507.89,430.4 V452.4 C507.89,494.0 614.20,494.0 614.20,535.6 V553.6 H616.68 V535.6 C616.68,494.0 510.44,494.0 510.44,452.4 V430.4Z" fill="#CDAE5A" fill-opacity="0.72"/>
<path d="M553.29,430.4 V452.4 C553.29,494.0 616.68,494.0 616.68,535.6 V553.6 H619.65 V535.6 C619.65,494.0 556.29,494.0 556.29,452.4 V430.4Z" fill="#CDAE5A" fill-opacity="0.72"/>
<path d="M613.00,430.4 V452.4 C613.00,494.0 619.65,494.0 619.65,535.6 V553.6 H622.63 V535.6 C622.63,494.0 616.85,494.0 616.85,452.4 V430.4Z" fill="#CDAE5A" fill-opacity="0.72"/>
<path d="M632.54,430.4 V452.4 C632.54,494.0 622.63,494.0 622.63,535.6 V553.6 H625.60 V535.6 C625.60,494.0 635.45,494.0 635.45,452.4 V430.4Z" fill="#CDAE5A" fill-opacity="0.72"/>
<path d="M491.06,430.4 V452.4 C491.06,494.0 630.00,494.0 630.00,535.6 V553.6 H632.54 V535.6 C632.54,494.0 493.29,494.0 493.29,452.4 V430.4Z" fill="#F4E4B8" fill-opacity="0.72"/>
<path d="M510.44,430.4 V452.4 C510.44,494.0 632.54,494.0 632.54,535.6 V553.6 H634.56 V535.6 C634.56,494.0 512.48,494.0 512.48,452.4 V430.4Z" fill="#F4E4B8" fill-opacity="0.72"/>
<path d="M556.29,430.4 V452.4 C556.29,494.0 634.56,494.0 634.56,535.6 V553.6 H637.61 V535.6 C637.61,494.0 559.30,494.0 559.30,452.4 V430.4Z" fill="#F4E4B8" fill-opacity="0.72"/>
<path d="M569.91,430.4 V452.4 C569.91,494.0 637.61,494.0 637.61,535.6 V553.6 H639.13 V535.6 C639.13,494.0 571.60,494.0 571.60,452.4 V430.4Z" fill="#F4E4B8" fill-opacity="0.72"/>
<path d="M616.85,430.4 V452.4 C616.85,494.0 639.13,494.0 639.13,535.6 V553.6 H641.16 V535.6 C641.16,494.0 619.42,494.0 619.42,452.4 V430.4Z" fill="#F4E4B8" fill-opacity="0.72"/>
<path d="M635.45,430.4 V452.4 C635.45,494.0 641.16,494.0 641.16,535.6 V553.6 H644.20 V535.6 C644.20,494.0 638.36,494.0 638.36,452.4 V430.4Z" fill="#F4E4B8" fill-opacity="0.72"/>
<path d="M522.02,430.4 V452.4 C522.02,494.0 650.80,494.0 650.80,535.6 V553.6 H656.30 V535.6 C656.30,494.0 528.19,494.0 528.19,452.4 V430.4Z" fill="#DCC4A6" fill-opacity="0.72"/>
<path d="M559.30,430.4 V452.4 C559.30,494.0 656.30,494.0 656.30,535.6 V553.6 H657.50 V535.6 C657.50,494.0 560.50,494.0 560.50,452.4 V430.4Z" fill="#DCC4A6" fill-opacity="0.72"/>
<path d="M482.50,430.4 V452.4 C482.50,494.0 437.16,494.0 437.16,535.6 V553.6" stroke="#E27A9A" stroke-width="0.55" fill="none" stroke-opacity="0.65"/>
<path d="M498.23,430.4 V452.4 C498.23,494.0 437.48,494.0 437.48,535.6 V553.6" stroke="#E27A9A" stroke-width="0.55" fill="none" stroke-opacity="0.65"/>
<path d="M517.55,430.4 V452.4 C517.55,494.0 437.80,494.0 437.80,535.6 V553.6" stroke="#E27A9A" stroke-width="0.55" fill="none" stroke-opacity="0.65"/>
<path d="M533.23,430.4 V452.4 C533.23,494.0 438.12,494.0 438.12,535.6 V553.6" stroke="#E27A9A" stroke-width="0.55" fill="none" stroke-opacity="0.65"/>
<path d="M575.47,430.4 V452.4 C575.47,494.0 438.44,494.0 438.44,535.6 V553.6" stroke="#E27A9A" stroke-width="0.55" fill="none" stroke-opacity="0.65"/>
<path d="M482.90,430.4 V452.4 C482.90,494.0 441.20,494.0 441.20,535.6 V553.6" stroke="#E59AB5" stroke-width="0.55" fill="none" stroke-opacity="0.65"/>
<path d="M533.68,430.4 V452.4 C533.68,494.0 441.60,494.0 441.60,535.6 V553.6" stroke="#E59AB5" stroke-width="0.55" fill="none" stroke-opacity="0.65"/>
<path d="M498.69,430.4 V452.4 C498.69,494.0 444.40,494.0 444.40,535.6 V553.6" stroke="#E59AB5" stroke-width="0.55" fill="none" stroke-opacity="0.65"/>
<path d="M534.13,430.4 V452.4 C534.13,494.0 444.80,494.0 444.80,535.6 V553.6" stroke="#E59AB5" stroke-width="0.55" fill="none" stroke-opacity="0.65"/>
<path d="M483.31,430.4 V452.4 C483.31,494.0 447.27,494.0 447.27,535.6 V553.6" stroke="#E8A5C0" stroke-width="0.55" fill="none" stroke-opacity="0.65"/>
<path d="M518.06,430.4 V452.4 C518.06,494.0 447.80,494.0 447.80,535.6 V553.6" stroke="#E8A5C0" stroke-width="0.55" fill="none" stroke-opacity="0.65"/>
<path d="M534.58,430.4 V452.4 C534.58,494.0 448.33,494.0 448.33,535.6 V553.6" stroke="#E8A5C0" stroke-width="0.55" fill="none" stroke-opacity="0.65"/>
<path d="M499.43,430.4 V452.4 C499.43,494.0 456.30,494.0 456.30,535.6 V553.6" stroke="#EBC3D9" stroke-width="0.55" fill="none" stroke-opacity="0.65"/>
<path d="M486.39,430.4 V452.4 C486.39,494.0 464.70,494.0 464.70,535.6 V553.6" stroke="#D98FBE" stroke-width="0.55" fill="none" stroke-opacity="0.65"/>
<path d="M537.03,430.4 V452.4 C537.03,494.0 465.10,494.0 465.10,535.6 V553.6" stroke="#D98FBE" stroke-width="0.55" fill="none" stroke-opacity="0.65"/>
<path d="M500.17,430.4 V452.4 C500.17,494.0 468.20,494.0 468.20,535.6 V553.6" stroke="#D99BC8" stroke-width="0.55" fill="none" stroke-opacity="0.65"/>
<path d="M591.24,430.4 V452.4 C591.24,494.0 468.60,494.0 468.60,535.6 V553.6" stroke="#D99BC8" stroke-width="0.55" fill="none" stroke-opacity="0.65"/>
<path d="M537.48,430.4 V452.4 C537.48,494.0 472.70,494.0 472.70,535.6 V553.6" stroke="#D9A4D0" stroke-width="0.55" fill="none" stroke-opacity="0.65"/>
<path d="M565.75,430.4 V452.4 C565.75,494.0 473.10,494.0 473.10,535.6 V553.6" stroke="#D9A4D0" stroke-width="0.55" fill="none" stroke-opacity="0.65"/>
<path d="M592.30,430.4 V452.4 C592.30,494.0 480.65,494.0 480.65,535.6 V553.6" stroke="#CDB0D9" stroke-width="0.55" fill="none" stroke-opacity="0.65"/>
<path d="M537.93,430.4 V452.4 C537.93,494.0 479.95,494.0 479.95,535.6 V553.6" stroke="#CDB0D9" stroke-width="0.55" fill="none" stroke-opacity="0.65"/>
<path d="M593.36,430.4 V452.4 C593.36,494.0 486.35,494.0 486.35,535.6 V553.6" stroke="#C9AAD8" stroke-width="0.55" fill="none" stroke-opacity="0.65"/>
<path d="M500.63,430.4 V452.4 C500.63,494.0 485.65,494.0 485.65,535.6 V553.6" stroke="#C9AAD8" stroke-width="0.55" fill="none" stroke-opacity="0.65"/>
<path d="M501.09,430.4 V452.4 C501.09,494.0 491.35,494.0 491.35,535.6 V553.6" stroke="#B7A0D6" stroke-width="0.55" fill="none" stroke-opacity="0.65"/>
<path d="M538.38,430.4 V452.4 C538.38,494.0 492.05,494.0 492.05,535.6 V553.6" stroke="#B7A0D6" stroke-width="0.55" fill="none" stroke-opacity="0.65"/>
<path d="M540.84,430.4 V452.4 C540.84,494.0 508.20,494.0 508.20,535.6 V553.6" stroke="#B8B0DC" stroke-width="0.55" fill="none" stroke-opacity="0.65"/>
<path d="M567.96,430.4 V452.4 C567.96,494.0 508.60,494.0 508.60,535.6 V553.6" stroke="#B8B0DC" stroke-width="0.55" fill="none" stroke-opacity="0.65"/>
<path d="M503.07,430.4 V452.4 C503.07,494.0 511.70,494.0 511.70,535.6 V553.6" stroke="#BDB8E0" stroke-width="0.55" fill="none" stroke-opacity="0.65"/>
<path d="M578.53,430.4 V452.4 C578.53,494.0 512.10,494.0 512.10,535.6 V553.6" stroke="#BDB8E0" stroke-width="0.55" fill="none" stroke-opacity="0.65"/>
<path d="M541.29,430.4 V452.4 C541.29,494.0 515.70,494.0 515.70,535.6 V553.6" stroke="#B8C0E0" stroke-width="0.55" fill="none" stroke-opacity="0.65"/>
<path d="M597.97,430.4 V452.4 C597.97,494.0 516.10,494.0 516.10,535.6 V553.6" stroke="#B8C0E0" stroke-width="0.55" fill="none" stroke-opacity="0.65"/>
<path d="M518.56,430.4 V452.4 C518.56,494.0 521.20,494.0 521.20,535.6 V553.6" stroke="#A9C4DA" stroke-width="0.55" fill="none" stroke-opacity="0.65"/>
<path d="M602.69,430.4 V452.4 C602.69,494.0 521.60,494.0 521.60,535.6 V553.6" stroke="#A9C4DA" stroke-width="0.55" fill="none" stroke-opacity="0.65"/>
<path d="M520.75,430.4 V452.4 C520.75,494.0 553.70,494.0 553.70,535.6 V553.6" stroke="#A8D0C0" stroke-width="0.55" fill="none" stroke-opacity="0.65"/>
<path d="M547.25,430.4 V452.4 C547.25,494.0 554.10,494.0 554.10,535.6 V553.6" stroke="#A8D0C0" stroke-width="0.55" fill="none" stroke-opacity="0.65"/>
<path d="M547.70,430.4 V452.4 C547.70,494.0 557.70,494.0 557.70,535.6 V553.6" stroke="#9FD0B4" stroke-width="0.55" fill="none" stroke-opacity="0.65"/>
<path d="M579.48,430.4 V452.4 C579.48,494.0 558.10,494.0 558.10,535.6 V553.6" stroke="#9FD0B4" stroke-width="0.55" fill="none" stroke-opacity="0.65"/>
<path d="M548.15,430.4 V452.4 C548.15,494.0 563.15,494.0 563.15,535.6 V553.6" stroke="#86C3A0" stroke-width="0.55" fill="none" stroke-opacity="0.65"/>
<path d="M580.43,430.4 V452.4 C580.43,494.0 563.85,494.0 563.85,535.6 V553.6" stroke="#86C3A0" stroke-width="0.55" fill="none" stroke-opacity="0.65"/>
<path d="M548.60,430.4 V452.4 C548.60,494.0 570.55,494.0 570.55,535.6 V553.6" stroke="#A3CCA6" stroke-width="0.55" fill="none" stroke-opacity="0.65"/>
<path d="M521.26,430.4 V452.4 C521.26,494.0 569.85,494.0 569.85,535.6 V553.6" stroke="#A3CCA6" stroke-width="0.55" fill="none" stroke-opacity="0.65"/>
<path d="M521.76,430.4 V452.4 C521.76,494.0 576.40,494.0 576.40,535.6 V553.6" stroke="#D9DDAA" stroke-width="0.55" fill="none" stroke-opacity="0.65"/>
<path d="M628.49,430.4 V452.4 C628.49,494.0 577.20,494.0 577.20,535.6 V553.6" stroke="#D9DDAA" stroke-width="0.55" fill="none" stroke-opacity="0.65"/>
<path d="M549.05,430.4 V452.4 C549.05,494.0 583.05,494.0 583.05,535.6 V553.6" stroke="#EEE0A8" stroke-width="0.55" fill="none" stroke-opacity="0.65"/>
<path d="M628.93,430.4 V452.4 C628.93,494.0 583.95,494.0 583.95,535.6 V553.6" stroke="#EEE0A8" stroke-width="0.55" fill="none" stroke-opacity="0.65"/>
<path d="M619.71,430.4 V452.4 C619.71,494.0 647.25,494.0 647.25,535.6 V553.6" stroke="#EFC9A0" stroke-width="0.55" fill="none" stroke-opacity="0.65"/>
<path d="M638.58,430.4 V452.4 C638.58,494.0 647.75,494.0 647.75,535.6 V553.6" stroke="#EFC9A0" stroke-width="0.55" fill="none" stroke-opacity="0.65"/>
<path d="M493.49,430.4 V452.4 C493.49,494.0 660.85,494.0 660.85,535.6 V553.6" stroke="#EC9A82" stroke-width="0.55" fill="none" stroke-opacity="0.65"/>
<path d="M512.71,430.4 V452.4 C512.71,494.0 664.35,494.0 664.35,535.6 V553.6" stroke="#EC9A82" stroke-width="0.55" fill="none" stroke-opacity="0.65"/>
<path d="M493.90,430.4 V452.4 C493.90,494.0 667.55,494.0 667.55,535.6 V553.6" stroke="#EC9A82" stroke-width="0.55" fill="none" stroke-opacity="0.65"/>
<path d="M528.45,430.4 V452.4 C528.45,494.0 670.85,494.0 670.85,535.6 V553.6" stroke="#EC9A82" stroke-width="0.55" fill="none" stroke-opacity="0.65"/>
<path d="M560.72,430.4 V452.4 C560.72,494.0 674.15,494.0 674.15,535.6 V553.6" stroke="#EC9A82" stroke-width="0.55" fill="none" stroke-opacity="0.65"/>
<path d="M513.17,430.4 V452.4 C513.17,494.0 677.35,494.0 677.35,535.6 V553.6" stroke="#EC9A82" stroke-width="0.55" fill="none" stroke-opacity="0.65"/>
<path d="M561.17,430.4 V452.4 C561.17,494.0 680.55,494.0 680.55,535.6 V553.6" stroke="#EC9A82" stroke-width="0.55" fill="none" stroke-opacity="0.65"/>
<path d="M494.30,430.4 V452.4 C494.30,494.0 683.75,494.0 683.75,535.6 V553.6" stroke="#EC9A82" stroke-width="0.55" fill="none" stroke-opacity="0.65"/>
<rect x="482.30" y="428.90" width="12.20" height="1.60" fill="#C56BA6"/>
<rect x="498.00" y="428.90" width="15.40" height="1.60" fill="#D78FC3"/>
<rect x="517.30" y="428.90" width="11.40" height="1.60" fill="#DFA6D2"/>
<rect x="533.00" y="428.90" width="28.40" height="1.60" fill="#C886C4"/>
<rect x="565.50" y="428.90" width="6.10" height="1.60" fill="#45399C"/>
<rect x="575.00" y="428.90" width="5.90" height="1.60" fill="#8A7AC4"/>
<rect x="584.80" y="428.90" width="13.70" height="1.60" fill="#4A72BA"/>
<rect x="602.40" y="428.90" width="17.60" height="1.60" fill="#3A98D8"/>
<rect x="624.00" y="428.90" width="14.80" height="1.60" fill="#5CBDE9"/>
<rect x="437.00" y="553.30" width="1.60" height="1.50" fill="#E27A9A"/>
<text x="440.30" y="556.20" font-size="7.1" text-anchor="end" fill="#111" stroke="#111" stroke-width="0.22" transform="rotate(-90 440.30 556.20)">TNFSF10</text>
<rect x="441.00" y="553.30" width="0.80" height="1.50" fill="#E59AB5"/>
<rect x="444.20" y="553.30" width="0.80" height="1.50" fill="#E59AB5"/>
<rect x="447.00" y="553.30" width="1.60" height="1.50" fill="#E8A5C0"/>
<rect x="452.80" y="553.30" width="9.50" height="1.50" fill="#EBC3D9"/>
<text x="460.05" y="556.20" font-size="7.1" text-anchor="end" fill="#111" stroke="#111" stroke-width="0.22" transform="rotate(-90 460.05 556.20)">PLAUR</text>
<rect x="464.50" y="553.30" width="0.80" height="1.50" fill="#D98FBE"/>
<rect x="468.00" y="553.30" width="0.80" height="1.50" fill="#D99BC8"/>
<rect x="472.50" y="553.30" width="0.80" height="1.50" fill="#D9A4D0"/>
<rect x="479.60" y="553.30" width="1.40" height="1.50" fill="#CDB0D9"/>
<text x="482.80" y="556.20" font-size="7.1" text-anchor="end" fill="#111" stroke="#111" stroke-width="0.22" transform="rotate(-90 482.80 556.20)">ITGB1</text>
<rect x="485.30" y="553.30" width="1.40" height="1.50" fill="#C9AAD8"/>
<text x="488.50" y="556.20" font-size="7.1" text-anchor="end" fill="#111" stroke="#111" stroke-width="0.22" transform="rotate(-90 488.50 556.20)">ITGA2</text>
<rect x="491.00" y="553.30" width="1.40" height="1.50" fill="#B7A0D6"/>
<text x="494.20" y="556.20" font-size="7.1" text-anchor="end" fill="#111" stroke="#111" stroke-width="0.22" transform="rotate(-90 494.20 556.20)">IL1R2</text>
<rect x="497.40" y="553.30" width="7.60" height="1.50" fill="#C7B8E0"/>
<text x="503.70" y="556.20" font-size="7.1" text-anchor="end" fill="#111" stroke="#111" stroke-width="0.22" transform="rotate(-90 503.70 556.20)">IL1B</text>
<rect x="508.00" y="553.30" width="0.80" height="1.50" fill="#B8B0DC"/>
<rect x="511.50" y="553.30" width="0.80" height="1.50" fill="#BDB8E0"/>
<rect x="515.50" y="553.30" width="0.80" height="1.50" fill="#B8C0E0"/>
<rect x="521.00" y="553.30" width="0.80" height="1.50" fill="#A9C4DA"/>
<rect x="526.80" y="553.30" width="14.20" height="1.50" fill="#A3C7D5"/>
<text x="536.40" y="556.20" font-size="7.1" text-anchor="end" fill="#111" stroke="#111" stroke-width="0.22" transform="rotate(-90 536.40 556.20)">CXCL8</text>
<rect x="544.80" y="553.30" width="5.70" height="1.50" fill="#B2D0DC"/>
<text x="550.15" y="556.20" font-size="7.1" text-anchor="end" fill="#111" stroke="#111" stroke-width="0.22" transform="rotate(-90 550.15 556.20)">CXCL10</text>
<rect x="553.50" y="553.30" width="0.80" height="1.50" fill="#A8D0C0"/>
<rect x="557.50" y="553.30" width="0.80" height="1.50" fill="#9FD0B4"/>
<rect x="562.80" y="553.30" width="1.40" height="1.50" fill="#86C3A0"/>
<text x="566.00" y="556.20" font-size="7.1" text-anchor="end" fill="#111" stroke="#111" stroke-width="0.22" transform="rotate(-90 566.00 556.20)">CCRL2</text>
<rect x="569.50" y="553.30" width="1.40" height="1.50" fill="#A3CCA6"/>
<text x="572.70" y="556.20" font-size="7.1" text-anchor="end" fill="#111" stroke="#111" stroke-width="0.22" transform="rotate(-90 572.70 556.20)">CCR1</text>
<rect x="576.00" y="553.30" width="1.60" height="1.50" fill="#D9DDAA"/>
<text x="579.30" y="556.20" font-size="7.1" text-anchor="end" fill="#111" stroke="#111" stroke-width="0.22" transform="rotate(-90 579.30 556.20)">CCL8</text>
<rect x="582.60" y="553.30" width="1.80" height="1.50" fill="#EEE0A8"/>
<text x="586.00" y="556.20" font-size="7.1" text-anchor="end" fill="#111" stroke="#111" stroke-width="0.22" transform="rotate(-90 586.00 556.20)">CCL7</text>
<rect x="590.10" y="553.30" width="10.40" height="1.50" fill="#EFDD98"/>
<text x="597.80" y="556.20" font-size="7.1" text-anchor="end" fill="#111" stroke="#111" stroke-width="0.22" transform="rotate(-90 597.80 556.20)">CCL4</text>
<rect x="604.70" y="553.30" width="5.70" height="1.50" fill="#ABA285"/>
<text x="610.05" y="556.20" font-size="7.1" text-anchor="end" fill="#111" stroke="#111" stroke-width="0.22" transform="rotate(-90 610.05 556.20)">CCL3L1</text>
<rect x="614.20" y="553.30" width="11.40" height="1.50" fill="#CDAE5A"/>
<text x="622.40" y="556.20" font-size="7.1" text-anchor="end" fill="#111" stroke="#111" stroke-width="0.22" transform="rotate(-90 622.40 556.20)">CCL3</text>
<rect x="630.00" y="553.30" width="14.20" height="1.50" fill="#F4E4B8"/>
<text x="639.60" y="556.20" font-size="7.1" text-anchor="end" fill="#111" stroke="#111" stroke-width="0.22" transform="rotate(-90 639.60 556.20)">CCL2</text>
<rect x="647.00" y="553.30" width="1.00" height="1.50" fill="#EFC9A0"/>
<rect x="650.80" y="553.30" width="6.70" height="1.50" fill="#DCC4A6"/>
<text x="656.65" y="556.20" font-size="7.1" text-anchor="end" fill="#111" stroke="#111" stroke-width="0.22" transform="rotate(-90 656.65 556.20)">B2M</text>
<rect x="660.50" y="553.30" width="0.70" height="1.50" fill="#EC9A82"/>
<rect x="664.00" y="553.30" width="0.70" height="1.50" fill="#EC9A82"/>
<rect x="667.20" y="553.30" width="0.70" height="1.50" fill="#EC9A82"/>
<rect x="670.50" y="553.30" width="0.70" height="1.50" fill="#EC9A82"/>
<rect x="673.80" y="553.30" width="0.70" height="1.50" fill="#EC9A82"/>
<rect x="677.00" y="553.30" width="0.70" height="1.50" fill="#EC9A82"/>
<rect x="680.20" y="553.30" width="0.70" height="1.50" fill="#EC9A82"/>
<rect x="683.40" y="553.30" width="0.70" height="1.50" fill="#EC9A82"/>
<text x="447.60" y="591.70" font-size="7.2" fill="#C0578F" stroke="#C0578F" stroke-width="0.22">TNF−α via NF−kB</text>
<text x="447.60" y="600.80" font-size="7.2" fill="#D99ACA" stroke="#D99ACA" stroke-width="0.22">IL−1 Response</text>
<text x="447.60" y="609.90" font-size="7.2" fill="#E0B0D8" stroke="#E0B0D8" stroke-width="0.22">IFN Response</text>
<text x="519.60" y="591.70" font-size="7.2" fill="#C784C0" stroke="#C784C0" stroke-width="0.22">Inflammatory Response</text>
<text x="519.60" y="600.80" font-size="7.2" fill="#4B3FA0" stroke="#4B3FA0" stroke-width="0.22">IL−6/JAK/STAT3</text>
<text x="519.60" y="609.90" font-size="7.2" fill="#8C80C4" stroke="#8C80C4" stroke-width="0.22">IL−2/STAT5</text>
<text x="610.00" y="591.70" font-size="7.2" fill="#4A72B8" stroke="#4A72B8" stroke-width="0.22">EMT</text>
<text x="610.00" y="600.80" font-size="7.2" fill="#3D9AD8" stroke="#3D9AD8" stroke-width="0.22">Cytokine−Mediated</text>
<text x="610.00" y="609.90" font-size="7.2" fill="#63BEE8" stroke="#63BEE8" stroke-width="0.22">Chemokine−Mediated</text>
</svg>
</body></html>
